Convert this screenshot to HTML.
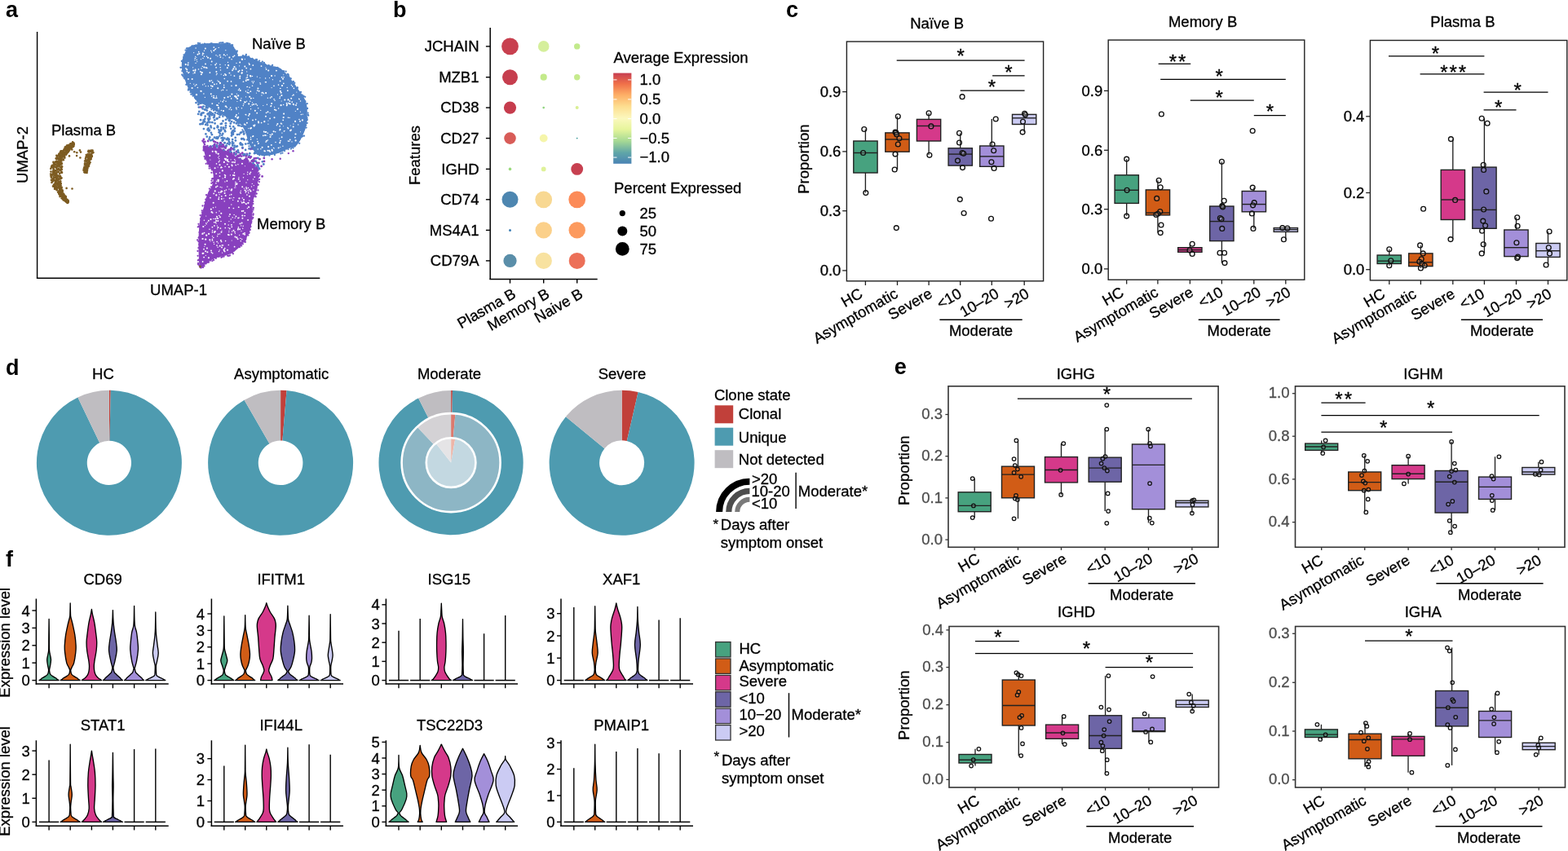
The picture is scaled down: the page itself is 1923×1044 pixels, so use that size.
<!DOCTYPE html>
<html><head><meta charset="utf-8"><title>Figure</title>
<style>html,body{margin:0;padding:0;background:#fff;overflow:hidden;}svg{display:block;}text{font-family:'Liberation Sans', Arial, sans-serif;}</style>
</head><body>
<svg width="1923" height="1044" viewBox="0 0 1923 1044">
<rect width="1923" height="1044" fill="#fff"/>
<path d="M223.8,73.1 C224.8,69.5 226.7,64.4 228.7,61.6 C230.7,58.7 232.8,57.1 235.9,55.8 C239.0,54.5 243.1,54.3 247.4,53.8 C251.7,53.3 257.0,52.9 261.8,52.9 C266.5,52.9 272.2,53.3 276.1,53.8 C280.1,54.3 283.2,54.3 285.3,55.8 C287.5,57.3 288.0,60.8 289.1,63.0 C290.2,65.2 289.8,67.9 291.9,68.8 C294.1,69.6 299.1,67.7 302.0,68.2 C304.9,68.7 306.3,70.3 309.2,71.6 C312.1,72.9 315.7,74.5 319.3,75.9 C322.9,77.4 326.9,79.1 330.8,80.3 C334.6,81.5 338.9,81.5 342.3,83.1 C345.6,84.8 348.2,87.7 350.9,90.3 C353.5,93.0 355.7,95.8 358.1,98.9 C360.5,102.1 362.9,105.7 365.3,109.0 C367.7,112.4 370.6,115.7 372.4,119.1 C374.3,122.4 375.5,125.1 376.2,129.1 C376.9,133.2 376.9,139.2 376.8,143.5 C376.6,147.8 376.0,151.7 375.3,155.0 C374.6,158.4 373.6,160.8 372.4,163.6 C371.3,166.5 369.8,169.6 368.1,172.3 C366.5,174.9 364.7,177.9 362.4,179.4 C360.1,181.0 357.2,180.6 354.3,181.7 C351.5,182.9 348.6,185.2 345.1,186.6 C341.7,188.0 337.2,189.4 333.6,190.1 C330.0,190.8 326.4,190.9 323.6,190.7 C320.8,190.4 319.1,189.4 317.0,188.4 C314.8,187.3 312.6,186.5 310.6,184.3 C308.6,182.1 306.4,178.6 304.9,175.1 C303.3,171.7 302.9,167.2 301.4,163.6 C300.0,160.0 298.1,156.1 296.3,153.6 C294.4,151.1 292.9,150.1 290.5,148.7 C288.1,147.2 284.7,146.2 281.9,144.9 C279.1,143.7 276.7,142.6 273.8,141.2 C271.0,139.8 267.6,137.9 264.6,136.3 C261.7,134.7 258.9,133.0 256.0,131.4 C253.1,129.9 249.9,128.4 247.4,126.8 C244.9,125.3 243.1,123.9 241.1,121.9 C239.0,120.0 237.1,117.9 235.3,115.3 C233.5,112.8 231.7,110.2 230.1,106.7 C228.5,103.3 227.0,98.6 225.8,94.6 C224.6,90.7 223.3,86.7 222.9,83.1 C222.6,79.5 222.8,76.7 223.8,73.1 Z" fill="#5082C6" stroke="none" stroke-width="1.2"/>
<path d="M250.0,180.0 C252.2,178.9 259.5,180.6 264.5,181.6 C269.5,182.5 275.7,184.0 280.0,185.9 C284.3,187.7 286.6,190.7 290.3,192.8 C294.1,194.8 298.7,196.4 302.4,198.3 C306.1,200.1 310.3,201.1 312.8,204.0 C315.2,206.8 316.5,212.0 317.1,215.2 C317.6,218.3 316.5,220.1 316.2,222.9 C315.9,225.8 316.1,229.1 315.3,232.4 C314.5,235.7 312.3,239.3 311.4,242.8 C310.4,246.2 310.0,249.7 309.7,253.1 C309.3,256.6 309.5,260.0 309.3,263.4 C309.1,266.9 309.0,270.3 308.4,273.8 C307.9,277.2 307.2,280.7 305.9,284.1 C304.6,287.6 302.7,291.3 300.7,294.5 C298.7,297.6 296.4,300.5 293.8,303.1 C291.2,305.7 288.0,308.3 285.2,310.0 C282.3,311.7 279.4,312.5 276.6,313.4 C273.7,314.4 270.8,314.6 267.9,315.5 C265.1,316.4 261.9,317.6 259.3,319.0 C256.7,320.3 254.4,322.3 252.4,323.8 C250.4,325.3 248.5,327.6 247.2,328.1 C245.9,328.6 245.2,329.1 244.7,326.9 C244.1,324.7 244.0,320.0 243.8,315.2 C243.6,310.3 243.4,303.7 243.4,297.9 C243.5,292.2 243.7,285.9 244.1,280.7 C244.5,275.5 245.0,270.9 245.9,266.9 C246.7,262.9 248.2,260.6 249.3,256.6 C250.5,252.5 251.6,246.5 252.8,242.8 C253.9,239.0 255.1,236.4 256.2,234.1 C257.4,231.8 258.7,231.5 259.7,229.0 C260.6,226.4 261.6,222.4 261.7,219.0 C261.8,215.5 261.6,211.5 260.3,208.3 C259.1,205.1 255.7,203.0 254.1,199.7 C252.6,196.3 251.7,191.6 251.0,188.3 C250.3,185.0 247.8,181.1 250.0,180.0 Z" fill="#8840BE" stroke="none" stroke-width="1.2"/>
<circle cx="260.4" cy="171.9" r="1.40" fill="#5082C6" stroke="none" stroke-width="1.2"/>
<circle cx="271.6" cy="177.2" r="1.40" fill="#5082C6" stroke="none" stroke-width="1.2"/>
<circle cx="262.2" cy="144.3" r="1.40" fill="#5082C6" stroke="none" stroke-width="1.2"/>
<circle cx="304.5" cy="176.1" r="1.40" fill="#5082C6" stroke="none" stroke-width="1.2"/>
<circle cx="251.7" cy="142.7" r="1.40" fill="#5082C6" stroke="none" stroke-width="1.2"/>
<circle cx="283.2" cy="157.8" r="1.40" fill="#5082C6" stroke="none" stroke-width="1.2"/>
<circle cx="270.0" cy="175.5" r="1.40" fill="#5082C6" stroke="none" stroke-width="1.2"/>
<circle cx="256.9" cy="159.7" r="1.40" fill="#5082C6" stroke="none" stroke-width="1.2"/>
<circle cx="279.2" cy="169.7" r="1.40" fill="#5082C6" stroke="none" stroke-width="1.2"/>
<circle cx="294.8" cy="176.5" r="1.40" fill="#5082C6" stroke="none" stroke-width="1.2"/>
<circle cx="287.6" cy="178.7" r="1.40" fill="#5082C6" stroke="none" stroke-width="1.2"/>
<circle cx="260.3" cy="150.2" r="1.40" fill="#5082C6" stroke="none" stroke-width="1.2"/>
<circle cx="275.4" cy="175.1" r="1.40" fill="#5082C6" stroke="none" stroke-width="1.2"/>
<circle cx="293.4" cy="164.9" r="1.40" fill="#5082C6" stroke="none" stroke-width="1.2"/>
<circle cx="300.2" cy="189.2" r="1.40" fill="#5082C6" stroke="none" stroke-width="1.2"/>
<circle cx="278.9" cy="176.2" r="1.40" fill="#5082C6" stroke="none" stroke-width="1.2"/>
<circle cx="267.3" cy="155.8" r="1.40" fill="#5082C6" stroke="none" stroke-width="1.2"/>
<circle cx="266.7" cy="156.3" r="1.40" fill="#5082C6" stroke="none" stroke-width="1.2"/>
<circle cx="260.4" cy="140.1" r="1.40" fill="#5082C6" stroke="none" stroke-width="1.2"/>
<circle cx="248.8" cy="152.1" r="1.40" fill="#5082C6" stroke="none" stroke-width="1.2"/>
<circle cx="254.5" cy="153.4" r="1.40" fill="#5082C6" stroke="none" stroke-width="1.2"/>
<circle cx="278.5" cy="143.4" r="1.40" fill="#5082C6" stroke="none" stroke-width="1.2"/>
<circle cx="294.6" cy="195.2" r="1.40" fill="#5082C6" stroke="none" stroke-width="1.2"/>
<circle cx="251.2" cy="149.4" r="1.40" fill="#5082C6" stroke="none" stroke-width="1.2"/>
<circle cx="269.6" cy="160.5" r="1.40" fill="#5082C6" stroke="none" stroke-width="1.2"/>
<circle cx="275.8" cy="159.9" r="1.40" fill="#5082C6" stroke="none" stroke-width="1.2"/>
<circle cx="303.4" cy="198.0" r="1.40" fill="#8840BE" stroke="none" stroke-width="1.2"/>
<circle cx="284.2" cy="149.1" r="1.40" fill="#5082C6" stroke="none" stroke-width="1.2"/>
<circle cx="269.1" cy="143.7" r="1.40" fill="#5082C6" stroke="none" stroke-width="1.2"/>
<circle cx="316.2" cy="203.6" r="1.40" fill="#5082C6" stroke="none" stroke-width="1.2"/>
<circle cx="254.8" cy="150.1" r="1.40" fill="#5082C6" stroke="none" stroke-width="1.2"/>
<circle cx="296.4" cy="170.2" r="1.40" fill="#5082C6" stroke="none" stroke-width="1.2"/>
<circle cx="292.1" cy="153.8" r="1.40" fill="#5082C6" stroke="none" stroke-width="1.2"/>
<circle cx="270.0" cy="141.0" r="1.40" fill="#5082C6" stroke="none" stroke-width="1.2"/>
<circle cx="318.4" cy="195.2" r="1.40" fill="#8840BE" stroke="none" stroke-width="1.2"/>
<circle cx="263.2" cy="147.3" r="1.40" fill="#5082C6" stroke="none" stroke-width="1.2"/>
<circle cx="284.9" cy="161.1" r="1.40" fill="#5082C6" stroke="none" stroke-width="1.2"/>
<circle cx="251.0" cy="134.5" r="1.40" fill="#5082C6" stroke="none" stroke-width="1.2"/>
<circle cx="282.8" cy="151.5" r="1.40" fill="#5082C6" stroke="none" stroke-width="1.2"/>
<circle cx="266.9" cy="154.7" r="1.40" fill="#5082C6" stroke="none" stroke-width="1.2"/>
<circle cx="295.1" cy="175.7" r="1.40" fill="#5082C6" stroke="none" stroke-width="1.2"/>
<circle cx="270.8" cy="140.4" r="1.40" fill="#5082C6" stroke="none" stroke-width="1.2"/>
<circle cx="287.3" cy="187.2" r="1.40" fill="#5082C6" stroke="none" stroke-width="1.2"/>
<circle cx="247.0" cy="139.3" r="1.40" fill="#5082C6" stroke="none" stroke-width="1.2"/>
<circle cx="271.9" cy="177.3" r="1.40" fill="#5082C6" stroke="none" stroke-width="1.2"/>
<circle cx="276.8" cy="156.6" r="1.40" fill="#5082C6" stroke="none" stroke-width="1.2"/>
<circle cx="282.3" cy="186.0" r="1.40" fill="#5082C6" stroke="none" stroke-width="1.2"/>
<circle cx="299.1" cy="164.5" r="1.40" fill="#5082C6" stroke="none" stroke-width="1.2"/>
<circle cx="261.0" cy="171.1" r="1.40" fill="#5082C6" stroke="none" stroke-width="1.2"/>
<circle cx="276.2" cy="161.3" r="1.40" fill="#5082C6" stroke="none" stroke-width="1.2"/>
<circle cx="314.8" cy="206.9" r="1.40" fill="#5082C6" stroke="none" stroke-width="1.2"/>
<circle cx="316.3" cy="193.9" r="1.40" fill="#5082C6" stroke="none" stroke-width="1.2"/>
<circle cx="309.2" cy="182.4" r="1.40" fill="#8840BE" stroke="none" stroke-width="1.2"/>
<circle cx="307.4" cy="182.9" r="1.40" fill="#8840BE" stroke="none" stroke-width="1.2"/>
<circle cx="243.9" cy="131.6" r="1.40" fill="#5082C6" stroke="none" stroke-width="1.2"/>
<circle cx="283.6" cy="187.1" r="1.40" fill="#5082C6" stroke="none" stroke-width="1.2"/>
<circle cx="245.4" cy="152.3" r="1.40" fill="#5082C6" stroke="none" stroke-width="1.2"/>
<circle cx="260.7" cy="139.4" r="1.40" fill="#5082C6" stroke="none" stroke-width="1.2"/>
<circle cx="271.4" cy="158.7" r="1.40" fill="#5082C6" stroke="none" stroke-width="1.2"/>
<circle cx="269.9" cy="160.7" r="1.40" fill="#5082C6" stroke="none" stroke-width="1.2"/>
<circle cx="298.8" cy="190.8" r="1.40" fill="#8840BE" stroke="none" stroke-width="1.2"/>
<circle cx="284.0" cy="166.5" r="1.40" fill="#5082C6" stroke="none" stroke-width="1.2"/>
<circle cx="252.9" cy="131.9" r="1.40" fill="#5082C6" stroke="none" stroke-width="1.2"/>
<circle cx="284.1" cy="162.9" r="1.40" fill="#5082C6" stroke="none" stroke-width="1.2"/>
<circle cx="262.9" cy="141.1" r="1.40" fill="#5082C6" stroke="none" stroke-width="1.2"/>
<circle cx="289.9" cy="151.4" r="1.40" fill="#5082C6" stroke="none" stroke-width="1.2"/>
<circle cx="262.9" cy="142.8" r="1.40" fill="#5082C6" stroke="none" stroke-width="1.2"/>
<circle cx="270.8" cy="152.1" r="1.40" fill="#5082C6" stroke="none" stroke-width="1.2"/>
<circle cx="291.0" cy="165.1" r="1.40" fill="#5082C6" stroke="none" stroke-width="1.2"/>
<circle cx="311.0" cy="196.6" r="1.40" fill="#5082C6" stroke="none" stroke-width="1.2"/>
<circle cx="256.3" cy="146.4" r="1.40" fill="#5082C6" stroke="none" stroke-width="1.2"/>
<circle cx="313.0" cy="203.6" r="1.40" fill="#5082C6" stroke="none" stroke-width="1.2"/>
<circle cx="247.5" cy="131.6" r="1.40" fill="#5082C6" stroke="none" stroke-width="1.2"/>
<circle cx="270.4" cy="175.1" r="1.40" fill="#5082C6" stroke="none" stroke-width="1.2"/>
<circle cx="268.6" cy="162.3" r="1.40" fill="#5082C6" stroke="none" stroke-width="1.2"/>
<circle cx="273.3" cy="171.9" r="1.40" fill="#5082C6" stroke="none" stroke-width="1.2"/>
<circle cx="250.3" cy="147.9" r="1.40" fill="#5082C6" stroke="none" stroke-width="1.2"/>
<circle cx="315.4" cy="204.4" r="1.40" fill="#5082C6" stroke="none" stroke-width="1.2"/>
<circle cx="305.7" cy="190.9" r="1.40" fill="#5082C6" stroke="none" stroke-width="1.2"/>
<circle cx="297.5" cy="181.7" r="1.40" fill="#8840BE" stroke="none" stroke-width="1.2"/>
<circle cx="282.1" cy="154.8" r="1.40" fill="#5082C6" stroke="none" stroke-width="1.2"/>
<circle cx="301.1" cy="183.9" r="1.40" fill="#5082C6" stroke="none" stroke-width="1.2"/>
<circle cx="252.2" cy="152.9" r="1.40" fill="#5082C6" stroke="none" stroke-width="1.2"/>
<circle cx="301.3" cy="176.6" r="1.40" fill="#5082C6" stroke="none" stroke-width="1.2"/>
<circle cx="287.3" cy="181.1" r="1.40" fill="#5082C6" stroke="none" stroke-width="1.2"/>
<circle cx="266.7" cy="139.1" r="1.40" fill="#5082C6" stroke="none" stroke-width="1.2"/>
<circle cx="262.7" cy="157.6" r="1.40" fill="#5082C6" stroke="none" stroke-width="1.2"/>
<circle cx="268.4" cy="159.3" r="1.40" fill="#5082C6" stroke="none" stroke-width="1.2"/>
<circle cx="249.7" cy="147.5" r="1.40" fill="#5082C6" stroke="none" stroke-width="1.2"/>
<circle cx="248.6" cy="133.4" r="1.40" fill="#5082C6" stroke="none" stroke-width="1.2"/>
<circle cx="306.3" cy="188.2" r="1.40" fill="#5082C6" stroke="none" stroke-width="1.2"/>
<circle cx="256.2" cy="160.5" r="1.40" fill="#5082C6" stroke="none" stroke-width="1.2"/>
<circle cx="303.2" cy="196.1" r="1.40" fill="#8840BE" stroke="none" stroke-width="1.2"/>
<circle cx="284.9" cy="174.0" r="1.40" fill="#5082C6" stroke="none" stroke-width="1.2"/>
<circle cx="257.3" cy="145.7" r="1.40" fill="#5082C6" stroke="none" stroke-width="1.2"/>
<circle cx="308.3" cy="202.8" r="1.40" fill="#8840BE" stroke="none" stroke-width="1.2"/>
<circle cx="272.7" cy="172.6" r="1.40" fill="#5082C6" stroke="none" stroke-width="1.2"/>
<circle cx="289.6" cy="179.9" r="1.40" fill="#5082C6" stroke="none" stroke-width="1.2"/>
<circle cx="281.2" cy="177.0" r="1.40" fill="#5082C6" stroke="none" stroke-width="1.2"/>
<circle cx="305.5" cy="182.4" r="1.40" fill="#5082C6" stroke="none" stroke-width="1.2"/>
<circle cx="284.6" cy="164.4" r="1.40" fill="#5082C6" stroke="none" stroke-width="1.2"/>
<circle cx="256.6" cy="170.6" r="1.40" fill="#5082C6" stroke="none" stroke-width="1.2"/>
<circle cx="295.0" cy="163.0" r="1.40" fill="#5082C6" stroke="none" stroke-width="1.2"/>
<circle cx="246.8" cy="141.2" r="1.40" fill="#5082C6" stroke="none" stroke-width="1.2"/>
<circle cx="253.8" cy="167.7" r="1.40" fill="#5082C6" stroke="none" stroke-width="1.2"/>
<circle cx="299.5" cy="171.3" r="1.40" fill="#5082C6" stroke="none" stroke-width="1.2"/>
<circle cx="276.0" cy="181.2" r="1.40" fill="#5082C6" stroke="none" stroke-width="1.2"/>
<circle cx="271.3" cy="156.4" r="1.40" fill="#5082C6" stroke="none" stroke-width="1.2"/>
<circle cx="285.1" cy="176.5" r="1.40" fill="#5082C6" stroke="none" stroke-width="1.2"/>
<circle cx="252.4" cy="164.4" r="1.40" fill="#5082C6" stroke="none" stroke-width="1.2"/>
<circle cx="256.8" cy="142.0" r="1.40" fill="#5082C6" stroke="none" stroke-width="1.2"/>
<circle cx="254.7" cy="159.4" r="1.40" fill="#5082C6" stroke="none" stroke-width="1.2"/>
<circle cx="249.5" cy="138.4" r="1.40" fill="#5082C6" stroke="none" stroke-width="1.2"/>
<circle cx="265.7" cy="145.7" r="1.40" fill="#5082C6" stroke="none" stroke-width="1.2"/>
<circle cx="293.5" cy="154.1" r="1.40" fill="#5082C6" stroke="none" stroke-width="1.2"/>
<circle cx="240.5" cy="126.1" r="1.40" fill="#5082C6" stroke="none" stroke-width="1.2"/>
<circle cx="247.9" cy="138.6" r="1.40" fill="#5082C6" stroke="none" stroke-width="1.2"/>
<circle cx="243.3" cy="128.2" r="1.40" fill="#5082C6" stroke="none" stroke-width="1.2"/>
<circle cx="318.0" cy="207.2" r="1.40" fill="#5082C6" stroke="none" stroke-width="1.2"/>
<circle cx="249.9" cy="158.1" r="1.40" fill="#5082C6" stroke="none" stroke-width="1.2"/>
<circle cx="302.9" cy="188.8" r="1.40" fill="#8840BE" stroke="none" stroke-width="1.2"/>
<circle cx="271.0" cy="160.3" r="1.40" fill="#5082C6" stroke="none" stroke-width="1.2"/>
<circle cx="281.0" cy="147.4" r="1.40" fill="#5082C6" stroke="none" stroke-width="1.2"/>
<circle cx="291.6" cy="186.7" r="1.40" fill="#5082C6" stroke="none" stroke-width="1.2"/>
<circle cx="316.3" cy="188.7" r="1.40" fill="#5082C6" stroke="none" stroke-width="1.2"/>
<circle cx="249.5" cy="130.6" r="1.40" fill="#5082C6" stroke="none" stroke-width="1.2"/>
<circle cx="244.3" cy="137.0" r="1.40" fill="#5082C6" stroke="none" stroke-width="1.2"/>
<circle cx="294.9" cy="175.6" r="1.40" fill="#5082C6" stroke="none" stroke-width="1.2"/>
<circle cx="287.9" cy="160.8" r="1.40" fill="#5082C6" stroke="none" stroke-width="1.2"/>
<circle cx="256.1" cy="139.2" r="1.40" fill="#5082C6" stroke="none" stroke-width="1.2"/>
<circle cx="294.6" cy="191.2" r="1.40" fill="#8840BE" stroke="none" stroke-width="1.2"/>
<circle cx="269.5" cy="177.1" r="1.40" fill="#5082C6" stroke="none" stroke-width="1.2"/>
<circle cx="285.9" cy="164.8" r="1.40" fill="#5082C6" stroke="none" stroke-width="1.2"/>
<circle cx="269.5" cy="166.6" r="1.40" fill="#5082C6" stroke="none" stroke-width="1.2"/>
<circle cx="295.2" cy="177.4" r="1.40" fill="#5082C6" stroke="none" stroke-width="1.2"/>
<circle cx="258.4" cy="154.6" r="1.40" fill="#5082C6" stroke="none" stroke-width="1.2"/>
<circle cx="258.7" cy="138.1" r="1.40" fill="#5082C6" stroke="none" stroke-width="1.2"/>
<circle cx="285.6" cy="160.7" r="1.40" fill="#5082C6" stroke="none" stroke-width="1.2"/>
<circle cx="320.6" cy="203.9" r="1.40" fill="#8840BE" stroke="none" stroke-width="1.2"/>
<circle cx="265.2" cy="169.7" r="1.40" fill="#5082C6" stroke="none" stroke-width="1.2"/>
<circle cx="276.9" cy="154.1" r="1.40" fill="#5082C6" stroke="none" stroke-width="1.2"/>
<circle cx="303.1" cy="189.9" r="1.40" fill="#5082C6" stroke="none" stroke-width="1.2"/>
<circle cx="249.0" cy="150.1" r="1.40" fill="#5082C6" stroke="none" stroke-width="1.2"/>
<circle cx="323.3" cy="201.5" r="1.40" fill="#5082C6" stroke="none" stroke-width="1.2"/>
<circle cx="253.9" cy="151.2" r="1.40" fill="#5082C6" stroke="none" stroke-width="1.2"/>
<circle cx="279.5" cy="170.3" r="1.40" fill="#5082C6" stroke="none" stroke-width="1.2"/>
<circle cx="286.2" cy="155.4" r="1.40" fill="#5082C6" stroke="none" stroke-width="1.2"/>
<circle cx="285.2" cy="171.1" r="1.40" fill="#5082C6" stroke="none" stroke-width="1.2"/>
<circle cx="243.2" cy="139.9" r="1.40" fill="#5082C6" stroke="none" stroke-width="1.2"/>
<circle cx="266.6" cy="145.4" r="1.40" fill="#5082C6" stroke="none" stroke-width="1.2"/>
<circle cx="276.6" cy="179.3" r="1.40" fill="#5082C6" stroke="none" stroke-width="1.2"/>
<circle cx="263.9" cy="138.4" r="1.40" fill="#5082C6" stroke="none" stroke-width="1.2"/>
<circle cx="316.3" cy="204.1" r="1.40" fill="#5082C6" stroke="none" stroke-width="1.2"/>
<circle cx="275.3" cy="169.6" r="1.40" fill="#5082C6" stroke="none" stroke-width="1.2"/>
<circle cx="254.7" cy="139.7" r="1.40" fill="#5082C6" stroke="none" stroke-width="1.2"/>
<circle cx="286.6" cy="159.8" r="1.40" fill="#5082C6" stroke="none" stroke-width="1.2"/>
<circle cx="270.0" cy="163.9" r="1.40" fill="#5082C6" stroke="none" stroke-width="1.2"/>
<circle cx="266.9" cy="169.9" r="1.40" fill="#5082C6" stroke="none" stroke-width="1.2"/>
<circle cx="288.9" cy="172.4" r="1.40" fill="#5082C6" stroke="none" stroke-width="1.2"/>
<circle cx="281.5" cy="148.3" r="1.40" fill="#5082C6" stroke="none" stroke-width="1.2"/>
<circle cx="271.7" cy="169.3" r="1.40" fill="#5082C6" stroke="none" stroke-width="1.2"/>
<circle cx="316.2" cy="209.0" r="1.40" fill="#8840BE" stroke="none" stroke-width="1.2"/>
<circle cx="255.6" cy="157.5" r="1.40" fill="#5082C6" stroke="none" stroke-width="1.2"/>
<circle cx="273.5" cy="148.5" r="1.40" fill="#5082C6" stroke="none" stroke-width="1.2"/>
<circle cx="251.3" cy="145.7" r="1.40" fill="#5082C6" stroke="none" stroke-width="1.2"/>
<circle cx="259.7" cy="141.2" r="1.40" fill="#5082C6" stroke="none" stroke-width="1.2"/>
<circle cx="303.2" cy="198.1" r="1.40" fill="#8840BE" stroke="none" stroke-width="1.2"/>
<circle cx="246.1" cy="147.2" r="1.40" fill="#5082C6" stroke="none" stroke-width="1.2"/>
<circle cx="281.1" cy="147.3" r="1.40" fill="#5082C6" stroke="none" stroke-width="1.2"/>
<circle cx="297.4" cy="181.0" r="1.40" fill="#5082C6" stroke="none" stroke-width="1.2"/>
<circle cx="255.1" cy="140.3" r="1.40" fill="#5082C6" stroke="none" stroke-width="1.2"/>
<circle cx="310.0" cy="201.4" r="1.40" fill="#5082C6" stroke="none" stroke-width="1.2"/>
<circle cx="252.5" cy="134.7" r="1.40" fill="#5082C6" stroke="none" stroke-width="1.2"/>
<circle cx="246.7" cy="140.5" r="1.40" fill="#5082C6" stroke="none" stroke-width="1.2"/>
<circle cx="279.6" cy="171.3" r="1.40" fill="#5082C6" stroke="none" stroke-width="1.2"/>
<circle cx="277.7" cy="171.0" r="1.40" fill="#5082C6" stroke="none" stroke-width="1.2"/>
<circle cx="321.9" cy="198.3" r="1.40" fill="#5082C6" stroke="none" stroke-width="1.2"/>
<circle cx="262.7" cy="141.4" r="1.40" fill="#5082C6" stroke="none" stroke-width="1.2"/>
<circle cx="314.0" cy="194.2" r="1.40" fill="#8840BE" stroke="none" stroke-width="1.2"/>
<circle cx="298.3" cy="170.2" r="1.40" fill="#5082C6" stroke="none" stroke-width="1.2"/>
<circle cx="286.0" cy="162.7" r="1.40" fill="#5082C6" stroke="none" stroke-width="1.2"/>
<circle cx="267.6" cy="168.5" r="1.40" fill="#5082C6" stroke="none" stroke-width="1.2"/>
<circle cx="271.9" cy="151.7" r="1.40" fill="#5082C6" stroke="none" stroke-width="1.2"/>
<circle cx="270.6" cy="177.0" r="1.40" fill="#5082C6" stroke="none" stroke-width="1.2"/>
<circle cx="313.3" cy="197.8" r="1.40" fill="#5082C6" stroke="none" stroke-width="1.2"/>
<circle cx="280.7" cy="170.7" r="1.40" fill="#5082C6" stroke="none" stroke-width="1.2"/>
<circle cx="285.0" cy="162.7" r="1.40" fill="#5082C6" stroke="none" stroke-width="1.2"/>
<circle cx="258.4" cy="172.3" r="1.40" fill="#5082C6" stroke="none" stroke-width="1.2"/>
<circle cx="313.8" cy="186.8" r="1.40" fill="#5082C6" stroke="none" stroke-width="1.2"/>
<circle cx="265.7" cy="168.4" r="1.40" fill="#5082C6" stroke="none" stroke-width="1.2"/>
<circle cx="274.0" cy="156.6" r="1.40" fill="#5082C6" stroke="none" stroke-width="1.2"/>
<circle cx="258.8" cy="156.4" r="1.40" fill="#5082C6" stroke="none" stroke-width="1.2"/>
<circle cx="247.1" cy="152.0" r="1.40" fill="#5082C6" stroke="none" stroke-width="1.2"/>
<circle cx="310.5" cy="198.0" r="1.40" fill="#8840BE" stroke="none" stroke-width="1.2"/>
<circle cx="272.3" cy="165.8" r="1.40" fill="#5082C6" stroke="none" stroke-width="1.2"/>
<circle cx="255.8" cy="147.8" r="1.40" fill="#5082C6" stroke="none" stroke-width="1.2"/>
<circle cx="273.2" cy="169.0" r="1.40" fill="#5082C6" stroke="none" stroke-width="1.2"/>
<circle cx="276.9" cy="179.4" r="1.40" fill="#5082C6" stroke="none" stroke-width="1.2"/>
<circle cx="296.2" cy="162.3" r="1.40" fill="#5082C6" stroke="none" stroke-width="1.2"/>
<circle cx="275.7" cy="175.3" r="1.40" fill="#5082C6" stroke="none" stroke-width="1.2"/>
<circle cx="259.9" cy="165.2" r="1.40" fill="#5082C6" stroke="none" stroke-width="1.2"/>
<circle cx="296.3" cy="170.5" r="1.40" fill="#5082C6" stroke="none" stroke-width="1.2"/>
<circle cx="257.4" cy="150.0" r="1.40" fill="#5082C6" stroke="none" stroke-width="1.2"/>
<circle cx="285.3" cy="178.6" r="1.40" fill="#5082C6" stroke="none" stroke-width="1.2"/>
<circle cx="317.4" cy="199.8" r="1.40" fill="#8840BE" stroke="none" stroke-width="1.2"/>
<circle cx="276.9" cy="151.2" r="1.40" fill="#5082C6" stroke="none" stroke-width="1.2"/>
<circle cx="258.2" cy="140.0" r="1.40" fill="#5082C6" stroke="none" stroke-width="1.2"/>
<circle cx="274.2" cy="158.1" r="1.40" fill="#5082C6" stroke="none" stroke-width="1.2"/>
<circle cx="255.3" cy="145.7" r="1.40" fill="#5082C6" stroke="none" stroke-width="1.2"/>
<circle cx="258.9" cy="162.8" r="1.40" fill="#5082C6" stroke="none" stroke-width="1.2"/>
<circle cx="297.1" cy="177.7" r="1.40" fill="#5082C6" stroke="none" stroke-width="1.2"/>
<circle cx="273.6" cy="171.5" r="1.40" fill="#5082C6" stroke="none" stroke-width="1.2"/>
<circle cx="290.9" cy="179.4" r="1.40" fill="#5082C6" stroke="none" stroke-width="1.2"/>
<circle cx="306.9" cy="200.0" r="1.40" fill="#5082C6" stroke="none" stroke-width="1.2"/>
<circle cx="280.7" cy="171.5" r="1.40" fill="#5082C6" stroke="none" stroke-width="1.2"/>
<circle cx="282.0" cy="175.3" r="1.40" fill="#5082C6" stroke="none" stroke-width="1.2"/>
<circle cx="287.1" cy="150.4" r="1.40" fill="#5082C6" stroke="none" stroke-width="1.2"/>
<circle cx="315.9" cy="202.2" r="1.40" fill="#5082C6" stroke="none" stroke-width="1.2"/>
<circle cx="324.0" cy="197.9" r="1.40" fill="#8840BE" stroke="none" stroke-width="1.2"/>
<circle cx="297.7" cy="188.9" r="1.40" fill="#5082C6" stroke="none" stroke-width="1.2"/>
<circle cx="280.8" cy="173.9" r="1.40" fill="#5082C6" stroke="none" stroke-width="1.2"/>
<circle cx="287.9" cy="157.7" r="1.40" fill="#5082C6" stroke="none" stroke-width="1.2"/>
<circle cx="254.8" cy="158.5" r="1.40" fill="#5082C6" stroke="none" stroke-width="1.2"/>
<circle cx="256.8" cy="159.8" r="1.40" fill="#5082C6" stroke="none" stroke-width="1.2"/>
<circle cx="257.3" cy="168.4" r="1.40" fill="#5082C6" stroke="none" stroke-width="1.2"/>
<circle cx="254.4" cy="132.4" r="1.40" fill="#5082C6" stroke="none" stroke-width="1.2"/>
<circle cx="263.6" cy="151.4" r="1.40" fill="#5082C6" stroke="none" stroke-width="1.2"/>
<circle cx="277.0" cy="146.8" r="1.40" fill="#5082C6" stroke="none" stroke-width="1.2"/>
<circle cx="288.7" cy="168.9" r="1.40" fill="#5082C6" stroke="none" stroke-width="1.2"/>
<circle cx="257.1" cy="143.3" r="1.40" fill="#5082C6" stroke="none" stroke-width="1.2"/>
<circle cx="323.8" cy="193.9" r="1.40" fill="#8840BE" stroke="none" stroke-width="1.2"/>
<circle cx="299.9" cy="190.3" r="1.40" fill="#5082C6" stroke="none" stroke-width="1.2"/>
<circle cx="263.0" cy="168.7" r="1.40" fill="#5082C6" stroke="none" stroke-width="1.2"/>
<circle cx="298.5" cy="161.5" r="1.40" fill="#5082C6" stroke="none" stroke-width="1.2"/>
<circle cx="286.3" cy="175.6" r="1.40" fill="#5082C6" stroke="none" stroke-width="1.2"/>
<circle cx="312.1" cy="188.2" r="1.40" fill="#5082C6" stroke="none" stroke-width="1.2"/>
<circle cx="257.4" cy="137.5" r="1.40" fill="#5082C6" stroke="none" stroke-width="1.2"/>
<circle cx="296.9" cy="177.2" r="1.40" fill="#5082C6" stroke="none" stroke-width="1.2"/>
<circle cx="253.9" cy="135.6" r="1.40" fill="#5082C6" stroke="none" stroke-width="1.2"/>
<circle cx="273.3" cy="164.0" r="1.40" fill="#5082C6" stroke="none" stroke-width="1.2"/>
<circle cx="272.3" cy="180.3" r="1.40" fill="#8840BE" stroke="none" stroke-width="1.2"/>
<circle cx="249.9" cy="170.8" r="1.40" fill="#8840BE" stroke="none" stroke-width="1.2"/>
<circle cx="302.6" cy="194.7" r="1.40" fill="#8840BE" stroke="none" stroke-width="1.2"/>
<circle cx="307.0" cy="193.6" r="1.40" fill="#8840BE" stroke="none" stroke-width="1.2"/>
<circle cx="294.3" cy="190.7" r="1.40" fill="#8840BE" stroke="none" stroke-width="1.2"/>
<circle cx="283.7" cy="181.4" r="1.40" fill="#5082C6" stroke="none" stroke-width="1.2"/>
<circle cx="283.1" cy="184.0" r="1.40" fill="#8840BE" stroke="none" stroke-width="1.2"/>
<circle cx="262.3" cy="173.5" r="1.40" fill="#8840BE" stroke="none" stroke-width="1.2"/>
<circle cx="248.6" cy="172.8" r="1.40" fill="#8840BE" stroke="none" stroke-width="1.2"/>
<circle cx="300.8" cy="196.5" r="1.40" fill="#8840BE" stroke="none" stroke-width="1.2"/>
<circle cx="283.2" cy="181.9" r="1.40" fill="#8840BE" stroke="none" stroke-width="1.2"/>
<circle cx="266.0" cy="178.2" r="1.40" fill="#8840BE" stroke="none" stroke-width="1.2"/>
<circle cx="290.0" cy="185.9" r="1.40" fill="#8840BE" stroke="none" stroke-width="1.2"/>
<circle cx="264.4" cy="180.5" r="1.40" fill="#8840BE" stroke="none" stroke-width="1.2"/>
<circle cx="304.9" cy="192.6" r="1.40" fill="#8840BE" stroke="none" stroke-width="1.2"/>
<circle cx="258.9" cy="179.9" r="1.40" fill="#5082C6" stroke="none" stroke-width="1.2"/>
<circle cx="279.4" cy="184.7" r="1.40" fill="#8840BE" stroke="none" stroke-width="1.2"/>
<circle cx="266.2" cy="180.2" r="1.40" fill="#5082C6" stroke="none" stroke-width="1.2"/>
<circle cx="289.6" cy="188.7" r="1.40" fill="#8840BE" stroke="none" stroke-width="1.2"/>
<circle cx="317.3" cy="205.8" r="1.40" fill="#5082C6" stroke="none" stroke-width="1.2"/>
<circle cx="263.2" cy="177.0" r="1.40" fill="#5082C6" stroke="none" stroke-width="1.2"/>
<circle cx="266.7" cy="175.5" r="1.40" fill="#8840BE" stroke="none" stroke-width="1.2"/>
<circle cx="273.6" cy="177.7" r="1.40" fill="#8840BE" stroke="none" stroke-width="1.2"/>
<circle cx="288.4" cy="189.1" r="1.40" fill="#8840BE" stroke="none" stroke-width="1.2"/>
<circle cx="305.0" cy="192.8" r="1.40" fill="#8840BE" stroke="none" stroke-width="1.2"/>
<circle cx="283.6" cy="187.9" r="1.40" fill="#8840BE" stroke="none" stroke-width="1.2"/>
<circle cx="250.2" cy="179.7" r="1.40" fill="#8840BE" stroke="none" stroke-width="1.2"/>
<circle cx="269.0" cy="180.8" r="1.40" fill="#8840BE" stroke="none" stroke-width="1.2"/>
<circle cx="302.2" cy="198.2" r="1.40" fill="#8840BE" stroke="none" stroke-width="1.2"/>
<circle cx="264.2" cy="174.3" r="1.40" fill="#8840BE" stroke="none" stroke-width="1.2"/>
<circle cx="292.6" cy="187.1" r="1.40" fill="#5082C6" stroke="none" stroke-width="1.2"/>
<circle cx="296.3" cy="191.6" r="1.40" fill="#8840BE" stroke="none" stroke-width="1.2"/>
<circle cx="261.3" cy="179.1" r="1.40" fill="#5082C6" stroke="none" stroke-width="1.2"/>
<circle cx="311.8" cy="194.5" r="1.40" fill="#8840BE" stroke="none" stroke-width="1.2"/>
<circle cx="250.9" cy="177.1" r="1.40" fill="#8840BE" stroke="none" stroke-width="1.2"/>
<circle cx="311.2" cy="197.5" r="1.40" fill="#8840BE" stroke="none" stroke-width="1.2"/>
<circle cx="308.8" cy="197.5" r="1.40" fill="#8840BE" stroke="none" stroke-width="1.2"/>
<circle cx="270.8" cy="175.4" r="1.40" fill="#8840BE" stroke="none" stroke-width="1.2"/>
<circle cx="290.4" cy="192.4" r="1.40" fill="#5082C6" stroke="none" stroke-width="1.2"/>
<circle cx="313.7" cy="197.8" r="1.40" fill="#5082C6" stroke="none" stroke-width="1.2"/>
<circle cx="277.2" cy="179.4" r="1.40" fill="#8840BE" stroke="none" stroke-width="1.2"/>
<circle cx="274.5" cy="184.1" r="1.40" fill="#5082C6" stroke="none" stroke-width="1.2"/>
<circle cx="297.2" cy="187.7" r="1.40" fill="#8840BE" stroke="none" stroke-width="1.2"/>
<circle cx="286.4" cy="183.3" r="1.40" fill="#5082C6" stroke="none" stroke-width="1.2"/>
<circle cx="268.7" cy="178.9" r="1.40" fill="#8840BE" stroke="none" stroke-width="1.2"/>
<circle cx="309.1" cy="201.0" r="1.40" fill="#8840BE" stroke="none" stroke-width="1.2"/>
<circle cx="301.5" cy="194.7" r="1.40" fill="#8840BE" stroke="none" stroke-width="1.2"/>
<circle cx="291.8" cy="191.1" r="1.40" fill="#8840BE" stroke="none" stroke-width="1.2"/>
<circle cx="307.8" cy="192.3" r="1.40" fill="#8840BE" stroke="none" stroke-width="1.2"/>
<circle cx="291.8" cy="186.3" r="1.40" fill="#8840BE" stroke="none" stroke-width="1.2"/>
<circle cx="309.3" cy="197.5" r="1.40" fill="#8840BE" stroke="none" stroke-width="1.2"/>
<circle cx="321.6" cy="216.4" r="1.40" fill="#8840BE" stroke="none" stroke-width="1.2"/>
<circle cx="262.7" cy="180.4" r="1.40" fill="#8840BE" stroke="none" stroke-width="1.2"/>
<circle cx="263.0" cy="177.7" r="1.40" fill="#8840BE" stroke="none" stroke-width="1.2"/>
<circle cx="300.2" cy="196.6" r="1.40" fill="#8840BE" stroke="none" stroke-width="1.2"/>
<circle cx="250.0" cy="174.8" r="1.40" fill="#8840BE" stroke="none" stroke-width="1.2"/>
<circle cx="310.2" cy="196.3" r="1.40" fill="#5082C6" stroke="none" stroke-width="1.2"/>
<circle cx="299.8" cy="196.4" r="1.40" fill="#8840BE" stroke="none" stroke-width="1.2"/>
<circle cx="249.9" cy="173.8" r="1.40" fill="#8840BE" stroke="none" stroke-width="1.2"/>
<circle cx="276.6" cy="181.6" r="1.40" fill="#8840BE" stroke="none" stroke-width="1.2"/>
<circle cx="291.2" cy="191.9" r="1.40" fill="#8840BE" stroke="none" stroke-width="1.2"/>
<circle cx="315.5" cy="207.9" r="1.40" fill="#5082C6" stroke="none" stroke-width="1.2"/>
<circle cx="306.9" cy="199.8" r="1.40" fill="#8840BE" stroke="none" stroke-width="1.2"/>
<circle cx="255.2" cy="173.0" r="1.40" fill="#8840BE" stroke="none" stroke-width="1.2"/>
<circle cx="289.0" cy="189.4" r="1.40" fill="#5082C6" stroke="none" stroke-width="1.2"/>
<circle cx="273.5" cy="178.0" r="1.40" fill="#8840BE" stroke="none" stroke-width="1.2"/>
<circle cx="277.6" cy="178.7" r="1.40" fill="#5082C6" stroke="none" stroke-width="1.2"/>
<circle cx="263.1" cy="177.7" r="1.40" fill="#8840BE" stroke="none" stroke-width="1.2"/>
<circle cx="309.7" cy="197.1" r="1.40" fill="#8840BE" stroke="none" stroke-width="1.2"/>
<circle cx="270.7" cy="179.0" r="1.40" fill="#5082C6" stroke="none" stroke-width="1.2"/>
<circle cx="311.4" cy="197.1" r="1.40" fill="#8840BE" stroke="none" stroke-width="1.2"/>
<circle cx="285.6" cy="182.7" r="1.40" fill="#8840BE" stroke="none" stroke-width="1.2"/>
<circle cx="274.2" cy="180.2" r="1.40" fill="#8840BE" stroke="none" stroke-width="1.2"/>
<circle cx="257.5" cy="179.9" r="1.40" fill="#5082C6" stroke="none" stroke-width="1.2"/>
<circle cx="263.9" cy="181.1" r="1.40" fill="#8840BE" stroke="none" stroke-width="1.2"/>
<circle cx="292.8" cy="191.0" r="1.40" fill="#8840BE" stroke="none" stroke-width="1.2"/>
<circle cx="282.4" cy="186.0" r="1.40" fill="#5082C6" stroke="none" stroke-width="1.2"/>
<circle cx="287.3" cy="183.6" r="1.40" fill="#5082C6" stroke="none" stroke-width="1.2"/>
<circle cx="286.7" cy="188.7" r="1.40" fill="#8840BE" stroke="none" stroke-width="1.2"/>
<circle cx="272.0" cy="179.9" r="1.40" fill="#8840BE" stroke="none" stroke-width="1.2"/>
<circle cx="291.9" cy="184.3" r="1.40" fill="#5082C6" stroke="none" stroke-width="1.2"/>
<circle cx="315.4" cy="207.5" r="1.40" fill="#8840BE" stroke="none" stroke-width="1.2"/>
<circle cx="270.7" cy="179.5" r="1.40" fill="#8840BE" stroke="none" stroke-width="1.2"/>
<circle cx="291.8" cy="186.5" r="1.40" fill="#5082C6" stroke="none" stroke-width="1.2"/>
<circle cx="311.0" cy="202.6" r="1.40" fill="#8840BE" stroke="none" stroke-width="1.2"/>
<circle cx="315.1" cy="199.7" r="1.40" fill="#8840BE" stroke="none" stroke-width="1.2"/>
<circle cx="281.1" cy="183.6" r="1.40" fill="#8840BE" stroke="none" stroke-width="1.2"/>
<circle cx="265.7" cy="178.7" r="1.40" fill="#5082C6" stroke="none" stroke-width="1.2"/>
<circle cx="251.4" cy="173.9" r="1.40" fill="#8840BE" stroke="none" stroke-width="1.2"/>
<circle cx="314.5" cy="205.7" r="1.40" fill="#8840BE" stroke="none" stroke-width="1.2"/>
<circle cx="268.5" cy="181.5" r="1.40" fill="#8840BE" stroke="none" stroke-width="1.2"/>
<circle cx="294.7" cy="189.0" r="1.40" fill="#8840BE" stroke="none" stroke-width="1.2"/>
<circle cx="270.5" cy="182.9" r="1.40" fill="#8840BE" stroke="none" stroke-width="1.2"/>
<circle cx="301.8" cy="191.5" r="1.40" fill="#8840BE" stroke="none" stroke-width="1.2"/>
<circle cx="310.6" cy="200.4" r="1.40" fill="#5082C6" stroke="none" stroke-width="1.2"/>
<circle cx="376.6" cy="151.0" r="1.15" fill="#5082C6" stroke="none" stroke-width="1.2"/>
<circle cx="300.8" cy="69.1" r="1.15" fill="#5082C6" stroke="none" stroke-width="1.2"/>
<circle cx="269.3" cy="137.5" r="1.15" fill="#5082C6" stroke="none" stroke-width="1.2"/>
<circle cx="247.6" cy="126.7" r="1.15" fill="#5082C6" stroke="none" stroke-width="1.2"/>
<circle cx="297.5" cy="154.6" r="1.15" fill="#5082C6" stroke="none" stroke-width="1.2"/>
<circle cx="364.5" cy="107.6" r="1.15" fill="#5082C6" stroke="none" stroke-width="1.2"/>
<circle cx="262.0" cy="135.4" r="1.15" fill="#5082C6" stroke="none" stroke-width="1.2"/>
<circle cx="351.6" cy="182.6" r="1.15" fill="#5082C6" stroke="none" stroke-width="1.2"/>
<circle cx="225.2" cy="69.9" r="1.15" fill="#5082C6" stroke="none" stroke-width="1.2"/>
<circle cx="251.0" cy="53.6" r="1.15" fill="#5082C6" stroke="none" stroke-width="1.2"/>
<circle cx="309.8" cy="182.8" r="1.15" fill="#5082C6" stroke="none" stroke-width="1.2"/>
<circle cx="367.2" cy="175.8" r="1.15" fill="#5082C6" stroke="none" stroke-width="1.2"/>
<circle cx="225.6" cy="87.4" r="1.15" fill="#5082C6" stroke="none" stroke-width="1.2"/>
<circle cx="370.8" cy="116.6" r="1.15" fill="#5082C6" stroke="none" stroke-width="1.2"/>
<circle cx="234.3" cy="115.7" r="1.15" fill="#5082C6" stroke="none" stroke-width="1.2"/>
<circle cx="273.4" cy="143.1" r="1.15" fill="#5082C6" stroke="none" stroke-width="1.2"/>
<circle cx="357.7" cy="180.9" r="1.15" fill="#5082C6" stroke="none" stroke-width="1.2"/>
<circle cx="345.8" cy="87.1" r="1.15" fill="#5082C6" stroke="none" stroke-width="1.2"/>
<circle cx="252.6" cy="130.7" r="1.15" fill="#5082C6" stroke="none" stroke-width="1.2"/>
<circle cx="290.8" cy="150.5" r="1.15" fill="#5082C6" stroke="none" stroke-width="1.2"/>
<circle cx="265.7" cy="135.4" r="1.15" fill="#5082C6" stroke="none" stroke-width="1.2"/>
<circle cx="321.6" cy="189.6" r="1.15" fill="#5082C6" stroke="none" stroke-width="1.2"/>
<circle cx="254.8" cy="131.4" r="1.15" fill="#5082C6" stroke="none" stroke-width="1.2"/>
<circle cx="340.4" cy="82.9" r="1.15" fill="#5082C6" stroke="none" stroke-width="1.2"/>
<circle cx="284.2" cy="55.1" r="1.15" fill="#5082C6" stroke="none" stroke-width="1.2"/>
<circle cx="375.6" cy="156.6" r="1.15" fill="#5082C6" stroke="none" stroke-width="1.2"/>
<circle cx="236.9" cy="56.7" r="1.15" fill="#5082C6" stroke="none" stroke-width="1.2"/>
<circle cx="236.7" cy="117.7" r="1.15" fill="#5082C6" stroke="none" stroke-width="1.2"/>
<circle cx="273.3" cy="141.9" r="1.15" fill="#5082C6" stroke="none" stroke-width="1.2"/>
<circle cx="373.0" cy="166.7" r="1.15" fill="#5082C6" stroke="none" stroke-width="1.2"/>
<circle cx="288.2" cy="61.5" r="1.15" fill="#5082C6" stroke="none" stroke-width="1.2"/>
<circle cx="272.4" cy="52.8" r="1.15" fill="#5082C6" stroke="none" stroke-width="1.2"/>
<circle cx="242.7" cy="124.7" r="1.15" fill="#5082C6" stroke="none" stroke-width="1.2"/>
<circle cx="285.2" cy="55.3" r="1.15" fill="#5082C6" stroke="none" stroke-width="1.2"/>
<circle cx="353.3" cy="91.1" r="1.15" fill="#5082C6" stroke="none" stroke-width="1.2"/>
<circle cx="312.6" cy="186.4" r="1.15" fill="#5082C6" stroke="none" stroke-width="1.2"/>
<circle cx="290.9" cy="149.1" r="1.15" fill="#5082C6" stroke="none" stroke-width="1.2"/>
<circle cx="344.4" cy="188.3" r="1.15" fill="#5082C6" stroke="none" stroke-width="1.2"/>
<circle cx="269.2" cy="138.7" r="1.15" fill="#5082C6" stroke="none" stroke-width="1.2"/>
<circle cx="334.1" cy="80.0" r="1.15" fill="#5082C6" stroke="none" stroke-width="1.2"/>
<circle cx="298.1" cy="68.4" r="1.15" fill="#5082C6" stroke="none" stroke-width="1.2"/>
<circle cx="230.9" cy="110.5" r="1.15" fill="#5082C6" stroke="none" stroke-width="1.2"/>
<circle cx="318.1" cy="74.7" r="1.15" fill="#5082C6" stroke="none" stroke-width="1.2"/>
<circle cx="295.5" cy="154.7" r="1.15" fill="#5082C6" stroke="none" stroke-width="1.2"/>
<circle cx="280.3" cy="144.1" r="1.15" fill="#5082C6" stroke="none" stroke-width="1.2"/>
<circle cx="332.4" cy="82.6" r="1.15" fill="#5082C6" stroke="none" stroke-width="1.2"/>
<circle cx="378.2" cy="141.7" r="1.15" fill="#5082C6" stroke="none" stroke-width="1.2"/>
<circle cx="347.3" cy="87.5" r="1.15" fill="#5082C6" stroke="none" stroke-width="1.2"/>
<circle cx="279.9" cy="56.1" r="1.15" fill="#5082C6" stroke="none" stroke-width="1.2"/>
<circle cx="243.4" cy="125.9" r="1.15" fill="#5082C6" stroke="none" stroke-width="1.2"/>
<circle cx="238.4" cy="117.6" r="1.15" fill="#5082C6" stroke="none" stroke-width="1.2"/>
<circle cx="376.0" cy="145.8" r="1.15" fill="#5082C6" stroke="none" stroke-width="1.2"/>
<circle cx="313.2" cy="185.4" r="1.15" fill="#5082C6" stroke="none" stroke-width="1.2"/>
<circle cx="238.9" cy="119.8" r="1.15" fill="#5082C6" stroke="none" stroke-width="1.2"/>
<circle cx="239.3" cy="120.1" r="1.15" fill="#5082C6" stroke="none" stroke-width="1.2"/>
<circle cx="229.6" cy="59.2" r="1.15" fill="#5082C6" stroke="none" stroke-width="1.2"/>
<circle cx="278.1" cy="53.0" r="1.15" fill="#5082C6" stroke="none" stroke-width="1.2"/>
<circle cx="374.2" cy="118.8" r="1.15" fill="#5082C6" stroke="none" stroke-width="1.2"/>
<circle cx="361.9" cy="105.7" r="1.15" fill="#5082C6" stroke="none" stroke-width="1.2"/>
<circle cx="239.9" cy="56.1" r="1.15" fill="#5082C6" stroke="none" stroke-width="1.2"/>
<circle cx="242.2" cy="123.7" r="1.15" fill="#5082C6" stroke="none" stroke-width="1.2"/>
<circle cx="243.1" cy="54.9" r="1.15" fill="#5082C6" stroke="none" stroke-width="1.2"/>
<circle cx="309.2" cy="179.5" r="1.15" fill="#5082C6" stroke="none" stroke-width="1.2"/>
<circle cx="271.2" cy="140.0" r="1.15" fill="#5082C6" stroke="none" stroke-width="1.2"/>
<circle cx="317.9" cy="189.2" r="1.15" fill="#5082C6" stroke="none" stroke-width="1.2"/>
<circle cx="313.9" cy="187.9" r="1.15" fill="#5082C6" stroke="none" stroke-width="1.2"/>
<circle cx="353.8" cy="92.2" r="1.15" fill="#5082C6" stroke="none" stroke-width="1.2"/>
<circle cx="295.4" cy="151.6" r="1.15" fill="#5082C6" stroke="none" stroke-width="1.2"/>
<circle cx="341.3" cy="186.7" r="1.15" fill="#5082C6" stroke="none" stroke-width="1.2"/>
<circle cx="376.9" cy="133.0" r="1.15" fill="#5082C6" stroke="none" stroke-width="1.2"/>
<circle cx="293.3" cy="151.3" r="1.15" fill="#5082C6" stroke="none" stroke-width="1.2"/>
<circle cx="348.7" cy="183.5" r="1.15" fill="#5082C6" stroke="none" stroke-width="1.2"/>
<circle cx="313.4" cy="187.6" r="1.15" fill="#5082C6" stroke="none" stroke-width="1.2"/>
<circle cx="223.9" cy="92.2" r="1.15" fill="#5082C6" stroke="none" stroke-width="1.2"/>
<circle cx="372.2" cy="118.4" r="1.15" fill="#5082C6" stroke="none" stroke-width="1.2"/>
<circle cx="290.9" cy="62.7" r="1.15" fill="#5082C6" stroke="none" stroke-width="1.2"/>
<circle cx="231.2" cy="109.2" r="1.15" fill="#5082C6" stroke="none" stroke-width="1.2"/>
<circle cx="232.7" cy="58.8" r="1.15" fill="#5082C6" stroke="none" stroke-width="1.2"/>
<circle cx="350.6" cy="87.7" r="1.15" fill="#5082C6" stroke="none" stroke-width="1.2"/>
<circle cx="228.3" cy="103.8" r="1.15" fill="#5082C6" stroke="none" stroke-width="1.2"/>
<circle cx="358.9" cy="179.7" r="1.15" fill="#5082C6" stroke="none" stroke-width="1.2"/>
<circle cx="321.2" cy="77.1" r="1.15" fill="#5082C6" stroke="none" stroke-width="1.2"/>
<circle cx="259.3" cy="134.3" r="1.15" fill="#5082C6" stroke="none" stroke-width="1.2"/>
<circle cx="321.4" cy="190.2" r="1.15" fill="#5082C6" stroke="none" stroke-width="1.2"/>
<circle cx="367.1" cy="171.4" r="1.15" fill="#5082C6" stroke="none" stroke-width="1.2"/>
<circle cx="376.8" cy="146.9" r="1.15" fill="#5082C6" stroke="none" stroke-width="1.2"/>
<circle cx="313.0" cy="185.6" r="1.15" fill="#5082C6" stroke="none" stroke-width="1.2"/>
<circle cx="265.7" cy="54.6" r="1.15" fill="#5082C6" stroke="none" stroke-width="1.2"/>
<circle cx="352.7" cy="90.9" r="1.15" fill="#5082C6" stroke="none" stroke-width="1.2"/>
<circle cx="329.5" cy="80.2" r="1.15" fill="#5082C6" stroke="none" stroke-width="1.2"/>
<circle cx="357.4" cy="179.9" r="1.15" fill="#5082C6" stroke="none" stroke-width="1.2"/>
<circle cx="314.1" cy="72.9" r="1.15" fill="#5082C6" stroke="none" stroke-width="1.2"/>
<circle cx="265.5" cy="135.7" r="1.15" fill="#5082C6" stroke="none" stroke-width="1.2"/>
<circle cx="325.7" cy="189.9" r="1.15" fill="#5082C6" stroke="none" stroke-width="1.2"/>
<circle cx="290.1" cy="62.9" r="1.15" fill="#5082C6" stroke="none" stroke-width="1.2"/>
<circle cx="315.7" cy="75.6" r="1.15" fill="#5082C6" stroke="none" stroke-width="1.2"/>
<circle cx="375.0" cy="131.5" r="1.15" fill="#5082C6" stroke="none" stroke-width="1.2"/>
<circle cx="245.7" cy="124.9" r="1.15" fill="#5082C6" stroke="none" stroke-width="1.2"/>
<circle cx="372.5" cy="118.0" r="1.15" fill="#5082C6" stroke="none" stroke-width="1.2"/>
<circle cx="246.6" cy="55.2" r="1.15" fill="#5082C6" stroke="none" stroke-width="1.2"/>
<circle cx="281.2" cy="145.5" r="1.15" fill="#5082C6" stroke="none" stroke-width="1.2"/>
<circle cx="278.8" cy="145.5" r="1.15" fill="#5082C6" stroke="none" stroke-width="1.2"/>
<circle cx="282.7" cy="145.4" r="1.15" fill="#5082C6" stroke="none" stroke-width="1.2"/>
<circle cx="375.6" cy="133.4" r="1.15" fill="#5082C6" stroke="none" stroke-width="1.2"/>
<circle cx="221.8" cy="82.9" r="1.15" fill="#5082C6" stroke="none" stroke-width="1.2"/>
<circle cx="324.2" cy="191.0" r="1.15" fill="#5082C6" stroke="none" stroke-width="1.2"/>
<circle cx="305.1" cy="69.3" r="1.15" fill="#5082C6" stroke="none" stroke-width="1.2"/>
<circle cx="317.7" cy="189.5" r="1.15" fill="#5082C6" stroke="none" stroke-width="1.2"/>
<circle cx="361.3" cy="101.8" r="1.15" fill="#5082C6" stroke="none" stroke-width="1.2"/>
<circle cx="271.9" cy="139.4" r="1.15" fill="#5082C6" stroke="none" stroke-width="1.2"/>
<circle cx="373.0" cy="158.0" r="1.15" fill="#5082C6" stroke="none" stroke-width="1.2"/>
<circle cx="375.1" cy="153.7" r="1.15" fill="#5082C6" stroke="none" stroke-width="1.2"/>
<circle cx="332.5" cy="82.1" r="1.15" fill="#5082C6" stroke="none" stroke-width="1.2"/>
<circle cx="259.8" cy="53.5" r="1.15" fill="#5082C6" stroke="none" stroke-width="1.2"/>
<circle cx="360.6" cy="103.3" r="1.15" fill="#5082C6" stroke="none" stroke-width="1.2"/>
<circle cx="355.3" cy="95.7" r="1.15" fill="#5082C6" stroke="none" stroke-width="1.2"/>
<circle cx="374.6" cy="147.0" r="1.15" fill="#5082C6" stroke="none" stroke-width="1.2"/>
<circle cx="223.4" cy="87.2" r="1.15" fill="#5082C6" stroke="none" stroke-width="1.2"/>
<circle cx="225.6" cy="67.5" r="1.15" fill="#5082C6" stroke="none" stroke-width="1.2"/>
<circle cx="296.7" cy="155.1" r="1.15" fill="#5082C6" stroke="none" stroke-width="1.2"/>
<circle cx="290.7" cy="68.5" r="1.15" fill="#5082C6" stroke="none" stroke-width="1.2"/>
<circle cx="224.6" cy="93.7" r="1.15" fill="#5082C6" stroke="none" stroke-width="1.2"/>
<circle cx="281.6" cy="53.7" r="1.15" fill="#5082C6" stroke="none" stroke-width="1.2"/>
<circle cx="367.7" cy="113.3" r="1.15" fill="#5082C6" stroke="none" stroke-width="1.2"/>
<circle cx="303.0" cy="171.5" r="1.15" fill="#5082C6" stroke="none" stroke-width="1.2"/>
<circle cx="314.2" cy="186.2" r="1.15" fill="#5082C6" stroke="none" stroke-width="1.2"/>
<circle cx="231.4" cy="59.0" r="1.15" fill="#5082C6" stroke="none" stroke-width="1.2"/>
<circle cx="235.8" cy="115.7" r="1.15" fill="#5082C6" stroke="none" stroke-width="1.2"/>
<circle cx="271.0" cy="52.3" r="1.15" fill="#5082C6" stroke="none" stroke-width="1.2"/>
<circle cx="332.6" cy="81.4" r="1.15" fill="#5082C6" stroke="none" stroke-width="1.2"/>
<circle cx="374.4" cy="124.3" r="1.15" fill="#5082C6" stroke="none" stroke-width="1.2"/>
<circle cx="322.1" cy="190.2" r="1.15" fill="#5082C6" stroke="none" stroke-width="1.2"/>
<circle cx="243.4" cy="124.1" r="1.15" fill="#5082C6" stroke="none" stroke-width="1.2"/>
<circle cx="336.9" cy="83.0" r="1.15" fill="#5082C6" stroke="none" stroke-width="1.2"/>
<circle cx="377.7" cy="138.7" r="1.15" fill="#5082C6" stroke="none" stroke-width="1.2"/>
<circle cx="224.3" cy="78.5" r="1.15" fill="#5082C6" stroke="none" stroke-width="1.2"/>
<circle cx="275.8" cy="141.6" r="1.15" fill="#5082C6" stroke="none" stroke-width="1.2"/>
<circle cx="244.8" cy="126.0" r="1.15" fill="#5082C6" stroke="none" stroke-width="1.2"/>
<circle cx="225.9" cy="95.8" r="1.15" fill="#5082C6" stroke="none" stroke-width="1.2"/>
<circle cx="241.5" cy="122.7" r="1.15" fill="#5082C6" stroke="none" stroke-width="1.2"/>
<circle cx="326.7" cy="189.4" r="1.15" fill="#5082C6" stroke="none" stroke-width="1.2"/>
<circle cx="292.8" cy="149.5" r="1.15" fill="#5082C6" stroke="none" stroke-width="1.2"/>
<circle cx="233.5" cy="113.1" r="1.15" fill="#5082C6" stroke="none" stroke-width="1.2"/>
<circle cx="228.8" cy="59.6" r="1.15" fill="#5082C6" stroke="none" stroke-width="1.2"/>
<circle cx="289.3" cy="65.7" r="1.15" fill="#5082C6" stroke="none" stroke-width="1.2"/>
<circle cx="279.5" cy="54.3" r="1.15" fill="#5082C6" stroke="none" stroke-width="1.2"/>
<circle cx="325.2" cy="78.8" r="1.15" fill="#5082C6" stroke="none" stroke-width="1.2"/>
<circle cx="362.8" cy="177.4" r="1.15" fill="#5082C6" stroke="none" stroke-width="1.2"/>
<circle cx="279.6" cy="53.6" r="1.15" fill="#5082C6" stroke="none" stroke-width="1.2"/>
<circle cx="370.6" cy="167.5" r="1.15" fill="#5082C6" stroke="none" stroke-width="1.2"/>
<circle cx="281.7" cy="54.2" r="1.15" fill="#5082C6" stroke="none" stroke-width="1.2"/>
<circle cx="315.9" cy="188.8" r="1.15" fill="#5082C6" stroke="none" stroke-width="1.2"/>
<circle cx="266.3" cy="135.3" r="1.15" fill="#5082C6" stroke="none" stroke-width="1.2"/>
<circle cx="354.3" cy="180.9" r="1.15" fill="#5082C6" stroke="none" stroke-width="1.2"/>
<circle cx="280.5" cy="144.5" r="1.15" fill="#5082C6" stroke="none" stroke-width="1.2"/>
<circle cx="372.7" cy="124.9" r="1.15" fill="#5082C6" stroke="none" stroke-width="1.2"/>
<circle cx="316.6" cy="187.4" r="1.15" fill="#5082C6" stroke="none" stroke-width="1.2"/>
<circle cx="364.6" cy="108.2" r="1.15" fill="#5082C6" stroke="none" stroke-width="1.2"/>
<circle cx="230.8" cy="60.7" r="1.15" fill="#5082C6" stroke="none" stroke-width="1.2"/>
<circle cx="232.7" cy="108.1" r="1.15" fill="#5082C6" stroke="none" stroke-width="1.2"/>
<circle cx="278.0" cy="142.7" r="1.15" fill="#5082C6" stroke="none" stroke-width="1.2"/>
<circle cx="221.6" cy="82.8" r="1.15" fill="#5082C6" stroke="none" stroke-width="1.2"/>
<circle cx="321.8" cy="75.7" r="1.15" fill="#5082C6" stroke="none" stroke-width="1.2"/>
<circle cx="253.4" cy="129.8" r="1.15" fill="#5082C6" stroke="none" stroke-width="1.2"/>
<circle cx="279.6" cy="53.2" r="1.15" fill="#5082C6" stroke="none" stroke-width="1.2"/>
<circle cx="240.2" cy="55.7" r="1.15" fill="#5082C6" stroke="none" stroke-width="1.2"/>
<circle cx="304.5" cy="170.7" r="1.15" fill="#5082C6" stroke="none" stroke-width="1.2"/>
<circle cx="373.2" cy="123.2" r="1.15" fill="#5082C6" stroke="none" stroke-width="1.2"/>
<circle cx="224.1" cy="76.9" r="1.15" fill="#5082C6" stroke="none" stroke-width="1.2"/>
<circle cx="305.5" cy="179.4" r="1.15" fill="#5082C6" stroke="none" stroke-width="1.2"/>
<circle cx="376.7" cy="127.2" r="1.15" fill="#5082C6" stroke="none" stroke-width="1.2"/>
<circle cx="301.3" cy="68.5" r="1.15" fill="#5082C6" stroke="none" stroke-width="1.2"/>
<circle cx="330.4" cy="190.7" r="1.15" fill="#5082C6" stroke="none" stroke-width="1.2"/>
<circle cx="361.6" cy="179.6" r="1.15" fill="#5082C6" stroke="none" stroke-width="1.2"/>
<circle cx="344.0" cy="85.3" r="1.15" fill="#5082C6" stroke="none" stroke-width="1.2"/>
<circle cx="268.1" cy="140.3" r="1.15" fill="#5082C6" stroke="none" stroke-width="1.2"/>
<circle cx="363.5" cy="108.4" r="1.15" fill="#5082C6" stroke="none" stroke-width="1.2"/>
<circle cx="292.4" cy="150.1" r="1.15" fill="#5082C6" stroke="none" stroke-width="1.2"/>
<circle cx="376.0" cy="145.7" r="1.15" fill="#5082C6" stroke="none" stroke-width="1.2"/>
<circle cx="315.1" cy="73.1" r="1.15" fill="#5082C6" stroke="none" stroke-width="1.2"/>
<circle cx="226.2" cy="94.2" r="1.15" fill="#5082C6" stroke="none" stroke-width="1.2"/>
<circle cx="240.1" cy="121.5" r="1.15" fill="#5082C6" stroke="none" stroke-width="1.2"/>
<circle cx="307.5" cy="181.7" r="1.15" fill="#5082C6" stroke="none" stroke-width="1.2"/>
<circle cx="265.7" cy="135.3" r="1.15" fill="#5082C6" stroke="none" stroke-width="1.2"/>
<circle cx="305.4" cy="70.4" r="1.15" fill="#5082C6" stroke="none" stroke-width="1.2"/>
<circle cx="339.6" cy="83.9" r="1.15" fill="#5082C6" stroke="none" stroke-width="1.2"/>
<circle cx="356.9" cy="182.6" r="1.15" fill="#5082C6" stroke="none" stroke-width="1.2"/>
<circle cx="364.8" cy="107.3" r="1.15" fill="#5082C6" stroke="none" stroke-width="1.2"/>
<circle cx="288.2" cy="146.6" r="1.15" fill="#5082C6" stroke="none" stroke-width="1.2"/>
<circle cx="359.6" cy="100.0" r="1.15" fill="#5082C6" stroke="none" stroke-width="1.2"/>
<circle cx="360.1" cy="100.6" r="1.15" fill="#5082C6" stroke="none" stroke-width="1.2"/>
<circle cx="348.3" cy="87.3" r="1.15" fill="#5082C6" stroke="none" stroke-width="1.2"/>
<circle cx="318.3" cy="190.3" r="1.15" fill="#5082C6" stroke="none" stroke-width="1.2"/>
<circle cx="225.7" cy="71.0" r="1.15" fill="#5082C6" stroke="none" stroke-width="1.2"/>
<circle cx="273.3" cy="52.2" r="1.15" fill="#5082C6" stroke="none" stroke-width="1.2"/>
<circle cx="283.0" cy="145.5" r="1.15" fill="#5082C6" stroke="none" stroke-width="1.2"/>
<circle cx="229.2" cy="61.6" r="1.15" fill="#5082C6" stroke="none" stroke-width="1.2"/>
<circle cx="297.4" cy="159.5" r="1.15" fill="#5082C6" stroke="none" stroke-width="1.2"/>
<circle cx="290.2" cy="64.9" r="1.15" fill="#5082C6" stroke="none" stroke-width="1.2"/>
<circle cx="269.8" cy="139.2" r="1.15" fill="#5082C6" stroke="none" stroke-width="1.2"/>
<circle cx="284.9" cy="59.2" r="1.15" fill="#5082C6" stroke="none" stroke-width="1.2"/>
<circle cx="224.1" cy="75.7" r="1.15" fill="#5082C6" stroke="none" stroke-width="1.2"/>
<circle cx="377.0" cy="132.9" r="1.15" fill="#5082C6" stroke="none" stroke-width="1.2"/>
<circle cx="371.0" cy="166.8" r="1.15" fill="#5082C6" stroke="none" stroke-width="1.2"/>
<circle cx="363.8" cy="109.2" r="1.15" fill="#5082C6" stroke="none" stroke-width="1.2"/>
<circle cx="281.4" cy="55.7" r="1.15" fill="#5082C6" stroke="none" stroke-width="1.2"/>
<circle cx="243.0" cy="52.9" r="1.15" fill="#5082C6" stroke="none" stroke-width="1.2"/>
<circle cx="373.9" cy="124.9" r="1.15" fill="#5082C6" stroke="none" stroke-width="1.2"/>
<circle cx="323.9" cy="77.1" r="1.15" fill="#5082C6" stroke="none" stroke-width="1.2"/>
<circle cx="346.4" cy="187.7" r="1.15" fill="#5082C6" stroke="none" stroke-width="1.2"/>
<circle cx="376.6" cy="144.7" r="1.15" fill="#5082C6" stroke="none" stroke-width="1.2"/>
<circle cx="223.2" cy="91.6" r="1.15" fill="#5082C6" stroke="none" stroke-width="1.2"/>
<circle cx="319.9" cy="189.3" r="1.15" fill="#5082C6" stroke="none" stroke-width="1.2"/>
<circle cx="289.6" cy="62.9" r="1.15" fill="#5082C6" stroke="none" stroke-width="1.2"/>
<circle cx="369.0" cy="112.9" r="1.15" fill="#5082C6" stroke="none" stroke-width="1.2"/>
<circle cx="227.4" cy="97.1" r="1.15" fill="#5082C6" stroke="none" stroke-width="1.2"/>
<circle cx="258.7" cy="53.3" r="1.15" fill="#5082C6" stroke="none" stroke-width="1.2"/>
<circle cx="377.8" cy="140.8" r="1.15" fill="#5082C6" stroke="none" stroke-width="1.2"/>
<circle cx="274.6" cy="53.7" r="1.15" fill="#5082C6" stroke="none" stroke-width="1.2"/>
<circle cx="327.9" cy="189.8" r="1.15" fill="#5082C6" stroke="none" stroke-width="1.2"/>
<circle cx="245.1" cy="53.2" r="1.15" fill="#5082C6" stroke="none" stroke-width="1.2"/>
<circle cx="280.9" cy="144.5" r="1.15" fill="#5082C6" stroke="none" stroke-width="1.2"/>
<circle cx="323.7" cy="77.0" r="1.15" fill="#5082C6" stroke="none" stroke-width="1.2"/>
<circle cx="312.3" cy="73.8" r="1.15" fill="#5082C6" stroke="none" stroke-width="1.2"/>
<circle cx="292.3" cy="151.7" r="1.15" fill="#5082C6" stroke="none" stroke-width="1.2"/>
<circle cx="246.0" cy="126.9" r="1.15" fill="#5082C6" stroke="none" stroke-width="1.2"/>
<circle cx="347.9" cy="87.9" r="1.15" fill="#5082C6" stroke="none" stroke-width="1.2"/>
<circle cx="309.5" cy="71.9" r="1.15" fill="#5082C6" stroke="none" stroke-width="1.2"/>
<circle cx="224.0" cy="85.3" r="1.15" fill="#5082C6" stroke="none" stroke-width="1.2"/>
<circle cx="248.2" cy="54.7" r="1.15" fill="#5082C6" stroke="none" stroke-width="1.2"/>
<circle cx="227.5" cy="61.6" r="1.15" fill="#5082C6" stroke="none" stroke-width="1.2"/>
<circle cx="376.0" cy="147.6" r="1.15" fill="#5082C6" stroke="none" stroke-width="1.2"/>
<circle cx="288.2" cy="62.9" r="1.15" fill="#5082C6" stroke="none" stroke-width="1.2"/>
<circle cx="229.4" cy="102.6" r="1.15" fill="#5082C6" stroke="none" stroke-width="1.2"/>
<circle cx="301.9" cy="67.0" r="1.15" fill="#5082C6" stroke="none" stroke-width="1.2"/>
<circle cx="329.8" cy="80.6" r="1.15" fill="#5082C6" stroke="none" stroke-width="1.2"/>
<circle cx="354.2" cy="94.2" r="1.15" fill="#5082C6" stroke="none" stroke-width="1.2"/>
<circle cx="262.9" cy="134.2" r="1.15" fill="#5082C6" stroke="none" stroke-width="1.2"/>
<circle cx="336.9" cy="190.0" r="1.15" fill="#5082C6" stroke="none" stroke-width="1.2"/>
<circle cx="289.4" cy="147.9" r="1.15" fill="#5082C6" stroke="none" stroke-width="1.2"/>
<circle cx="276.4" cy="53.7" r="1.15" fill="#5082C6" stroke="none" stroke-width="1.2"/>
<circle cx="222.9" cy="75.0" r="1.15" fill="#5082C6" stroke="none" stroke-width="1.2"/>
<circle cx="375.7" cy="147.9" r="1.15" fill="#5082C6" stroke="none" stroke-width="1.2"/>
<circle cx="269.2" cy="52.6" r="1.15" fill="#5082C6" stroke="none" stroke-width="1.2"/>
<circle cx="228.5" cy="64.6" r="1.15" fill="#5082C6" stroke="none" stroke-width="1.2"/>
<circle cx="225.2" cy="73.0" r="1.15" fill="#5082C6" stroke="none" stroke-width="1.2"/>
<circle cx="298.0" cy="68.5" r="1.15" fill="#5082C6" stroke="none" stroke-width="1.2"/>
<circle cx="245.4" cy="127.1" r="1.15" fill="#5082C6" stroke="none" stroke-width="1.2"/>
<circle cx="224.6" cy="73.5" r="1.15" fill="#5082C6" stroke="none" stroke-width="1.2"/>
<circle cx="359.5" cy="181.5" r="1.15" fill="#5082C6" stroke="none" stroke-width="1.2"/>
<circle cx="313.9" cy="187.5" r="1.15" fill="#5082C6" stroke="none" stroke-width="1.2"/>
<circle cx="353.5" cy="183.1" r="1.15" fill="#5082C6" stroke="none" stroke-width="1.2"/>
<circle cx="356.8" cy="96.4" r="1.15" fill="#5082C6" stroke="none" stroke-width="1.2"/>
<circle cx="299.5" cy="163.4" r="1.15" fill="#5082C6" stroke="none" stroke-width="1.2"/>
<circle cx="349.1" cy="185.1" r="1.15" fill="#5082C6" stroke="none" stroke-width="1.2"/>
<circle cx="353.2" cy="95.5" r="1.15" fill="#5082C6" stroke="none" stroke-width="1.2"/>
<circle cx="321.2" cy="189.2" r="1.15" fill="#5082C6" stroke="none" stroke-width="1.2"/>
<circle cx="235.5" cy="56.4" r="1.15" fill="#5082C6" stroke="none" stroke-width="1.2"/>
<circle cx="290.9" cy="67.1" r="1.15" fill="#5082C6" stroke="none" stroke-width="1.2"/>
<circle cx="355.3" cy="180.2" r="1.15" fill="#5082C6" stroke="none" stroke-width="1.2"/>
<circle cx="272.6" cy="315.2" r="1.15" fill="#8840BE" stroke="none" stroke-width="1.2"/>
<circle cx="259.3" cy="224.8" r="1.15" fill="#8840BE" stroke="none" stroke-width="1.2"/>
<circle cx="243.6" cy="291.6" r="1.15" fill="#8840BE" stroke="none" stroke-width="1.2"/>
<circle cx="310.4" cy="250.1" r="1.15" fill="#8840BE" stroke="none" stroke-width="1.2"/>
<circle cx="242.5" cy="308.0" r="1.15" fill="#8840BE" stroke="none" stroke-width="1.2"/>
<circle cx="276.2" cy="312.3" r="1.15" fill="#8840BE" stroke="none" stroke-width="1.2"/>
<circle cx="268.6" cy="314.7" r="1.15" fill="#8840BE" stroke="none" stroke-width="1.2"/>
<circle cx="300.1" cy="295.0" r="1.15" fill="#8840BE" stroke="none" stroke-width="1.2"/>
<circle cx="250.5" cy="326.3" r="1.15" fill="#8840BE" stroke="none" stroke-width="1.2"/>
<circle cx="313.5" cy="233.6" r="1.15" fill="#8840BE" stroke="none" stroke-width="1.2"/>
<circle cx="252.5" cy="323.1" r="1.15" fill="#8840BE" stroke="none" stroke-width="1.2"/>
<circle cx="262.1" cy="319.0" r="1.15" fill="#8840BE" stroke="none" stroke-width="1.2"/>
<circle cx="250.4" cy="257.2" r="1.15" fill="#8840BE" stroke="none" stroke-width="1.2"/>
<circle cx="244.9" cy="277.7" r="1.15" fill="#8840BE" stroke="none" stroke-width="1.2"/>
<circle cx="251.6" cy="193.3" r="1.15" fill="#8840BE" stroke="none" stroke-width="1.2"/>
<circle cx="300.3" cy="294.2" r="1.15" fill="#8840BE" stroke="none" stroke-width="1.2"/>
<circle cx="243.6" cy="318.8" r="1.15" fill="#8840BE" stroke="none" stroke-width="1.2"/>
<circle cx="297.9" cy="299.3" r="1.15" fill="#8840BE" stroke="none" stroke-width="1.2"/>
<circle cx="260.6" cy="219.1" r="1.15" fill="#8840BE" stroke="none" stroke-width="1.2"/>
<circle cx="317.7" cy="216.1" r="1.15" fill="#8840BE" stroke="none" stroke-width="1.2"/>
<circle cx="307.9" cy="201.1" r="1.15" fill="#8840BE" stroke="none" stroke-width="1.2"/>
<circle cx="295.4" cy="299.4" r="1.15" fill="#8840BE" stroke="none" stroke-width="1.2"/>
<circle cx="259.3" cy="206.8" r="1.15" fill="#8840BE" stroke="none" stroke-width="1.2"/>
<circle cx="249.7" cy="181.0" r="1.15" fill="#8840BE" stroke="none" stroke-width="1.2"/>
<circle cx="316.7" cy="220.7" r="1.15" fill="#8840BE" stroke="none" stroke-width="1.2"/>
<circle cx="305.3" cy="285.9" r="1.15" fill="#8840BE" stroke="none" stroke-width="1.2"/>
<circle cx="252.7" cy="179.6" r="1.15" fill="#8840BE" stroke="none" stroke-width="1.2"/>
<circle cx="310.6" cy="262.5" r="1.15" fill="#8840BE" stroke="none" stroke-width="1.2"/>
<circle cx="314.8" cy="208.3" r="1.15" fill="#8840BE" stroke="none" stroke-width="1.2"/>
<circle cx="304.7" cy="286.0" r="1.15" fill="#8840BE" stroke="none" stroke-width="1.2"/>
<circle cx="248.0" cy="260.7" r="1.15" fill="#8840BE" stroke="none" stroke-width="1.2"/>
<circle cx="304.5" cy="198.9" r="1.15" fill="#8840BE" stroke="none" stroke-width="1.2"/>
<circle cx="243.9" cy="277.3" r="1.15" fill="#8840BE" stroke="none" stroke-width="1.2"/>
<circle cx="245.7" cy="264.2" r="1.15" fill="#8840BE" stroke="none" stroke-width="1.2"/>
<circle cx="244.4" cy="325.7" r="1.15" fill="#8840BE" stroke="none" stroke-width="1.2"/>
<circle cx="314.1" cy="207.9" r="1.15" fill="#8840BE" stroke="none" stroke-width="1.2"/>
<circle cx="248.2" cy="327.5" r="1.15" fill="#8840BE" stroke="none" stroke-width="1.2"/>
<circle cx="257.6" cy="204.1" r="1.15" fill="#8840BE" stroke="none" stroke-width="1.2"/>
<circle cx="293.3" cy="303.1" r="1.15" fill="#8840BE" stroke="none" stroke-width="1.2"/>
<circle cx="312.7" cy="238.3" r="1.15" fill="#8840BE" stroke="none" stroke-width="1.2"/>
<circle cx="247.8" cy="258.5" r="1.15" fill="#8840BE" stroke="none" stroke-width="1.2"/>
<circle cx="305.0" cy="283.0" r="1.15" fill="#8840BE" stroke="none" stroke-width="1.2"/>
<circle cx="258.4" cy="179.7" r="1.15" fill="#8840BE" stroke="none" stroke-width="1.2"/>
<circle cx="242.1" cy="294.4" r="1.15" fill="#8840BE" stroke="none" stroke-width="1.2"/>
<circle cx="256.6" cy="203.9" r="1.15" fill="#8840BE" stroke="none" stroke-width="1.2"/>
<circle cx="252.7" cy="200.8" r="1.15" fill="#8840BE" stroke="none" stroke-width="1.2"/>
<circle cx="254.6" cy="321.7" r="1.15" fill="#8840BE" stroke="none" stroke-width="1.2"/>
<circle cx="246.5" cy="267.8" r="1.15" fill="#8840BE" stroke="none" stroke-width="1.2"/>
<circle cx="244.6" cy="318.4" r="1.15" fill="#8840BE" stroke="none" stroke-width="1.2"/>
<circle cx="314.4" cy="227.5" r="1.15" fill="#8840BE" stroke="none" stroke-width="1.2"/>
<circle cx="296.1" cy="301.5" r="1.15" fill="#8840BE" stroke="none" stroke-width="1.2"/>
<circle cx="247.3" cy="326.8" r="1.15" fill="#8840BE" stroke="none" stroke-width="1.2"/>
<circle cx="315.9" cy="209.7" r="1.15" fill="#8840BE" stroke="none" stroke-width="1.2"/>
<circle cx="246.8" cy="326.8" r="1.15" fill="#8840BE" stroke="none" stroke-width="1.2"/>
<circle cx="307.4" cy="271.7" r="1.15" fill="#8840BE" stroke="none" stroke-width="1.2"/>
<circle cx="308.8" cy="266.5" r="1.15" fill="#8840BE" stroke="none" stroke-width="1.2"/>
<circle cx="285.5" cy="308.1" r="1.15" fill="#8840BE" stroke="none" stroke-width="1.2"/>
<circle cx="308.4" cy="252.7" r="1.15" fill="#8840BE" stroke="none" stroke-width="1.2"/>
<circle cx="242.8" cy="278.4" r="1.15" fill="#8840BE" stroke="none" stroke-width="1.2"/>
<circle cx="243.5" cy="274.8" r="1.15" fill="#8840BE" stroke="none" stroke-width="1.2"/>
<circle cx="287.3" cy="307.4" r="1.15" fill="#8840BE" stroke="none" stroke-width="1.2"/>
<circle cx="312.3" cy="202.1" r="1.15" fill="#8840BE" stroke="none" stroke-width="1.2"/>
<circle cx="258.2" cy="319.6" r="1.15" fill="#8840BE" stroke="none" stroke-width="1.2"/>
<circle cx="243.4" cy="304.1" r="1.15" fill="#8840BE" stroke="none" stroke-width="1.2"/>
<circle cx="280.5" cy="313.9" r="1.15" fill="#8840BE" stroke="none" stroke-width="1.2"/>
<circle cx="295.4" cy="299.4" r="1.15" fill="#8840BE" stroke="none" stroke-width="1.2"/>
<circle cx="303.4" cy="287.5" r="1.15" fill="#8840BE" stroke="none" stroke-width="1.2"/>
<circle cx="243.0" cy="324.3" r="1.15" fill="#8840BE" stroke="none" stroke-width="1.2"/>
<circle cx="313.6" cy="241.4" r="1.15" fill="#8840BE" stroke="none" stroke-width="1.2"/>
<circle cx="242.6" cy="313.8" r="1.15" fill="#8840BE" stroke="none" stroke-width="1.2"/>
<circle cx="274.5" cy="314.7" r="1.15" fill="#8840BE" stroke="none" stroke-width="1.2"/>
<circle cx="251.8" cy="179.8" r="1.15" fill="#8840BE" stroke="none" stroke-width="1.2"/>
<circle cx="258.3" cy="179.7" r="1.15" fill="#8840BE" stroke="none" stroke-width="1.2"/>
<circle cx="251.5" cy="248.4" r="1.15" fill="#8840BE" stroke="none" stroke-width="1.2"/>
<circle cx="248.5" cy="252.5" r="1.15" fill="#8840BE" stroke="none" stroke-width="1.2"/>
<circle cx="255.9" cy="321.8" r="1.15" fill="#8840BE" stroke="none" stroke-width="1.2"/>
<circle cx="258.9" cy="206.1" r="1.15" fill="#8840BE" stroke="none" stroke-width="1.2"/>
<circle cx="259.9" cy="208.4" r="1.15" fill="#8840BE" stroke="none" stroke-width="1.2"/>
<circle cx="249.1" cy="328.1" r="1.15" fill="#8840BE" stroke="none" stroke-width="1.2"/>
<circle cx="244.7" cy="300.0" r="1.15" fill="#8840BE" stroke="none" stroke-width="1.2"/>
<circle cx="298.2" cy="295.1" r="1.15" fill="#8840BE" stroke="none" stroke-width="1.2"/>
<circle cx="250.0" cy="326.1" r="1.15" fill="#8840BE" stroke="none" stroke-width="1.2"/>
<circle cx="307.5" cy="278.1" r="1.15" fill="#8840BE" stroke="none" stroke-width="1.2"/>
<circle cx="273.7" cy="183.4" r="1.15" fill="#8840BE" stroke="none" stroke-width="1.2"/>
<circle cx="256.7" cy="206.5" r="1.15" fill="#8840BE" stroke="none" stroke-width="1.2"/>
<circle cx="301.5" cy="293.1" r="1.15" fill="#8840BE" stroke="none" stroke-width="1.2"/>
<circle cx="253.4" cy="196.1" r="1.15" fill="#8840BE" stroke="none" stroke-width="1.2"/>
<circle cx="315.8" cy="221.6" r="1.15" fill="#8840BE" stroke="none" stroke-width="1.2"/>
<circle cx="316.4" cy="233.4" r="1.15" fill="#8840BE" stroke="none" stroke-width="1.2"/>
<circle cx="294.4" cy="194.9" r="1.15" fill="#8840BE" stroke="none" stroke-width="1.2"/>
<circle cx="259.5" cy="221.7" r="1.15" fill="#8840BE" stroke="none" stroke-width="1.2"/>
<circle cx="316.5" cy="213.5" r="1.15" fill="#8840BE" stroke="none" stroke-width="1.2"/>
<circle cx="252.3" cy="244.7" r="1.15" fill="#8840BE" stroke="none" stroke-width="1.2"/>
<circle cx="243.0" cy="322.9" r="1.15" fill="#8840BE" stroke="none" stroke-width="1.2"/>
<circle cx="308.2" cy="273.3" r="1.15" fill="#8840BE" stroke="none" stroke-width="1.2"/>
<circle cx="264.8" cy="316.9" r="1.15" fill="#8840BE" stroke="none" stroke-width="1.2"/>
<circle cx="311.1" cy="203.7" r="1.15" fill="#8840BE" stroke="none" stroke-width="1.2"/>
<circle cx="317.3" cy="212.2" r="1.15" fill="#8840BE" stroke="none" stroke-width="1.2"/>
<circle cx="313.2" cy="240.5" r="1.15" fill="#8840BE" stroke="none" stroke-width="1.2"/>
<circle cx="304.4" cy="283.9" r="1.15" fill="#8840BE" stroke="none" stroke-width="1.2"/>
<circle cx="316.7" cy="226.8" r="1.15" fill="#8840BE" stroke="none" stroke-width="1.2"/>
<circle cx="306.8" cy="282.0" r="1.15" fill="#8840BE" stroke="none" stroke-width="1.2"/>
<circle cx="246.0" cy="272.9" r="1.15" fill="#8840BE" stroke="none" stroke-width="1.2"/>
<circle cx="296.1" cy="298.2" r="1.15" fill="#8840BE" stroke="none" stroke-width="1.2"/>
<circle cx="309.4" cy="259.7" r="1.15" fill="#8840BE" stroke="none" stroke-width="1.2"/>
<circle cx="299.2" cy="296.5" r="1.15" fill="#8840BE" stroke="none" stroke-width="1.2"/>
<circle cx="244.5" cy="285.1" r="1.15" fill="#8840BE" stroke="none" stroke-width="1.2"/>
<circle cx="311.4" cy="240.8" r="1.15" fill="#8840BE" stroke="none" stroke-width="1.2"/>
<circle cx="253.0" cy="246.5" r="1.15" fill="#8840BE" stroke="none" stroke-width="1.2"/>
<circle cx="251.5" cy="194.9" r="1.15" fill="#8840BE" stroke="none" stroke-width="1.2"/>
<circle cx="250.5" cy="183.2" r="1.15" fill="#8840BE" stroke="none" stroke-width="1.2"/>
<circle cx="279.1" cy="313.7" r="1.15" fill="#8840BE" stroke="none" stroke-width="1.2"/>
<circle cx="300.9" cy="294.4" r="1.15" fill="#8840BE" stroke="none" stroke-width="1.2"/>
<circle cx="242.9" cy="319.4" r="1.15" fill="#8840BE" stroke="none" stroke-width="1.2"/>
<circle cx="280.3" cy="186.2" r="1.15" fill="#8840BE" stroke="none" stroke-width="1.2"/>
<circle cx="306.8" cy="277.1" r="1.15" fill="#8840BE" stroke="none" stroke-width="1.2"/>
<circle cx="307.2" cy="273.7" r="1.15" fill="#8840BE" stroke="none" stroke-width="1.2"/>
<circle cx="318.1" cy="220.0" r="1.15" fill="#8840BE" stroke="none" stroke-width="1.2"/>
<circle cx="281.9" cy="313.4" r="1.15" fill="#8840BE" stroke="none" stroke-width="1.2"/>
<circle cx="302.8" cy="199.4" r="1.15" fill="#8840BE" stroke="none" stroke-width="1.2"/>
<circle cx="254.5" cy="199.7" r="1.15" fill="#8840BE" stroke="none" stroke-width="1.2"/>
<circle cx="259.0" cy="229.3" r="1.15" fill="#8840BE" stroke="none" stroke-width="1.2"/>
<circle cx="279.9" cy="311.3" r="1.15" fill="#8840BE" stroke="none" stroke-width="1.2"/>
<circle cx="317.2" cy="216.2" r="1.15" fill="#8840BE" stroke="none" stroke-width="1.2"/>
<circle cx="260.7" cy="224.0" r="1.15" fill="#8840BE" stroke="none" stroke-width="1.2"/>
<circle cx="308.9" cy="259.3" r="1.15" fill="#8840BE" stroke="none" stroke-width="1.2"/>
<circle cx="262.9" cy="217.9" r="1.15" fill="#8840BE" stroke="none" stroke-width="1.2"/>
<circle cx="256.9" cy="231.6" r="1.15" fill="#8840BE" stroke="none" stroke-width="1.2"/>
<circle cx="304.5" cy="197.5" r="1.15" fill="#8840BE" stroke="none" stroke-width="1.2"/>
<circle cx="257.1" cy="203.4" r="1.15" fill="#8840BE" stroke="none" stroke-width="1.2"/>
<circle cx="244.2" cy="291.1" r="1.15" fill="#8840BE" stroke="none" stroke-width="1.2"/>
<circle cx="261.3" cy="219.2" r="1.15" fill="#8840BE" stroke="none" stroke-width="1.2"/>
<circle cx="251.3" cy="251.9" r="1.15" fill="#8840BE" stroke="none" stroke-width="1.2"/>
<circle cx="290.8" cy="192.2" r="1.15" fill="#8840BE" stroke="none" stroke-width="1.2"/>
<circle cx="244.5" cy="300.0" r="1.15" fill="#8840BE" stroke="none" stroke-width="1.2"/>
<circle cx="314.7" cy="208.7" r="1.15" fill="#8840BE" stroke="none" stroke-width="1.2"/>
<circle cx="294.0" cy="303.1" r="1.15" fill="#8840BE" stroke="none" stroke-width="1.2"/>
<circle cx="308.7" cy="257.0" r="1.15" fill="#8840BE" stroke="none" stroke-width="1.2"/>
<circle cx="310.5" cy="255.3" r="1.15" fill="#8840BE" stroke="none" stroke-width="1.2"/>
<circle cx="245.6" cy="328.2" r="1.15" fill="#8840BE" stroke="none" stroke-width="1.2"/>
<circle cx="308.4" cy="271.5" r="1.15" fill="#8840BE" stroke="none" stroke-width="1.2"/>
<circle cx="305.5" cy="285.5" r="1.15" fill="#8840BE" stroke="none" stroke-width="1.2"/>
<circle cx="289.9" cy="193.1" r="1.15" fill="#8840BE" stroke="none" stroke-width="1.2"/>
<circle cx="282.6" cy="310.6" r="1.15" fill="#8840BE" stroke="none" stroke-width="1.2"/>
<circle cx="285.9" cy="311.3" r="1.15" fill="#8840BE" stroke="none" stroke-width="1.2"/>
<circle cx="272.6" cy="313.6" r="1.15" fill="#8840BE" stroke="none" stroke-width="1.2"/>
<circle cx="316.6" cy="217.6" r="1.15" fill="#8840BE" stroke="none" stroke-width="1.2"/>
<circle cx="259.4" cy="211.8" r="1.15" fill="#8840BE" stroke="none" stroke-width="1.2"/>
<circle cx="309.1" cy="201.9" r="1.15" fill="#8840BE" stroke="none" stroke-width="1.2"/>
<circle cx="269.5" cy="182.1" r="1.15" fill="#8840BE" stroke="none" stroke-width="1.2"/>
<circle cx="314.8" cy="237.6" r="1.15" fill="#8840BE" stroke="none" stroke-width="1.2"/>
<circle cx="259.0" cy="205.9" r="1.15" fill="#8840BE" stroke="none" stroke-width="1.2"/>
<circle cx="249.6" cy="184.5" r="1.15" fill="#8840BE" stroke="none" stroke-width="1.2"/>
<circle cx="260.4" cy="320.1" r="1.15" fill="#8840BE" stroke="none" stroke-width="1.2"/>
<circle cx="300.9" cy="296.9" r="1.15" fill="#8840BE" stroke="none" stroke-width="1.2"/>
<circle cx="243.3" cy="296.1" r="1.15" fill="#8840BE" stroke="none" stroke-width="1.2"/>
<circle cx="262.2" cy="212.1" r="1.15" fill="#8840BE" stroke="none" stroke-width="1.2"/>
<circle cx="246.7" cy="328.5" r="1.15" fill="#8840BE" stroke="none" stroke-width="1.2"/>
<circle cx="271.4" cy="315.8" r="1.15" fill="#8840BE" stroke="none" stroke-width="1.2"/>
<circle cx="260.9" cy="317.6" r="1.15" fill="#8840BE" stroke="none" stroke-width="1.2"/>
<circle cx="254.5" cy="179.0" r="1.15" fill="#8840BE" stroke="none" stroke-width="1.2"/>
<circle cx="251.1" cy="182.2" r="1.15" fill="#8840BE" stroke="none" stroke-width="1.2"/>
<circle cx="244.9" cy="278.7" r="1.15" fill="#8840BE" stroke="none" stroke-width="1.2"/>
<circle cx="310.4" cy="263.8" r="1.15" fill="#8840BE" stroke="none" stroke-width="1.2"/>
<circle cx="246.2" cy="268.7" r="1.15" fill="#8840BE" stroke="none" stroke-width="1.2"/>
<circle cx="245.1" cy="309.3" r="1.15" fill="#8840BE" stroke="none" stroke-width="1.2"/>
<circle cx="252.5" cy="323.4" r="1.15" fill="#8840BE" stroke="none" stroke-width="1.2"/>
<circle cx="310.5" cy="257.3" r="1.15" fill="#8840BE" stroke="none" stroke-width="1.2"/>
<circle cx="268.1" cy="314.6" r="1.15" fill="#8840BE" stroke="none" stroke-width="1.2"/>
<circle cx="249.8" cy="182.9" r="1.15" fill="#8840BE" stroke="none" stroke-width="1.2"/>
<circle cx="301.3" cy="291.7" r="1.15" fill="#8840BE" stroke="none" stroke-width="1.2"/>
<circle cx="264.8" cy="315.4" r="1.15" fill="#8840BE" stroke="none" stroke-width="1.2"/>
<circle cx="316.2" cy="226.3" r="1.15" fill="#8840BE" stroke="none" stroke-width="1.2"/>
<circle cx="250.2" cy="182.7" r="1.15" fill="#8840BE" stroke="none" stroke-width="1.2"/>
<circle cx="302.8" cy="198.5" r="1.15" fill="#8840BE" stroke="none" stroke-width="1.2"/>
<circle cx="250.7" cy="192.0" r="1.15" fill="#8840BE" stroke="none" stroke-width="1.2"/>
<circle cx="255.0" cy="201.2" r="1.15" fill="#8840BE" stroke="none" stroke-width="1.2"/>
<circle cx="256.8" cy="237.4" r="1.15" fill="#8840BE" stroke="none" stroke-width="1.2"/>
<circle cx="253.0" cy="239.2" r="1.15" fill="#8840BE" stroke="none" stroke-width="1.2"/>
<circle cx="254.2" cy="321.6" r="1.15" fill="#8840BE" stroke="none" stroke-width="1.2"/>
<circle cx="318.4" cy="214.5" r="1.15" fill="#8840BE" stroke="none" stroke-width="1.2"/>
<circle cx="260.2" cy="219.6" r="1.15" fill="#8840BE" stroke="none" stroke-width="1.2"/>
<circle cx="306.0" cy="200.9" r="1.15" fill="#8840BE" stroke="none" stroke-width="1.2"/>
<circle cx="312.6" cy="207.9" r="1.15" fill="#8840BE" stroke="none" stroke-width="1.2"/>
<circle cx="292.7" cy="192.0" r="1.15" fill="#8840BE" stroke="none" stroke-width="1.2"/>
<circle cx="283.1" cy="188.6" r="1.15" fill="#8840BE" stroke="none" stroke-width="1.2"/>
<circle cx="304.4" cy="288.6" r="1.15" fill="#8840BE" stroke="none" stroke-width="1.2"/>
<circle cx="247.5" cy="326.6" r="1.15" fill="#8840BE" stroke="none" stroke-width="1.2"/>
<circle cx="310.8" cy="254.9" r="1.15" fill="#8840BE" stroke="none" stroke-width="1.2"/>
<circle cx="285.2" cy="310.1" r="1.15" fill="#8840BE" stroke="none" stroke-width="1.2"/>
<circle cx="317.9" cy="223.1" r="1.15" fill="#8840BE" stroke="none" stroke-width="1.2"/>
<circle cx="309.4" cy="268.5" r="1.15" fill="#8840BE" stroke="none" stroke-width="1.2"/>
<circle cx="262.2" cy="180.0" r="1.15" fill="#8840BE" stroke="none" stroke-width="1.2"/>
<circle cx="245.4" cy="318.2" r="1.15" fill="#8840BE" stroke="none" stroke-width="1.2"/>
<circle cx="286.5" cy="190.8" r="1.15" fill="#8840BE" stroke="none" stroke-width="1.2"/>
<circle cx="310.3" cy="267.0" r="1.15" fill="#8840BE" stroke="none" stroke-width="1.2"/>
<circle cx="252.9" cy="193.8" r="1.15" fill="#8840BE" stroke="none" stroke-width="1.2"/>
<circle cx="315.2" cy="222.5" r="1.15" fill="#8840BE" stroke="none" stroke-width="1.2"/>
<circle cx="314.2" cy="237.4" r="1.15" fill="#8840BE" stroke="none" stroke-width="1.2"/>
<circle cx="310.3" cy="247.2" r="1.15" fill="#8840BE" stroke="none" stroke-width="1.2"/>
<circle cx="281.2" cy="134.0" r="0.73" fill="#fff" stroke="none" stroke-width="1.2"/>
<circle cx="316.6" cy="176.4" r="0.66" fill="#fff" stroke="none" stroke-width="1.2"/>
<circle cx="353.3" cy="144.2" r="0.73" fill="#fff" stroke="none" stroke-width="1.2"/>
<circle cx="301.2" cy="125.2" r="0.70" fill="#fff" stroke="none" stroke-width="1.2"/>
<circle cx="325.6" cy="96.1" r="0.73" fill="#fff" stroke="none" stroke-width="1.2"/>
<circle cx="258.8" cy="105.1" r="0.85" fill="#fff" stroke="none" stroke-width="1.2"/>
<circle cx="306.8" cy="124.3" r="0.70" fill="#fff" stroke="none" stroke-width="1.2"/>
<circle cx="331.1" cy="145.4" r="0.91" fill="#fff" stroke="none" stroke-width="1.2"/>
<circle cx="331.1" cy="138.6" r="0.65" fill="#fff" stroke="none" stroke-width="1.2"/>
<circle cx="260.7" cy="101.1" r="0.96" fill="#fff" stroke="none" stroke-width="1.2"/>
<circle cx="274.7" cy="104.5" r="0.72" fill="#fff" stroke="none" stroke-width="1.2"/>
<circle cx="359.7" cy="127.7" r="1.04" fill="#fff" stroke="none" stroke-width="1.2"/>
<circle cx="300.3" cy="81.5" r="0.99" fill="#fff" stroke="none" stroke-width="1.2"/>
<circle cx="331.3" cy="186.1" r="0.97" fill="#fff" stroke="none" stroke-width="1.2"/>
<circle cx="274.4" cy="92.6" r="0.75" fill="#fff" stroke="none" stroke-width="1.2"/>
<circle cx="262.3" cy="62.0" r="0.95" fill="#fff" stroke="none" stroke-width="1.2"/>
<circle cx="276.9" cy="92.1" r="1.03" fill="#fff" stroke="none" stroke-width="1.2"/>
<circle cx="292.4" cy="87.9" r="1.05" fill="#fff" stroke="none" stroke-width="1.2"/>
<circle cx="306.1" cy="139.8" r="0.93" fill="#fff" stroke="none" stroke-width="1.2"/>
<circle cx="344.7" cy="113.7" r="1.06" fill="#fff" stroke="none" stroke-width="1.2"/>
<circle cx="289.5" cy="104.9" r="1.06" fill="#fff" stroke="none" stroke-width="1.2"/>
<circle cx="326.1" cy="114.1" r="1.07" fill="#fff" stroke="none" stroke-width="1.2"/>
<circle cx="371.2" cy="140.2" r="0.67" fill="#fff" stroke="none" stroke-width="1.2"/>
<circle cx="241.8" cy="75.6" r="0.62" fill="#fff" stroke="none" stroke-width="1.2"/>
<circle cx="301.5" cy="118.8" r="0.67" fill="#fff" stroke="none" stroke-width="1.2"/>
<circle cx="270.6" cy="124.0" r="0.61" fill="#fff" stroke="none" stroke-width="1.2"/>
<circle cx="270.5" cy="85.9" r="0.75" fill="#fff" stroke="none" stroke-width="1.2"/>
<circle cx="259.5" cy="98.8" r="0.73" fill="#fff" stroke="none" stroke-width="1.2"/>
<circle cx="307.0" cy="92.9" r="1.02" fill="#fff" stroke="none" stroke-width="1.2"/>
<circle cx="322.5" cy="113.4" r="0.68" fill="#fff" stroke="none" stroke-width="1.2"/>
<circle cx="334.4" cy="97.7" r="0.62" fill="#fff" stroke="none" stroke-width="1.2"/>
<circle cx="325.9" cy="142.8" r="0.97" fill="#fff" stroke="none" stroke-width="1.2"/>
<circle cx="266.1" cy="129.0" r="1.08" fill="#fff" stroke="none" stroke-width="1.2"/>
<circle cx="362.5" cy="164.5" r="1.08" fill="#fff" stroke="none" stroke-width="1.2"/>
<circle cx="295.1" cy="123.2" r="1.02" fill="#fff" stroke="none" stroke-width="1.2"/>
<circle cx="323.3" cy="114.8" r="0.82" fill="#fff" stroke="none" stroke-width="1.2"/>
<circle cx="296.7" cy="72.6" r="0.99" fill="#fff" stroke="none" stroke-width="1.2"/>
<circle cx="327.4" cy="128.3" r="0.72" fill="#fff" stroke="none" stroke-width="1.2"/>
<circle cx="366.6" cy="121.2" r="0.69" fill="#fff" stroke="none" stroke-width="1.2"/>
<circle cx="229.4" cy="87.7" r="0.91" fill="#fff" stroke="none" stroke-width="1.2"/>
<circle cx="292.2" cy="117.4" r="1.05" fill="#fff" stroke="none" stroke-width="1.2"/>
<circle cx="355.0" cy="144.4" r="0.72" fill="#fff" stroke="none" stroke-width="1.2"/>
<circle cx="230.9" cy="77.0" r="0.87" fill="#fff" stroke="none" stroke-width="1.2"/>
<circle cx="238.9" cy="73.7" r="0.63" fill="#fff" stroke="none" stroke-width="1.2"/>
<circle cx="309.6" cy="175.0" r="0.78" fill="#fff" stroke="none" stroke-width="1.2"/>
<circle cx="228.0" cy="83.9" r="0.87" fill="#fff" stroke="none" stroke-width="1.2"/>
<circle cx="343.6" cy="158.7" r="0.96" fill="#fff" stroke="none" stroke-width="1.2"/>
<circle cx="336.5" cy="144.2" r="1.00" fill="#fff" stroke="none" stroke-width="1.2"/>
<circle cx="333.1" cy="107.6" r="0.62" fill="#fff" stroke="none" stroke-width="1.2"/>
<circle cx="340.4" cy="151.9" r="1.02" fill="#fff" stroke="none" stroke-width="1.2"/>
<circle cx="298.9" cy="100.1" r="0.55" fill="#fff" stroke="none" stroke-width="1.2"/>
<circle cx="347.7" cy="91.8" r="0.57" fill="#fff" stroke="none" stroke-width="1.2"/>
<circle cx="245.8" cy="87.9" r="0.82" fill="#fff" stroke="none" stroke-width="1.2"/>
<circle cx="310.0" cy="147.4" r="0.91" fill="#fff" stroke="none" stroke-width="1.2"/>
<circle cx="313.9" cy="127.7" r="0.86" fill="#fff" stroke="none" stroke-width="1.2"/>
<circle cx="247.0" cy="88.6" r="0.86" fill="#fff" stroke="none" stroke-width="1.2"/>
<circle cx="344.6" cy="129.2" r="1.09" fill="#fff" stroke="none" stroke-width="1.2"/>
<circle cx="249.7" cy="65.8" r="0.73" fill="#fff" stroke="none" stroke-width="1.2"/>
<circle cx="328.3" cy="120.2" r="0.69" fill="#fff" stroke="none" stroke-width="1.2"/>
<circle cx="309.8" cy="167.4" r="0.75" fill="#fff" stroke="none" stroke-width="1.2"/>
<circle cx="253.4" cy="83.0" r="0.77" fill="#fff" stroke="none" stroke-width="1.2"/>
<circle cx="368.0" cy="148.8" r="0.94" fill="#fff" stroke="none" stroke-width="1.2"/>
<circle cx="278.1" cy="110.7" r="0.65" fill="#fff" stroke="none" stroke-width="1.2"/>
<circle cx="236.6" cy="82.8" r="0.66" fill="#fff" stroke="none" stroke-width="1.2"/>
<circle cx="285.1" cy="86.2" r="0.95" fill="#fff" stroke="none" stroke-width="1.2"/>
<circle cx="243.7" cy="63.7" r="0.83" fill="#fff" stroke="none" stroke-width="1.2"/>
<circle cx="277.0" cy="124.2" r="0.70" fill="#fff" stroke="none" stroke-width="1.2"/>
<circle cx="336.3" cy="182.0" r="0.59" fill="#fff" stroke="none" stroke-width="1.2"/>
<circle cx="345.2" cy="124.0" r="0.60" fill="#fff" stroke="none" stroke-width="1.2"/>
<circle cx="294.4" cy="93.4" r="0.93" fill="#fff" stroke="none" stroke-width="1.2"/>
<circle cx="305.2" cy="77.3" r="0.67" fill="#fff" stroke="none" stroke-width="1.2"/>
<circle cx="307.3" cy="112.2" r="0.89" fill="#fff" stroke="none" stroke-width="1.2"/>
<circle cx="264.8" cy="59.6" r="0.67" fill="#fff" stroke="none" stroke-width="1.2"/>
<circle cx="352.2" cy="107.5" r="0.69" fill="#fff" stroke="none" stroke-width="1.2"/>
<circle cx="341.6" cy="181.4" r="0.93" fill="#fff" stroke="none" stroke-width="1.2"/>
<circle cx="239.4" cy="86.8" r="1.00" fill="#fff" stroke="none" stroke-width="1.2"/>
<circle cx="266.9" cy="68.9" r="0.60" fill="#fff" stroke="none" stroke-width="1.2"/>
<circle cx="307.6" cy="120.8" r="0.68" fill="#fff" stroke="none" stroke-width="1.2"/>
<circle cx="352.7" cy="156.4" r="0.64" fill="#fff" stroke="none" stroke-width="1.2"/>
<circle cx="294.2" cy="76.5" r="0.98" fill="#fff" stroke="none" stroke-width="1.2"/>
<circle cx="292.4" cy="110.5" r="0.72" fill="#fff" stroke="none" stroke-width="1.2"/>
<circle cx="357.4" cy="104.4" r="0.68" fill="#fff" stroke="none" stroke-width="1.2"/>
<circle cx="269.7" cy="102.6" r="0.71" fill="#fff" stroke="none" stroke-width="1.2"/>
<circle cx="332.1" cy="130.4" r="0.78" fill="#fff" stroke="none" stroke-width="1.2"/>
<circle cx="361.9" cy="168.6" r="0.91" fill="#fff" stroke="none" stroke-width="1.2"/>
<circle cx="278.2" cy="131.7" r="0.80" fill="#fff" stroke="none" stroke-width="1.2"/>
<circle cx="254.0" cy="83.5" r="0.66" fill="#fff" stroke="none" stroke-width="1.2"/>
<circle cx="275.3" cy="96.5" r="0.83" fill="#fff" stroke="none" stroke-width="1.2"/>
<circle cx="273.4" cy="71.0" r="0.58" fill="#fff" stroke="none" stroke-width="1.2"/>
<circle cx="347.6" cy="128.5" r="0.74" fill="#fff" stroke="none" stroke-width="1.2"/>
<circle cx="359.7" cy="155.5" r="0.97" fill="#fff" stroke="none" stroke-width="1.2"/>
<circle cx="319.7" cy="135.4" r="0.61" fill="#fff" stroke="none" stroke-width="1.2"/>
<circle cx="348.1" cy="94.7" r="0.79" fill="#fff" stroke="none" stroke-width="1.2"/>
<circle cx="307.6" cy="133.8" r="0.70" fill="#fff" stroke="none" stroke-width="1.2"/>
<circle cx="336.6" cy="131.3" r="0.65" fill="#fff" stroke="none" stroke-width="1.2"/>
<circle cx="358.2" cy="125.1" r="0.94" fill="#fff" stroke="none" stroke-width="1.2"/>
<circle cx="329.2" cy="86.5" r="1.05" fill="#fff" stroke="none" stroke-width="1.2"/>
<circle cx="331.2" cy="165.2" r="0.77" fill="#fff" stroke="none" stroke-width="1.2"/>
<circle cx="290.0" cy="77.4" r="0.67" fill="#fff" stroke="none" stroke-width="1.2"/>
<circle cx="359.9" cy="152.1" r="0.64" fill="#fff" stroke="none" stroke-width="1.2"/>
<circle cx="268.2" cy="58.4" r="0.65" fill="#fff" stroke="none" stroke-width="1.2"/>
<circle cx="281.4" cy="89.6" r="0.95" fill="#fff" stroke="none" stroke-width="1.2"/>
<circle cx="250.8" cy="103.0" r="0.66" fill="#fff" stroke="none" stroke-width="1.2"/>
<circle cx="365.7" cy="152.9" r="0.67" fill="#fff" stroke="none" stroke-width="1.2"/>
<circle cx="235.7" cy="96.9" r="1.00" fill="#fff" stroke="none" stroke-width="1.2"/>
<circle cx="297.1" cy="73.1" r="0.99" fill="#fff" stroke="none" stroke-width="1.2"/>
<circle cx="318.9" cy="95.5" r="0.55" fill="#fff" stroke="none" stroke-width="1.2"/>
<circle cx="305.0" cy="113.9" r="0.83" fill="#fff" stroke="none" stroke-width="1.2"/>
<circle cx="264.0" cy="120.6" r="0.75" fill="#fff" stroke="none" stroke-width="1.2"/>
<circle cx="248.3" cy="81.4" r="0.70" fill="#fff" stroke="none" stroke-width="1.2"/>
<circle cx="240.8" cy="70.8" r="0.56" fill="#fff" stroke="none" stroke-width="1.2"/>
<circle cx="230.5" cy="79.6" r="1.04" fill="#fff" stroke="none" stroke-width="1.2"/>
<circle cx="325.4" cy="162.0" r="1.02" fill="#fff" stroke="none" stroke-width="1.2"/>
<circle cx="292.3" cy="131.5" r="0.59" fill="#fff" stroke="none" stroke-width="1.2"/>
<circle cx="319.0" cy="101.6" r="0.65" fill="#fff" stroke="none" stroke-width="1.2"/>
<circle cx="345.8" cy="152.1" r="0.64" fill="#fff" stroke="none" stroke-width="1.2"/>
<circle cx="273.4" cy="110.3" r="0.86" fill="#fff" stroke="none" stroke-width="1.2"/>
<circle cx="269.9" cy="101.7" r="0.93" fill="#fff" stroke="none" stroke-width="1.2"/>
<circle cx="300.3" cy="72.6" r="0.60" fill="#fff" stroke="none" stroke-width="1.2"/>
<circle cx="302.6" cy="124.2" r="0.58" fill="#fff" stroke="none" stroke-width="1.2"/>
<circle cx="333.6" cy="183.9" r="1.03" fill="#fff" stroke="none" stroke-width="1.2"/>
<circle cx="268.1" cy="133.9" r="0.58" fill="#fff" stroke="none" stroke-width="1.2"/>
<circle cx="295.9" cy="120.6" r="0.70" fill="#fff" stroke="none" stroke-width="1.2"/>
<circle cx="315.7" cy="111.2" r="0.83" fill="#fff" stroke="none" stroke-width="1.2"/>
<circle cx="328.5" cy="171.9" r="0.69" fill="#fff" stroke="none" stroke-width="1.2"/>
<circle cx="274.0" cy="136.1" r="1.09" fill="#fff" stroke="none" stroke-width="1.2"/>
<circle cx="289.7" cy="132.3" r="0.85" fill="#fff" stroke="none" stroke-width="1.2"/>
<circle cx="265.9" cy="120.2" r="0.69" fill="#fff" stroke="none" stroke-width="1.2"/>
<circle cx="298.3" cy="129.4" r="0.74" fill="#fff" stroke="none" stroke-width="1.2"/>
<circle cx="247.9" cy="89.8" r="0.55" fill="#fff" stroke="none" stroke-width="1.2"/>
<circle cx="341.5" cy="104.1" r="0.83" fill="#fff" stroke="none" stroke-width="1.2"/>
<circle cx="353.4" cy="173.1" r="0.78" fill="#fff" stroke="none" stroke-width="1.2"/>
<circle cx="302.2" cy="83.6" r="0.92" fill="#fff" stroke="none" stroke-width="1.2"/>
<circle cx="292.6" cy="139.1" r="0.63" fill="#fff" stroke="none" stroke-width="1.2"/>
<circle cx="303.5" cy="106.5" r="0.65" fill="#fff" stroke="none" stroke-width="1.2"/>
<circle cx="276.5" cy="68.3" r="0.65" fill="#fff" stroke="none" stroke-width="1.2"/>
<circle cx="336.1" cy="121.8" r="0.78" fill="#fff" stroke="none" stroke-width="1.2"/>
<circle cx="246.9" cy="91.3" r="0.98" fill="#fff" stroke="none" stroke-width="1.2"/>
<circle cx="352.0" cy="128.3" r="0.94" fill="#fff" stroke="none" stroke-width="1.2"/>
<circle cx="283.7" cy="134.6" r="0.83" fill="#fff" stroke="none" stroke-width="1.2"/>
<circle cx="252.2" cy="82.8" r="0.82" fill="#fff" stroke="none" stroke-width="1.2"/>
<circle cx="265.4" cy="87.9" r="0.99" fill="#fff" stroke="none" stroke-width="1.2"/>
<circle cx="352.8" cy="111.2" r="0.84" fill="#fff" stroke="none" stroke-width="1.2"/>
<circle cx="337.7" cy="161.8" r="0.78" fill="#fff" stroke="none" stroke-width="1.2"/>
<circle cx="342.7" cy="169.8" r="0.63" fill="#fff" stroke="none" stroke-width="1.2"/>
<circle cx="360.4" cy="108.4" r="0.82" fill="#fff" stroke="none" stroke-width="1.2"/>
<circle cx="263.9" cy="60.6" r="0.96" fill="#fff" stroke="none" stroke-width="1.2"/>
<circle cx="305.0" cy="141.8" r="0.89" fill="#fff" stroke="none" stroke-width="1.2"/>
<circle cx="283.7" cy="121.1" r="0.67" fill="#fff" stroke="none" stroke-width="1.2"/>
<circle cx="265.4" cy="120.1" r="0.75" fill="#fff" stroke="none" stroke-width="1.2"/>
<circle cx="332.8" cy="177.9" r="0.95" fill="#fff" stroke="none" stroke-width="1.2"/>
<circle cx="302.0" cy="140.9" r="0.55" fill="#fff" stroke="none" stroke-width="1.2"/>
<circle cx="304.0" cy="97.9" r="1.08" fill="#fff" stroke="none" stroke-width="1.2"/>
<circle cx="257.4" cy="89.1" r="0.93" fill="#fff" stroke="none" stroke-width="1.2"/>
<circle cx="333.0" cy="118.8" r="0.90" fill="#fff" stroke="none" stroke-width="1.2"/>
<circle cx="365.1" cy="133.6" r="0.90" fill="#fff" stroke="none" stroke-width="1.2"/>
<circle cx="325.1" cy="166.1" r="1.00" fill="#fff" stroke="none" stroke-width="1.2"/>
<circle cx="324.2" cy="185.1" r="0.92" fill="#fff" stroke="none" stroke-width="1.2"/>
<circle cx="276.8" cy="61.7" r="0.64" fill="#fff" stroke="none" stroke-width="1.2"/>
<circle cx="307.4" cy="84.7" r="0.91" fill="#fff" stroke="none" stroke-width="1.2"/>
<circle cx="324.3" cy="149.2" r="1.09" fill="#fff" stroke="none" stroke-width="1.2"/>
<circle cx="258.9" cy="79.5" r="0.60" fill="#fff" stroke="none" stroke-width="1.2"/>
<circle cx="307.3" cy="130.3" r="0.62" fill="#fff" stroke="none" stroke-width="1.2"/>
<circle cx="330.5" cy="95.6" r="0.58" fill="#fff" stroke="none" stroke-width="1.2"/>
<circle cx="333.1" cy="93.1" r="1.09" fill="#fff" stroke="none" stroke-width="1.2"/>
<circle cx="347.7" cy="144.0" r="1.06" fill="#fff" stroke="none" stroke-width="1.2"/>
<circle cx="294.1" cy="94.0" r="0.70" fill="#fff" stroke="none" stroke-width="1.2"/>
<circle cx="264.1" cy="79.5" r="0.91" fill="#fff" stroke="none" stroke-width="1.2"/>
<circle cx="266.9" cy="98.9" r="0.57" fill="#fff" stroke="none" stroke-width="1.2"/>
<circle cx="265.3" cy="91.8" r="0.60" fill="#fff" stroke="none" stroke-width="1.2"/>
<circle cx="284.4" cy="115.6" r="1.01" fill="#fff" stroke="none" stroke-width="1.2"/>
<circle cx="291.5" cy="145.0" r="0.93" fill="#fff" stroke="none" stroke-width="1.2"/>
<circle cx="307.5" cy="168.5" r="0.65" fill="#fff" stroke="none" stroke-width="1.2"/>
<circle cx="239.2" cy="71.6" r="0.82" fill="#fff" stroke="none" stroke-width="1.2"/>
<circle cx="326.1" cy="174.0" r="0.86" fill="#fff" stroke="none" stroke-width="1.2"/>
<circle cx="322.8" cy="166.3" r="0.92" fill="#fff" stroke="none" stroke-width="1.2"/>
<circle cx="293.7" cy="109.1" r="0.69" fill="#fff" stroke="none" stroke-width="1.2"/>
<circle cx="240.1" cy="59.1" r="0.74" fill="#fff" stroke="none" stroke-width="1.2"/>
<circle cx="360.5" cy="128.7" r="0.63" fill="#fff" stroke="none" stroke-width="1.2"/>
<circle cx="325.9" cy="83.1" r="0.58" fill="#fff" stroke="none" stroke-width="1.2"/>
<circle cx="246.4" cy="72.7" r="0.58" fill="#fff" stroke="none" stroke-width="1.2"/>
<circle cx="267.2" cy="108.3" r="1.03" fill="#fff" stroke="none" stroke-width="1.2"/>
<circle cx="286.4" cy="84.4" r="1.06" fill="#fff" stroke="none" stroke-width="1.2"/>
<circle cx="262.0" cy="119.7" r="1.07" fill="#fff" stroke="none" stroke-width="1.2"/>
<circle cx="294.7" cy="111.0" r="1.05" fill="#fff" stroke="none" stroke-width="1.2"/>
<circle cx="368.5" cy="124.0" r="0.72" fill="#fff" stroke="none" stroke-width="1.2"/>
<circle cx="311.2" cy="127.9" r="0.97" fill="#fff" stroke="none" stroke-width="1.2"/>
<circle cx="290.9" cy="144.3" r="0.72" fill="#fff" stroke="none" stroke-width="1.2"/>
<circle cx="305.9" cy="79.0" r="0.64" fill="#fff" stroke="none" stroke-width="1.2"/>
<circle cx="255.1" cy="70.8" r="1.07" fill="#fff" stroke="none" stroke-width="1.2"/>
<circle cx="357.2" cy="120.7" r="0.99" fill="#fff" stroke="none" stroke-width="1.2"/>
<circle cx="298.9" cy="127.6" r="0.75" fill="#fff" stroke="none" stroke-width="1.2"/>
<circle cx="300.2" cy="125.3" r="1.10" fill="#fff" stroke="none" stroke-width="1.2"/>
<circle cx="259.7" cy="118.1" r="0.76" fill="#fff" stroke="none" stroke-width="1.2"/>
<circle cx="349.3" cy="122.4" r="1.00" fill="#fff" stroke="none" stroke-width="1.2"/>
<circle cx="278.6" cy="67.2" r="0.60" fill="#fff" stroke="none" stroke-width="1.2"/>
<circle cx="270.4" cy="70.1" r="0.94" fill="#fff" stroke="none" stroke-width="1.2"/>
<circle cx="268.4" cy="126.6" r="0.72" fill="#fff" stroke="none" stroke-width="1.2"/>
<circle cx="310.3" cy="80.1" r="0.97" fill="#fff" stroke="none" stroke-width="1.2"/>
<circle cx="333.8" cy="164.6" r="1.03" fill="#fff" stroke="none" stroke-width="1.2"/>
<circle cx="328.3" cy="163.3" r="0.78" fill="#fff" stroke="none" stroke-width="1.2"/>
<circle cx="353.5" cy="122.4" r="1.07" fill="#fff" stroke="none" stroke-width="1.2"/>
<circle cx="347.2" cy="147.3" r="0.89" fill="#fff" stroke="none" stroke-width="1.2"/>
<circle cx="345.4" cy="117.1" r="1.06" fill="#fff" stroke="none" stroke-width="1.2"/>
<circle cx="289.4" cy="84.9" r="0.87" fill="#fff" stroke="none" stroke-width="1.2"/>
<circle cx="307.7" cy="157.5" r="0.77" fill="#fff" stroke="none" stroke-width="1.2"/>
<circle cx="357.0" cy="159.3" r="0.91" fill="#fff" stroke="none" stroke-width="1.2"/>
<circle cx="316.7" cy="132.8" r="0.74" fill="#fff" stroke="none" stroke-width="1.2"/>
<circle cx="305.7" cy="139.9" r="0.83" fill="#fff" stroke="none" stroke-width="1.2"/>
<circle cx="309.5" cy="93.4" r="0.67" fill="#fff" stroke="none" stroke-width="1.2"/>
<circle cx="278.8" cy="83.3" r="1.01" fill="#fff" stroke="none" stroke-width="1.2"/>
<circle cx="281.4" cy="70.4" r="1.00" fill="#fff" stroke="none" stroke-width="1.2"/>
<circle cx="248.0" cy="89.0" r="0.95" fill="#fff" stroke="none" stroke-width="1.2"/>
<circle cx="315.3" cy="170.6" r="0.62" fill="#fff" stroke="none" stroke-width="1.2"/>
<circle cx="231.2" cy="89.2" r="0.95" fill="#fff" stroke="none" stroke-width="1.2"/>
<circle cx="305.2" cy="127.4" r="1.03" fill="#fff" stroke="none" stroke-width="1.2"/>
<circle cx="280.3" cy="80.6" r="0.81" fill="#fff" stroke="none" stroke-width="1.2"/>
<circle cx="284.1" cy="72.7" r="0.79" fill="#fff" stroke="none" stroke-width="1.2"/>
<circle cx="362.1" cy="148.9" r="1.05" fill="#fff" stroke="none" stroke-width="1.2"/>
<circle cx="347.6" cy="154.7" r="0.57" fill="#fff" stroke="none" stroke-width="1.2"/>
<circle cx="302.9" cy="150.8" r="0.95" fill="#fff" stroke="none" stroke-width="1.2"/>
<circle cx="249.9" cy="115.0" r="0.74" fill="#fff" stroke="none" stroke-width="1.2"/>
<circle cx="339.4" cy="153.8" r="0.82" fill="#fff" stroke="none" stroke-width="1.2"/>
<circle cx="262.1" cy="117.6" r="0.86" fill="#fff" stroke="none" stroke-width="1.2"/>
<circle cx="282.3" cy="118.1" r="0.78" fill="#fff" stroke="none" stroke-width="1.2"/>
<circle cx="308.2" cy="157.1" r="0.71" fill="#fff" stroke="none" stroke-width="1.2"/>
<circle cx="304.8" cy="157.6" r="0.65" fill="#fff" stroke="none" stroke-width="1.2"/>
<circle cx="244.4" cy="65.7" r="0.98" fill="#fff" stroke="none" stroke-width="1.2"/>
<circle cx="343.1" cy="154.9" r="0.79" fill="#fff" stroke="none" stroke-width="1.2"/>
<circle cx="358.0" cy="173.9" r="0.71" fill="#fff" stroke="none" stroke-width="1.2"/>
<circle cx="248.4" cy="67.4" r="0.75" fill="#fff" stroke="none" stroke-width="1.2"/>
<circle cx="279.1" cy="99.7" r="0.87" fill="#fff" stroke="none" stroke-width="1.2"/>
<circle cx="237.2" cy="86.4" r="1.00" fill="#fff" stroke="none" stroke-width="1.2"/>
<circle cx="274.8" cy="107.2" r="0.95" fill="#fff" stroke="none" stroke-width="1.2"/>
<circle cx="336.0" cy="105.4" r="0.81" fill="#fff" stroke="none" stroke-width="1.2"/>
<circle cx="308.2" cy="156.8" r="0.73" fill="#fff" stroke="none" stroke-width="1.2"/>
<circle cx="345.6" cy="168.2" r="0.94" fill="#fff" stroke="none" stroke-width="1.2"/>
<circle cx="287.5" cy="68.3" r="0.87" fill="#fff" stroke="none" stroke-width="1.2"/>
<circle cx="326.6" cy="85.1" r="0.86" fill="#fff" stroke="none" stroke-width="1.2"/>
<circle cx="299.9" cy="152.5" r="1.08" fill="#fff" stroke="none" stroke-width="1.2"/>
<circle cx="293.5" cy="109.0" r="0.71" fill="#fff" stroke="none" stroke-width="1.2"/>
<circle cx="266.0" cy="90.5" r="0.80" fill="#fff" stroke="none" stroke-width="1.2"/>
<circle cx="248.6" cy="67.1" r="0.63" fill="#fff" stroke="none" stroke-width="1.2"/>
<circle cx="333.2" cy="127.0" r="0.98" fill="#fff" stroke="none" stroke-width="1.2"/>
<circle cx="363.0" cy="128.9" r="0.97" fill="#fff" stroke="none" stroke-width="1.2"/>
<circle cx="265.4" cy="78.0" r="0.83" fill="#fff" stroke="none" stroke-width="1.2"/>
<circle cx="340.5" cy="115.8" r="0.66" fill="#fff" stroke="none" stroke-width="1.2"/>
<circle cx="248.6" cy="103.9" r="0.71" fill="#fff" stroke="none" stroke-width="1.2"/>
<circle cx="351.7" cy="129.4" r="0.89" fill="#fff" stroke="none" stroke-width="1.2"/>
<circle cx="269.9" cy="79.3" r="0.75" fill="#fff" stroke="none" stroke-width="1.2"/>
<circle cx="369.3" cy="140.6" r="0.75" fill="#fff" stroke="none" stroke-width="1.2"/>
<circle cx="258.8" cy="62.3" r="0.70" fill="#fff" stroke="none" stroke-width="1.2"/>
<circle cx="325.4" cy="100.7" r="0.72" fill="#fff" stroke="none" stroke-width="1.2"/>
<circle cx="252.3" cy="105.7" r="0.67" fill="#fff" stroke="none" stroke-width="1.2"/>
<circle cx="291.1" cy="121.0" r="1.06" fill="#fff" stroke="none" stroke-width="1.2"/>
<circle cx="370.9" cy="147.4" r="1.06" fill="#fff" stroke="none" stroke-width="1.2"/>
<circle cx="237.7" cy="64.6" r="0.61" fill="#fff" stroke="none" stroke-width="1.2"/>
<circle cx="316.4" cy="108.6" r="0.99" fill="#fff" stroke="none" stroke-width="1.2"/>
<circle cx="358.8" cy="106.1" r="0.66" fill="#fff" stroke="none" stroke-width="1.2"/>
<circle cx="329.0" cy="148.0" r="0.60" fill="#fff" stroke="none" stroke-width="1.2"/>
<circle cx="311.1" cy="153.8" r="0.90" fill="#fff" stroke="none" stroke-width="1.2"/>
<circle cx="237.8" cy="103.2" r="0.60" fill="#fff" stroke="none" stroke-width="1.2"/>
<circle cx="332.3" cy="166.0" r="0.72" fill="#fff" stroke="none" stroke-width="1.2"/>
<circle cx="279.5" cy="76.5" r="0.70" fill="#fff" stroke="none" stroke-width="1.2"/>
<circle cx="289.6" cy="118.1" r="0.93" fill="#fff" stroke="none" stroke-width="1.2"/>
<circle cx="343.1" cy="159.7" r="0.81" fill="#fff" stroke="none" stroke-width="1.2"/>
<circle cx="363.8" cy="113.0" r="0.61" fill="#fff" stroke="none" stroke-width="1.2"/>
<circle cx="315.4" cy="94.1" r="0.67" fill="#fff" stroke="none" stroke-width="1.2"/>
<circle cx="326.5" cy="161.9" r="0.81" fill="#fff" stroke="none" stroke-width="1.2"/>
<circle cx="307.2" cy="157.5" r="1.03" fill="#fff" stroke="none" stroke-width="1.2"/>
<circle cx="311.7" cy="154.6" r="1.05" fill="#fff" stroke="none" stroke-width="1.2"/>
<circle cx="277.2" cy="130.5" r="0.92" fill="#fff" stroke="none" stroke-width="1.2"/>
<circle cx="309.5" cy="105.3" r="0.80" fill="#fff" stroke="none" stroke-width="1.2"/>
<circle cx="240.0" cy="77.4" r="0.66" fill="#fff" stroke="none" stroke-width="1.2"/>
<circle cx="302.1" cy="95.4" r="0.55" fill="#fff" stroke="none" stroke-width="1.2"/>
<circle cx="235.6" cy="108.0" r="1.05" fill="#fff" stroke="none" stroke-width="1.2"/>
<circle cx="241.3" cy="73.4" r="0.72" fill="#fff" stroke="none" stroke-width="1.2"/>
<circle cx="274.4" cy="123.0" r="0.76" fill="#fff" stroke="none" stroke-width="1.2"/>
<circle cx="343.8" cy="108.5" r="0.82" fill="#fff" stroke="none" stroke-width="1.2"/>
<circle cx="249.0" cy="71.4" r="0.75" fill="#fff" stroke="none" stroke-width="1.2"/>
<circle cx="347.8" cy="102.3" r="0.86" fill="#fff" stroke="none" stroke-width="1.2"/>
<circle cx="309.4" cy="128.6" r="0.87" fill="#fff" stroke="none" stroke-width="1.2"/>
<circle cx="338.8" cy="86.6" r="0.80" fill="#fff" stroke="none" stroke-width="1.2"/>
<circle cx="343.5" cy="174.3" r="0.77" fill="#fff" stroke="none" stroke-width="1.2"/>
<circle cx="328.5" cy="137.2" r="0.95" fill="#fff" stroke="none" stroke-width="1.2"/>
<circle cx="348.1" cy="139.6" r="1.04" fill="#fff" stroke="none" stroke-width="1.2"/>
<circle cx="296.8" cy="89.3" r="0.96" fill="#fff" stroke="none" stroke-width="1.2"/>
<circle cx="269.6" cy="67.6" r="0.94" fill="#fff" stroke="none" stroke-width="1.2"/>
<circle cx="242.5" cy="66.8" r="0.97" fill="#fff" stroke="none" stroke-width="1.2"/>
<circle cx="255.4" cy="105.7" r="0.61" fill="#fff" stroke="none" stroke-width="1.2"/>
<circle cx="316.9" cy="149.2" r="0.88" fill="#fff" stroke="none" stroke-width="1.2"/>
<circle cx="253.6" cy="69.3" r="0.78" fill="#fff" stroke="none" stroke-width="1.2"/>
<circle cx="343.4" cy="111.5" r="0.60" fill="#fff" stroke="none" stroke-width="1.2"/>
<circle cx="317.1" cy="150.5" r="0.98" fill="#fff" stroke="none" stroke-width="1.2"/>
<circle cx="258.8" cy="115.2" r="0.97" fill="#fff" stroke="none" stroke-width="1.2"/>
<circle cx="293.6" cy="80.8" r="0.58" fill="#fff" stroke="none" stroke-width="1.2"/>
<circle cx="301.2" cy="140.6" r="0.79" fill="#fff" stroke="none" stroke-width="1.2"/>
<circle cx="262.3" cy="58.1" r="0.91" fill="#fff" stroke="none" stroke-width="1.2"/>
<circle cx="306.0" cy="107.2" r="0.81" fill="#fff" stroke="none" stroke-width="1.2"/>
<circle cx="297.1" cy="86.2" r="1.01" fill="#fff" stroke="none" stroke-width="1.2"/>
<circle cx="296.5" cy="89.8" r="1.04" fill="#fff" stroke="none" stroke-width="1.2"/>
<circle cx="364.8" cy="134.2" r="0.68" fill="#fff" stroke="none" stroke-width="1.2"/>
<circle cx="271.5" cy="110.9" r="0.56" fill="#fff" stroke="none" stroke-width="1.2"/>
<circle cx="335.5" cy="181.4" r="0.62" fill="#fff" stroke="none" stroke-width="1.2"/>
<circle cx="349.0" cy="160.6" r="0.67" fill="#fff" stroke="none" stroke-width="1.2"/>
<circle cx="287.5" cy="82.0" r="1.07" fill="#fff" stroke="none" stroke-width="1.2"/>
<circle cx="351.6" cy="126.7" r="0.90" fill="#fff" stroke="none" stroke-width="1.2"/>
<circle cx="321.6" cy="180.7" r="1.03" fill="#fff" stroke="none" stroke-width="1.2"/>
<circle cx="328.3" cy="184.7" r="0.87" fill="#fff" stroke="none" stroke-width="1.2"/>
<circle cx="305.4" cy="97.8" r="0.57" fill="#fff" stroke="none" stroke-width="1.2"/>
<circle cx="293.7" cy="86.5" r="0.86" fill="#fff" stroke="none" stroke-width="1.2"/>
<circle cx="248.7" cy="65.3" r="0.89" fill="#fff" stroke="none" stroke-width="1.2"/>
<circle cx="353.4" cy="126.1" r="0.59" fill="#fff" stroke="none" stroke-width="1.2"/>
<circle cx="317.6" cy="111.7" r="1.00" fill="#fff" stroke="none" stroke-width="1.2"/>
<circle cx="229.2" cy="85.3" r="1.07" fill="#fff" stroke="none" stroke-width="1.2"/>
<circle cx="343.8" cy="180.6" r="0.60" fill="#fff" stroke="none" stroke-width="1.2"/>
<circle cx="302.1" cy="97.3" r="0.68" fill="#fff" stroke="none" stroke-width="1.2"/>
<circle cx="314.4" cy="114.1" r="0.55" fill="#fff" stroke="none" stroke-width="1.2"/>
<circle cx="283.7" cy="120.8" r="0.68" fill="#fff" stroke="none" stroke-width="1.2"/>
<circle cx="270.0" cy="102.2" r="0.81" fill="#fff" stroke="none" stroke-width="1.2"/>
<circle cx="289.1" cy="83.3" r="0.61" fill="#fff" stroke="none" stroke-width="1.2"/>
<circle cx="363.8" cy="126.8" r="0.78" fill="#fff" stroke="none" stroke-width="1.2"/>
<circle cx="321.4" cy="113.7" r="0.96" fill="#fff" stroke="none" stroke-width="1.2"/>
<circle cx="270.2" cy="82.7" r="0.77" fill="#fff" stroke="none" stroke-width="1.2"/>
<circle cx="271.2" cy="91.1" r="0.62" fill="#fff" stroke="none" stroke-width="1.2"/>
<circle cx="279.6" cy="119.0" r="0.99" fill="#fff" stroke="none" stroke-width="1.2"/>
<circle cx="242.4" cy="107.4" r="0.76" fill="#fff" stroke="none" stroke-width="1.2"/>
<circle cx="315.5" cy="129.3" r="0.72" fill="#fff" stroke="none" stroke-width="1.2"/>
<circle cx="301.1" cy="153.2" r="0.71" fill="#fff" stroke="none" stroke-width="1.2"/>
<circle cx="338.5" cy="135.3" r="0.95" fill="#fff" stroke="none" stroke-width="1.2"/>
<circle cx="310.4" cy="101.8" r="0.76" fill="#fff" stroke="none" stroke-width="1.2"/>
<circle cx="335.6" cy="161.2" r="1.03" fill="#fff" stroke="none" stroke-width="1.2"/>
<circle cx="262.9" cy="103.4" r="0.91" fill="#fff" stroke="none" stroke-width="1.2"/>
<circle cx="296.5" cy="132.8" r="0.71" fill="#fff" stroke="none" stroke-width="1.2"/>
<circle cx="238.8" cy="89.2" r="1.03" fill="#fff" stroke="none" stroke-width="1.2"/>
<circle cx="288.1" cy="118.1" r="1.04" fill="#fff" stroke="none" stroke-width="1.2"/>
<circle cx="343.2" cy="175.2" r="0.94" fill="#fff" stroke="none" stroke-width="1.2"/>
<circle cx="298.3" cy="100.3" r="0.76" fill="#fff" stroke="none" stroke-width="1.2"/>
<circle cx="356.2" cy="160.2" r="1.09" fill="#fff" stroke="none" stroke-width="1.2"/>
<circle cx="283.5" cy="99.9" r="0.85" fill="#fff" stroke="none" stroke-width="1.2"/>
<circle cx="239.6" cy="85.4" r="0.87" fill="#fff" stroke="none" stroke-width="1.2"/>
<circle cx="367.1" cy="121.8" r="0.72" fill="#fff" stroke="none" stroke-width="1.2"/>
<circle cx="336.9" cy="134.5" r="0.95" fill="#fff" stroke="none" stroke-width="1.2"/>
<circle cx="302.8" cy="106.6" r="0.59" fill="#fff" stroke="none" stroke-width="1.2"/>
<circle cx="289.9" cy="140.9" r="0.96" fill="#fff" stroke="none" stroke-width="1.2"/>
<circle cx="250.5" cy="69.2" r="0.81" fill="#fff" stroke="none" stroke-width="1.2"/>
<circle cx="251.9" cy="59.4" r="1.00" fill="#fff" stroke="none" stroke-width="1.2"/>
<circle cx="276.3" cy="79.7" r="0.62" fill="#fff" stroke="none" stroke-width="1.2"/>
<circle cx="311.4" cy="100.0" r="0.71" fill="#fff" stroke="none" stroke-width="1.2"/>
<circle cx="309.2" cy="99.9" r="0.77" fill="#fff" stroke="none" stroke-width="1.2"/>
<circle cx="250.3" cy="82.6" r="1.10" fill="#fff" stroke="none" stroke-width="1.2"/>
<circle cx="276.5" cy="130.3" r="0.85" fill="#fff" stroke="none" stroke-width="1.2"/>
<circle cx="312.5" cy="153.4" r="0.91" fill="#fff" stroke="none" stroke-width="1.2"/>
<circle cx="303.5" cy="92.1" r="0.88" fill="#fff" stroke="none" stroke-width="1.2"/>
<circle cx="265.7" cy="103.0" r="0.82" fill="#fff" stroke="none" stroke-width="1.2"/>
<circle cx="348.3" cy="161.1" r="0.75" fill="#fff" stroke="none" stroke-width="1.2"/>
<circle cx="271.5" cy="135.4" r="0.77" fill="#fff" stroke="none" stroke-width="1.2"/>
<circle cx="290.9" cy="124.5" r="0.58" fill="#fff" stroke="none" stroke-width="1.2"/>
<circle cx="268.2" cy="100.1" r="0.86" fill="#fff" stroke="none" stroke-width="1.2"/>
<circle cx="322.8" cy="129.5" r="0.61" fill="#fff" stroke="none" stroke-width="1.2"/>
<circle cx="232.2" cy="88.5" r="0.59" fill="#fff" stroke="none" stroke-width="1.2"/>
<circle cx="308.0" cy="120.6" r="0.92" fill="#fff" stroke="none" stroke-width="1.2"/>
<circle cx="358.5" cy="105.9" r="0.57" fill="#fff" stroke="none" stroke-width="1.2"/>
<circle cx="315.2" cy="138.7" r="0.91" fill="#fff" stroke="none" stroke-width="1.2"/>
<circle cx="343.1" cy="120.4" r="0.77" fill="#fff" stroke="none" stroke-width="1.2"/>
<circle cx="260.3" cy="127.1" r="0.95" fill="#fff" stroke="none" stroke-width="1.2"/>
<circle cx="309.6" cy="125.9" r="0.58" fill="#fff" stroke="none" stroke-width="1.2"/>
<circle cx="368.5" cy="161.7" r="0.56" fill="#fff" stroke="none" stroke-width="1.2"/>
<circle cx="307.6" cy="170.8" r="0.86" fill="#fff" stroke="none" stroke-width="1.2"/>
<circle cx="327.0" cy="172.8" r="0.96" fill="#fff" stroke="none" stroke-width="1.2"/>
<circle cx="356.2" cy="154.0" r="0.61" fill="#fff" stroke="none" stroke-width="1.2"/>
<circle cx="344.0" cy="172.5" r="0.87" fill="#fff" stroke="none" stroke-width="1.2"/>
<circle cx="320.5" cy="81.1" r="0.92" fill="#fff" stroke="none" stroke-width="1.2"/>
<circle cx="331.5" cy="168.0" r="1.02" fill="#fff" stroke="none" stroke-width="1.2"/>
<circle cx="345.9" cy="163.1" r="0.71" fill="#fff" stroke="none" stroke-width="1.2"/>
<circle cx="332.6" cy="129.8" r="0.83" fill="#fff" stroke="none" stroke-width="1.2"/>
<circle cx="329.1" cy="180.1" r="1.08" fill="#fff" stroke="none" stroke-width="1.2"/>
<circle cx="287.4" cy="93.1" r="0.93" fill="#fff" stroke="none" stroke-width="1.2"/>
<circle cx="323.7" cy="161.5" r="0.91" fill="#fff" stroke="none" stroke-width="1.2"/>
<circle cx="294.2" cy="96.0" r="0.91" fill="#fff" stroke="none" stroke-width="1.2"/>
<circle cx="359.9" cy="116.5" r="0.88" fill="#fff" stroke="none" stroke-width="1.2"/>
<circle cx="301.4" cy="111.9" r="0.73" fill="#fff" stroke="none" stroke-width="1.2"/>
<circle cx="273.4" cy="125.1" r="0.59" fill="#fff" stroke="none" stroke-width="1.2"/>
<circle cx="344.7" cy="151.5" r="0.89" fill="#fff" stroke="none" stroke-width="1.2"/>
<circle cx="239.2" cy="105.3" r="0.74" fill="#fff" stroke="none" stroke-width="1.2"/>
<circle cx="252.0" cy="78.5" r="0.91" fill="#fff" stroke="none" stroke-width="1.2"/>
<circle cx="355.3" cy="123.7" r="0.68" fill="#fff" stroke="none" stroke-width="1.2"/>
<circle cx="304.2" cy="110.3" r="0.60" fill="#fff" stroke="none" stroke-width="1.2"/>
<circle cx="233.3" cy="102.3" r="0.65" fill="#fff" stroke="none" stroke-width="1.2"/>
<circle cx="345.6" cy="94.8" r="0.85" fill="#fff" stroke="none" stroke-width="1.2"/>
<circle cx="239.7" cy="69.4" r="0.64" fill="#fff" stroke="none" stroke-width="1.2"/>
<circle cx="316.0" cy="173.7" r="0.92" fill="#fff" stroke="none" stroke-width="1.2"/>
<circle cx="319.9" cy="182.8" r="0.74" fill="#fff" stroke="none" stroke-width="1.2"/>
<circle cx="267.3" cy="129.3" r="0.85" fill="#fff" stroke="none" stroke-width="1.2"/>
<circle cx="313.6" cy="146.6" r="0.85" fill="#fff" stroke="none" stroke-width="1.2"/>
<circle cx="274.7" cy="67.2" r="0.97" fill="#fff" stroke="none" stroke-width="1.2"/>
<circle cx="257.3" cy="99.4" r="1.04" fill="#fff" stroke="none" stroke-width="1.2"/>
<circle cx="337.1" cy="92.9" r="0.71" fill="#fff" stroke="none" stroke-width="1.2"/>
<circle cx="251.3" cy="119.4" r="0.62" fill="#fff" stroke="none" stroke-width="1.2"/>
<circle cx="275.3" cy="120.0" r="1.04" fill="#fff" stroke="none" stroke-width="1.2"/>
<circle cx="367.0" cy="146.5" r="0.83" fill="#fff" stroke="none" stroke-width="1.2"/>
<circle cx="358.4" cy="117.3" r="0.59" fill="#fff" stroke="none" stroke-width="1.2"/>
<circle cx="337.0" cy="123.2" r="0.74" fill="#fff" stroke="none" stroke-width="1.2"/>
<circle cx="273.1" cy="124.6" r="0.80" fill="#fff" stroke="none" stroke-width="1.2"/>
<circle cx="259.1" cy="108.4" r="0.63" fill="#fff" stroke="none" stroke-width="1.2"/>
<circle cx="265.1" cy="82.8" r="0.91" fill="#fff" stroke="none" stroke-width="1.2"/>
<circle cx="312.9" cy="135.7" r="1.01" fill="#fff" stroke="none" stroke-width="1.2"/>
<circle cx="252.9" cy="83.7" r="0.62" fill="#fff" stroke="none" stroke-width="1.2"/>
<circle cx="330.2" cy="184.9" r="1.09" fill="#fff" stroke="none" stroke-width="1.2"/>
<circle cx="320.9" cy="116.9" r="0.69" fill="#fff" stroke="none" stroke-width="1.2"/>
<circle cx="237.0" cy="90.1" r="0.57" fill="#fff" stroke="none" stroke-width="1.2"/>
<circle cx="290.3" cy="115.2" r="0.58" fill="#fff" stroke="none" stroke-width="1.2"/>
<circle cx="319.4" cy="103.0" r="0.84" fill="#fff" stroke="none" stroke-width="1.2"/>
<circle cx="339.1" cy="86.7" r="0.71" fill="#fff" stroke="none" stroke-width="1.2"/>
<circle cx="355.7" cy="171.4" r="0.96" fill="#fff" stroke="none" stroke-width="1.2"/>
<circle cx="305.8" cy="78.9" r="0.86" fill="#fff" stroke="none" stroke-width="1.2"/>
<circle cx="362.3" cy="136.3" r="0.58" fill="#fff" stroke="none" stroke-width="1.2"/>
<circle cx="328.9" cy="152.2" r="0.61" fill="#fff" stroke="none" stroke-width="1.2"/>
<circle cx="302.7" cy="87.9" r="0.60" fill="#fff" stroke="none" stroke-width="1.2"/>
<circle cx="310.5" cy="167.0" r="0.90" fill="#fff" stroke="none" stroke-width="1.2"/>
<circle cx="303.5" cy="113.4" r="0.90" fill="#fff" stroke="none" stroke-width="1.2"/>
<circle cx="326.4" cy="100.7" r="0.73" fill="#fff" stroke="none" stroke-width="1.2"/>
<circle cx="290.1" cy="134.1" r="0.77" fill="#fff" stroke="none" stroke-width="1.2"/>
<circle cx="227.7" cy="79.1" r="1.04" fill="#fff" stroke="none" stroke-width="1.2"/>
<circle cx="258.1" cy="71.7" r="1.06" fill="#fff" stroke="none" stroke-width="1.2"/>
<circle cx="284.0" cy="105.3" r="0.79" fill="#fff" stroke="none" stroke-width="1.2"/>
<circle cx="269.7" cy="101.3" r="0.72" fill="#fff" stroke="none" stroke-width="1.2"/>
<circle cx="289.0" cy="143.0" r="1.04" fill="#fff" stroke="none" stroke-width="1.2"/>
<circle cx="326.9" cy="166.1" r="0.67" fill="#fff" stroke="none" stroke-width="1.2"/>
<circle cx="250.5" cy="62.3" r="0.76" fill="#fff" stroke="none" stroke-width="1.2"/>
<circle cx="333.9" cy="184.9" r="0.89" fill="#fff" stroke="none" stroke-width="1.2"/>
<circle cx="346.9" cy="179.2" r="0.72" fill="#fff" stroke="none" stroke-width="1.2"/>
<circle cx="316.2" cy="182.9" r="0.73" fill="#fff" stroke="none" stroke-width="1.2"/>
<circle cx="268.0" cy="132.0" r="1.07" fill="#fff" stroke="none" stroke-width="1.2"/>
<circle cx="289.6" cy="119.4" r="1.09" fill="#fff" stroke="none" stroke-width="1.2"/>
<circle cx="353.4" cy="157.5" r="0.90" fill="#fff" stroke="none" stroke-width="1.2"/>
<circle cx="275.9" cy="90.8" r="0.85" fill="#fff" stroke="none" stroke-width="1.2"/>
<circle cx="324.9" cy="185.4" r="0.97" fill="#fff" stroke="none" stroke-width="1.2"/>
<circle cx="347.0" cy="96.7" r="1.03" fill="#fff" stroke="none" stroke-width="1.2"/>
<circle cx="246.4" cy="111.8" r="1.06" fill="#fff" stroke="none" stroke-width="1.2"/>
<circle cx="312.5" cy="178.6" r="1.01" fill="#fff" stroke="none" stroke-width="1.2"/>
<circle cx="243.5" cy="85.0" r="0.83" fill="#fff" stroke="none" stroke-width="1.2"/>
<circle cx="368.4" cy="137.1" r="0.65" fill="#fff" stroke="none" stroke-width="1.2"/>
<circle cx="310.8" cy="120.4" r="0.70" fill="#fff" stroke="none" stroke-width="1.2"/>
<circle cx="292.2" cy="143.8" r="1.07" fill="#fff" stroke="none" stroke-width="1.2"/>
<circle cx="341.6" cy="133.0" r="0.80" fill="#fff" stroke="none" stroke-width="1.2"/>
<circle cx="301.8" cy="99.0" r="1.02" fill="#fff" stroke="none" stroke-width="1.2"/>
<circle cx="230.9" cy="97.0" r="0.88" fill="#fff" stroke="none" stroke-width="1.2"/>
<circle cx="362.6" cy="172.4" r="1.07" fill="#fff" stroke="none" stroke-width="1.2"/>
<circle cx="285.9" cy="69.6" r="0.94" fill="#fff" stroke="none" stroke-width="1.2"/>
<circle cx="307.5" cy="93.6" r="1.09" fill="#fff" stroke="none" stroke-width="1.2"/>
<circle cx="338.0" cy="174.5" r="0.74" fill="#fff" stroke="none" stroke-width="1.2"/>
<circle cx="354.6" cy="127.0" r="1.03" fill="#fff" stroke="none" stroke-width="1.2"/>
<circle cx="241.2" cy="116.3" r="1.00" fill="#fff" stroke="none" stroke-width="1.2"/>
<circle cx="355.8" cy="127.4" r="1.01" fill="#fff" stroke="none" stroke-width="1.2"/>
<circle cx="317.2" cy="175.8" r="0.74" fill="#fff" stroke="none" stroke-width="1.2"/>
<circle cx="260.5" cy="105.9" r="1.08" fill="#fff" stroke="none" stroke-width="1.2"/>
<circle cx="259.6" cy="64.0" r="0.73" fill="#fff" stroke="none" stroke-width="1.2"/>
<circle cx="265.0" cy="67.7" r="0.68" fill="#fff" stroke="none" stroke-width="1.2"/>
<circle cx="259.7" cy="75.5" r="0.91" fill="#fff" stroke="none" stroke-width="1.2"/>
<circle cx="320.6" cy="150.6" r="0.84" fill="#fff" stroke="none" stroke-width="1.2"/>
<circle cx="331.5" cy="120.0" r="0.84" fill="#fff" stroke="none" stroke-width="1.2"/>
<circle cx="326.6" cy="138.3" r="0.86" fill="#fff" stroke="none" stroke-width="1.2"/>
<circle cx="247.1" cy="84.0" r="0.78" fill="#fff" stroke="none" stroke-width="1.2"/>
<circle cx="240.8" cy="103.9" r="0.82" fill="#fff" stroke="none" stroke-width="1.2"/>
<circle cx="282.6" cy="132.1" r="0.83" fill="#fff" stroke="none" stroke-width="1.2"/>
<circle cx="346.0" cy="105.1" r="1.06" fill="#fff" stroke="none" stroke-width="1.2"/>
<circle cx="355.4" cy="124.4" r="0.63" fill="#fff" stroke="none" stroke-width="1.2"/>
<circle cx="344.0" cy="111.9" r="0.97" fill="#fff" stroke="none" stroke-width="1.2"/>
<circle cx="280.1" cy="80.1" r="0.98" fill="#fff" stroke="none" stroke-width="1.2"/>
<circle cx="343.6" cy="99.4" r="0.89" fill="#fff" stroke="none" stroke-width="1.2"/>
<circle cx="306.2" cy="118.8" r="1.03" fill="#fff" stroke="none" stroke-width="1.2"/>
<circle cx="240.8" cy="116.2" r="0.96" fill="#fff" stroke="none" stroke-width="1.2"/>
<circle cx="304.4" cy="145.9" r="0.79" fill="#fff" stroke="none" stroke-width="1.2"/>
<circle cx="246.9" cy="112.0" r="0.75" fill="#fff" stroke="none" stroke-width="1.2"/>
<circle cx="354.8" cy="173.3" r="0.76" fill="#fff" stroke="none" stroke-width="1.2"/>
<circle cx="303.3" cy="94.6" r="0.85" fill="#fff" stroke="none" stroke-width="1.2"/>
<circle cx="265.4" cy="118.0" r="0.64" fill="#fff" stroke="none" stroke-width="1.2"/>
<circle cx="343.4" cy="118.8" r="0.71" fill="#fff" stroke="none" stroke-width="1.2"/>
<circle cx="283.1" cy="92.1" r="0.71" fill="#fff" stroke="none" stroke-width="1.2"/>
<circle cx="271.3" cy="205.3" r="0.56" fill="#fff" stroke="none" stroke-width="1.2"/>
<circle cx="300.4" cy="203.8" r="0.57" fill="#fff" stroke="none" stroke-width="1.2"/>
<circle cx="290.5" cy="226.2" r="0.78" fill="#fff" stroke="none" stroke-width="1.2"/>
<circle cx="260.5" cy="289.9" r="0.69" fill="#fff" stroke="none" stroke-width="1.2"/>
<circle cx="302.0" cy="229.9" r="0.84" fill="#fff" stroke="none" stroke-width="1.2"/>
<circle cx="296.0" cy="283.6" r="0.65" fill="#fff" stroke="none" stroke-width="1.2"/>
<circle cx="268.5" cy="308.5" r="0.68" fill="#fff" stroke="none" stroke-width="1.2"/>
<circle cx="256.1" cy="286.9" r="1.03" fill="#fff" stroke="none" stroke-width="1.2"/>
<circle cx="296.7" cy="293.4" r="0.76" fill="#fff" stroke="none" stroke-width="1.2"/>
<circle cx="304.5" cy="235.9" r="0.56" fill="#fff" stroke="none" stroke-width="1.2"/>
<circle cx="269.5" cy="216.1" r="0.94" fill="#fff" stroke="none" stroke-width="1.2"/>
<circle cx="247.8" cy="293.0" r="0.58" fill="#fff" stroke="none" stroke-width="1.2"/>
<circle cx="280.3" cy="300.6" r="0.77" fill="#fff" stroke="none" stroke-width="1.2"/>
<circle cx="303.7" cy="211.2" r="0.74" fill="#fff" stroke="none" stroke-width="1.2"/>
<circle cx="297.2" cy="229.2" r="0.95" fill="#fff" stroke="none" stroke-width="1.2"/>
<circle cx="304.2" cy="233.7" r="0.77" fill="#fff" stroke="none" stroke-width="1.2"/>
<circle cx="276.4" cy="215.5" r="0.91" fill="#fff" stroke="none" stroke-width="1.2"/>
<circle cx="278.8" cy="192.0" r="0.95" fill="#fff" stroke="none" stroke-width="1.2"/>
<circle cx="265.2" cy="270.4" r="0.74" fill="#fff" stroke="none" stroke-width="1.2"/>
<circle cx="298.7" cy="286.7" r="0.84" fill="#fff" stroke="none" stroke-width="1.2"/>
<circle cx="310.9" cy="233.0" r="0.80" fill="#fff" stroke="none" stroke-width="1.2"/>
<circle cx="299.8" cy="248.8" r="0.79" fill="#fff" stroke="none" stroke-width="1.2"/>
<circle cx="281.7" cy="280.4" r="0.90" fill="#fff" stroke="none" stroke-width="1.2"/>
<circle cx="288.2" cy="267.4" r="0.56" fill="#fff" stroke="none" stroke-width="1.2"/>
<circle cx="270.7" cy="294.9" r="0.80" fill="#fff" stroke="none" stroke-width="1.2"/>
<circle cx="271.3" cy="261.7" r="1.04" fill="#fff" stroke="none" stroke-width="1.2"/>
<circle cx="269.3" cy="306.9" r="0.62" fill="#fff" stroke="none" stroke-width="1.2"/>
<circle cx="301.2" cy="236.4" r="0.60" fill="#fff" stroke="none" stroke-width="1.2"/>
<circle cx="263.1" cy="284.9" r="0.97" fill="#fff" stroke="none" stroke-width="1.2"/>
<circle cx="248.6" cy="286.7" r="1.09" fill="#fff" stroke="none" stroke-width="1.2"/>
<circle cx="287.6" cy="211.6" r="0.61" fill="#fff" stroke="none" stroke-width="1.2"/>
<circle cx="260.6" cy="282.7" r="0.82" fill="#fff" stroke="none" stroke-width="1.2"/>
<circle cx="294.5" cy="274.4" r="0.96" fill="#fff" stroke="none" stroke-width="1.2"/>
<circle cx="287.6" cy="302.7" r="0.89" fill="#fff" stroke="none" stroke-width="1.2"/>
<circle cx="281.0" cy="265.2" r="0.73" fill="#fff" stroke="none" stroke-width="1.2"/>
<circle cx="298.1" cy="286.9" r="0.80" fill="#fff" stroke="none" stroke-width="1.2"/>
<circle cx="284.4" cy="202.5" r="0.99" fill="#fff" stroke="none" stroke-width="1.2"/>
<circle cx="299.4" cy="231.1" r="0.67" fill="#fff" stroke="none" stroke-width="1.2"/>
<circle cx="287.5" cy="215.3" r="1.02" fill="#fff" stroke="none" stroke-width="1.2"/>
<circle cx="269.7" cy="301.7" r="1.01" fill="#fff" stroke="none" stroke-width="1.2"/>
<circle cx="264.3" cy="268.4" r="0.95" fill="#fff" stroke="none" stroke-width="1.2"/>
<circle cx="262.1" cy="297.3" r="0.77" fill="#fff" stroke="none" stroke-width="1.2"/>
<circle cx="270.0" cy="266.2" r="0.96" fill="#fff" stroke="none" stroke-width="1.2"/>
<circle cx="297.0" cy="200.7" r="1.01" fill="#fff" stroke="none" stroke-width="1.2"/>
<circle cx="259.0" cy="307.4" r="0.94" fill="#fff" stroke="none" stroke-width="1.2"/>
<circle cx="283.2" cy="269.0" r="0.66" fill="#fff" stroke="none" stroke-width="1.2"/>
<circle cx="280.9" cy="204.8" r="1.01" fill="#fff" stroke="none" stroke-width="1.2"/>
<circle cx="309.7" cy="207.5" r="0.76" fill="#fff" stroke="none" stroke-width="1.2"/>
<circle cx="268.7" cy="264.6" r="0.79" fill="#fff" stroke="none" stroke-width="1.2"/>
<circle cx="289.1" cy="225.8" r="1.04" fill="#fff" stroke="none" stroke-width="1.2"/>
<circle cx="272.0" cy="230.0" r="0.67" fill="#fff" stroke="none" stroke-width="1.2"/>
<circle cx="292.9" cy="217.7" r="0.65" fill="#fff" stroke="none" stroke-width="1.2"/>
<circle cx="309.3" cy="225.4" r="0.65" fill="#fff" stroke="none" stroke-width="1.2"/>
<circle cx="272.8" cy="234.8" r="0.71" fill="#fff" stroke="none" stroke-width="1.2"/>
<circle cx="297.3" cy="264.5" r="1.06" fill="#fff" stroke="none" stroke-width="1.2"/>
<circle cx="276.0" cy="274.7" r="0.99" fill="#fff" stroke="none" stroke-width="1.2"/>
<circle cx="287.7" cy="195.8" r="0.72" fill="#fff" stroke="none" stroke-width="1.2"/>
<circle cx="274.8" cy="198.9" r="1.06" fill="#fff" stroke="none" stroke-width="1.2"/>
<circle cx="266.0" cy="301.1" r="0.87" fill="#fff" stroke="none" stroke-width="1.2"/>
<circle cx="262.5" cy="272.7" r="0.70" fill="#fff" stroke="none" stroke-width="1.2"/>
<circle cx="295.3" cy="237.0" r="0.77" fill="#fff" stroke="none" stroke-width="1.2"/>
<circle cx="274.6" cy="306.2" r="1.03" fill="#fff" stroke="none" stroke-width="1.2"/>
<circle cx="257.9" cy="296.0" r="0.60" fill="#fff" stroke="none" stroke-width="1.2"/>
<circle cx="305.8" cy="246.0" r="0.66" fill="#fff" stroke="none" stroke-width="1.2"/>
<circle cx="252.1" cy="308.3" r="1.04" fill="#fff" stroke="none" stroke-width="1.2"/>
<circle cx="284.2" cy="232.3" r="1.05" fill="#fff" stroke="none" stroke-width="1.2"/>
<circle cx="265.2" cy="213.1" r="0.96" fill="#fff" stroke="none" stroke-width="1.2"/>
<circle cx="270.2" cy="229.4" r="0.70" fill="#fff" stroke="none" stroke-width="1.2"/>
<circle cx="262.9" cy="284.5" r="0.71" fill="#fff" stroke="none" stroke-width="1.2"/>
<circle cx="300.4" cy="233.5" r="0.96" fill="#fff" stroke="none" stroke-width="1.2"/>
<circle cx="271.0" cy="271.5" r="0.76" fill="#fff" stroke="none" stroke-width="1.2"/>
<circle cx="288.0" cy="284.6" r="0.92" fill="#fff" stroke="none" stroke-width="1.2"/>
<circle cx="281.0" cy="254.8" r="0.92" fill="#fff" stroke="none" stroke-width="1.2"/>
<circle cx="276.9" cy="196.1" r="1.10" fill="#fff" stroke="none" stroke-width="1.2"/>
<circle cx="304.3" cy="249.1" r="1.07" fill="#fff" stroke="none" stroke-width="1.2"/>
<circle cx="277.4" cy="233.1" r="0.77" fill="#fff" stroke="none" stroke-width="1.2"/>
<circle cx="271.4" cy="204.6" r="0.62" fill="#fff" stroke="none" stroke-width="1.2"/>
<circle cx="277.8" cy="190.8" r="0.60" fill="#fff" stroke="none" stroke-width="1.2"/>
<circle cx="272.0" cy="303.6" r="1.00" fill="#fff" stroke="none" stroke-width="1.2"/>
<circle cx="295.7" cy="276.9" r="0.67" fill="#fff" stroke="none" stroke-width="1.2"/>
<circle cx="267.5" cy="287.4" r="0.79" fill="#fff" stroke="none" stroke-width="1.2"/>
<circle cx="283.9" cy="287.6" r="1.04" fill="#fff" stroke="none" stroke-width="1.2"/>
<circle cx="268.3" cy="198.7" r="0.81" fill="#fff" stroke="none" stroke-width="1.2"/>
<circle cx="269.5" cy="286.9" r="0.74" fill="#fff" stroke="none" stroke-width="1.2"/>
<circle cx="267.5" cy="188.6" r="0.86" fill="#fff" stroke="none" stroke-width="1.2"/>
<circle cx="275.6" cy="237.0" r="1.02" fill="#fff" stroke="none" stroke-width="1.2"/>
<circle cx="267.4" cy="220.9" r="1.07" fill="#fff" stroke="none" stroke-width="1.2"/>
<circle cx="296.7" cy="259.0" r="0.96" fill="#fff" stroke="none" stroke-width="1.2"/>
<circle cx="258.0" cy="242.6" r="0.89" fill="#fff" stroke="none" stroke-width="1.2"/>
<circle cx="298.2" cy="277.2" r="0.76" fill="#fff" stroke="none" stroke-width="1.2"/>
<circle cx="304.1" cy="269.9" r="0.93" fill="#fff" stroke="none" stroke-width="1.2"/>
<circle cx="274.3" cy="243.7" r="0.57" fill="#fff" stroke="none" stroke-width="1.2"/>
<circle cx="267.4" cy="279.0" r="0.98" fill="#fff" stroke="none" stroke-width="1.2"/>
<circle cx="269.2" cy="197.3" r="0.80" fill="#fff" stroke="none" stroke-width="1.2"/>
<circle cx="265.2" cy="270.9" r="0.88" fill="#fff" stroke="none" stroke-width="1.2"/>
<circle cx="277.2" cy="194.4" r="0.76" fill="#fff" stroke="none" stroke-width="1.2"/>
<circle cx="248.0" cy="287.1" r="0.72" fill="#fff" stroke="none" stroke-width="1.2"/>
<circle cx="257.3" cy="294.2" r="1.03" fill="#fff" stroke="none" stroke-width="1.2"/>
<circle cx="280.8" cy="284.8" r="0.64" fill="#fff" stroke="none" stroke-width="1.2"/>
<circle cx="284.1" cy="243.0" r="0.60" fill="#fff" stroke="none" stroke-width="1.2"/>
<circle cx="275.8" cy="194.8" r="1.03" fill="#fff" stroke="none" stroke-width="1.2"/>
<circle cx="290.5" cy="225.3" r="1.01" fill="#fff" stroke="none" stroke-width="1.2"/>
<circle cx="264.3" cy="185.8" r="1.08" fill="#fff" stroke="none" stroke-width="1.2"/>
<circle cx="306.0" cy="240.8" r="1.06" fill="#fff" stroke="none" stroke-width="1.2"/>
<circle cx="260.5" cy="284.8" r="0.87" fill="#fff" stroke="none" stroke-width="1.2"/>
<circle cx="260.4" cy="278.7" r="0.87" fill="#fff" stroke="none" stroke-width="1.2"/>
<circle cx="306.1" cy="232.5" r="0.87" fill="#fff" stroke="none" stroke-width="1.2"/>
<circle cx="284.3" cy="278.3" r="0.90" fill="#fff" stroke="none" stroke-width="1.2"/>
<circle cx="278.4" cy="222.0" r="0.88" fill="#fff" stroke="none" stroke-width="1.2"/>
<circle cx="303.7" cy="220.7" r="0.65" fill="#fff" stroke="none" stroke-width="1.2"/>
<circle cx="271.6" cy="234.5" r="1.01" fill="#fff" stroke="none" stroke-width="1.2"/>
<circle cx="271.8" cy="240.8" r="0.84" fill="#fff" stroke="none" stroke-width="1.2"/>
<circle cx="276.7" cy="240.0" r="0.99" fill="#fff" stroke="none" stroke-width="1.2"/>
<circle cx="288.7" cy="197.1" r="0.70" fill="#fff" stroke="none" stroke-width="1.2"/>
<circle cx="275.7" cy="304.6" r="0.89" fill="#fff" stroke="none" stroke-width="1.2"/>
<circle cx="272.8" cy="209.4" r="1.06" fill="#fff" stroke="none" stroke-width="1.2"/>
<circle cx="295.3" cy="295.7" r="0.76" fill="#fff" stroke="none" stroke-width="1.2"/>
<circle cx="272.3" cy="300.9" r="0.80" fill="#fff" stroke="none" stroke-width="1.2"/>
<circle cx="255.8" cy="270.8" r="0.93" fill="#fff" stroke="none" stroke-width="1.2"/>
<circle cx="297.3" cy="243.1" r="0.76" fill="#fff" stroke="none" stroke-width="1.2"/>
<circle cx="257.3" cy="191.0" r="1.00" fill="#fff" stroke="none" stroke-width="1.2"/>
<circle cx="298.4" cy="258.8" r="0.94" fill="#fff" stroke="none" stroke-width="1.2"/>
<circle cx="278.7" cy="196.5" r="1.03" fill="#fff" stroke="none" stroke-width="1.2"/>
<circle cx="285.2" cy="266.7" r="0.76" fill="#fff" stroke="none" stroke-width="1.2"/>
<circle cx="248.6" cy="321.0" r="0.90" fill="#fff" stroke="none" stroke-width="1.2"/>
<circle cx="271.5" cy="235.0" r="0.84" fill="#fff" stroke="none" stroke-width="1.2"/>
<circle cx="269.5" cy="212.0" r="0.83" fill="#fff" stroke="none" stroke-width="1.2"/>
<circle cx="282.0" cy="263.0" r="0.95" fill="#fff" stroke="none" stroke-width="1.2"/>
<circle cx="306.4" cy="213.3" r="0.94" fill="#fff" stroke="none" stroke-width="1.2"/>
<circle cx="254.4" cy="309.2" r="1.01" fill="#fff" stroke="none" stroke-width="1.2"/>
<circle cx="279.7" cy="287.9" r="0.79" fill="#fff" stroke="none" stroke-width="1.2"/>
<circle cx="264.3" cy="272.7" r="0.98" fill="#fff" stroke="none" stroke-width="1.2"/>
<circle cx="290.3" cy="291.4" r="1.10" fill="#fff" stroke="none" stroke-width="1.2"/>
<circle cx="301.7" cy="234.7" r="0.95" fill="#fff" stroke="none" stroke-width="1.2"/>
<circle cx="296.7" cy="200.6" r="0.58" fill="#fff" stroke="none" stroke-width="1.2"/>
<circle cx="251.6" cy="299.7" r="1.03" fill="#fff" stroke="none" stroke-width="1.2"/>
<circle cx="300.1" cy="287.7" r="0.93" fill="#fff" stroke="none" stroke-width="1.2"/>
<circle cx="308.5" cy="229.0" r="0.65" fill="#fff" stroke="none" stroke-width="1.2"/>
<circle cx="253.3" cy="288.8" r="1.04" fill="#fff" stroke="none" stroke-width="1.2"/>
<circle cx="288.4" cy="290.4" r="0.98" fill="#fff" stroke="none" stroke-width="1.2"/>
<circle cx="267.1" cy="303.3" r="0.73" fill="#fff" stroke="none" stroke-width="1.2"/>
<circle cx="266.3" cy="276.9" r="0.59" fill="#fff" stroke="none" stroke-width="1.2"/>
<circle cx="284.6" cy="284.0" r="0.68" fill="#fff" stroke="none" stroke-width="1.2"/>
<circle cx="281.0" cy="232.1" r="0.71" fill="#fff" stroke="none" stroke-width="1.2"/>
<circle cx="271.5" cy="296.4" r="0.89" fill="#fff" stroke="none" stroke-width="1.2"/>
<circle cx="248.6" cy="310.9" r="1.07" fill="#fff" stroke="none" stroke-width="1.2"/>
<circle cx="260.7" cy="310.8" r="0.81" fill="#fff" stroke="none" stroke-width="1.2"/>
<circle cx="254.3" cy="272.7" r="0.64" fill="#fff" stroke="none" stroke-width="1.2"/>
<circle cx="298.9" cy="248.1" r="1.09" fill="#fff" stroke="none" stroke-width="1.2"/>
<circle cx="252.7" cy="265.0" r="0.59" fill="#fff" stroke="none" stroke-width="1.2"/>
<circle cx="265.3" cy="260.8" r="0.74" fill="#fff" stroke="none" stroke-width="1.2"/>
<circle cx="252.2" cy="293.7" r="1.09" fill="#fff" stroke="none" stroke-width="1.2"/>
<circle cx="302.9" cy="239.0" r="0.85" fill="#fff" stroke="none" stroke-width="1.2"/>
<circle cx="275.3" cy="246.9" r="0.72" fill="#fff" stroke="none" stroke-width="1.2"/>
<circle cx="292.2" cy="267.4" r="0.93" fill="#fff" stroke="none" stroke-width="1.2"/>
<circle cx="288.0" cy="199.2" r="0.99" fill="#fff" stroke="none" stroke-width="1.2"/>
<circle cx="303.5" cy="213.9" r="0.67" fill="#fff" stroke="none" stroke-width="1.2"/>
<circle cx="265.6" cy="186.2" r="0.76" fill="#fff" stroke="none" stroke-width="1.2"/>
<circle cx="261.8" cy="291.6" r="0.76" fill="#fff" stroke="none" stroke-width="1.2"/>
<circle cx="260.7" cy="185.8" r="1.00" fill="#fff" stroke="none" stroke-width="1.2"/>
<circle cx="280.8" cy="288.2" r="0.97" fill="#fff" stroke="none" stroke-width="1.2"/>
<circle cx="285.9" cy="198.9" r="0.96" fill="#fff" stroke="none" stroke-width="1.2"/>
<circle cx="261.5" cy="254.7" r="0.81" fill="#fff" stroke="none" stroke-width="1.2"/>
<circle cx="268.5" cy="220.9" r="0.68" fill="#fff" stroke="none" stroke-width="1.2"/>
<circle cx="252.7" cy="273.5" r="0.60" fill="#fff" stroke="none" stroke-width="1.2"/>
<circle cx="302.0" cy="224.0" r="0.64" fill="#fff" stroke="none" stroke-width="1.2"/>
<circle cx="286.7" cy="242.6" r="0.74" fill="#fff" stroke="none" stroke-width="1.2"/>
<circle cx="255.9" cy="316.2" r="1.04" fill="#fff" stroke="none" stroke-width="1.2"/>
<circle cx="289.0" cy="230.0" r="0.57" fill="#fff" stroke="none" stroke-width="1.2"/>
<circle cx="280.9" cy="271.6" r="0.58" fill="#fff" stroke="none" stroke-width="1.2"/>
<circle cx="292.7" cy="254.2" r="0.90" fill="#fff" stroke="none" stroke-width="1.2"/>
<circle cx="284.8" cy="203.6" r="0.78" fill="#fff" stroke="none" stroke-width="1.2"/>
<circle cx="268.7" cy="191.6" r="0.63" fill="#fff" stroke="none" stroke-width="1.2"/>
<circle cx="268.8" cy="194.7" r="0.61" fill="#fff" stroke="none" stroke-width="1.2"/>
<circle cx="301.7" cy="250.0" r="0.89" fill="#fff" stroke="none" stroke-width="1.2"/>
<circle cx="264.9" cy="229.6" r="1.00" fill="#fff" stroke="none" stroke-width="1.2"/>
<circle cx="294.2" cy="222.3" r="0.82" fill="#fff" stroke="none" stroke-width="1.2"/>
<circle cx="285.7" cy="245.4" r="0.65" fill="#fff" stroke="none" stroke-width="1.2"/>
<circle cx="275.7" cy="308.4" r="0.89" fill="#fff" stroke="none" stroke-width="1.2"/>
<circle cx="267.3" cy="270.9" r="1.02" fill="#fff" stroke="none" stroke-width="1.2"/>
<circle cx="302.4" cy="231.6" r="0.97" fill="#fff" stroke="none" stroke-width="1.2"/>
<circle cx="249.5" cy="310.6" r="0.97" fill="#fff" stroke="none" stroke-width="1.2"/>
<circle cx="265.3" cy="239.4" r="1.09" fill="#fff" stroke="none" stroke-width="1.2"/>
<circle cx="271.8" cy="244.1" r="1.00" fill="#fff" stroke="none" stroke-width="1.2"/>
<circle cx="271.5" cy="284.8" r="0.97" fill="#fff" stroke="none" stroke-width="1.2"/>
<circle cx="269.1" cy="238.7" r="0.67" fill="#fff" stroke="none" stroke-width="1.2"/>
<circle cx="262.2" cy="237.4" r="0.91" fill="#fff" stroke="none" stroke-width="1.2"/>
<circle cx="250.1" cy="315.6" r="0.95" fill="#fff" stroke="none" stroke-width="1.2"/>
<circle cx="307.4" cy="211.4" r="0.87" fill="#fff" stroke="none" stroke-width="1.2"/>
<circle cx="297.4" cy="267.8" r="0.98" fill="#fff" stroke="none" stroke-width="1.2"/>
<circle cx="276.1" cy="204.2" r="0.76" fill="#fff" stroke="none" stroke-width="1.2"/>
<circle cx="266.5" cy="267.7" r="1.03" fill="#fff" stroke="none" stroke-width="1.2"/>
<circle cx="274.6" cy="307.7" r="0.73" fill="#fff" stroke="none" stroke-width="1.2"/>
<circle cx="252.3" cy="313.4" r="0.58" fill="#fff" stroke="none" stroke-width="1.2"/>
<circle cx="289.2" cy="202.6" r="0.82" fill="#fff" stroke="none" stroke-width="1.2"/>
<circle cx="280.2" cy="276.0" r="0.70" fill="#fff" stroke="none" stroke-width="1.2"/>
<circle cx="265.5" cy="200.9" r="0.81" fill="#fff" stroke="none" stroke-width="1.2"/>
<circle cx="303.4" cy="255.4" r="0.73" fill="#fff" stroke="none" stroke-width="1.2"/>
<circle cx="273.6" cy="300.9" r="0.76" fill="#fff" stroke="none" stroke-width="1.2"/>
<circle cx="251.6" cy="276.5" r="0.55" fill="#fff" stroke="none" stroke-width="1.2"/>
<circle cx="267.7" cy="222.6" r="0.98" fill="#fff" stroke="none" stroke-width="1.2"/>
<circle cx="266.1" cy="296.5" r="0.87" fill="#fff" stroke="none" stroke-width="1.2"/>
<circle cx="267.5" cy="298.2" r="0.58" fill="#fff" stroke="none" stroke-width="1.2"/>
<circle cx="292.1" cy="280.6" r="0.93" fill="#fff" stroke="none" stroke-width="1.2"/>
<circle cx="262.9" cy="276.9" r="0.92" fill="#fff" stroke="none" stroke-width="1.2"/>
<circle cx="292.7" cy="219.7" r="0.89" fill="#fff" stroke="none" stroke-width="1.2"/>
<circle cx="291.9" cy="201.8" r="0.74" fill="#fff" stroke="none" stroke-width="1.2"/>
<circle cx="300.0" cy="285.8" r="0.90" fill="#fff" stroke="none" stroke-width="1.2"/>
<circle cx="299.1" cy="213.4" r="0.64" fill="#fff" stroke="none" stroke-width="1.2"/>
<circle cx="284.2" cy="295.0" r="0.59" fill="#fff" stroke="none" stroke-width="1.2"/>
<circle cx="283.8" cy="251.0" r="0.66" fill="#fff" stroke="none" stroke-width="1.2"/>
<circle cx="267.8" cy="188.8" r="0.99" fill="#fff" stroke="none" stroke-width="1.2"/>
<circle cx="250.0" cy="305.7" r="0.87" fill="#fff" stroke="none" stroke-width="1.2"/>
<circle cx="283.7" cy="233.4" r="1.10" fill="#fff" stroke="none" stroke-width="1.2"/>
<circle cx="271.2" cy="294.9" r="0.67" fill="#fff" stroke="none" stroke-width="1.2"/>
<circle cx="305.1" cy="254.1" r="1.03" fill="#fff" stroke="none" stroke-width="1.2"/>
<circle cx="265.8" cy="222.5" r="0.74" fill="#fff" stroke="none" stroke-width="1.2"/>
<circle cx="287.1" cy="263.6" r="0.74" fill="#fff" stroke="none" stroke-width="1.2"/>
<circle cx="304.8" cy="248.7" r="0.72" fill="#fff" stroke="none" stroke-width="1.2"/>
<circle cx="286.0" cy="215.1" r="1.02" fill="#fff" stroke="none" stroke-width="1.2"/>
<circle cx="280.7" cy="198.4" r="0.73" fill="#fff" stroke="none" stroke-width="1.2"/>
<circle cx="302.2" cy="250.6" r="0.61" fill="#fff" stroke="none" stroke-width="1.2"/>
<circle cx="304.9" cy="236.9" r="0.63" fill="#fff" stroke="none" stroke-width="1.2"/>
<circle cx="273.1" cy="218.9" r="0.55" fill="#fff" stroke="none" stroke-width="1.2"/>
<circle cx="268.5" cy="242.1" r="0.82" fill="#fff" stroke="none" stroke-width="1.2"/>
<circle cx="278.8" cy="229.1" r="0.74" fill="#fff" stroke="none" stroke-width="1.2"/>
<circle cx="294.6" cy="236.1" r="0.71" fill="#fff" stroke="none" stroke-width="1.2"/>
<circle cx="274.9" cy="306.9" r="0.73" fill="#fff" stroke="none" stroke-width="1.2"/>
<circle cx="298.5" cy="217.7" r="0.71" fill="#fff" stroke="none" stroke-width="1.2"/>
<circle cx="284.1" cy="208.1" r="0.67" fill="#fff" stroke="none" stroke-width="1.2"/>
<circle cx="253.9" cy="304.6" r="1.01" fill="#fff" stroke="none" stroke-width="1.2"/>
<circle cx="281.7" cy="243.2" r="1.00" fill="#fff" stroke="none" stroke-width="1.2"/>
<circle cx="264.4" cy="254.1" r="0.72" fill="#fff" stroke="none" stroke-width="1.2"/>
<circle cx="291.8" cy="281.7" r="0.84" fill="#fff" stroke="none" stroke-width="1.2"/>
<circle cx="291.9" cy="246.8" r="0.97" fill="#fff" stroke="none" stroke-width="1.2"/>
<circle cx="266.6" cy="280.9" r="0.58" fill="#fff" stroke="none" stroke-width="1.2"/>
<circle cx="300.1" cy="264.6" r="0.87" fill="#fff" stroke="none" stroke-width="1.2"/>
<circle cx="263.6" cy="206.2" r="1.05" fill="#fff" stroke="none" stroke-width="1.2"/>
<circle cx="248.7" cy="292.9" r="1.00" fill="#fff" stroke="none" stroke-width="1.2"/>
<circle cx="276.0" cy="217.5" r="1.05" fill="#fff" stroke="none" stroke-width="1.2"/>
<circle cx="295.3" cy="234.2" r="0.66" fill="#fff" stroke="none" stroke-width="1.2"/>
<circle cx="263.8" cy="284.1" r="1.04" fill="#fff" stroke="none" stroke-width="1.2"/>
<circle cx="285.9" cy="219.8" r="1.01" fill="#fff" stroke="none" stroke-width="1.2"/>
<circle cx="288.6" cy="228.1" r="0.73" fill="#fff" stroke="none" stroke-width="1.2"/>
<circle cx="269.5" cy="202.2" r="1.07" fill="#fff" stroke="none" stroke-width="1.2"/>
<circle cx="272.6" cy="310.1" r="0.63" fill="#fff" stroke="none" stroke-width="1.2"/>
<circle cx="284.3" cy="199.0" r="0.71" fill="#fff" stroke="none" stroke-width="1.2"/>
<circle cx="258.5" cy="269.1" r="1.10" fill="#fff" stroke="none" stroke-width="1.2"/>
<circle cx="295.8" cy="247.1" r="0.58" fill="#fff" stroke="none" stroke-width="1.2"/>
<circle cx="250.5" cy="285.6" r="0.90" fill="#fff" stroke="none" stroke-width="1.2"/>
<circle cx="306.8" cy="234.1" r="0.77" fill="#fff" stroke="none" stroke-width="1.2"/>
<circle cx="265.4" cy="222.3" r="0.66" fill="#fff" stroke="none" stroke-width="1.2"/>
<circle cx="310.6" cy="219.9" r="0.72" fill="#fff" stroke="none" stroke-width="1.2"/>
<circle cx="268.2" cy="244.2" r="0.98" fill="#fff" stroke="none" stroke-width="1.2"/>
<circle cx="283.7" cy="238.7" r="0.83" fill="#fff" stroke="none" stroke-width="1.2"/>
<circle cx="283.9" cy="275.8" r="0.92" fill="#fff" stroke="none" stroke-width="1.2"/>
<circle cx="265.9" cy="188.1" r="0.64" fill="#fff" stroke="none" stroke-width="1.2"/>
<circle cx="280.9" cy="283.1" r="0.57" fill="#fff" stroke="none" stroke-width="1.2"/>
<circle cx="272.3" cy="205.6" r="0.70" fill="#fff" stroke="none" stroke-width="1.2"/>
<circle cx="292.4" cy="278.9" r="0.79" fill="#fff" stroke="none" stroke-width="1.2"/>
<circle cx="267.4" cy="268.0" r="0.85" fill="#fff" stroke="none" stroke-width="1.2"/>
<circle cx="266.5" cy="228.4" r="0.97" fill="#fff" stroke="none" stroke-width="1.2"/>
<circle cx="291.6" cy="293.2" r="0.95" fill="#fff" stroke="none" stroke-width="1.2"/>
<circle cx="259.6" cy="260.2" r="1.08" fill="#fff" stroke="none" stroke-width="1.2"/>
<circle cx="276.6" cy="295.6" r="0.79" fill="#fff" stroke="none" stroke-width="1.2"/>
<circle cx="297.7" cy="280.2" r="0.71" fill="#fff" stroke="none" stroke-width="1.2"/>
<circle cx="270.4" cy="280.1" r="0.93" fill="#fff" stroke="none" stroke-width="1.2"/>
<circle cx="261.7" cy="248.8" r="1.04" fill="#fff" stroke="none" stroke-width="1.2"/>
<circle cx="289.4" cy="265.4" r="0.92" fill="#fff" stroke="none" stroke-width="1.2"/>
<circle cx="271.0" cy="205.7" r="0.88" fill="#fff" stroke="none" stroke-width="1.2"/>
<circle cx="279.2" cy="197.7" r="1.10" fill="#fff" stroke="none" stroke-width="1.2"/>
<circle cx="278.8" cy="201.6" r="0.90" fill="#fff" stroke="none" stroke-width="1.2"/>
<circle cx="258.8" cy="256.7" r="1.02" fill="#fff" stroke="none" stroke-width="1.2"/>
<circle cx="307.5" cy="234.5" r="1.04" fill="#fff" stroke="none" stroke-width="1.2"/>
<circle cx="279.3" cy="195.4" r="0.73" fill="#fff" stroke="none" stroke-width="1.2"/>
<circle cx="282.4" cy="214.9" r="0.60" fill="#fff" stroke="none" stroke-width="1.2"/>
<circle cx="286.8" cy="272.7" r="0.65" fill="#fff" stroke="none" stroke-width="1.2"/>
<circle cx="249.3" cy="278.0" r="1.07" fill="#fff" stroke="none" stroke-width="1.2"/>
<circle cx="265.1" cy="274.1" r="0.60" fill="#fff" stroke="none" stroke-width="1.2"/>
<circle cx="267.1" cy="205.0" r="0.56" fill="#fff" stroke="none" stroke-width="1.2"/>
<circle cx="286.4" cy="255.5" r="0.87" fill="#fff" stroke="none" stroke-width="1.2"/>
<circle cx="281.7" cy="239.2" r="0.68" fill="#fff" stroke="none" stroke-width="1.2"/>
<circle cx="279.0" cy="306.7" r="1.00" fill="#fff" stroke="none" stroke-width="1.2"/>
<circle cx="288.4" cy="286.5" r="0.61" fill="#fff" stroke="none" stroke-width="1.2"/>
<circle cx="260.7" cy="261.0" r="0.87" fill="#fff" stroke="none" stroke-width="1.2"/>
<circle cx="269.0" cy="259.0" r="0.66" fill="#fff" stroke="none" stroke-width="1.2"/>
<circle cx="261.9" cy="268.4" r="0.64" fill="#fff" stroke="none" stroke-width="1.2"/>
<circle cx="260.5" cy="294.8" r="0.91" fill="#fff" stroke="none" stroke-width="1.2"/>
<circle cx="287.3" cy="212.2" r="0.74" fill="#fff" stroke="none" stroke-width="1.2"/>
<circle cx="250.4" cy="270.3" r="0.76" fill="#fff" stroke="none" stroke-width="1.2"/>
<circle cx="300.4" cy="261.1" r="0.93" fill="#fff" stroke="none" stroke-width="1.2"/>
<circle cx="294.1" cy="281.2" r="1.01" fill="#fff" stroke="none" stroke-width="1.2"/>
<circle cx="296.6" cy="273.6" r="0.98" fill="#fff" stroke="none" stroke-width="1.2"/>
<circle cx="275.5" cy="214.5" r="0.80" fill="#fff" stroke="none" stroke-width="1.2"/>
<circle cx="267.7" cy="193.2" r="0.59" fill="#fff" stroke="none" stroke-width="1.2"/>
<circle cx="312.2" cy="217.2" r="0.84" fill="#fff" stroke="none" stroke-width="1.2"/>
<circle cx="275.9" cy="222.9" r="0.66" fill="#fff" stroke="none" stroke-width="1.2"/>
<circle cx="287.8" cy="230.2" r="0.64" fill="#fff" stroke="none" stroke-width="1.2"/>
<circle cx="259.4" cy="309.6" r="0.88" fill="#fff" stroke="none" stroke-width="1.2"/>
<circle cx="256.9" cy="281.2" r="0.70" fill="#fff" stroke="none" stroke-width="1.2"/>
<circle cx="268.5" cy="236.1" r="0.96" fill="#fff" stroke="none" stroke-width="1.2"/>
<circle cx="299.0" cy="245.1" r="1.03" fill="#fff" stroke="none" stroke-width="1.2"/>
<circle cx="311.3" cy="227.6" r="0.70" fill="#fff" stroke="none" stroke-width="1.2"/>
<circle cx="272.0" cy="283.0" r="0.62" fill="#fff" stroke="none" stroke-width="1.2"/>
<circle cx="286.5" cy="282.8" r="1.02" fill="#fff" stroke="none" stroke-width="1.2"/>
<circle cx="275.6" cy="234.1" r="0.90" fill="#fff" stroke="none" stroke-width="1.2"/>
<circle cx="257.9" cy="196.0" r="0.61" fill="#fff" stroke="none" stroke-width="1.2"/>
<circle cx="266.0" cy="265.8" r="1.01" fill="#fff" stroke="none" stroke-width="1.2"/>
<circle cx="296.9" cy="248.7" r="0.98" fill="#fff" stroke="none" stroke-width="1.2"/>
<circle cx="264.9" cy="224.8" r="0.83" fill="#fff" stroke="none" stroke-width="1.2"/>
<circle cx="262.6" cy="299.4" r="0.68" fill="#fff" stroke="none" stroke-width="1.2"/>
<circle cx="258.9" cy="256.1" r="0.56" fill="#fff" stroke="none" stroke-width="1.2"/>
<circle cx="283.1" cy="195.8" r="0.66" fill="#fff" stroke="none" stroke-width="1.2"/>
<circle cx="266.6" cy="289.8" r="0.72" fill="#fff" stroke="none" stroke-width="1.2"/>
<circle cx="253.2" cy="288.4" r="0.91" fill="#fff" stroke="none" stroke-width="1.2"/>
<circle cx="286.9" cy="219.0" r="1.06" fill="#fff" stroke="none" stroke-width="1.2"/>
<circle cx="293.4" cy="243.4" r="1.04" fill="#fff" stroke="none" stroke-width="1.2"/>
<circle cx="276.3" cy="279.5" r="0.84" fill="#fff" stroke="none" stroke-width="1.2"/>
<circle cx="288.9" cy="223.5" r="0.81" fill="#fff" stroke="none" stroke-width="1.2"/>
<circle cx="293.6" cy="288.4" r="0.64" fill="#fff" stroke="none" stroke-width="1.2"/>
<circle cx="263.7" cy="234.4" r="1.05" fill="#fff" stroke="none" stroke-width="1.2"/>
<circle cx="250.8" cy="302.6" r="0.59" fill="#fff" stroke="none" stroke-width="1.2"/>
<circle cx="260.3" cy="293.2" r="0.68" fill="#fff" stroke="none" stroke-width="1.2"/>
<circle cx="253.1" cy="274.8" r="0.79" fill="#fff" stroke="none" stroke-width="1.2"/>
<circle cx="304.4" cy="230.6" r="0.73" fill="#fff" stroke="none" stroke-width="1.2"/>
<circle cx="293.3" cy="267.0" r="0.62" fill="#fff" stroke="none" stroke-width="1.2"/>
<circle cx="280.1" cy="279.5" r="0.62" fill="#fff" stroke="none" stroke-width="1.2"/>
<circle cx="265.0" cy="187.7" r="0.78" fill="#fff" stroke="none" stroke-width="1.2"/>
<circle cx="270.8" cy="235.9" r="0.88" fill="#fff" stroke="none" stroke-width="1.2"/>
<circle cx="294.9" cy="292.4" r="0.74" fill="#fff" stroke="none" stroke-width="1.2"/>
<circle cx="359.5" cy="185.2" r="1.20" fill="#8840BE" stroke="none" stroke-width="1.2"/>
<circle cx="353.8" cy="188.1" r="1.20" fill="#8840BE" stroke="none" stroke-width="1.2"/>
<circle cx="343.7" cy="194.7" r="1.20" fill="#8840BE" stroke="none" stroke-width="1.2"/>
<circle cx="333.6" cy="195.3" r="1.20" fill="#8840BE" stroke="none" stroke-width="1.2"/>
<circle cx="245.9" cy="131.4" r="1.20" fill="#8840BE" stroke="none" stroke-width="1.2"/>
<circle cx="245.4" cy="326.9" r="1.30" fill="#7D5C22" stroke="none" stroke-width="1.2"/>
<circle cx="68.9" cy="205.9" r="1.30" fill="#7D5C22" stroke="none" stroke-width="1.2"/>
<circle cx="67.3" cy="210.8" r="1.30" fill="#7D5C22" stroke="none" stroke-width="1.2"/>
<circle cx="65.0" cy="221.4" r="1.30" fill="#7D5C22" stroke="none" stroke-width="1.2"/>
<circle cx="83.9" cy="178.7" r="1.30" fill="#7D5C22" stroke="none" stroke-width="1.2"/>
<circle cx="81.6" cy="248.0" r="1.30" fill="#7D5C22" stroke="none" stroke-width="1.2"/>
<circle cx="83.5" cy="186.4" r="1.30" fill="#7D5C22" stroke="none" stroke-width="1.2"/>
<circle cx="80.1" cy="188.0" r="1.30" fill="#7D5C22" stroke="none" stroke-width="1.2"/>
<circle cx="65.0" cy="204.2" r="1.30" fill="#7D5C22" stroke="none" stroke-width="1.2"/>
<circle cx="66.5" cy="209.8" r="1.30" fill="#7D5C22" stroke="none" stroke-width="1.2"/>
<circle cx="82.7" cy="249.0" r="1.30" fill="#7D5C22" stroke="none" stroke-width="1.2"/>
<circle cx="75.1" cy="196.5" r="1.30" fill="#7D5C22" stroke="none" stroke-width="1.2"/>
<circle cx="73.1" cy="231.7" r="1.30" fill="#7D5C22" stroke="none" stroke-width="1.2"/>
<circle cx="79.7" cy="246.0" r="1.30" fill="#7D5C22" stroke="none" stroke-width="1.2"/>
<circle cx="79.1" cy="242.2" r="1.30" fill="#7D5C22" stroke="none" stroke-width="1.2"/>
<circle cx="85.8" cy="178.9" r="1.30" fill="#7D5C22" stroke="none" stroke-width="1.2"/>
<circle cx="86.1" cy="181.5" r="1.30" fill="#7D5C22" stroke="none" stroke-width="1.2"/>
<circle cx="83.8" cy="182.7" r="1.30" fill="#7D5C22" stroke="none" stroke-width="1.2"/>
<circle cx="75.4" cy="233.3" r="1.30" fill="#7D5C22" stroke="none" stroke-width="1.2"/>
<circle cx="77.2" cy="185.7" r="1.30" fill="#7D5C22" stroke="none" stroke-width="1.2"/>
<circle cx="83.1" cy="182.1" r="1.30" fill="#7D5C22" stroke="none" stroke-width="1.2"/>
<circle cx="80.9" cy="247.3" r="1.30" fill="#7D5C22" stroke="none" stroke-width="1.2"/>
<circle cx="78.9" cy="188.7" r="1.30" fill="#7D5C22" stroke="none" stroke-width="1.2"/>
<circle cx="82.1" cy="178.5" r="1.30" fill="#7D5C22" stroke="none" stroke-width="1.2"/>
<circle cx="73.3" cy="231.6" r="1.30" fill="#7D5C22" stroke="none" stroke-width="1.2"/>
<circle cx="84.3" cy="180.3" r="1.30" fill="#7D5C22" stroke="none" stroke-width="1.2"/>
<circle cx="71.9" cy="199.7" r="1.30" fill="#7D5C22" stroke="none" stroke-width="1.2"/>
<circle cx="63.1" cy="215.8" r="1.30" fill="#7D5C22" stroke="none" stroke-width="1.2"/>
<circle cx="77.0" cy="242.9" r="1.30" fill="#7D5C22" stroke="none" stroke-width="1.2"/>
<circle cx="67.3" cy="231.7" r="1.30" fill="#7D5C22" stroke="none" stroke-width="1.2"/>
<circle cx="76.5" cy="240.6" r="1.30" fill="#7D5C22" stroke="none" stroke-width="1.2"/>
<circle cx="86.6" cy="176.3" r="1.30" fill="#7D5C22" stroke="none" stroke-width="1.2"/>
<circle cx="73.1" cy="189.2" r="1.30" fill="#7D5C22" stroke="none" stroke-width="1.2"/>
<circle cx="78.1" cy="184.4" r="1.30" fill="#7D5C22" stroke="none" stroke-width="1.2"/>
<circle cx="63.8" cy="214.7" r="1.30" fill="#7D5C22" stroke="none" stroke-width="1.2"/>
<circle cx="79.4" cy="241.8" r="1.30" fill="#7D5C22" stroke="none" stroke-width="1.2"/>
<circle cx="74.9" cy="206.9" r="1.30" fill="#7D5C22" stroke="none" stroke-width="1.2"/>
<circle cx="73.6" cy="216.9" r="1.30" fill="#7D5C22" stroke="none" stroke-width="1.2"/>
<circle cx="82.2" cy="247.3" r="1.30" fill="#7D5C22" stroke="none" stroke-width="1.2"/>
<circle cx="83.7" cy="186.0" r="1.30" fill="#7D5C22" stroke="none" stroke-width="1.2"/>
<circle cx="65.4" cy="228.6" r="1.30" fill="#7D5C22" stroke="none" stroke-width="1.2"/>
<circle cx="65.5" cy="209.0" r="1.30" fill="#7D5C22" stroke="none" stroke-width="1.2"/>
<circle cx="85.9" cy="180.0" r="1.30" fill="#7D5C22" stroke="none" stroke-width="1.2"/>
<circle cx="69.8" cy="230.8" r="1.30" fill="#7D5C22" stroke="none" stroke-width="1.2"/>
<circle cx="69.5" cy="197.7" r="1.30" fill="#7D5C22" stroke="none" stroke-width="1.2"/>
<circle cx="66.6" cy="202.4" r="1.30" fill="#7D5C22" stroke="none" stroke-width="1.2"/>
<circle cx="70.5" cy="220.6" r="1.30" fill="#7D5C22" stroke="none" stroke-width="1.2"/>
<circle cx="85.5" cy="179.8" r="1.30" fill="#7D5C22" stroke="none" stroke-width="1.2"/>
<circle cx="72.2" cy="228.9" r="1.30" fill="#7D5C22" stroke="none" stroke-width="1.2"/>
<circle cx="64.6" cy="204.3" r="1.30" fill="#7D5C22" stroke="none" stroke-width="1.2"/>
<circle cx="88.6" cy="176.9" r="1.30" fill="#7D5C22" stroke="none" stroke-width="1.2"/>
<circle cx="70.4" cy="227.1" r="1.30" fill="#7D5C22" stroke="none" stroke-width="1.2"/>
<circle cx="79.3" cy="193.8" r="1.30" fill="#7D5C22" stroke="none" stroke-width="1.2"/>
<circle cx="80.8" cy="189.4" r="1.30" fill="#7D5C22" stroke="none" stroke-width="1.2"/>
<circle cx="64.1" cy="204.2" r="1.30" fill="#7D5C22" stroke="none" stroke-width="1.2"/>
<circle cx="79.3" cy="188.0" r="1.30" fill="#7D5C22" stroke="none" stroke-width="1.2"/>
<circle cx="77.4" cy="239.9" r="1.30" fill="#7D5C22" stroke="none" stroke-width="1.2"/>
<circle cx="82.3" cy="183.6" r="1.30" fill="#7D5C22" stroke="none" stroke-width="1.2"/>
<circle cx="66.2" cy="228.8" r="1.30" fill="#7D5C22" stroke="none" stroke-width="1.2"/>
<circle cx="72.0" cy="206.7" r="1.30" fill="#7D5C22" stroke="none" stroke-width="1.2"/>
<circle cx="68.9" cy="221.1" r="1.30" fill="#7D5C22" stroke="none" stroke-width="1.2"/>
<circle cx="82.1" cy="246.5" r="1.30" fill="#7D5C22" stroke="none" stroke-width="1.2"/>
<circle cx="78.5" cy="238.5" r="1.30" fill="#7D5C22" stroke="none" stroke-width="1.2"/>
<circle cx="69.9" cy="192.6" r="1.30" fill="#7D5C22" stroke="none" stroke-width="1.2"/>
<circle cx="75.9" cy="207.7" r="1.30" fill="#7D5C22" stroke="none" stroke-width="1.2"/>
<circle cx="84.2" cy="185.5" r="1.30" fill="#7D5C22" stroke="none" stroke-width="1.2"/>
<circle cx="67.4" cy="221.8" r="1.30" fill="#7D5C22" stroke="none" stroke-width="1.2"/>
<circle cx="72.8" cy="224.3" r="1.30" fill="#7D5C22" stroke="none" stroke-width="1.2"/>
<circle cx="90.5" cy="176.3" r="1.30" fill="#7D5C22" stroke="none" stroke-width="1.2"/>
<circle cx="76.3" cy="193.1" r="1.30" fill="#7D5C22" stroke="none" stroke-width="1.2"/>
<circle cx="65.5" cy="220.5" r="1.30" fill="#7D5C22" stroke="none" stroke-width="1.2"/>
<circle cx="80.2" cy="241.1" r="1.30" fill="#7D5C22" stroke="none" stroke-width="1.2"/>
<circle cx="82.7" cy="183.4" r="1.30" fill="#7D5C22" stroke="none" stroke-width="1.2"/>
<circle cx="70.3" cy="200.0" r="1.30" fill="#7D5C22" stroke="none" stroke-width="1.2"/>
<circle cx="80.6" cy="244.2" r="1.30" fill="#7D5C22" stroke="none" stroke-width="1.2"/>
<circle cx="68.2" cy="229.8" r="1.30" fill="#7D5C22" stroke="none" stroke-width="1.2"/>
<circle cx="75.7" cy="186.5" r="1.30" fill="#7D5C22" stroke="none" stroke-width="1.2"/>
<circle cx="64.4" cy="213.5" r="1.30" fill="#7D5C22" stroke="none" stroke-width="1.2"/>
<circle cx="76.0" cy="238.3" r="1.30" fill="#7D5C22" stroke="none" stroke-width="1.2"/>
<circle cx="64.9" cy="213.7" r="1.30" fill="#7D5C22" stroke="none" stroke-width="1.2"/>
<circle cx="76.7" cy="233.6" r="1.30" fill="#7D5C22" stroke="none" stroke-width="1.2"/>
<circle cx="68.7" cy="194.4" r="1.30" fill="#7D5C22" stroke="none" stroke-width="1.2"/>
<circle cx="66.0" cy="211.6" r="1.30" fill="#7D5C22" stroke="none" stroke-width="1.2"/>
<circle cx="80.9" cy="244.3" r="1.30" fill="#7D5C22" stroke="none" stroke-width="1.2"/>
<circle cx="76.9" cy="188.8" r="1.30" fill="#7D5C22" stroke="none" stroke-width="1.2"/>
<circle cx="69.2" cy="221.9" r="1.30" fill="#7D5C22" stroke="none" stroke-width="1.2"/>
<circle cx="74.4" cy="196.1" r="1.30" fill="#7D5C22" stroke="none" stroke-width="1.2"/>
<circle cx="76.3" cy="186.0" r="1.30" fill="#7D5C22" stroke="none" stroke-width="1.2"/>
<circle cx="72.8" cy="216.5" r="1.30" fill="#7D5C22" stroke="none" stroke-width="1.2"/>
<circle cx="75.4" cy="218.2" r="1.30" fill="#7D5C22" stroke="none" stroke-width="1.2"/>
<circle cx="66.6" cy="200.9" r="1.30" fill="#7D5C22" stroke="none" stroke-width="1.2"/>
<circle cx="74.3" cy="224.6" r="1.30" fill="#7D5C22" stroke="none" stroke-width="1.2"/>
<circle cx="79.7" cy="246.3" r="1.30" fill="#7D5C22" stroke="none" stroke-width="1.2"/>
<circle cx="83.1" cy="183.3" r="1.30" fill="#7D5C22" stroke="none" stroke-width="1.2"/>
<circle cx="71.2" cy="208.4" r="1.30" fill="#7D5C22" stroke="none" stroke-width="1.2"/>
<circle cx="80.8" cy="241.9" r="1.30" fill="#7D5C22" stroke="none" stroke-width="1.2"/>
<circle cx="80.7" cy="188.2" r="1.30" fill="#7D5C22" stroke="none" stroke-width="1.2"/>
<circle cx="69.4" cy="198.1" r="1.30" fill="#7D5C22" stroke="none" stroke-width="1.2"/>
<circle cx="82.4" cy="182.0" r="1.30" fill="#7D5C22" stroke="none" stroke-width="1.2"/>
<circle cx="69.5" cy="212.7" r="1.30" fill="#7D5C22" stroke="none" stroke-width="1.2"/>
<circle cx="73.2" cy="213.0" r="1.30" fill="#7D5C22" stroke="none" stroke-width="1.2"/>
<circle cx="69.1" cy="222.0" r="1.30" fill="#7D5C22" stroke="none" stroke-width="1.2"/>
<circle cx="77.3" cy="238.5" r="1.30" fill="#7D5C22" stroke="none" stroke-width="1.2"/>
<circle cx="78.5" cy="241.8" r="1.30" fill="#7D5C22" stroke="none" stroke-width="1.2"/>
<circle cx="74.6" cy="185.4" r="1.30" fill="#7D5C22" stroke="none" stroke-width="1.2"/>
<circle cx="74.4" cy="188.4" r="1.30" fill="#7D5C22" stroke="none" stroke-width="1.2"/>
<circle cx="75.4" cy="236.5" r="1.30" fill="#7D5C22" stroke="none" stroke-width="1.2"/>
<circle cx="67.5" cy="201.2" r="1.30" fill="#7D5C22" stroke="none" stroke-width="1.2"/>
<circle cx="66.1" cy="226.5" r="1.30" fill="#7D5C22" stroke="none" stroke-width="1.2"/>
<circle cx="65.2" cy="210.6" r="1.30" fill="#7D5C22" stroke="none" stroke-width="1.2"/>
<circle cx="81.3" cy="188.4" r="1.30" fill="#7D5C22" stroke="none" stroke-width="1.2"/>
<circle cx="68.5" cy="214.1" r="1.30" fill="#7D5C22" stroke="none" stroke-width="1.2"/>
<circle cx="81.5" cy="188.3" r="1.30" fill="#7D5C22" stroke="none" stroke-width="1.2"/>
<circle cx="80.2" cy="242.9" r="1.30" fill="#7D5C22" stroke="none" stroke-width="1.2"/>
<circle cx="65.3" cy="206.0" r="1.30" fill="#7D5C22" stroke="none" stroke-width="1.2"/>
<circle cx="69.9" cy="211.0" r="1.30" fill="#7D5C22" stroke="none" stroke-width="1.2"/>
<circle cx="66.7" cy="228.0" r="1.30" fill="#7D5C22" stroke="none" stroke-width="1.2"/>
<circle cx="71.8" cy="229.4" r="1.30" fill="#7D5C22" stroke="none" stroke-width="1.2"/>
<circle cx="76.0" cy="211.8" r="1.30" fill="#7D5C22" stroke="none" stroke-width="1.2"/>
<circle cx="67.1" cy="228.3" r="1.30" fill="#7D5C22" stroke="none" stroke-width="1.2"/>
<circle cx="69.1" cy="218.9" r="1.30" fill="#7D5C22" stroke="none" stroke-width="1.2"/>
<circle cx="72.4" cy="189.3" r="1.30" fill="#7D5C22" stroke="none" stroke-width="1.2"/>
<circle cx="75.0" cy="235.8" r="1.30" fill="#7D5C22" stroke="none" stroke-width="1.2"/>
<circle cx="67.8" cy="227.2" r="1.30" fill="#7D5C22" stroke="none" stroke-width="1.2"/>
<circle cx="74.5" cy="227.3" r="1.30" fill="#7D5C22" stroke="none" stroke-width="1.2"/>
<circle cx="90.7" cy="177.2" r="1.30" fill="#7D5C22" stroke="none" stroke-width="1.2"/>
<circle cx="73.9" cy="186.7" r="1.30" fill="#7D5C22" stroke="none" stroke-width="1.2"/>
<circle cx="68.6" cy="223.6" r="1.30" fill="#7D5C22" stroke="none" stroke-width="1.2"/>
<circle cx="83.3" cy="248.7" r="1.30" fill="#7D5C22" stroke="none" stroke-width="1.2"/>
<circle cx="83.5" cy="246.3" r="1.30" fill="#7D5C22" stroke="none" stroke-width="1.2"/>
<circle cx="75.9" cy="191.3" r="1.30" fill="#7D5C22" stroke="none" stroke-width="1.2"/>
<circle cx="75.5" cy="201.5" r="1.30" fill="#7D5C22" stroke="none" stroke-width="1.2"/>
<circle cx="69.0" cy="214.4" r="1.30" fill="#7D5C22" stroke="none" stroke-width="1.2"/>
<circle cx="83.2" cy="247.7" r="1.30" fill="#7D5C22" stroke="none" stroke-width="1.2"/>
<circle cx="64.7" cy="219.3" r="1.30" fill="#7D5C22" stroke="none" stroke-width="1.2"/>
<circle cx="80.5" cy="184.9" r="1.30" fill="#7D5C22" stroke="none" stroke-width="1.2"/>
<circle cx="75.0" cy="218.7" r="1.30" fill="#7D5C22" stroke="none" stroke-width="1.2"/>
<circle cx="67.2" cy="212.1" r="1.30" fill="#7D5C22" stroke="none" stroke-width="1.2"/>
<circle cx="68.4" cy="223.5" r="1.30" fill="#7D5C22" stroke="none" stroke-width="1.2"/>
<circle cx="77.8" cy="196.3" r="1.30" fill="#7D5C22" stroke="none" stroke-width="1.2"/>
<circle cx="79.3" cy="183.7" r="1.30" fill="#7D5C22" stroke="none" stroke-width="1.2"/>
<circle cx="75.7" cy="229.9" r="1.30" fill="#7D5C22" stroke="none" stroke-width="1.2"/>
<circle cx="84.5" cy="177.9" r="1.30" fill="#7D5C22" stroke="none" stroke-width="1.2"/>
<circle cx="82.5" cy="246.4" r="1.30" fill="#7D5C22" stroke="none" stroke-width="1.2"/>
<circle cx="71.6" cy="228.9" r="1.30" fill="#7D5C22" stroke="none" stroke-width="1.2"/>
<circle cx="73.9" cy="218.2" r="1.30" fill="#7D5C22" stroke="none" stroke-width="1.2"/>
<circle cx="81.2" cy="189.6" r="1.30" fill="#7D5C22" stroke="none" stroke-width="1.2"/>
<circle cx="67.2" cy="204.6" r="1.30" fill="#7D5C22" stroke="none" stroke-width="1.2"/>
<circle cx="69.9" cy="217.2" r="1.30" fill="#7D5C22" stroke="none" stroke-width="1.2"/>
<circle cx="82.7" cy="248.5" r="1.30" fill="#7D5C22" stroke="none" stroke-width="1.2"/>
<circle cx="82.0" cy="180.0" r="1.30" fill="#7D5C22" stroke="none" stroke-width="1.2"/>
<circle cx="74.1" cy="199.3" r="1.30" fill="#7D5C22" stroke="none" stroke-width="1.2"/>
<circle cx="67.1" cy="217.8" r="1.30" fill="#7D5C22" stroke="none" stroke-width="1.2"/>
<circle cx="72.6" cy="188.5" r="1.30" fill="#7D5C22" stroke="none" stroke-width="1.2"/>
<circle cx="89.4" cy="179.7" r="1.30" fill="#7D5C22" stroke="none" stroke-width="1.2"/>
<circle cx="74.0" cy="219.4" r="1.30" fill="#7D5C22" stroke="none" stroke-width="1.2"/>
<circle cx="84.5" cy="179.7" r="1.30" fill="#7D5C22" stroke="none" stroke-width="1.2"/>
<circle cx="70.8" cy="199.6" r="1.30" fill="#7D5C22" stroke="none" stroke-width="1.2"/>
<circle cx="68.3" cy="231.0" r="1.30" fill="#7D5C22" stroke="none" stroke-width="1.2"/>
<circle cx="73.3" cy="235.5" r="1.30" fill="#7D5C22" stroke="none" stroke-width="1.2"/>
<circle cx="73.3" cy="204.5" r="1.30" fill="#7D5C22" stroke="none" stroke-width="1.2"/>
<circle cx="63.5" cy="223.9" r="1.30" fill="#7D5C22" stroke="none" stroke-width="1.2"/>
<circle cx="68.0" cy="231.6" r="1.30" fill="#7D5C22" stroke="none" stroke-width="1.2"/>
<circle cx="82.6" cy="178.7" r="1.30" fill="#7D5C22" stroke="none" stroke-width="1.2"/>
<circle cx="69.0" cy="215.4" r="1.30" fill="#7D5C22" stroke="none" stroke-width="1.2"/>
<circle cx="75.1" cy="231.5" r="1.30" fill="#7D5C22" stroke="none" stroke-width="1.2"/>
<circle cx="86.3" cy="181.3" r="1.30" fill="#7D5C22" stroke="none" stroke-width="1.2"/>
<circle cx="77.2" cy="195.2" r="1.30" fill="#7D5C22" stroke="none" stroke-width="1.2"/>
<circle cx="75.8" cy="200.3" r="1.30" fill="#7D5C22" stroke="none" stroke-width="1.2"/>
<circle cx="77.9" cy="244.1" r="1.30" fill="#7D5C22" stroke="none" stroke-width="1.2"/>
<circle cx="74.6" cy="234.1" r="1.30" fill="#7D5C22" stroke="none" stroke-width="1.2"/>
<circle cx="78.4" cy="244.9" r="1.30" fill="#7D5C22" stroke="none" stroke-width="1.2"/>
<circle cx="72.6" cy="199.3" r="1.30" fill="#7D5C22" stroke="none" stroke-width="1.2"/>
<circle cx="78.7" cy="186.7" r="1.30" fill="#7D5C22" stroke="none" stroke-width="1.2"/>
<circle cx="74.2" cy="237.8" r="1.30" fill="#7D5C22" stroke="none" stroke-width="1.2"/>
<circle cx="77.3" cy="239.8" r="1.30" fill="#7D5C22" stroke="none" stroke-width="1.2"/>
<circle cx="68.2" cy="214.0" r="1.30" fill="#7D5C22" stroke="none" stroke-width="1.2"/>
<circle cx="76.3" cy="233.8" r="1.30" fill="#7D5C22" stroke="none" stroke-width="1.2"/>
<circle cx="87.0" cy="182.6" r="1.30" fill="#7D5C22" stroke="none" stroke-width="1.2"/>
<circle cx="84.4" cy="180.0" r="1.30" fill="#7D5C22" stroke="none" stroke-width="1.2"/>
<circle cx="71.9" cy="222.5" r="1.30" fill="#7D5C22" stroke="none" stroke-width="1.2"/>
<circle cx="65.0" cy="211.6" r="1.30" fill="#7D5C22" stroke="none" stroke-width="1.2"/>
<circle cx="81.2" cy="246.5" r="1.30" fill="#7D5C22" stroke="none" stroke-width="1.2"/>
<circle cx="69.4" cy="229.1" r="1.30" fill="#7D5C22" stroke="none" stroke-width="1.2"/>
<circle cx="73.9" cy="237.4" r="1.30" fill="#7D5C22" stroke="none" stroke-width="1.2"/>
<circle cx="73.0" cy="238.5" r="1.30" fill="#7D5C22" stroke="none" stroke-width="1.2"/>
<circle cx="66.1" cy="211.9" r="1.30" fill="#7D5C22" stroke="none" stroke-width="1.2"/>
<circle cx="74.7" cy="205.2" r="1.30" fill="#7D5C22" stroke="none" stroke-width="1.2"/>
<circle cx="74.6" cy="200.8" r="1.30" fill="#7D5C22" stroke="none" stroke-width="1.2"/>
<circle cx="69.3" cy="190.7" r="1.30" fill="#7D5C22" stroke="none" stroke-width="1.2"/>
<circle cx="82.9" cy="180.8" r="1.30" fill="#7D5C22" stroke="none" stroke-width="1.2"/>
<circle cx="86.9" cy="179.8" r="1.30" fill="#7D5C22" stroke="none" stroke-width="1.2"/>
<circle cx="89.3" cy="179.1" r="1.30" fill="#7D5C22" stroke="none" stroke-width="1.2"/>
<circle cx="75.2" cy="188.1" r="1.30" fill="#7D5C22" stroke="none" stroke-width="1.2"/>
<circle cx="80.3" cy="187.7" r="1.30" fill="#7D5C22" stroke="none" stroke-width="1.2"/>
<circle cx="72.8" cy="194.7" r="1.30" fill="#7D5C22" stroke="none" stroke-width="1.2"/>
<circle cx="72.7" cy="189.1" r="1.30" fill="#7D5C22" stroke="none" stroke-width="1.2"/>
<circle cx="62.2" cy="213.5" r="1.30" fill="#7D5C22" stroke="none" stroke-width="1.2"/>
<circle cx="86.4" cy="176.6" r="1.30" fill="#7D5C22" stroke="none" stroke-width="1.2"/>
<circle cx="68.3" cy="212.9" r="1.30" fill="#7D5C22" stroke="none" stroke-width="1.2"/>
<circle cx="71.8" cy="223.0" r="1.30" fill="#7D5C22" stroke="none" stroke-width="1.2"/>
<circle cx="67.5" cy="198.7" r="1.30" fill="#7D5C22" stroke="none" stroke-width="1.2"/>
<circle cx="82.6" cy="185.9" r="1.30" fill="#7D5C22" stroke="none" stroke-width="1.2"/>
<circle cx="76.3" cy="240.3" r="1.30" fill="#7D5C22" stroke="none" stroke-width="1.2"/>
<circle cx="74.5" cy="191.9" r="1.30" fill="#7D5C22" stroke="none" stroke-width="1.2"/>
<circle cx="90.3" cy="175.3" r="1.30" fill="#7D5C22" stroke="none" stroke-width="1.2"/>
<circle cx="86.4" cy="180.9" r="1.30" fill="#7D5C22" stroke="none" stroke-width="1.2"/>
<circle cx="69.8" cy="208.6" r="1.30" fill="#7D5C22" stroke="none" stroke-width="1.2"/>
<circle cx="77.0" cy="238.3" r="1.30" fill="#7D5C22" stroke="none" stroke-width="1.2"/>
<circle cx="80.5" cy="241.4" r="1.30" fill="#7D5C22" stroke="none" stroke-width="1.2"/>
<circle cx="68.0" cy="214.1" r="1.30" fill="#7D5C22" stroke="none" stroke-width="1.2"/>
<circle cx="74.3" cy="195.9" r="1.30" fill="#7D5C22" stroke="none" stroke-width="1.2"/>
<circle cx="65.8" cy="207.4" r="1.30" fill="#7D5C22" stroke="none" stroke-width="1.2"/>
<circle cx="84.1" cy="182.4" r="1.30" fill="#7D5C22" stroke="none" stroke-width="1.2"/>
<circle cx="73.2" cy="237.2" r="1.30" fill="#7D5C22" stroke="none" stroke-width="1.2"/>
<circle cx="73.0" cy="226.8" r="1.30" fill="#7D5C22" stroke="none" stroke-width="1.2"/>
<circle cx="89.1" cy="174.4" r="1.30" fill="#7D5C22" stroke="none" stroke-width="1.2"/>
<circle cx="71.4" cy="219.6" r="1.30" fill="#7D5C22" stroke="none" stroke-width="1.2"/>
<circle cx="75.0" cy="195.2" r="1.30" fill="#7D5C22" stroke="none" stroke-width="1.2"/>
<circle cx="78.2" cy="192.5" r="1.30" fill="#7D5C22" stroke="none" stroke-width="1.2"/>
<circle cx="80.4" cy="244.6" r="1.30" fill="#7D5C22" stroke="none" stroke-width="1.2"/>
<circle cx="76.5" cy="235.0" r="1.30" fill="#7D5C22" stroke="none" stroke-width="1.2"/>
<circle cx="67.2" cy="225.7" r="1.30" fill="#7D5C22" stroke="none" stroke-width="1.2"/>
<circle cx="74.0" cy="237.4" r="1.30" fill="#7D5C22" stroke="none" stroke-width="1.2"/>
<circle cx="82.8" cy="185.9" r="1.30" fill="#7D5C22" stroke="none" stroke-width="1.2"/>
<circle cx="79.3" cy="243.0" r="1.30" fill="#7D5C22" stroke="none" stroke-width="1.2"/>
<circle cx="69.7" cy="233.2" r="1.30" fill="#7D5C22" stroke="none" stroke-width="1.2"/>
<circle cx="76.1" cy="204.6" r="1.30" fill="#7D5C22" stroke="none" stroke-width="1.2"/>
<circle cx="81.9" cy="247.7" r="1.30" fill="#7D5C22" stroke="none" stroke-width="1.2"/>
<circle cx="90.0" cy="177.7" r="1.30" fill="#7D5C22" stroke="none" stroke-width="1.2"/>
<circle cx="84.2" cy="182.3" r="1.30" fill="#7D5C22" stroke="none" stroke-width="1.2"/>
<circle cx="73.4" cy="237.1" r="1.30" fill="#7D5C22" stroke="none" stroke-width="1.2"/>
<circle cx="77.8" cy="242.1" r="1.30" fill="#7D5C22" stroke="none" stroke-width="1.2"/>
<circle cx="81.0" cy="182.6" r="1.30" fill="#7D5C22" stroke="none" stroke-width="1.2"/>
<circle cx="67.3" cy="229.6" r="1.30" fill="#7D5C22" stroke="none" stroke-width="1.2"/>
<circle cx="72.3" cy="220.1" r="1.30" fill="#7D5C22" stroke="none" stroke-width="1.2"/>
<circle cx="65.6" cy="216.9" r="1.30" fill="#7D5C22" stroke="none" stroke-width="1.2"/>
<circle cx="71.2" cy="199.3" r="1.30" fill="#7D5C22" stroke="none" stroke-width="1.2"/>
<circle cx="79.9" cy="181.5" r="1.30" fill="#7D5C22" stroke="none" stroke-width="1.2"/>
<circle cx="72.3" cy="215.9" r="1.30" fill="#7D5C22" stroke="none" stroke-width="1.2"/>
<circle cx="73.1" cy="236.6" r="1.30" fill="#7D5C22" stroke="none" stroke-width="1.2"/>
<circle cx="70.3" cy="191.1" r="1.30" fill="#7D5C22" stroke="none" stroke-width="1.2"/>
<circle cx="76.5" cy="235.6" r="1.30" fill="#7D5C22" stroke="none" stroke-width="1.2"/>
<circle cx="90.2" cy="179.3" r="1.30" fill="#7D5C22" stroke="none" stroke-width="1.2"/>
<circle cx="71.7" cy="223.4" r="1.30" fill="#7D5C22" stroke="none" stroke-width="1.2"/>
<circle cx="69.9" cy="199.6" r="1.30" fill="#7D5C22" stroke="none" stroke-width="1.2"/>
<circle cx="78.4" cy="187.4" r="1.30" fill="#7D5C22" stroke="none" stroke-width="1.2"/>
<circle cx="73.1" cy="216.0" r="1.30" fill="#7D5C22" stroke="none" stroke-width="1.2"/>
<circle cx="71.1" cy="215.5" r="1.30" fill="#7D5C22" stroke="none" stroke-width="1.2"/>
<circle cx="73.8" cy="224.1" r="1.30" fill="#7D5C22" stroke="none" stroke-width="1.2"/>
<circle cx="70.3" cy="207.9" r="1.30" fill="#7D5C22" stroke="none" stroke-width="1.2"/>
<circle cx="69.9" cy="232.7" r="1.30" fill="#7D5C22" stroke="none" stroke-width="1.2"/>
<circle cx="72.9" cy="238.5" r="1.30" fill="#7D5C22" stroke="none" stroke-width="1.2"/>
<circle cx="62.9" cy="215.5" r="1.30" fill="#7D5C22" stroke="none" stroke-width="1.2"/>
<circle cx="64.2" cy="202.7" r="1.30" fill="#7D5C22" stroke="none" stroke-width="1.2"/>
<circle cx="67.7" cy="230.2" r="1.30" fill="#7D5C22" stroke="none" stroke-width="1.2"/>
<circle cx="73.3" cy="230.0" r="1.30" fill="#7D5C22" stroke="none" stroke-width="1.2"/>
<circle cx="82.9" cy="182.6" r="1.30" fill="#7D5C22" stroke="none" stroke-width="1.2"/>
<circle cx="86.8" cy="177.6" r="1.30" fill="#7D5C22" stroke="none" stroke-width="1.2"/>
<circle cx="73.9" cy="194.8" r="1.30" fill="#7D5C22" stroke="none" stroke-width="1.2"/>
<circle cx="77.1" cy="244.2" r="1.30" fill="#7D5C22" stroke="none" stroke-width="1.2"/>
<circle cx="65.7" cy="202.9" r="1.30" fill="#7D5C22" stroke="none" stroke-width="1.2"/>
<circle cx="62.5" cy="215.8" r="1.30" fill="#7D5C22" stroke="none" stroke-width="1.2"/>
<circle cx="82.9" cy="181.8" r="1.30" fill="#7D5C22" stroke="none" stroke-width="1.2"/>
<circle cx="77.5" cy="190.8" r="1.30" fill="#7D5C22" stroke="none" stroke-width="1.2"/>
<circle cx="76.4" cy="242.3" r="1.30" fill="#7D5C22" stroke="none" stroke-width="1.2"/>
<circle cx="74.3" cy="216.9" r="1.30" fill="#7D5C22" stroke="none" stroke-width="1.2"/>
<circle cx="73.6" cy="195.2" r="1.30" fill="#7D5C22" stroke="none" stroke-width="1.2"/>
<circle cx="72.9" cy="208.5" r="1.30" fill="#7D5C22" stroke="none" stroke-width="1.2"/>
<circle cx="79.2" cy="240.5" r="1.30" fill="#7D5C22" stroke="none" stroke-width="1.2"/>
<circle cx="73.9" cy="208.5" r="1.30" fill="#7D5C22" stroke="none" stroke-width="1.2"/>
<circle cx="77.2" cy="187.1" r="1.30" fill="#7D5C22" stroke="none" stroke-width="1.2"/>
<circle cx="89.0" cy="180.0" r="1.30" fill="#7D5C22" stroke="none" stroke-width="1.2"/>
<circle cx="76.8" cy="242.6" r="1.30" fill="#7D5C22" stroke="none" stroke-width="1.2"/>
<circle cx="65.9" cy="227.5" r="1.30" fill="#7D5C22" stroke="none" stroke-width="1.2"/>
<circle cx="78.7" cy="189.6" r="1.30" fill="#7D5C22" stroke="none" stroke-width="1.2"/>
<circle cx="81.3" cy="187.7" r="1.30" fill="#7D5C22" stroke="none" stroke-width="1.2"/>
<circle cx="69.3" cy="199.2" r="1.30" fill="#7D5C22" stroke="none" stroke-width="1.2"/>
<circle cx="78.7" cy="190.5" r="1.30" fill="#7D5C22" stroke="none" stroke-width="1.2"/>
<circle cx="73.0" cy="192.2" r="1.30" fill="#7D5C22" stroke="none" stroke-width="1.2"/>
<circle cx="69.1" cy="204.6" r="1.30" fill="#7D5C22" stroke="none" stroke-width="1.2"/>
<circle cx="71.3" cy="218.5" r="1.30" fill="#7D5C22" stroke="none" stroke-width="1.2"/>
<circle cx="86.1" cy="181.2" r="1.30" fill="#7D5C22" stroke="none" stroke-width="1.2"/>
<circle cx="73.8" cy="192.8" r="1.30" fill="#7D5C22" stroke="none" stroke-width="1.2"/>
<circle cx="83.6" cy="246.8" r="1.30" fill="#7D5C22" stroke="none" stroke-width="1.2"/>
<circle cx="65.4" cy="198.9" r="1.30" fill="#7D5C22" stroke="none" stroke-width="1.2"/>
<circle cx="66.4" cy="214.9" r="1.30" fill="#7D5C22" stroke="none" stroke-width="1.2"/>
<circle cx="72.6" cy="233.8" r="1.30" fill="#7D5C22" stroke="none" stroke-width="1.2"/>
<circle cx="70.1" cy="225.3" r="1.30" fill="#7D5C22" stroke="none" stroke-width="1.2"/>
<circle cx="75.0" cy="231.7" r="1.30" fill="#7D5C22" stroke="none" stroke-width="1.2"/>
<circle cx="66.2" cy="204.6" r="1.30" fill="#7D5C22" stroke="none" stroke-width="1.2"/>
<circle cx="76.3" cy="189.8" r="1.30" fill="#7D5C22" stroke="none" stroke-width="1.2"/>
<circle cx="75.4" cy="210.6" r="1.30" fill="#7D5C22" stroke="none" stroke-width="1.2"/>
<circle cx="63.0" cy="215.7" r="1.30" fill="#7D5C22" stroke="none" stroke-width="1.2"/>
<circle cx="89.6" cy="176.9" r="1.30" fill="#7D5C22" stroke="none" stroke-width="1.2"/>
<circle cx="72.4" cy="190.4" r="1.30" fill="#7D5C22" stroke="none" stroke-width="1.2"/>
<circle cx="68.2" cy="215.7" r="1.30" fill="#7D5C22" stroke="none" stroke-width="1.2"/>
<circle cx="82.0" cy="184.5" r="1.30" fill="#7D5C22" stroke="none" stroke-width="1.2"/>
<circle cx="68.4" cy="220.5" r="1.30" fill="#7D5C22" stroke="none" stroke-width="1.2"/>
<circle cx="83.5" cy="178.8" r="1.30" fill="#7D5C22" stroke="none" stroke-width="1.2"/>
<circle cx="79.9" cy="184.1" r="1.30" fill="#7D5C22" stroke="none" stroke-width="1.2"/>
<circle cx="86.9" cy="179.2" r="1.30" fill="#7D5C22" stroke="none" stroke-width="1.2"/>
<circle cx="82.9" cy="245.6" r="1.30" fill="#7D5C22" stroke="none" stroke-width="1.2"/>
<circle cx="83.3" cy="246.9" r="1.30" fill="#7D5C22" stroke="none" stroke-width="1.2"/>
<circle cx="89.4" cy="178.7" r="1.30" fill="#7D5C22" stroke="none" stroke-width="1.2"/>
<circle cx="72.9" cy="201.5" r="1.30" fill="#7D5C22" stroke="none" stroke-width="1.2"/>
<circle cx="87.4" cy="176.0" r="1.30" fill="#7D5C22" stroke="none" stroke-width="1.2"/>
<circle cx="78.6" cy="190.4" r="1.30" fill="#7D5C22" stroke="none" stroke-width="1.2"/>
<circle cx="63.1" cy="205.3" r="1.30" fill="#7D5C22" stroke="none" stroke-width="1.2"/>
<circle cx="81.7" cy="247.1" r="1.30" fill="#7D5C22" stroke="none" stroke-width="1.2"/>
<circle cx="74.2" cy="222.3" r="1.30" fill="#7D5C22" stroke="none" stroke-width="1.2"/>
<circle cx="75.9" cy="239.7" r="1.30" fill="#7D5C22" stroke="none" stroke-width="1.2"/>
<circle cx="66.1" cy="200.5" r="1.30" fill="#7D5C22" stroke="none" stroke-width="1.2"/>
<circle cx="78.3" cy="189.2" r="1.30" fill="#7D5C22" stroke="none" stroke-width="1.2"/>
<circle cx="81.9" cy="186.4" r="1.30" fill="#7D5C22" stroke="none" stroke-width="1.2"/>
<circle cx="74.1" cy="195.3" r="1.30" fill="#7D5C22" stroke="none" stroke-width="1.2"/>
<circle cx="77.3" cy="238.1" r="1.30" fill="#7D5C22" stroke="none" stroke-width="1.2"/>
<circle cx="71.1" cy="225.2" r="1.30" fill="#7D5C22" stroke="none" stroke-width="1.2"/>
<circle cx="80.8" cy="187.8" r="1.30" fill="#7D5C22" stroke="none" stroke-width="1.2"/>
<circle cx="72.6" cy="227.0" r="1.30" fill="#7D5C22" stroke="none" stroke-width="1.2"/>
<circle cx="80.6" cy="244.0" r="1.30" fill="#7D5C22" stroke="none" stroke-width="1.2"/>
<circle cx="79.8" cy="240.7" r="1.30" fill="#7D5C22" stroke="none" stroke-width="1.2"/>
<circle cx="83.8" cy="178.8" r="1.30" fill="#7D5C22" stroke="none" stroke-width="1.2"/>
<circle cx="74.9" cy="211.8" r="1.30" fill="#7D5C22" stroke="none" stroke-width="1.2"/>
<circle cx="89.3" cy="179.0" r="1.30" fill="#7D5C22" stroke="none" stroke-width="1.2"/>
<circle cx="73.7" cy="195.1" r="1.30" fill="#7D5C22" stroke="none" stroke-width="1.2"/>
<circle cx="72.9" cy="226.8" r="1.30" fill="#7D5C22" stroke="none" stroke-width="1.2"/>
<circle cx="82.7" cy="185.5" r="1.30" fill="#7D5C22" stroke="none" stroke-width="1.2"/>
<circle cx="72.0" cy="202.4" r="1.30" fill="#7D5C22" stroke="none" stroke-width="1.2"/>
<circle cx="75.0" cy="194.1" r="1.30" fill="#7D5C22" stroke="none" stroke-width="1.2"/>
<circle cx="88.9" cy="177.1" r="1.30" fill="#7D5C22" stroke="none" stroke-width="1.2"/>
<circle cx="82.7" cy="246.7" r="1.30" fill="#7D5C22" stroke="none" stroke-width="1.2"/>
<circle cx="76.5" cy="187.8" r="1.30" fill="#7D5C22" stroke="none" stroke-width="1.2"/>
<circle cx="77.4" cy="238.4" r="1.30" fill="#7D5C22" stroke="none" stroke-width="1.2"/>
<circle cx="70.7" cy="204.4" r="1.30" fill="#7D5C22" stroke="none" stroke-width="1.2"/>
<circle cx="72.0" cy="195.8" r="1.30" fill="#7D5C22" stroke="none" stroke-width="1.2"/>
<circle cx="70.3" cy="202.3" r="1.30" fill="#7D5C22" stroke="none" stroke-width="1.2"/>
<circle cx="79.3" cy="191.9" r="1.30" fill="#7D5C22" stroke="none" stroke-width="1.2"/>
<circle cx="80.9" cy="183.8" r="1.30" fill="#7D5C22" stroke="none" stroke-width="1.2"/>
<circle cx="74.7" cy="225.2" r="1.30" fill="#7D5C22" stroke="none" stroke-width="1.2"/>
<circle cx="86.5" cy="179.6" r="1.30" fill="#7D5C22" stroke="none" stroke-width="1.2"/>
<circle cx="68.8" cy="217.1" r="1.30" fill="#7D5C22" stroke="none" stroke-width="1.2"/>
<circle cx="90.2" cy="177.9" r="1.30" fill="#7D5C22" stroke="none" stroke-width="1.2"/>
<circle cx="73.6" cy="190.5" r="1.30" fill="#7D5C22" stroke="none" stroke-width="1.2"/>
<circle cx="62.9" cy="220.7" r="1.30" fill="#7D5C22" stroke="none" stroke-width="1.2"/>
<circle cx="79.6" cy="245.3" r="1.30" fill="#7D5C22" stroke="none" stroke-width="1.2"/>
<circle cx="70.9" cy="203.4" r="1.30" fill="#7D5C22" stroke="none" stroke-width="1.2"/>
<circle cx="77.7" cy="239.6" r="1.30" fill="#7D5C22" stroke="none" stroke-width="1.2"/>
<circle cx="81.8" cy="183.0" r="1.30" fill="#7D5C22" stroke="none" stroke-width="1.2"/>
<circle cx="82.6" cy="245.8" r="1.30" fill="#7D5C22" stroke="none" stroke-width="1.2"/>
<circle cx="71.9" cy="224.4" r="1.30" fill="#7D5C22" stroke="none" stroke-width="1.2"/>
<circle cx="73.7" cy="202.3" r="1.30" fill="#7D5C22" stroke="none" stroke-width="1.2"/>
<circle cx="67.0" cy="214.4" r="1.30" fill="#7D5C22" stroke="none" stroke-width="1.2"/>
<circle cx="81.9" cy="246.2" r="1.30" fill="#7D5C22" stroke="none" stroke-width="1.2"/>
<circle cx="71.1" cy="194.0" r="1.30" fill="#7D5C22" stroke="none" stroke-width="1.2"/>
<circle cx="80.3" cy="246.7" r="1.30" fill="#7D5C22" stroke="none" stroke-width="1.2"/>
<circle cx="67.9" cy="209.1" r="1.30" fill="#7D5C22" stroke="none" stroke-width="1.2"/>
<circle cx="71.0" cy="230.6" r="1.30" fill="#7D5C22" stroke="none" stroke-width="1.2"/>
<circle cx="75.4" cy="197.6" r="1.30" fill="#7D5C22" stroke="none" stroke-width="1.2"/>
<circle cx="87.7" cy="181.3" r="1.30" fill="#7D5C22" stroke="none" stroke-width="1.2"/>
<circle cx="83.8" cy="182.0" r="1.30" fill="#7D5C22" stroke="none" stroke-width="1.2"/>
<circle cx="78.8" cy="182.7" r="1.30" fill="#7D5C22" stroke="none" stroke-width="1.2"/>
<circle cx="75.9" cy="190.8" r="1.30" fill="#7D5C22" stroke="none" stroke-width="1.2"/>
<circle cx="73.2" cy="227.2" r="1.30" fill="#7D5C22" stroke="none" stroke-width="1.2"/>
<circle cx="69.7" cy="195.2" r="1.30" fill="#7D5C22" stroke="none" stroke-width="1.2"/>
<circle cx="69.9" cy="216.0" r="1.30" fill="#7D5C22" stroke="none" stroke-width="1.2"/>
<circle cx="72.6" cy="237.8" r="1.30" fill="#7D5C22" stroke="none" stroke-width="1.2"/>
<circle cx="72.1" cy="223.5" r="1.30" fill="#7D5C22" stroke="none" stroke-width="1.2"/>
<circle cx="62.9" cy="217.8" r="1.30" fill="#7D5C22" stroke="none" stroke-width="1.2"/>
<circle cx="70.9" cy="225.5" r="1.30" fill="#7D5C22" stroke="none" stroke-width="1.2"/>
<circle cx="77.8" cy="245.4" r="1.30" fill="#7D5C22" stroke="none" stroke-width="1.2"/>
<circle cx="85.0" cy="184.2" r="1.30" fill="#7D5C22" stroke="none" stroke-width="1.2"/>
<circle cx="83.6" cy="246.7" r="1.30" fill="#7D5C22" stroke="none" stroke-width="1.2"/>
<circle cx="68.8" cy="213.6" r="1.30" fill="#7D5C22" stroke="none" stroke-width="1.2"/>
<circle cx="71.1" cy="235.7" r="1.30" fill="#7D5C22" stroke="none" stroke-width="1.2"/>
<circle cx="66.0" cy="220.4" r="1.30" fill="#7D5C22" stroke="none" stroke-width="1.2"/>
<circle cx="70.0" cy="226.2" r="1.30" fill="#7D5C22" stroke="none" stroke-width="1.2"/>
<circle cx="82.6" cy="187.4" r="1.30" fill="#7D5C22" stroke="none" stroke-width="1.2"/>
<circle cx="74.0" cy="208.9" r="1.30" fill="#7D5C22" stroke="none" stroke-width="1.2"/>
<circle cx="73.7" cy="215.7" r="1.30" fill="#7D5C22" stroke="none" stroke-width="1.2"/>
<circle cx="77.0" cy="189.0" r="1.30" fill="#7D5C22" stroke="none" stroke-width="1.2"/>
<circle cx="89.2" cy="180.3" r="1.30" fill="#7D5C22" stroke="none" stroke-width="1.2"/>
<circle cx="86.7" cy="182.0" r="1.30" fill="#7D5C22" stroke="none" stroke-width="1.2"/>
<circle cx="76.0" cy="185.4" r="1.30" fill="#7D5C22" stroke="none" stroke-width="1.2"/>
<circle cx="73.9" cy="234.9" r="1.30" fill="#7D5C22" stroke="none" stroke-width="1.2"/>
<circle cx="67.7" cy="224.0" r="1.30" fill="#7D5C22" stroke="none" stroke-width="1.2"/>
<circle cx="73.5" cy="241.1" r="1.30" fill="#7D5C22" stroke="none" stroke-width="1.2"/>
<circle cx="73.3" cy="227.6" r="1.30" fill="#7D5C22" stroke="none" stroke-width="1.2"/>
<circle cx="84.9" cy="184.1" r="1.30" fill="#7D5C22" stroke="none" stroke-width="1.2"/>
<circle cx="72.4" cy="194.5" r="1.30" fill="#7D5C22" stroke="none" stroke-width="1.2"/>
<circle cx="82.4" cy="244.8" r="1.30" fill="#7D5C22" stroke="none" stroke-width="1.2"/>
<circle cx="71.5" cy="235.2" r="1.30" fill="#7D5C22" stroke="none" stroke-width="1.2"/>
<circle cx="73.5" cy="237.1" r="1.30" fill="#7D5C22" stroke="none" stroke-width="1.2"/>
<circle cx="81.2" cy="244.5" r="1.30" fill="#7D5C22" stroke="none" stroke-width="1.2"/>
<circle cx="80.2" cy="240.7" r="1.30" fill="#7D5C22" stroke="none" stroke-width="1.2"/>
<circle cx="72.3" cy="201.6" r="1.30" fill="#7D5C22" stroke="none" stroke-width="1.2"/>
<circle cx="69.3" cy="198.3" r="1.30" fill="#7D5C22" stroke="none" stroke-width="1.2"/>
<circle cx="78.4" cy="241.4" r="1.30" fill="#7D5C22" stroke="none" stroke-width="1.2"/>
<circle cx="74.0" cy="229.4" r="1.30" fill="#7D5C22" stroke="none" stroke-width="1.2"/>
<circle cx="72.6" cy="223.8" r="1.30" fill="#7D5C22" stroke="none" stroke-width="1.2"/>
<circle cx="71.7" cy="198.0" r="1.30" fill="#7D5C22" stroke="none" stroke-width="1.2"/>
<circle cx="72.5" cy="203.2" r="1.30" fill="#7D5C22" stroke="none" stroke-width="1.2"/>
<circle cx="75.6" cy="185.9" r="1.30" fill="#7D5C22" stroke="none" stroke-width="1.2"/>
<circle cx="81.7" cy="179.6" r="1.30" fill="#7D5C22" stroke="none" stroke-width="1.2"/>
<circle cx="78.2" cy="188.8" r="1.30" fill="#7D5C22" stroke="none" stroke-width="1.2"/>
<circle cx="73.7" cy="191.1" r="1.30" fill="#7D5C22" stroke="none" stroke-width="1.2"/>
<circle cx="80.7" cy="186.6" r="1.30" fill="#7D5C22" stroke="none" stroke-width="1.2"/>
<circle cx="70.7" cy="221.0" r="1.30" fill="#7D5C22" stroke="none" stroke-width="1.2"/>
<circle cx="64.3" cy="220.7" r="1.30" fill="#7D5C22" stroke="none" stroke-width="1.2"/>
<circle cx="67.5" cy="210.8" r="1.30" fill="#7D5C22" stroke="none" stroke-width="1.2"/>
<circle cx="70.6" cy="225.8" r="1.30" fill="#7D5C22" stroke="none" stroke-width="1.2"/>
<circle cx="74.1" cy="201.5" r="1.30" fill="#7D5C22" stroke="none" stroke-width="1.2"/>
<circle cx="75.5" cy="211.7" r="1.30" fill="#7D5C22" stroke="none" stroke-width="1.2"/>
<circle cx="67.8" cy="217.8" r="1.30" fill="#7D5C22" stroke="none" stroke-width="1.2"/>
<circle cx="62.3" cy="207.0" r="1.30" fill="#7D5C22" stroke="none" stroke-width="1.2"/>
<circle cx="67.0" cy="231.6" r="1.30" fill="#7D5C22" stroke="none" stroke-width="1.2"/>
<circle cx="80.0" cy="180.2" r="1.30" fill="#7D5C22" stroke="none" stroke-width="1.2"/>
<circle cx="74.6" cy="238.4" r="1.30" fill="#7D5C22" stroke="none" stroke-width="1.2"/>
<circle cx="73.7" cy="234.1" r="1.30" fill="#7D5C22" stroke="none" stroke-width="1.2"/>
<circle cx="75.2" cy="240.9" r="1.30" fill="#7D5C22" stroke="none" stroke-width="1.2"/>
<circle cx="69.1" cy="205.9" r="1.30" fill="#7D5C22" stroke="none" stroke-width="1.2"/>
<circle cx="72.8" cy="192.0" r="1.30" fill="#7D5C22" stroke="none" stroke-width="1.2"/>
<circle cx="72.7" cy="234.0" r="1.30" fill="#7D5C22" stroke="none" stroke-width="1.2"/>
<circle cx="74.3" cy="239.9" r="1.30" fill="#7D5C22" stroke="none" stroke-width="1.2"/>
<circle cx="75.4" cy="232.8" r="1.30" fill="#7D5C22" stroke="none" stroke-width="1.2"/>
<circle cx="89.3" cy="178.8" r="1.30" fill="#7D5C22" stroke="none" stroke-width="1.2"/>
<circle cx="84.4" cy="183.7" r="1.30" fill="#7D5C22" stroke="none" stroke-width="1.2"/>
<circle cx="63.3" cy="221.2" r="1.30" fill="#7D5C22" stroke="none" stroke-width="1.2"/>
<circle cx="77.7" cy="187.3" r="1.30" fill="#7D5C22" stroke="none" stroke-width="1.2"/>
<circle cx="77.5" cy="185.8" r="1.30" fill="#7D5C22" stroke="none" stroke-width="1.2"/>
<circle cx="73.6" cy="197.9" r="1.30" fill="#7D5C22" stroke="none" stroke-width="1.2"/>
<circle cx="65.8" cy="218.8" r="1.30" fill="#7D5C22" stroke="none" stroke-width="1.2"/>
<circle cx="70.0" cy="225.9" r="1.30" fill="#7D5C22" stroke="none" stroke-width="1.2"/>
<circle cx="79.7" cy="244.4" r="1.30" fill="#7D5C22" stroke="none" stroke-width="1.2"/>
<circle cx="83.0" cy="248.0" r="1.30" fill="#7D5C22" stroke="none" stroke-width="1.2"/>
<circle cx="73.5" cy="195.6" r="1.30" fill="#7D5C22" stroke="none" stroke-width="1.2"/>
<circle cx="65.6" cy="202.8" r="1.30" fill="#7D5C22" stroke="none" stroke-width="1.2"/>
<circle cx="62.5" cy="210.6" r="1.30" fill="#7D5C22" stroke="none" stroke-width="1.2"/>
<circle cx="75.8" cy="189.5" r="1.30" fill="#7D5C22" stroke="none" stroke-width="1.2"/>
<circle cx="71.3" cy="191.1" r="1.30" fill="#7D5C22" stroke="none" stroke-width="1.2"/>
<circle cx="80.4" cy="243.7" r="1.30" fill="#7D5C22" stroke="none" stroke-width="1.2"/>
<circle cx="75.0" cy="207.1" r="1.30" fill="#7D5C22" stroke="none" stroke-width="1.2"/>
<circle cx="63.3" cy="203.9" r="1.30" fill="#7D5C22" stroke="none" stroke-width="1.2"/>
<circle cx="72.1" cy="223.3" r="1.30" fill="#7D5C22" stroke="none" stroke-width="1.2"/>
<circle cx="78.5" cy="240.5" r="1.30" fill="#7D5C22" stroke="none" stroke-width="1.2"/>
<circle cx="72.3" cy="237.3" r="1.30" fill="#7D5C22" stroke="none" stroke-width="1.2"/>
<circle cx="82.3" cy="179.0" r="1.30" fill="#7D5C22" stroke="none" stroke-width="1.2"/>
<circle cx="68.3" cy="198.9" r="1.30" fill="#7D5C22" stroke="none" stroke-width="1.2"/>
<circle cx="75.7" cy="243.2" r="1.30" fill="#7D5C22" stroke="none" stroke-width="1.2"/>
<circle cx="70.9" cy="207.5" r="1.30" fill="#7D5C22" stroke="none" stroke-width="1.2"/>
<circle cx="68.8" cy="225.1" r="1.30" fill="#7D5C22" stroke="none" stroke-width="1.2"/>
<circle cx="83.5" cy="247.7" r="1.30" fill="#7D5C22" stroke="none" stroke-width="1.2"/>
<circle cx="65.1" cy="228.5" r="1.30" fill="#7D5C22" stroke="none" stroke-width="1.2"/>
<circle cx="68.1" cy="202.0" r="1.30" fill="#7D5C22" stroke="none" stroke-width="1.2"/>
<circle cx="78.5" cy="188.5" r="1.30" fill="#7D5C22" stroke="none" stroke-width="1.2"/>
<circle cx="74.5" cy="229.2" r="1.30" fill="#7D5C22" stroke="none" stroke-width="1.2"/>
<circle cx="65.7" cy="221.2" r="1.30" fill="#7D5C22" stroke="none" stroke-width="1.2"/>
<circle cx="68.3" cy="230.1" r="1.30" fill="#7D5C22" stroke="none" stroke-width="1.2"/>
<circle cx="89.3" cy="175.9" r="1.30" fill="#7D5C22" stroke="none" stroke-width="1.2"/>
<circle cx="89.7" cy="177.8" r="1.30" fill="#7D5C22" stroke="none" stroke-width="1.2"/>
<circle cx="82.1" cy="180.2" r="1.30" fill="#7D5C22" stroke="none" stroke-width="1.2"/>
<circle cx="81.9" cy="181.8" r="1.30" fill="#7D5C22" stroke="none" stroke-width="1.2"/>
<circle cx="72.0" cy="211.1" r="1.30" fill="#7D5C22" stroke="none" stroke-width="1.2"/>
<circle cx="75.4" cy="204.4" r="1.30" fill="#7D5C22" stroke="none" stroke-width="1.2"/>
<circle cx="69.5" cy="214.7" r="1.30" fill="#7D5C22" stroke="none" stroke-width="1.2"/>
<circle cx="77.7" cy="237.5" r="1.30" fill="#7D5C22" stroke="none" stroke-width="1.2"/>
<circle cx="69.1" cy="202.5" r="1.30" fill="#7D5C22" stroke="none" stroke-width="1.2"/>
<circle cx="75.9" cy="204.8" r="1.30" fill="#7D5C22" stroke="none" stroke-width="1.2"/>
<circle cx="69.0" cy="230.2" r="1.30" fill="#7D5C22" stroke="none" stroke-width="1.2"/>
<circle cx="89.9" cy="179.4" r="1.30" fill="#7D5C22" stroke="none" stroke-width="1.2"/>
<circle cx="64.6" cy="222.6" r="1.30" fill="#7D5C22" stroke="none" stroke-width="1.2"/>
<circle cx="112.8" cy="187.8" r="1.30" fill="#7D5C22" stroke="none" stroke-width="1.2"/>
<circle cx="108.9" cy="193.7" r="1.30" fill="#7D5C22" stroke="none" stroke-width="1.2"/>
<circle cx="104.4" cy="211.3" r="1.30" fill="#7D5C22" stroke="none" stroke-width="1.2"/>
<circle cx="109.7" cy="195.3" r="1.30" fill="#7D5C22" stroke="none" stroke-width="1.2"/>
<circle cx="108.8" cy="194.4" r="1.30" fill="#7D5C22" stroke="none" stroke-width="1.2"/>
<circle cx="107.7" cy="196.6" r="1.30" fill="#7D5C22" stroke="none" stroke-width="1.2"/>
<circle cx="111.5" cy="185.9" r="1.30" fill="#7D5C22" stroke="none" stroke-width="1.2"/>
<circle cx="112.2" cy="191.5" r="1.30" fill="#7D5C22" stroke="none" stroke-width="1.2"/>
<circle cx="109.3" cy="198.1" r="1.30" fill="#7D5C22" stroke="none" stroke-width="1.2"/>
<circle cx="113.5" cy="184.6" r="1.30" fill="#7D5C22" stroke="none" stroke-width="1.2"/>
<circle cx="104.1" cy="200.2" r="1.30" fill="#7D5C22" stroke="none" stroke-width="1.2"/>
<circle cx="109.8" cy="194.9" r="1.30" fill="#7D5C22" stroke="none" stroke-width="1.2"/>
<circle cx="108.8" cy="193.2" r="1.30" fill="#7D5C22" stroke="none" stroke-width="1.2"/>
<circle cx="114.4" cy="187.1" r="1.30" fill="#7D5C22" stroke="none" stroke-width="1.2"/>
<circle cx="106.0" cy="206.5" r="1.30" fill="#7D5C22" stroke="none" stroke-width="1.2"/>
<circle cx="107.4" cy="192.2" r="1.30" fill="#7D5C22" stroke="none" stroke-width="1.2"/>
<circle cx="105.7" cy="208.0" r="1.30" fill="#7D5C22" stroke="none" stroke-width="1.2"/>
<circle cx="104.2" cy="206.5" r="1.30" fill="#7D5C22" stroke="none" stroke-width="1.2"/>
<circle cx="111.0" cy="185.7" r="1.30" fill="#7D5C22" stroke="none" stroke-width="1.2"/>
<circle cx="109.1" cy="203.0" r="1.30" fill="#7D5C22" stroke="none" stroke-width="1.2"/>
<circle cx="109.6" cy="201.0" r="1.30" fill="#7D5C22" stroke="none" stroke-width="1.2"/>
<circle cx="104.0" cy="202.2" r="1.30" fill="#7D5C22" stroke="none" stroke-width="1.2"/>
<circle cx="105.9" cy="206.1" r="1.30" fill="#7D5C22" stroke="none" stroke-width="1.2"/>
<circle cx="107.7" cy="196.6" r="1.30" fill="#7D5C22" stroke="none" stroke-width="1.2"/>
<circle cx="107.2" cy="205.7" r="1.30" fill="#7D5C22" stroke="none" stroke-width="1.2"/>
<circle cx="105.4" cy="202.4" r="1.30" fill="#7D5C22" stroke="none" stroke-width="1.2"/>
<circle cx="105.8" cy="192.3" r="1.30" fill="#7D5C22" stroke="none" stroke-width="1.2"/>
<circle cx="110.3" cy="190.7" r="1.30" fill="#7D5C22" stroke="none" stroke-width="1.2"/>
<circle cx="108.3" cy="186.0" r="1.30" fill="#7D5C22" stroke="none" stroke-width="1.2"/>
<circle cx="108.8" cy="196.9" r="1.30" fill="#7D5C22" stroke="none" stroke-width="1.2"/>
<circle cx="106.2" cy="198.0" r="1.30" fill="#7D5C22" stroke="none" stroke-width="1.2"/>
<circle cx="109.1" cy="186.5" r="1.30" fill="#7D5C22" stroke="none" stroke-width="1.2"/>
<circle cx="110.6" cy="190.2" r="1.30" fill="#7D5C22" stroke="none" stroke-width="1.2"/>
<circle cx="106.4" cy="200.8" r="1.30" fill="#7D5C22" stroke="none" stroke-width="1.2"/>
<circle cx="105.8" cy="208.0" r="1.30" fill="#7D5C22" stroke="none" stroke-width="1.2"/>
<circle cx="105.4" cy="211.8" r="1.30" fill="#7D5C22" stroke="none" stroke-width="1.2"/>
<circle cx="107.7" cy="190.7" r="1.30" fill="#7D5C22" stroke="none" stroke-width="1.2"/>
<circle cx="109.2" cy="185.3" r="1.30" fill="#7D5C22" stroke="none" stroke-width="1.2"/>
<circle cx="107.2" cy="196.5" r="1.30" fill="#7D5C22" stroke="none" stroke-width="1.2"/>
<circle cx="105.0" cy="209.6" r="1.30" fill="#7D5C22" stroke="none" stroke-width="1.2"/>
<circle cx="107.1" cy="205.9" r="1.30" fill="#7D5C22" stroke="none" stroke-width="1.2"/>
<circle cx="110.7" cy="184.8" r="1.30" fill="#7D5C22" stroke="none" stroke-width="1.2"/>
<circle cx="111.4" cy="194.4" r="1.30" fill="#7D5C22" stroke="none" stroke-width="1.2"/>
<circle cx="107.3" cy="206.8" r="1.30" fill="#7D5C22" stroke="none" stroke-width="1.2"/>
<circle cx="109.8" cy="189.2" r="1.30" fill="#7D5C22" stroke="none" stroke-width="1.2"/>
<circle cx="105.4" cy="206.0" r="1.30" fill="#7D5C22" stroke="none" stroke-width="1.2"/>
<circle cx="107.0" cy="203.9" r="1.30" fill="#7D5C22" stroke="none" stroke-width="1.2"/>
<circle cx="106.8" cy="191.3" r="1.30" fill="#7D5C22" stroke="none" stroke-width="1.2"/>
<circle cx="112.8" cy="191.8" r="1.30" fill="#7D5C22" stroke="none" stroke-width="1.2"/>
<circle cx="110.3" cy="192.8" r="1.30" fill="#7D5C22" stroke="none" stroke-width="1.2"/>
<circle cx="110.4" cy="192.2" r="1.30" fill="#7D5C22" stroke="none" stroke-width="1.2"/>
<circle cx="106.8" cy="209.4" r="1.30" fill="#7D5C22" stroke="none" stroke-width="1.2"/>
<circle cx="106.5" cy="201.2" r="1.30" fill="#7D5C22" stroke="none" stroke-width="1.2"/>
<circle cx="104.3" cy="201.9" r="1.30" fill="#7D5C22" stroke="none" stroke-width="1.2"/>
<circle cx="108.6" cy="184.7" r="1.30" fill="#7D5C22" stroke="none" stroke-width="1.2"/>
<circle cx="109.7" cy="191.0" r="1.30" fill="#7D5C22" stroke="none" stroke-width="1.2"/>
<circle cx="104.8" cy="210.7" r="1.30" fill="#7D5C22" stroke="none" stroke-width="1.2"/>
<circle cx="105.8" cy="190.1" r="1.30" fill="#7D5C22" stroke="none" stroke-width="1.2"/>
<circle cx="108.7" cy="202.8" r="1.30" fill="#7D5C22" stroke="none" stroke-width="1.2"/>
<circle cx="109.4" cy="200.4" r="1.30" fill="#7D5C22" stroke="none" stroke-width="1.2"/>
<circle cx="107.0" cy="208.6" r="1.30" fill="#7D5C22" stroke="none" stroke-width="1.2"/>
<circle cx="112.1" cy="185.2" r="1.30" fill="#7D5C22" stroke="none" stroke-width="1.2"/>
<circle cx="103.9" cy="207.7" r="1.30" fill="#7D5C22" stroke="none" stroke-width="1.2"/>
<circle cx="108.9" cy="199.2" r="1.30" fill="#7D5C22" stroke="none" stroke-width="1.2"/>
<circle cx="109.3" cy="198.5" r="1.30" fill="#7D5C22" stroke="none" stroke-width="1.2"/>
<circle cx="109.8" cy="198.5" r="1.30" fill="#7D5C22" stroke="none" stroke-width="1.2"/>
<circle cx="104.0" cy="211.5" r="1.30" fill="#7D5C22" stroke="none" stroke-width="1.2"/>
<circle cx="107.7" cy="193.6" r="1.30" fill="#7D5C22" stroke="none" stroke-width="1.2"/>
<circle cx="103.4" cy="211.3" r="1.30" fill="#7D5C22" stroke="none" stroke-width="1.2"/>
<circle cx="112.4" cy="185.3" r="1.30" fill="#7D5C22" stroke="none" stroke-width="1.2"/>
<circle cx="106.3" cy="200.8" r="1.30" fill="#7D5C22" stroke="none" stroke-width="1.2"/>
<circle cx="104.1" cy="197.6" r="1.30" fill="#7D5C22" stroke="none" stroke-width="1.2"/>
<circle cx="102.6" cy="208.0" r="1.30" fill="#7D5C22" stroke="none" stroke-width="1.2"/>
<circle cx="104.4" cy="207.5" r="1.30" fill="#7D5C22" stroke="none" stroke-width="1.2"/>
<circle cx="103.5" cy="204.8" r="1.30" fill="#7D5C22" stroke="none" stroke-width="1.2"/>
<circle cx="103.5" cy="206.1" r="1.30" fill="#7D5C22" stroke="none" stroke-width="1.2"/>
<circle cx="109.2" cy="194.1" r="1.30" fill="#7D5C22" stroke="none" stroke-width="1.2"/>
<circle cx="108.6" cy="191.1" r="1.30" fill="#7D5C22" stroke="none" stroke-width="1.2"/>
<circle cx="106.0" cy="203.5" r="1.30" fill="#7D5C22" stroke="none" stroke-width="1.2"/>
<circle cx="112.4" cy="190.3" r="1.30" fill="#7D5C22" stroke="none" stroke-width="1.2"/>
<circle cx="105.8" cy="206.5" r="1.30" fill="#7D5C22" stroke="none" stroke-width="1.2"/>
<circle cx="108.8" cy="191.7" r="1.30" fill="#7D5C22" stroke="none" stroke-width="1.2"/>
<circle cx="111.7" cy="190.1" r="1.30" fill="#7D5C22" stroke="none" stroke-width="1.2"/>
<circle cx="105.1" cy="204.4" r="1.30" fill="#7D5C22" stroke="none" stroke-width="1.2"/>
<circle cx="109.4" cy="185.4" r="1.30" fill="#7D5C22" stroke="none" stroke-width="1.2"/>
<circle cx="104.9" cy="194.7" r="1.30" fill="#7D5C22" stroke="none" stroke-width="1.2"/>
<circle cx="102.8" cy="209.3" r="1.30" fill="#7D5C22" stroke="none" stroke-width="1.2"/>
<circle cx="103.9" cy="206.5" r="1.30" fill="#7D5C22" stroke="none" stroke-width="1.2"/>
<circle cx="109.7" cy="195.4" r="1.30" fill="#7D5C22" stroke="none" stroke-width="1.2"/>
<circle cx="105.2" cy="196.9" r="1.30" fill="#7D5C22" stroke="none" stroke-width="1.2"/>
<circle cx="111.5" cy="195.2" r="1.30" fill="#7D5C22" stroke="none" stroke-width="1.2"/>
<circle cx="107.7" cy="189.0" r="1.30" fill="#7D5C22" stroke="none" stroke-width="1.2"/>
<circle cx="105.4" cy="193.1" r="1.30" fill="#7D5C22" stroke="none" stroke-width="1.2"/>
<circle cx="105.5" cy="211.3" r="1.30" fill="#7D5C22" stroke="none" stroke-width="1.2"/>
<circle cx="104.5" cy="208.9" r="1.30" fill="#7D5C22" stroke="none" stroke-width="1.2"/>
<circle cx="110.6" cy="195.7" r="1.30" fill="#7D5C22" stroke="none" stroke-width="1.2"/>
<circle cx="113.6" cy="187.0" r="1.30" fill="#7D5C22" stroke="none" stroke-width="1.2"/>
<circle cx="110.7" cy="193.3" r="1.30" fill="#7D5C22" stroke="none" stroke-width="1.2"/>
<circle cx="106.9" cy="199.2" r="1.30" fill="#7D5C22" stroke="none" stroke-width="1.2"/>
<circle cx="106.0" cy="210.8" r="1.30" fill="#7D5C22" stroke="none" stroke-width="1.2"/>
<circle cx="107.5" cy="192.3" r="1.30" fill="#7D5C22" stroke="none" stroke-width="1.2"/>
<circle cx="111.6" cy="189.1" r="1.30" fill="#7D5C22" stroke="none" stroke-width="1.2"/>
<circle cx="103.1" cy="206.3" r="1.30" fill="#7D5C22" stroke="none" stroke-width="1.2"/>
<circle cx="104.9" cy="208.5" r="1.30" fill="#7D5C22" stroke="none" stroke-width="1.2"/>
<circle cx="106.6" cy="212.0" r="1.30" fill="#7D5C22" stroke="none" stroke-width="1.2"/>
<circle cx="113.9" cy="187.3" r="1.30" fill="#7D5C22" stroke="none" stroke-width="1.2"/>
<circle cx="112.7" cy="192.0" r="1.30" fill="#7D5C22" stroke="none" stroke-width="1.2"/>
<circle cx="106.4" cy="197.6" r="1.30" fill="#7D5C22" stroke="none" stroke-width="1.2"/>
<circle cx="113.2" cy="185.4" r="1.30" fill="#7D5C22" stroke="none" stroke-width="1.2"/>
<circle cx="107.1" cy="201.8" r="1.30" fill="#7D5C22" stroke="none" stroke-width="1.2"/>
<circle cx="110.1" cy="193.3" r="1.30" fill="#7D5C22" stroke="none" stroke-width="1.2"/>
<circle cx="107.7" cy="195.6" r="1.30" fill="#7D5C22" stroke="none" stroke-width="1.2"/>
<circle cx="106.3" cy="210.5" r="1.30" fill="#7D5C22" stroke="none" stroke-width="1.2"/>
<circle cx="106.4" cy="209.7" r="1.30" fill="#7D5C22" stroke="none" stroke-width="1.2"/>
<circle cx="111.5" cy="192.6" r="1.30" fill="#7D5C22" stroke="none" stroke-width="1.2"/>
<circle cx="109.0" cy="200.8" r="1.30" fill="#7D5C22" stroke="none" stroke-width="1.2"/>
<circle cx="109.8" cy="186.4" r="1.30" fill="#7D5C22" stroke="none" stroke-width="1.2"/>
<circle cx="104.9" cy="197.3" r="1.30" fill="#7D5C22" stroke="none" stroke-width="1.2"/>
<circle cx="112.3" cy="184.6" r="1.30" fill="#7D5C22" stroke="none" stroke-width="1.2"/>
<circle cx="106.1" cy="201.9" r="1.30" fill="#7D5C22" stroke="none" stroke-width="1.2"/>
<circle cx="88.3" cy="183.5" r="1.30" fill="#7D5C22" stroke="none" stroke-width="1.2"/>
<circle cx="91.2" cy="186.3" r="1.30" fill="#7D5C22" stroke="none" stroke-width="1.2"/>
<circle cx="94.3" cy="187.3" r="1.30" fill="#7D5C22" stroke="none" stroke-width="1.2"/>
<circle cx="97.9" cy="184.4" r="1.30" fill="#7D5C22" stroke="none" stroke-width="1.2"/>
<circle cx="99.0" cy="186.6" r="1.30" fill="#7D5C22" stroke="none" stroke-width="1.2"/>
<circle cx="94.1" cy="191.1" r="1.30" fill="#7D5C22" stroke="none" stroke-width="1.2"/>
<circle cx="98.4" cy="193.5" r="1.30" fill="#7D5C22" stroke="none" stroke-width="1.2"/>
<circle cx="85.0" cy="191.4" r="1.30" fill="#7D5C22" stroke="none" stroke-width="1.2"/>
<circle cx="81.6" cy="230.9" r="1.30" fill="#7D5C22" stroke="none" stroke-width="1.2"/>
<circle cx="88.5" cy="231.5" r="1.30" fill="#7D5C22" stroke="none" stroke-width="1.2"/>
<circle cx="108.6" cy="204.3" r="1.30" fill="#7D5C22" stroke="none" stroke-width="1.2"/>
<circle cx="110.5" cy="199.3" r="1.30" fill="#7D5C22" stroke="none" stroke-width="1.2"/>
<circle cx="111.8" cy="193.0" r="1.30" fill="#7D5C22" stroke="none" stroke-width="1.2"/>
<line x1="45.6" y1="38.9" x2="45.6" y2="341.6" stroke="#000" stroke-width="1.4"/>
<line x1="44.9" y1="341.3" x2="392.3" y2="341.3" stroke="#000" stroke-width="1.4"/>
<text x="219.0" y="361.5" font-size="18.5" text-anchor="middle" fill="#000" stroke="#000" stroke-width="0.3">UMAP-1</text>
<text x="33.5" y="190.0" font-size="18.5" text-anchor="middle" fill="#000" stroke="#000" stroke-width="0.3" transform="rotate(-90 33.5 190.0)">UMAP-2</text>
<text x="63.0" y="166.0" font-size="18.5" text-anchor="start" fill="#000" stroke="#000" stroke-width="0.3">Plasma B</text>
<text x="309.0" y="60.0" font-size="18.5" text-anchor="start" fill="#000" stroke="#000" stroke-width="0.3">Na&#239;ve B</text>
<text x="315.0" y="281.0" font-size="18.5" text-anchor="start" fill="#000" stroke="#000" stroke-width="0.3">Memory B</text>
<text x="7.0" y="20.5" font-size="27" text-anchor="start" fill="#000" font-weight="bold">a</text>
<circle cx="625.5" cy="56.9" r="10.40" fill="#C8404F" stroke="none" stroke-width="1.2"/>
<circle cx="666.7" cy="56.9" r="6.80" fill="#D5EF9C" stroke="none" stroke-width="1.2"/>
<circle cx="707.7" cy="56.9" r="3.70" fill="#C2EA8C" stroke="none" stroke-width="1.2"/>
<line x1="595.9" y1="56.9" x2="601.2" y2="56.9" stroke="#000" stroke-width="1.4"/>
<text x="587.5" y="63.2" font-size="18.5" text-anchor="end" fill="#000" stroke="#000" stroke-width="0.3">JCHAIN</text>
<circle cx="625.5" cy="94.7" r="9.50" fill="#C63E4E" stroke="none" stroke-width="1.2"/>
<circle cx="666.7" cy="94.7" r="4.10" fill="#C3EA8A" stroke="none" stroke-width="1.2"/>
<circle cx="707.7" cy="94.7" r="3.70" fill="#C6EB8D" stroke="none" stroke-width="1.2"/>
<line x1="595.9" y1="94.7" x2="601.2" y2="94.7" stroke="#000" stroke-width="1.4"/>
<text x="587.5" y="101.0" font-size="18.5" text-anchor="end" fill="#000" stroke="#000" stroke-width="0.3">MZB1</text>
<circle cx="625.5" cy="132.1" r="7.60" fill="#C63C4D" stroke="none" stroke-width="1.2"/>
<circle cx="666.7" cy="132.1" r="1.30" fill="#8FD47E" stroke="none" stroke-width="1.2"/>
<circle cx="707.7" cy="132.1" r="2.00" fill="#D9EF93" stroke="none" stroke-width="1.2"/>
<line x1="595.9" y1="132.1" x2="601.2" y2="132.1" stroke="#000" stroke-width="1.4"/>
<text x="587.5" y="138.4" font-size="18.5" text-anchor="end" fill="#000" stroke="#000" stroke-width="0.3">CD38</text>
<circle cx="625.5" cy="169.6" r="7.30" fill="#D85C58" stroke="none" stroke-width="1.2"/>
<circle cx="666.7" cy="169.6" r="4.90" fill="#F5F5AA" stroke="none" stroke-width="1.2"/>
<circle cx="707.7" cy="169.6" r="0.90" fill="#3E9A98" stroke="none" stroke-width="1.2"/>
<line x1="595.9" y1="169.6" x2="601.2" y2="169.6" stroke="#000" stroke-width="1.4"/>
<text x="587.5" y="175.9" font-size="18.5" text-anchor="end" fill="#000" stroke="#000" stroke-width="0.3">CD27</text>
<circle cx="625.5" cy="207.4" r="1.80" fill="#9BDA7E" stroke="none" stroke-width="1.2"/>
<circle cx="666.7" cy="207.4" r="2.90" fill="#DFF29A" stroke="none" stroke-width="1.2"/>
<circle cx="707.7" cy="207.4" r="7.40" fill="#C74050" stroke="none" stroke-width="1.2"/>
<line x1="595.9" y1="207.4" x2="601.2" y2="207.4" stroke="#000" stroke-width="1.4"/>
<text x="587.5" y="213.7" font-size="18.5" text-anchor="end" fill="#000" stroke="#000" stroke-width="0.3">IGHD</text>
<circle cx="625.5" cy="244.8" r="10.00" fill="#4D86B0" stroke="none" stroke-width="1.2"/>
<circle cx="666.7" cy="244.8" r="10.40" fill="#F8D892" stroke="none" stroke-width="1.2"/>
<circle cx="707.7" cy="244.8" r="10.40" fill="#FC8B58" stroke="none" stroke-width="1.2"/>
<line x1="595.9" y1="244.8" x2="601.2" y2="244.8" stroke="#000" stroke-width="1.4"/>
<text x="587.5" y="251.1" font-size="18.5" text-anchor="end" fill="#000" stroke="#000" stroke-width="0.3">CD74</text>
<circle cx="625.5" cy="282.4" r="1.50" fill="#3E7FB5" stroke="none" stroke-width="1.2"/>
<circle cx="666.7" cy="282.4" r="10.20" fill="#FBD08A" stroke="none" stroke-width="1.2"/>
<circle cx="707.7" cy="282.4" r="10.20" fill="#FC9A5E" stroke="none" stroke-width="1.2"/>
<line x1="595.9" y1="282.4" x2="601.2" y2="282.4" stroke="#000" stroke-width="1.4"/>
<text x="587.5" y="288.7" font-size="18.5" text-anchor="end" fill="#000" stroke="#000" stroke-width="0.3">MS4A1</text>
<circle cx="625.5" cy="319.9" r="8.10" fill="#5A8EA9" stroke="none" stroke-width="1.2"/>
<circle cx="666.7" cy="319.9" r="10.20" fill="#F8E2A0" stroke="none" stroke-width="1.2"/>
<circle cx="707.7" cy="319.9" r="10.00" fill="#EC7058" stroke="none" stroke-width="1.2"/>
<line x1="595.9" y1="319.9" x2="601.2" y2="319.9" stroke="#000" stroke-width="1.4"/>
<text x="587.5" y="326.2" font-size="18.5" text-anchor="end" fill="#000" stroke="#000" stroke-width="0.3">CD79A</text>
<line x1="601.2" y1="34.1" x2="601.2" y2="343.1" stroke="#000" stroke-width="1.5"/>
<line x1="600.5" y1="342.4" x2="732.7" y2="342.4" stroke="#000" stroke-width="1.5"/>
<line x1="625.5" y1="342.4" x2="625.5" y2="347.6" stroke="#000" stroke-width="1.4"/>
<line x1="666.7" y1="342.4" x2="666.7" y2="347.6" stroke="#000" stroke-width="1.4"/>
<line x1="707.7" y1="342.4" x2="707.7" y2="347.6" stroke="#000" stroke-width="1.4"/>
<text x="634.0" y="364.0" font-size="18.5" text-anchor="end" fill="#000" stroke="#000" stroke-width="0.3" transform="rotate(-30 634.0 364.0)">Plasma B</text>
<text x="675.2" y="364.0" font-size="18.5" text-anchor="end" fill="#000" stroke="#000" stroke-width="0.3" transform="rotate(-30 675.2 364.0)">Memory B</text>
<text x="716.2" y="364.0" font-size="18.5" text-anchor="end" fill="#000" stroke="#000" stroke-width="0.3" transform="rotate(-30 716.2 364.0)">Naive B</text>
<text x="515.0" y="190.5" font-size="18.5" text-anchor="middle" fill="#000" stroke="#000" stroke-width="0.3" transform="rotate(-90 515.0 190.5)">Features</text>
<text x="482.0" y="20.5" font-size="27" text-anchor="start" fill="#000" font-weight="bold">b</text>
<text x="752.4" y="77.2" font-size="18.5" text-anchor="start" fill="#000" stroke="#000" stroke-width="0.3">Average Expression</text>
<defs><linearGradient id="spec" x1="0" y1="1" x2="0" y2="0"><stop offset="0" stop-color="#4A83B4"/><stop offset="0.12" stop-color="#5FA5A8"/><stop offset="0.25" stop-color="#A6D994"/><stop offset="0.38" stop-color="#E6F59C"/><stop offset="0.5" stop-color="#FBF8BE"/><stop offset="0.63" stop-color="#FDDE90"/><stop offset="0.76" stop-color="#FDAE66"/><stop offset="0.88" stop-color="#F07049"/><stop offset="1" stop-color="#C73E51"/></linearGradient></defs>
<rect x="752.2" y="89.6" width="22.2" height="111.2" fill="url(#spec)" stroke="none" stroke-width="1.3"/>
<line x1="752.2" y1="97.9" x2="756.5" y2="97.9" stroke="#fff" stroke-width="1"/>
<line x1="770.1" y1="97.9" x2="774.4" y2="97.9" stroke="#fff" stroke-width="1"/>
<text x="784.5" y="104.2" font-size="18.5" text-anchor="start" fill="#000" stroke="#000" stroke-width="0.3">1.0</text>
<line x1="752.2" y1="121.9" x2="756.5" y2="121.9" stroke="#fff" stroke-width="1"/>
<line x1="770.1" y1="121.9" x2="774.4" y2="121.9" stroke="#fff" stroke-width="1"/>
<text x="784.5" y="128.2" font-size="18.5" text-anchor="start" fill="#000" stroke="#000" stroke-width="0.3">0.5</text>
<line x1="752.2" y1="145.7" x2="756.5" y2="145.7" stroke="#fff" stroke-width="1"/>
<line x1="770.1" y1="145.7" x2="774.4" y2="145.7" stroke="#fff" stroke-width="1"/>
<text x="784.5" y="152.0" font-size="18.5" text-anchor="start" fill="#000" stroke="#000" stroke-width="0.3">0.0</text>
<line x1="752.2" y1="169.5" x2="756.5" y2="169.5" stroke="#fff" stroke-width="1"/>
<line x1="770.1" y1="169.5" x2="774.4" y2="169.5" stroke="#fff" stroke-width="1"/>
<text x="784.5" y="175.8" font-size="18.5" text-anchor="start" fill="#000" stroke="#000" stroke-width="0.3">&#8722;0.5</text>
<line x1="752.2" y1="193.1" x2="756.5" y2="193.1" stroke="#fff" stroke-width="1"/>
<line x1="770.1" y1="193.1" x2="774.4" y2="193.1" stroke="#fff" stroke-width="1"/>
<text x="784.5" y="199.4" font-size="18.5" text-anchor="start" fill="#000" stroke="#000" stroke-width="0.3">&#8722;1.0</text>
<text x="753.0" y="236.8" font-size="18.5" text-anchor="start" fill="#000" stroke="#000" stroke-width="0.3">Percent Expressed</text>
<circle cx="763.3" cy="261.6" r="3.60" fill="#000" stroke="none" stroke-width="1.2"/>
<text x="784.5" y="267.9" font-size="18.5" text-anchor="start" fill="#000" stroke="#000" stroke-width="0.3">25</text>
<circle cx="763.3" cy="283.6" r="6.00" fill="#000" stroke="none" stroke-width="1.2"/>
<text x="784.5" y="289.9" font-size="18.5" text-anchor="start" fill="#000" stroke="#000" stroke-width="0.3">50</text>
<circle cx="763.3" cy="305.4" r="8.40" fill="#000" stroke="none" stroke-width="1.2"/>
<text x="784.5" y="311.7" font-size="18.5" text-anchor="start" fill="#000" stroke="#000" stroke-width="0.3">75</text>
<line x1="1061.4" y1="158.5" x2="1061.4" y2="173.0" stroke="#222" stroke-width="1.35"/>
<line x1="1061.4" y1="212.0" x2="1061.4" y2="236.6" stroke="#222" stroke-width="1.35"/>
<rect x="1046.8" y="173.0" width="29.3" height="39.0" fill="#47A27F" stroke="#222" stroke-width="1.4"/>
<line x1="1046.8" y1="187.5" x2="1076.1" y2="187.5" stroke="#222" stroke-width="1.4"/>
<line x1="1100.5" y1="142.8" x2="1100.5" y2="162.9" stroke="#222" stroke-width="1.35"/>
<line x1="1100.5" y1="186.3" x2="1100.5" y2="208.0" stroke="#222" stroke-width="1.35"/>
<rect x="1085.8" y="162.9" width="29.3" height="23.3" fill="#D15C16" stroke="#222" stroke-width="1.4"/>
<line x1="1085.8" y1="171.0" x2="1115.1" y2="171.0" stroke="#222" stroke-width="1.4"/>
<line x1="1139.1" y1="138.8" x2="1139.1" y2="146.4" stroke="#222" stroke-width="1.35"/>
<line x1="1139.1" y1="173.0" x2="1139.1" y2="190.3" stroke="#222" stroke-width="1.35"/>
<rect x="1124.4" y="146.4" width="29.3" height="26.6" fill="#D5398A" stroke="#222" stroke-width="1.4"/>
<line x1="1124.4" y1="154.5" x2="1153.7" y2="154.5" stroke="#222" stroke-width="1.4"/>
<line x1="1177.7" y1="163.3" x2="1177.7" y2="181.8" stroke="#222" stroke-width="1.35"/>
<line x1="1177.7" y1="203.2" x2="1177.7" y2="205.6" stroke="#222" stroke-width="1.35"/>
<rect x="1163.1" y="181.8" width="29.3" height="21.3" fill="#6D65A6" stroke="#222" stroke-width="1.4"/>
<line x1="1163.1" y1="189.1" x2="1192.4" y2="189.1" stroke="#222" stroke-width="1.4"/>
<line x1="1216.3" y1="146.0" x2="1216.3" y2="179.0" stroke="#222" stroke-width="1.35"/>
<line x1="1216.3" y1="204.4" x2="1216.3" y2="206.4" stroke="#222" stroke-width="1.35"/>
<rect x="1201.7" y="179.0" width="29.3" height="25.3" fill="#A38FD9" stroke="#222" stroke-width="1.4"/>
<line x1="1201.7" y1="191.9" x2="1231.0" y2="191.9" stroke="#222" stroke-width="1.4"/>
<line x1="1256.2" y1="139.2" x2="1256.2" y2="140.4" stroke="#222" stroke-width="1.35"/>
<line x1="1256.2" y1="152.5" x2="1256.2" y2="162.1" stroke="#222" stroke-width="1.35"/>
<rect x="1241.5" y="140.4" width="29.3" height="12.1" fill="#CBCBF3" stroke="#222" stroke-width="1.4"/>
<line x1="1241.5" y1="144.8" x2="1270.8" y2="144.8" stroke="#222" stroke-width="1.4"/>
<circle cx="1059.8" cy="158.5" r="2.90" fill="rgba(255,255,255,0.15)" stroke="#111" stroke-width="1.35"/>
<circle cx="1058.6" cy="187.5" r="2.90" fill="rgba(255,255,255,0.15)" stroke="#111" stroke-width="1.35"/>
<circle cx="1061.8" cy="236.6" r="2.90" fill="rgba(255,255,255,0.15)" stroke="#111" stroke-width="1.35"/>
<circle cx="1101.3" cy="142.8" r="2.90" fill="rgba(255,255,255,0.15)" stroke="#111" stroke-width="1.35"/>
<circle cx="1098.0" cy="162.1" r="2.90" fill="rgba(255,255,255,0.15)" stroke="#111" stroke-width="1.35"/>
<circle cx="1098.9" cy="162.9" r="2.90" fill="rgba(255,255,255,0.15)" stroke="#111" stroke-width="1.35"/>
<circle cx="1099.7" cy="164.9" r="2.90" fill="rgba(255,255,255,0.15)" stroke="#111" stroke-width="1.35"/>
<circle cx="1102.9" cy="169.8" r="2.90" fill="rgba(255,255,255,0.15)" stroke="#111" stroke-width="1.35"/>
<circle cx="1101.3" cy="177.0" r="2.90" fill="rgba(255,255,255,0.15)" stroke="#111" stroke-width="1.35"/>
<circle cx="1098.0" cy="189.1" r="2.90" fill="rgba(255,255,255,0.15)" stroke="#111" stroke-width="1.35"/>
<circle cx="1097.2" cy="208.0" r="2.90" fill="rgba(255,255,255,0.15)" stroke="#111" stroke-width="1.35"/>
<circle cx="1099.3" cy="279.6" r="2.90" fill="rgba(255,255,255,0.15)" stroke="#111" stroke-width="1.35"/>
<circle cx="1139.1" cy="138.8" r="2.90" fill="rgba(255,255,255,0.15)" stroke="#111" stroke-width="1.35"/>
<circle cx="1141.9" cy="154.9" r="2.90" fill="rgba(255,255,255,0.15)" stroke="#111" stroke-width="1.35"/>
<circle cx="1139.9" cy="190.3" r="2.90" fill="rgba(255,255,255,0.15)" stroke="#111" stroke-width="1.35"/>
<circle cx="1180.1" cy="118.7" r="2.90" fill="rgba(255,255,255,0.15)" stroke="#111" stroke-width="1.35"/>
<circle cx="1176.5" cy="163.3" r="2.90" fill="rgba(255,255,255,0.15)" stroke="#111" stroke-width="1.35"/>
<circle cx="1176.5" cy="175.0" r="2.90" fill="rgba(255,255,255,0.15)" stroke="#111" stroke-width="1.35"/>
<circle cx="1180.1" cy="187.5" r="2.90" fill="rgba(255,255,255,0.15)" stroke="#111" stroke-width="1.35"/>
<circle cx="1181.7" cy="188.3" r="2.90" fill="rgba(255,255,255,0.15)" stroke="#111" stroke-width="1.35"/>
<circle cx="1174.5" cy="197.1" r="2.90" fill="rgba(255,255,255,0.15)" stroke="#111" stroke-width="1.35"/>
<circle cx="1180.5" cy="205.6" r="2.90" fill="rgba(255,255,255,0.15)" stroke="#111" stroke-width="1.35"/>
<circle cx="1177.3" cy="244.6" r="2.90" fill="rgba(255,255,255,0.15)" stroke="#111" stroke-width="1.35"/>
<circle cx="1182.1" cy="261.5" r="2.90" fill="rgba(255,255,255,0.15)" stroke="#111" stroke-width="1.35"/>
<circle cx="1221.2" cy="146.0" r="2.90" fill="rgba(255,255,255,0.15)" stroke="#111" stroke-width="1.35"/>
<circle cx="1217.1" cy="177.0" r="2.90" fill="rgba(255,255,255,0.15)" stroke="#111" stroke-width="1.35"/>
<circle cx="1218.7" cy="184.7" r="2.90" fill="rgba(255,255,255,0.15)" stroke="#111" stroke-width="1.35"/>
<circle cx="1215.9" cy="198.7" r="2.90" fill="rgba(255,255,255,0.15)" stroke="#111" stroke-width="1.35"/>
<circle cx="1219.1" cy="206.4" r="2.90" fill="rgba(255,255,255,0.15)" stroke="#111" stroke-width="1.35"/>
<circle cx="1215.5" cy="268.3" r="2.90" fill="rgba(255,255,255,0.15)" stroke="#111" stroke-width="1.35"/>
<circle cx="1256.6" cy="139.2" r="2.90" fill="rgba(255,255,255,0.15)" stroke="#111" stroke-width="1.35"/>
<circle cx="1257.4" cy="140.8" r="2.90" fill="rgba(255,255,255,0.15)" stroke="#111" stroke-width="1.35"/>
<circle cx="1254.5" cy="149.3" r="2.90" fill="rgba(255,255,255,0.15)" stroke="#111" stroke-width="1.35"/>
<circle cx="1254.1" cy="162.1" r="2.90" fill="rgba(255,255,255,0.15)" stroke="#111" stroke-width="1.35"/>
<rect x="1038.4" y="51.0" width="241.2" height="293.8" fill="none" stroke="#222" stroke-width="1.4"/>
<line x1="1099.7" y1="74.0" x2="1256.6" y2="74.0" stroke="#000" stroke-width="1.25"/>
<text x="1178.1" y="76.9" font-size="24" text-anchor="middle" fill="#000" stroke="#000" stroke-width="0.3">*</text>
<line x1="1217.1" y1="92.9" x2="1256.6" y2="92.9" stroke="#000" stroke-width="1.25"/>
<text x="1236.8" y="97.0" font-size="24" text-anchor="middle" fill="#000" stroke="#000" stroke-width="0.3">*</text>
<line x1="1177.7" y1="111.0" x2="1256.6" y2="111.0" stroke="#000" stroke-width="1.25"/>
<text x="1216.3" y="115.1" font-size="24" text-anchor="middle" fill="#000" stroke="#000" stroke-width="0.3">*</text>
<line x1="1033.2" y1="112.6" x2="1038.4" y2="112.6" stroke="#222" stroke-width="1.3"/>
<text x="1031.4" y="119.0" font-size="18.5" text-anchor="end" fill="#000" stroke="#000" stroke-width="0.3">0.9</text>
<line x1="1033.2" y1="185.9" x2="1038.4" y2="185.9" stroke="#222" stroke-width="1.3"/>
<text x="1031.4" y="192.3" font-size="18.5" text-anchor="end" fill="#000" stroke="#000" stroke-width="0.3">0.6</text>
<line x1="1033.2" y1="258.7" x2="1038.4" y2="258.7" stroke="#222" stroke-width="1.3"/>
<text x="1031.4" y="265.1" font-size="18.5" text-anchor="end" fill="#000" stroke="#000" stroke-width="0.3">0.3</text>
<line x1="1033.2" y1="331.9" x2="1038.4" y2="331.9" stroke="#222" stroke-width="1.3"/>
<text x="1031.4" y="338.3" font-size="18.5" text-anchor="end" fill="#000" stroke="#000" stroke-width="0.3">0.0</text>
<line x1="1061.4" y1="344.8" x2="1061.4" y2="350.0" stroke="#222" stroke-width="1.3"/>
<text x="1059.4" y="363.8" font-size="18.5" text-anchor="end" fill="#000" stroke="#000" stroke-width="0.3" transform="rotate(-30 1059.4 363.8)">HC</text>
<line x1="1100.5" y1="344.8" x2="1100.5" y2="350.0" stroke="#222" stroke-width="1.3"/>
<text x="1102.5" y="363.8" font-size="18.5" text-anchor="end" fill="#000" stroke="#000" stroke-width="0.3" transform="rotate(-30 1102.5 363.8)">Asymptomatic</text>
<line x1="1139.1" y1="344.8" x2="1139.1" y2="350.0" stroke="#222" stroke-width="1.3"/>
<text x="1144.6" y="363.8" font-size="18.5" text-anchor="end" fill="#000" stroke="#000" stroke-width="0.3" transform="rotate(-30 1144.6 363.8)">Severe</text>
<line x1="1177.7" y1="344.8" x2="1177.7" y2="350.0" stroke="#222" stroke-width="1.3"/>
<text x="1180.7" y="363.8" font-size="18.5" text-anchor="end" fill="#000" stroke="#000" stroke-width="0.3" transform="rotate(-30 1180.7 363.8)">&lt;10</text>
<line x1="1216.3" y1="344.8" x2="1216.3" y2="350.0" stroke="#222" stroke-width="1.3"/>
<text x="1226.3" y="363.8" font-size="18.5" text-anchor="end" fill="#000" stroke="#000" stroke-width="0.3" transform="rotate(-30 1226.3 363.8)">10&#8211;20</text>
<line x1="1256.2" y1="344.8" x2="1256.2" y2="350.0" stroke="#222" stroke-width="1.3"/>
<text x="1263.5" y="363.8" font-size="18.5" text-anchor="end" fill="#000" stroke="#000" stroke-width="0.3" transform="rotate(-30 1263.5 363.8)">&gt;20</text>
<line x1="1152.4" y1="392.2" x2="1253.7" y2="392.2" stroke="#000" stroke-width="1.4"/>
<text x="1203.0" y="412.2" font-size="18.5" text-anchor="middle" fill="#000" stroke="#000" stroke-width="0.3">Moderate</text>
<text x="1149.1" y="34.5" font-size="18.5" text-anchor="middle" fill="#000" stroke="#000" stroke-width="0.3">Na&#239;ve B</text>
<text x="991.6" y="195.1" font-size="18.5" text-anchor="middle" fill="#000" stroke="#000" stroke-width="0.3" transform="rotate(-90 991.6 195.1)">Proportion</text>
<line x1="1381.7" y1="195.1" x2="1381.7" y2="214.8" stroke="#222" stroke-width="1.35"/>
<line x1="1381.7" y1="249.4" x2="1381.7" y2="265.1" stroke="#222" stroke-width="1.35"/>
<rect x="1367.1" y="214.8" width="29.3" height="34.6" fill="#47A27F" stroke="#222" stroke-width="1.4"/>
<line x1="1367.1" y1="233.3" x2="1396.4" y2="233.3" stroke="#222" stroke-width="1.4"/>
<line x1="1419.9" y1="221.3" x2="1419.9" y2="232.9" stroke="#222" stroke-width="1.35"/>
<line x1="1419.9" y1="263.9" x2="1419.9" y2="285.6" stroke="#222" stroke-width="1.35"/>
<rect x="1405.3" y="232.9" width="29.3" height="31.0" fill="#D15C16" stroke="#222" stroke-width="1.4"/>
<line x1="1405.3" y1="261.1" x2="1434.6" y2="261.1" stroke="#222" stroke-width="1.4"/>
<line x1="1459.4" y1="299.3" x2="1459.4" y2="303.7" stroke="#222" stroke-width="1.35"/>
<line x1="1459.4" y1="309.4" x2="1459.4" y2="311.4" stroke="#222" stroke-width="1.35"/>
<rect x="1444.7" y="303.7" width="29.3" height="5.6" fill="#D5398A" stroke="#222" stroke-width="1.4"/>
<line x1="1444.7" y1="306.6" x2="1474.0" y2="306.6" stroke="#222" stroke-width="1.4"/>
<line x1="1498.4" y1="198.3" x2="1498.4" y2="253.0" stroke="#222" stroke-width="1.35"/>
<line x1="1498.4" y1="295.7" x2="1498.4" y2="322.6" stroke="#222" stroke-width="1.35"/>
<rect x="1483.7" y="253.0" width="29.3" height="42.6" fill="#6D65A6" stroke="#222" stroke-width="1.4"/>
<line x1="1483.7" y1="271.6" x2="1513.0" y2="271.6" stroke="#222" stroke-width="1.4"/>
<line x1="1537.8" y1="230.1" x2="1537.8" y2="234.5" stroke="#222" stroke-width="1.35"/>
<line x1="1537.8" y1="259.9" x2="1537.8" y2="280.4" stroke="#222" stroke-width="1.35"/>
<rect x="1523.2" y="234.5" width="29.3" height="25.3" fill="#A38FD9" stroke="#222" stroke-width="1.4"/>
<line x1="1523.2" y1="250.6" x2="1552.5" y2="250.6" stroke="#222" stroke-width="1.4"/>
<line x1="1576.8" y1="279.6" x2="1576.8" y2="279.6" stroke="#222" stroke-width="1.35"/>
<line x1="1576.8" y1="284.4" x2="1576.8" y2="293.7" stroke="#222" stroke-width="1.35"/>
<rect x="1562.2" y="279.6" width="29.3" height="4.8" fill="#CBCBF3" stroke="#222" stroke-width="1.4"/>
<line x1="1562.2" y1="281.6" x2="1591.5" y2="281.6" stroke="#222" stroke-width="1.4"/>
<circle cx="1381.7" cy="195.1" r="2.90" fill="rgba(255,255,255,0.15)" stroke="#111" stroke-width="1.35"/>
<circle cx="1382.1" cy="233.3" r="2.90" fill="rgba(255,255,255,0.15)" stroke="#111" stroke-width="1.35"/>
<circle cx="1381.7" cy="265.1" r="2.90" fill="rgba(255,255,255,0.15)" stroke="#111" stroke-width="1.35"/>
<circle cx="1424.4" cy="140.0" r="2.90" fill="rgba(255,255,255,0.15)" stroke="#111" stroke-width="1.35"/>
<circle cx="1421.2" cy="221.3" r="2.90" fill="rgba(255,255,255,0.15)" stroke="#111" stroke-width="1.35"/>
<circle cx="1423.2" cy="229.7" r="2.90" fill="rgba(255,255,255,0.15)" stroke="#111" stroke-width="1.35"/>
<circle cx="1418.7" cy="243.4" r="2.90" fill="rgba(255,255,255,0.15)" stroke="#111" stroke-width="1.35"/>
<circle cx="1422.8" cy="259.5" r="2.90" fill="rgba(255,255,255,0.15)" stroke="#111" stroke-width="1.35"/>
<circle cx="1419.9" cy="262.3" r="2.90" fill="rgba(255,255,255,0.15)" stroke="#111" stroke-width="1.35"/>
<circle cx="1417.9" cy="263.5" r="2.90" fill="rgba(255,255,255,0.15)" stroke="#111" stroke-width="1.35"/>
<circle cx="1424.0" cy="276.0" r="2.90" fill="rgba(255,255,255,0.15)" stroke="#111" stroke-width="1.35"/>
<circle cx="1423.2" cy="285.6" r="2.90" fill="rgba(255,255,255,0.15)" stroke="#111" stroke-width="1.35"/>
<circle cx="1462.2" cy="299.3" r="2.90" fill="rgba(255,255,255,0.15)" stroke="#111" stroke-width="1.35"/>
<circle cx="1459.0" cy="307.0" r="2.90" fill="rgba(255,255,255,0.15)" stroke="#111" stroke-width="1.35"/>
<circle cx="1462.2" cy="311.4" r="2.90" fill="rgba(255,255,255,0.15)" stroke="#111" stroke-width="1.35"/>
<circle cx="1498.4" cy="198.3" r="2.90" fill="rgba(255,255,255,0.15)" stroke="#111" stroke-width="1.35"/>
<circle cx="1501.2" cy="246.2" r="2.90" fill="rgba(255,255,255,0.15)" stroke="#111" stroke-width="1.35"/>
<circle cx="1498.8" cy="252.6" r="2.90" fill="rgba(255,255,255,0.15)" stroke="#111" stroke-width="1.35"/>
<circle cx="1499.6" cy="253.9" r="2.90" fill="rgba(255,255,255,0.15)" stroke="#111" stroke-width="1.35"/>
<circle cx="1496.4" cy="267.5" r="2.90" fill="rgba(255,255,255,0.15)" stroke="#111" stroke-width="1.35"/>
<circle cx="1498.0" cy="268.7" r="2.90" fill="rgba(255,255,255,0.15)" stroke="#111" stroke-width="1.35"/>
<circle cx="1498.8" cy="280.4" r="2.90" fill="rgba(255,255,255,0.15)" stroke="#111" stroke-width="1.35"/>
<circle cx="1496.0" cy="310.2" r="2.90" fill="rgba(255,255,255,0.15)" stroke="#111" stroke-width="1.35"/>
<circle cx="1501.6" cy="310.2" r="2.90" fill="rgba(255,255,255,0.15)" stroke="#111" stroke-width="1.35"/>
<circle cx="1502.0" cy="322.6" r="2.90" fill="rgba(255,255,255,0.15)" stroke="#111" stroke-width="1.35"/>
<circle cx="1536.2" cy="160.5" r="2.90" fill="rgba(255,255,255,0.15)" stroke="#111" stroke-width="1.35"/>
<circle cx="1536.2" cy="230.1" r="2.90" fill="rgba(255,255,255,0.15)" stroke="#111" stroke-width="1.35"/>
<circle cx="1538.2" cy="248.6" r="2.90" fill="rgba(255,255,255,0.15)" stroke="#111" stroke-width="1.35"/>
<circle cx="1536.6" cy="251.8" r="2.90" fill="rgba(255,255,255,0.15)" stroke="#111" stroke-width="1.35"/>
<circle cx="1535.4" cy="261.9" r="2.90" fill="rgba(255,255,255,0.15)" stroke="#111" stroke-width="1.35"/>
<circle cx="1537.0" cy="280.4" r="2.90" fill="rgba(255,255,255,0.15)" stroke="#111" stroke-width="1.35"/>
<circle cx="1572.8" cy="279.6" r="2.90" fill="rgba(255,255,255,0.15)" stroke="#111" stroke-width="1.35"/>
<circle cx="1578.9" cy="280.0" r="2.90" fill="rgba(255,255,255,0.15)" stroke="#111" stroke-width="1.35"/>
<circle cx="1574.4" cy="293.7" r="2.90" fill="rgba(255,255,255,0.15)" stroke="#111" stroke-width="1.35"/>
<rect x="1359.2" y="49.1" width="240.6" height="294.1" fill="none" stroke="#222" stroke-width="1.4"/>
<line x1="1420.7" y1="78.4" x2="1460.2" y2="78.4" stroke="#000" stroke-width="1.25"/>
<text x="1445.1" y="84.1" font-size="24" text-anchor="middle" fill="#000" stroke="#000" stroke-width="0.3" letter-spacing="2">**</text>
<line x1="1423.2" y1="97.4" x2="1576.8" y2="97.4" stroke="#000" stroke-width="1.25"/>
<text x="1495.2" y="101.8" font-size="24" text-anchor="middle" fill="#000" stroke="#000" stroke-width="0.3">*</text>
<line x1="1459.8" y1="123.1" x2="1537.8" y2="123.1" stroke="#000" stroke-width="1.25"/>
<text x="1495.2" y="128.0" font-size="24" text-anchor="middle" fill="#000" stroke="#000" stroke-width="0.3">*</text>
<line x1="1537.8" y1="141.6" x2="1576.8" y2="141.6" stroke="#000" stroke-width="1.25"/>
<text x="1557.5" y="145.3" font-size="24" text-anchor="middle" fill="#000" stroke="#000" stroke-width="0.3">*</text>
<line x1="1354.0" y1="111.4" x2="1359.2" y2="111.4" stroke="#222" stroke-width="1.3"/>
<text x="1352.2" y="117.8" font-size="18.5" text-anchor="end" fill="#000" stroke="#000" stroke-width="0.3">0.9</text>
<line x1="1354.0" y1="184.3" x2="1359.2" y2="184.3" stroke="#222" stroke-width="1.3"/>
<text x="1352.2" y="190.7" font-size="18.5" text-anchor="end" fill="#000" stroke="#000" stroke-width="0.3">0.6</text>
<line x1="1354.0" y1="256.7" x2="1359.2" y2="256.7" stroke="#222" stroke-width="1.3"/>
<text x="1352.2" y="263.1" font-size="18.5" text-anchor="end" fill="#000" stroke="#000" stroke-width="0.3">0.3</text>
<line x1="1354.0" y1="329.9" x2="1359.2" y2="329.9" stroke="#222" stroke-width="1.3"/>
<text x="1352.2" y="336.3" font-size="18.5" text-anchor="end" fill="#000" stroke="#000" stroke-width="0.3">0.0</text>
<line x1="1381.7" y1="343.2" x2="1381.7" y2="348.4" stroke="#222" stroke-width="1.3"/>
<text x="1379.7" y="362.2" font-size="18.5" text-anchor="end" fill="#000" stroke="#000" stroke-width="0.3" transform="rotate(-30 1379.7 362.2)">HC</text>
<line x1="1419.9" y1="343.2" x2="1419.9" y2="348.4" stroke="#222" stroke-width="1.3"/>
<text x="1421.9" y="362.2" font-size="18.5" text-anchor="end" fill="#000" stroke="#000" stroke-width="0.3" transform="rotate(-30 1421.9 362.2)">Asymptomatic</text>
<line x1="1459.4" y1="343.2" x2="1459.4" y2="348.4" stroke="#222" stroke-width="1.3"/>
<text x="1464.9" y="362.2" font-size="18.5" text-anchor="end" fill="#000" stroke="#000" stroke-width="0.3" transform="rotate(-30 1464.9 362.2)">Severe</text>
<line x1="1498.4" y1="343.2" x2="1498.4" y2="348.4" stroke="#222" stroke-width="1.3"/>
<text x="1501.4" y="362.2" font-size="18.5" text-anchor="end" fill="#000" stroke="#000" stroke-width="0.3" transform="rotate(-30 1501.4 362.2)">&lt;10</text>
<line x1="1537.8" y1="343.2" x2="1537.8" y2="348.4" stroke="#222" stroke-width="1.3"/>
<text x="1547.8" y="362.2" font-size="18.5" text-anchor="end" fill="#000" stroke="#000" stroke-width="0.3" transform="rotate(-30 1547.8 362.2)">10&#8211;20</text>
<line x1="1576.8" y1="343.2" x2="1576.8" y2="348.4" stroke="#222" stroke-width="1.3"/>
<text x="1584.1" y="362.2" font-size="18.5" text-anchor="end" fill="#000" stroke="#000" stroke-width="0.3" transform="rotate(-30 1584.1 362.2)">&gt;20</text>
<line x1="1469.8" y1="392.2" x2="1569.6" y2="392.2" stroke="#000" stroke-width="1.4"/>
<text x="1519.7" y="412.2" font-size="18.5" text-anchor="middle" fill="#000" stroke="#000" stroke-width="0.3">Moderate</text>
<text x="1475.1" y="33.3" font-size="18.5" text-anchor="middle" fill="#000" stroke="#000" stroke-width="0.3">Memory B</text>
<line x1="1703.8" y1="305.7" x2="1703.8" y2="313.0" stroke="#222" stroke-width="1.35"/>
<line x1="1703.8" y1="323.4" x2="1703.8" y2="325.8" stroke="#222" stroke-width="1.35"/>
<rect x="1689.1" y="313.0" width="29.3" height="10.5" fill="#47A27F" stroke="#222" stroke-width="1.4"/>
<line x1="1689.1" y1="320.2" x2="1718.4" y2="320.2" stroke="#222" stroke-width="1.4"/>
<line x1="1742.4" y1="300.9" x2="1742.4" y2="310.9" stroke="#222" stroke-width="1.35"/>
<line x1="1742.4" y1="326.6" x2="1742.4" y2="329.0" stroke="#222" stroke-width="1.35"/>
<rect x="1727.7" y="310.9" width="29.3" height="15.7" fill="#D15C16" stroke="#222" stroke-width="1.4"/>
<line x1="1727.7" y1="321.8" x2="1757.0" y2="321.8" stroke="#222" stroke-width="1.4"/>
<line x1="1781.8" y1="170.6" x2="1781.8" y2="208.4" stroke="#222" stroke-width="1.35"/>
<line x1="1781.8" y1="269.5" x2="1781.8" y2="293.6" stroke="#222" stroke-width="1.35"/>
<rect x="1767.2" y="208.4" width="29.3" height="61.1" fill="#D5398A" stroke="#222" stroke-width="1.4"/>
<line x1="1767.2" y1="245.0" x2="1796.5" y2="245.0" stroke="#222" stroke-width="1.4"/>
<line x1="1820.4" y1="145.2" x2="1820.4" y2="205.1" stroke="#222" stroke-width="1.35"/>
<line x1="1820.4" y1="280.4" x2="1820.4" y2="310.9" stroke="#222" stroke-width="1.35"/>
<rect x="1805.8" y="205.1" width="29.3" height="75.2" fill="#6D65A6" stroke="#222" stroke-width="1.4"/>
<line x1="1805.8" y1="257.4" x2="1835.1" y2="257.4" stroke="#222" stroke-width="1.4"/>
<line x1="1859.5" y1="266.7" x2="1859.5" y2="282.0" stroke="#222" stroke-width="1.35"/>
<line x1="1859.5" y1="314.6" x2="1859.5" y2="316.6" stroke="#222" stroke-width="1.35"/>
<rect x="1844.8" y="282.0" width="29.3" height="32.6" fill="#A38FD9" stroke="#222" stroke-width="1.4"/>
<line x1="1844.8" y1="303.7" x2="1874.1" y2="303.7" stroke="#222" stroke-width="1.4"/>
<line x1="1898.5" y1="284.0" x2="1898.5" y2="298.5" stroke="#222" stroke-width="1.35"/>
<line x1="1898.5" y1="315.4" x2="1898.5" y2="325.0" stroke="#222" stroke-width="1.35"/>
<rect x="1883.8" y="298.5" width="29.3" height="16.9" fill="#CBCBF3" stroke="#222" stroke-width="1.4"/>
<line x1="1883.8" y1="307.7" x2="1913.1" y2="307.7" stroke="#222" stroke-width="1.4"/>
<circle cx="1703.8" cy="305.7" r="2.90" fill="rgba(255,255,255,0.15)" stroke="#111" stroke-width="1.35"/>
<circle cx="1705.8" cy="319.8" r="2.90" fill="rgba(255,255,255,0.15)" stroke="#111" stroke-width="1.35"/>
<circle cx="1703.8" cy="325.8" r="2.90" fill="rgba(255,255,255,0.15)" stroke="#111" stroke-width="1.35"/>
<circle cx="1745.6" cy="256.2" r="2.90" fill="rgba(255,255,255,0.15)" stroke="#111" stroke-width="1.35"/>
<circle cx="1741.6" cy="300.9" r="2.90" fill="rgba(255,255,255,0.15)" stroke="#111" stroke-width="1.35"/>
<circle cx="1745.2" cy="310.9" r="2.90" fill="rgba(255,255,255,0.15)" stroke="#111" stroke-width="1.35"/>
<circle cx="1743.2" cy="317.8" r="2.90" fill="rgba(255,255,255,0.15)" stroke="#111" stroke-width="1.35"/>
<circle cx="1740.8" cy="321.0" r="2.90" fill="rgba(255,255,255,0.15)" stroke="#111" stroke-width="1.35"/>
<circle cx="1744.0" cy="323.8" r="2.90" fill="rgba(255,255,255,0.15)" stroke="#111" stroke-width="1.35"/>
<circle cx="1747.2" cy="325.8" r="2.90" fill="rgba(255,255,255,0.15)" stroke="#111" stroke-width="1.35"/>
<circle cx="1742.4" cy="329.0" r="2.90" fill="rgba(255,255,255,0.15)" stroke="#111" stroke-width="1.35"/>
<circle cx="1779.4" cy="170.6" r="2.90" fill="rgba(255,255,255,0.15)" stroke="#111" stroke-width="1.35"/>
<circle cx="1784.6" cy="245.4" r="2.90" fill="rgba(255,255,255,0.15)" stroke="#111" stroke-width="1.35"/>
<circle cx="1779.0" cy="293.6" r="2.90" fill="rgba(255,255,255,0.15)" stroke="#111" stroke-width="1.35"/>
<circle cx="1817.2" cy="145.2" r="2.90" fill="rgba(255,255,255,0.15)" stroke="#111" stroke-width="1.35"/>
<circle cx="1824.1" cy="151.2" r="2.90" fill="rgba(255,255,255,0.15)" stroke="#111" stroke-width="1.35"/>
<circle cx="1819.2" cy="202.3" r="2.90" fill="rgba(255,255,255,0.15)" stroke="#111" stroke-width="1.35"/>
<circle cx="1819.6" cy="208.4" r="2.90" fill="rgba(255,255,255,0.15)" stroke="#111" stroke-width="1.35"/>
<circle cx="1822.8" cy="234.9" r="2.90" fill="rgba(255,255,255,0.15)" stroke="#111" stroke-width="1.35"/>
<circle cx="1819.6" cy="257.0" r="2.90" fill="rgba(255,255,255,0.15)" stroke="#111" stroke-width="1.35"/>
<circle cx="1818.8" cy="271.1" r="2.90" fill="rgba(255,255,255,0.15)" stroke="#111" stroke-width="1.35"/>
<circle cx="1821.6" cy="276.7" r="2.90" fill="rgba(255,255,255,0.15)" stroke="#111" stroke-width="1.35"/>
<circle cx="1817.6" cy="283.2" r="2.90" fill="rgba(255,255,255,0.15)" stroke="#111" stroke-width="1.35"/>
<circle cx="1819.2" cy="299.7" r="2.90" fill="rgba(255,255,255,0.15)" stroke="#111" stroke-width="1.35"/>
<circle cx="1817.2" cy="310.9" r="2.90" fill="rgba(255,255,255,0.15)" stroke="#111" stroke-width="1.35"/>
<circle cx="1860.7" cy="266.7" r="2.90" fill="rgba(255,255,255,0.15)" stroke="#111" stroke-width="1.35"/>
<circle cx="1861.1" cy="277.2" r="2.90" fill="rgba(255,255,255,0.15)" stroke="#111" stroke-width="1.35"/>
<circle cx="1859.9" cy="297.7" r="2.90" fill="rgba(255,255,255,0.15)" stroke="#111" stroke-width="1.35"/>
<circle cx="1861.5" cy="315.0" r="2.90" fill="rgba(255,255,255,0.15)" stroke="#111" stroke-width="1.35"/>
<circle cx="1860.7" cy="316.6" r="2.90" fill="rgba(255,255,255,0.15)" stroke="#111" stroke-width="1.35"/>
<circle cx="1900.1" cy="284.0" r="2.90" fill="rgba(255,255,255,0.15)" stroke="#111" stroke-width="1.35"/>
<circle cx="1899.3" cy="303.7" r="2.90" fill="rgba(255,255,255,0.15)" stroke="#111" stroke-width="1.35"/>
<circle cx="1900.5" cy="310.9" r="2.90" fill="rgba(255,255,255,0.15)" stroke="#111" stroke-width="1.35"/>
<circle cx="1896.1" cy="325.0" r="2.90" fill="rgba(255,255,255,0.15)" stroke="#111" stroke-width="1.35"/>
<rect x="1680.4" y="49.5" width="241.4" height="294.4" fill="none" stroke="#222" stroke-width="1.4"/>
<line x1="1703.0" y1="68.8" x2="1820.4" y2="68.8" stroke="#000" stroke-width="1.25"/>
<text x="1760.5" y="73.6" font-size="24" text-anchor="middle" fill="#000" stroke="#000" stroke-width="0.3">*</text>
<line x1="1741.6" y1="90.9" x2="1820.4" y2="90.9" stroke="#000" stroke-width="1.25"/>
<text x="1783.2" y="97.0" font-size="24" text-anchor="middle" fill="#000" stroke="#000" stroke-width="0.3" letter-spacing="2">***</text>
<line x1="1819.6" y1="113.0" x2="1898.5" y2="113.0" stroke="#000" stroke-width="1.25"/>
<text x="1861.1" y="119.1" font-size="24" text-anchor="middle" fill="#000" stroke="#000" stroke-width="0.3">*</text>
<line x1="1819.6" y1="134.8" x2="1859.5" y2="134.8" stroke="#000" stroke-width="1.25"/>
<text x="1837.7" y="140.4" font-size="24" text-anchor="middle" fill="#000" stroke="#000" stroke-width="0.3">*</text>
<line x1="1675.2" y1="142.8" x2="1680.4" y2="142.8" stroke="#222" stroke-width="1.3"/>
<text x="1673.4" y="149.2" font-size="18.5" text-anchor="end" fill="#000" stroke="#000" stroke-width="0.3">0.4</text>
<line x1="1675.2" y1="236.5" x2="1680.4" y2="236.5" stroke="#222" stroke-width="1.3"/>
<text x="1673.4" y="242.9" font-size="18.5" text-anchor="end" fill="#000" stroke="#000" stroke-width="0.3">0.2</text>
<line x1="1675.2" y1="330.7" x2="1680.4" y2="330.7" stroke="#222" stroke-width="1.3"/>
<text x="1673.4" y="337.1" font-size="18.5" text-anchor="end" fill="#000" stroke="#000" stroke-width="0.3">0.0</text>
<line x1="1703.8" y1="343.9" x2="1703.8" y2="349.1" stroke="#222" stroke-width="1.3"/>
<text x="1700.2" y="364.1" font-size="18.5" text-anchor="end" fill="#000" stroke="#000" stroke-width="0.3" transform="rotate(-30 1700.2 364.1)">HC</text>
<line x1="1742.4" y1="343.9" x2="1742.4" y2="349.1" stroke="#222" stroke-width="1.3"/>
<text x="1738.3" y="364.1" font-size="18.5" text-anchor="end" fill="#000" stroke="#000" stroke-width="0.3" transform="rotate(-30 1738.3 364.1)">Asymptomatic</text>
<line x1="1781.8" y1="343.9" x2="1781.8" y2="349.1" stroke="#222" stroke-width="1.3"/>
<text x="1785.7" y="364.1" font-size="18.5" text-anchor="end" fill="#000" stroke="#000" stroke-width="0.3" transform="rotate(-30 1785.7 364.1)">Severe</text>
<line x1="1820.4" y1="343.9" x2="1820.4" y2="349.1" stroke="#222" stroke-width="1.3"/>
<text x="1821.8" y="364.1" font-size="18.5" text-anchor="end" fill="#000" stroke="#000" stroke-width="0.3" transform="rotate(-30 1821.8 364.1)">&lt;10</text>
<line x1="1859.5" y1="343.9" x2="1859.5" y2="349.1" stroke="#222" stroke-width="1.3"/>
<text x="1867.9" y="364.1" font-size="18.5" text-anchor="end" fill="#000" stroke="#000" stroke-width="0.3" transform="rotate(-30 1867.9 364.1)">10&#8211;20</text>
<line x1="1898.5" y1="343.9" x2="1898.5" y2="349.1" stroke="#222" stroke-width="1.3"/>
<text x="1904.2" y="364.1" font-size="18.5" text-anchor="end" fill="#000" stroke="#000" stroke-width="0.3" transform="rotate(-30 1904.2 364.1)">&gt;20</text>
<line x1="1791.9" y1="392.2" x2="1892.0" y2="392.2" stroke="#000" stroke-width="1.4"/>
<text x="1842.0" y="412.2" font-size="18.5" text-anchor="middle" fill="#000" stroke="#000" stroke-width="0.3">Moderate</text>
<text x="1793.9" y="33.3" font-size="18.5" text-anchor="middle" fill="#000" stroke="#000" stroke-width="0.3">Plasma B</text>
<text x="964.0" y="20.5" font-size="27" text-anchor="start" fill="#000" font-weight="bold">c</text>
<path d="M133.90,478.80 A89.0,89.0 0 0 1 135.76,478.82 L134.47,540.71 A27.1,27.1 0 0 0 133.90,540.70 Z" fill="#C1403A" stroke="none" stroke-width="1.2"/>
<path d="M135.76,478.82 A89.0,89.0 0 1 1 95.44,487.54 L122.19,543.36 A27.1,27.1 0 1 0 134.47,540.71 Z" fill="#4E9BB0" stroke="none" stroke-width="1.2"/>
<path d="M95.44,487.54 A89.0,89.0 0 0 1 133.90,478.80 L133.90,540.70 A27.1,27.1 0 0 0 122.19,543.36 Z" fill="#BFBDC1" stroke="none" stroke-width="1.2"/>
<path d="M344.10,478.80 A89.0,89.0 0 0 1 351.55,479.11 L346.38,540.60 A27.3,27.3 0 0 0 344.10,540.50 Z" fill="#C1403A" stroke="none" stroke-width="1.2"/>
<path d="M351.55,479.11 A89.0,89.0 0 1 1 299.60,490.72 L330.45,544.16 A27.3,27.3 0 1 0 346.38,540.60 Z" fill="#4E9BB0" stroke="none" stroke-width="1.2"/>
<path d="M299.60,490.72 A89.0,89.0 0 0 1 344.10,478.80 L344.10,540.50 A27.3,27.3 0 0 0 330.45,544.16 Z" fill="#BFBDC1" stroke="none" stroke-width="1.2"/>
<path d="M762.60,478.80 A89.0,89.0 0 0 1 782.62,481.08 L768.79,541.00 A27.5,27.5 0 0 0 762.60,540.30 Z" fill="#C1403A" stroke="none" stroke-width="1.2"/>
<path d="M782.62,481.08 A89.0,89.0 0 1 1 693.93,511.19 L741.38,550.31 A27.5,27.5 0 1 0 768.79,541.00 Z" fill="#4E9BB0" stroke="none" stroke-width="1.2"/>
<path d="M693.93,511.19 A89.0,89.0 0 0 1 762.60,478.80 L762.60,540.30 A27.5,27.5 0 0 0 741.38,550.31 Z" fill="#BFBDC1" stroke="none" stroke-width="1.2"/>
<path d="M553.10,479.00 A88.6,88.6 0 0 1 554.96,479.02 L554.37,507.11 A60.5,60.5 0 0 0 553.10,507.10 Z" fill="#C1403A" stroke="none" stroke-width="1.2"/>
<path d="M554.96,479.02 A88.6,88.6 0 1 1 513.15,488.52 L525.82,513.60 A60.5,60.5 0 1 0 554.37,507.11 Z" fill="#4E9BB0" stroke="none" stroke-width="1.2"/>
<path d="M513.15,488.52 A88.6,88.6 0 0 1 553.10,479.00 L553.10,507.10 A60.5,60.5 0 0 0 525.82,513.60 Z" fill="#BFBDC1" stroke="none" stroke-width="1.2"/>
<path d="M553.10,507.10 A60.5,60.5 0 0 1 558.48,507.34 L555.79,537.42 A30.3,30.3 0 0 0 553.10,537.30 Z" fill="#DB7A6E" stroke="none" stroke-width="1.2"/>
<path d="M558.48,507.34 A60.5,60.5 0 1 1 511.53,523.64 L532.28,545.58 A30.3,30.3 0 1 0 555.79,537.42 Z" fill="#8DB6C5" stroke="none" stroke-width="1.2"/>
<path d="M511.53,523.64 A60.5,60.5 0 0 1 553.10,507.10 L553.10,537.30 A30.3,30.3 0 0 0 532.28,545.58 Z" fill="#D4D2D5" stroke="none" stroke-width="1.2"/>
<path d="M553.10,567.60 L553.10,537.30 A30.3,30.3 0 0 1 558.36,537.76 Z" fill="#EDB5A8" stroke="none" stroke-width="1.2"/>
<path d="M553.10,567.60 L558.36,537.76 A30.3,30.3 0 1 1 534.45,543.72 Z" fill="#C3D8E1" stroke="none" stroke-width="1.2"/>
<path d="M553.10,567.60 L534.45,543.72 A30.3,30.3 0 0 1 553.10,537.30 Z" fill="#E5E4E6" stroke="none" stroke-width="1.2"/>
<circle cx="553.1" cy="567.6" r="60.50" fill="none" stroke="#fff" stroke-width="2.6"/>
<circle cx="553.1" cy="567.6" r="30.30" fill="none" stroke="#fff" stroke-width="2.6"/>
<text x="126.4" y="465.0" font-size="18.5" text-anchor="middle" fill="#000" stroke="#000" stroke-width="0.3">HC</text>
<text x="345.2" y="465.0" font-size="18.5" text-anchor="middle" fill="#000" stroke="#000" stroke-width="0.3">Asymptomatic</text>
<text x="551.0" y="465.0" font-size="18.5" text-anchor="middle" fill="#000" stroke="#000" stroke-width="0.3">Moderate</text>
<text x="763.0" y="465.0" font-size="18.5" text-anchor="middle" fill="#000" stroke="#000" stroke-width="0.3">Severe</text>
<text x="7.0" y="460.0" font-size="27" text-anchor="start" fill="#000" font-weight="bold">d</text>
<text x="875.9" y="491.1" font-size="18.5" text-anchor="start" fill="#000" stroke="#000" stroke-width="0.3">Clone state</text>
<rect x="876.6" y="497.3" width="22.6" height="22.0" fill="#C1403A" stroke="none" stroke-width="1.3"/>
<text x="905.8" y="514.1" font-size="18.5" text-anchor="start" fill="#000" stroke="#000" stroke-width="0.3">Clonal</text>
<rect x="876.6" y="524.7" width="22.6" height="22.0" fill="#4E9BB0" stroke="none" stroke-width="1.3"/>
<text x="905.8" y="543.3" font-size="18.5" text-anchor="start" fill="#000" stroke="#000" stroke-width="0.3">Unique</text>
<rect x="876.6" y="552.2" width="22.6" height="22.0" fill="#BFBDC1" stroke="none" stroke-width="1.3"/>
<text x="905.8" y="570.0" font-size="18.5" text-anchor="start" fill="#000" stroke="#000" stroke-width="0.3">Not detected</text>
<path d="M882.1,628.0 A37.3,37.3 0 0 1 919.4,590.7" fill="none" stroke="#000" stroke-width="8.0"/>
<path d="M893.8,628.0 A25.599999999999998,25.599999999999998 0 0 1 919.4,602.4" fill="none" stroke="#4d4d4d" stroke-width="7.2"/>
<path d="M904.2,628.0 A15.2,15.2 0 0 1 919.4,612.8" fill="none" stroke="#7a7a7a" stroke-width="6.0"/>
<text x="922.0" y="593.5" font-size="18.5" text-anchor="start" fill="#000" stroke="#000" stroke-width="0.3">&gt;20</text>
<text x="921.5" y="608.8" font-size="18.5" text-anchor="start" fill="#000" stroke="#000" stroke-width="0.3">10-20</text>
<text x="922.0" y="623.5" font-size="18.5" text-anchor="start" fill="#000" stroke="#000" stroke-width="0.3">&lt;10</text>
<line x1="976.1" y1="579.7" x2="976.1" y2="624.0" stroke="#000" stroke-width="1.4"/>
<text x="978.8" y="609.2" font-size="18.5" text-anchor="start" fill="#000" stroke="#000" stroke-width="0.3">Moderate*</text>
<text x="874.6" y="649.0" font-size="17" text-anchor="start" fill="#000" stroke="#000" stroke-width="0.3">*</text>
<text x="883.8" y="649.7" font-size="18.5" text-anchor="start" fill="#000" stroke="#000" stroke-width="0.3">Days after</text>
<text x="883.8" y="672.0" font-size="18.5" text-anchor="start" fill="#000" stroke="#000" stroke-width="0.3">symptom onset</text>
<line x1="1195.2" y1="587.0" x2="1195.2" y2="603.8" stroke="#222" stroke-width="1.35"/>
<line x1="1195.2" y1="627.7" x2="1195.2" y2="635.1" stroke="#222" stroke-width="1.35"/>
<rect x="1175.2" y="603.8" width="40.0" height="23.9" fill="#47A27F" stroke="#222" stroke-width="1.4"/>
<line x1="1175.2" y1="620.4" x2="1215.2" y2="620.4" stroke="#222" stroke-width="1.4"/>
<line x1="1248.5" y1="540.4" x2="1248.5" y2="572.2" stroke="#222" stroke-width="1.35"/>
<line x1="1248.5" y1="610.9" x2="1248.5" y2="636.3" stroke="#222" stroke-width="1.35"/>
<rect x="1228.5" y="572.2" width="40.0" height="38.6" fill="#D15C16" stroke="#222" stroke-width="1.4"/>
<line x1="1228.5" y1="582.1" x2="1268.5" y2="582.1" stroke="#222" stroke-width="1.4"/>
<line x1="1301.5" y1="544.0" x2="1301.5" y2="560.6" stroke="#222" stroke-width="1.35"/>
<line x1="1301.5" y1="591.9" x2="1301.5" y2="606.9" stroke="#222" stroke-width="1.35"/>
<rect x="1281.5" y="560.6" width="40.0" height="31.3" fill="#D5398A" stroke="#222" stroke-width="1.4"/>
<line x1="1281.5" y1="576.5" x2="1321.5" y2="576.5" stroke="#222" stroke-width="1.4"/>
<line x1="1355.2" y1="526.6" x2="1355.2" y2="561.2" stroke="#222" stroke-width="1.35"/>
<line x1="1355.2" y1="591.3" x2="1355.2" y2="627.1" stroke="#222" stroke-width="1.35"/>
<rect x="1335.2" y="561.2" width="40.0" height="30.0" fill="#6D65A6" stroke="#222" stroke-width="1.4"/>
<line x1="1335.2" y1="574.1" x2="1375.2" y2="574.1" stroke="#222" stroke-width="1.4"/>
<line x1="1408.5" y1="526.6" x2="1408.5" y2="545.0" stroke="#222" stroke-width="1.35"/>
<line x1="1408.5" y1="624.7" x2="1408.5" y2="641.5" stroke="#222" stroke-width="1.35"/>
<rect x="1388.5" y="545.0" width="40.0" height="79.7" fill="#A38FD9" stroke="#222" stroke-width="1.4"/>
<line x1="1388.5" y1="570.4" x2="1428.5" y2="570.4" stroke="#222" stroke-width="1.4"/>
<line x1="1461.9" y1="613.3" x2="1461.9" y2="614.2" stroke="#222" stroke-width="1.35"/>
<line x1="1461.9" y1="621.9" x2="1461.9" y2="629.6" stroke="#222" stroke-width="1.35"/>
<rect x="1441.9" y="614.2" width="40.0" height="7.7" fill="#CBCBF3" stroke="#222" stroke-width="1.4"/>
<line x1="1441.9" y1="616.7" x2="1481.9" y2="616.7" stroke="#222" stroke-width="1.4"/>
<circle cx="1192.7" cy="587.0" r="2.25" fill="rgba(255,255,255,0.15)" stroke="#111" stroke-width="1.25"/>
<circle cx="1193.9" cy="620.4" r="2.25" fill="rgba(255,255,255,0.15)" stroke="#111" stroke-width="1.25"/>
<circle cx="1192.7" cy="635.1" r="2.25" fill="rgba(255,255,255,0.15)" stroke="#111" stroke-width="1.25"/>
<circle cx="1246.4" cy="540.4" r="2.25" fill="rgba(255,255,255,0.15)" stroke="#111" stroke-width="1.25"/>
<circle cx="1243.6" cy="563.1" r="2.25" fill="rgba(255,255,255,0.15)" stroke="#111" stroke-width="1.25"/>
<circle cx="1244.8" cy="571.0" r="2.25" fill="rgba(255,255,255,0.15)" stroke="#111" stroke-width="1.25"/>
<circle cx="1247.9" cy="575.6" r="2.25" fill="rgba(255,255,255,0.15)" stroke="#111" stroke-width="1.25"/>
<circle cx="1243.6" cy="579.9" r="2.25" fill="rgba(255,255,255,0.15)" stroke="#111" stroke-width="1.25"/>
<circle cx="1252.2" cy="584.8" r="2.25" fill="rgba(255,255,255,0.15)" stroke="#111" stroke-width="1.25"/>
<circle cx="1246.0" cy="607.8" r="2.25" fill="rgba(255,255,255,0.15)" stroke="#111" stroke-width="1.25"/>
<circle cx="1244.8" cy="611.5" r="2.25" fill="rgba(255,255,255,0.15)" stroke="#111" stroke-width="1.25"/>
<circle cx="1247.9" cy="613.0" r="2.25" fill="rgba(255,255,255,0.15)" stroke="#111" stroke-width="1.25"/>
<circle cx="1243.6" cy="636.3" r="2.25" fill="rgba(255,255,255,0.15)" stroke="#111" stroke-width="1.25"/>
<circle cx="1304.3" cy="544.0" r="2.25" fill="rgba(255,255,255,0.15)" stroke="#111" stroke-width="1.25"/>
<circle cx="1300.6" cy="576.8" r="2.25" fill="rgba(255,255,255,0.15)" stroke="#111" stroke-width="1.25"/>
<circle cx="1301.2" cy="606.9" r="2.25" fill="rgba(255,255,255,0.15)" stroke="#111" stroke-width="1.25"/>
<circle cx="1357.3" cy="497.1" r="2.25" fill="rgba(255,255,255,0.15)" stroke="#111" stroke-width="1.25"/>
<circle cx="1357.3" cy="526.6" r="2.25" fill="rgba(255,255,255,0.15)" stroke="#111" stroke-width="1.25"/>
<circle cx="1355.5" cy="560.0" r="2.25" fill="rgba(255,255,255,0.15)" stroke="#111" stroke-width="1.25"/>
<circle cx="1352.4" cy="562.7" r="2.25" fill="rgba(255,255,255,0.15)" stroke="#111" stroke-width="1.25"/>
<circle cx="1350.6" cy="568.6" r="2.25" fill="rgba(255,255,255,0.15)" stroke="#111" stroke-width="1.25"/>
<circle cx="1354.3" cy="574.1" r="2.25" fill="rgba(255,255,255,0.15)" stroke="#111" stroke-width="1.25"/>
<circle cx="1357.9" cy="577.5" r="2.25" fill="rgba(255,255,255,0.15)" stroke="#111" stroke-width="1.25"/>
<circle cx="1358.6" cy="605.4" r="2.25" fill="rgba(255,255,255,0.15)" stroke="#111" stroke-width="1.25"/>
<circle cx="1359.2" cy="627.1" r="2.25" fill="rgba(255,255,255,0.15)" stroke="#111" stroke-width="1.25"/>
<circle cx="1357.3" cy="641.8" r="2.25" fill="rgba(255,255,255,0.15)" stroke="#111" stroke-width="1.25"/>
<circle cx="1408.2" cy="526.6" r="2.25" fill="rgba(255,255,255,0.15)" stroke="#111" stroke-width="1.25"/>
<circle cx="1410.1" cy="544.0" r="2.25" fill="rgba(255,255,255,0.15)" stroke="#111" stroke-width="1.25"/>
<circle cx="1411.0" cy="547.4" r="2.25" fill="rgba(255,255,255,0.15)" stroke="#111" stroke-width="1.25"/>
<circle cx="1410.1" cy="593.1" r="2.25" fill="rgba(255,255,255,0.15)" stroke="#111" stroke-width="1.25"/>
<circle cx="1409.8" cy="635.7" r="2.25" fill="rgba(255,255,255,0.15)" stroke="#111" stroke-width="1.25"/>
<circle cx="1412.8" cy="641.5" r="2.25" fill="rgba(255,255,255,0.15)" stroke="#111" stroke-width="1.25"/>
<circle cx="1462.2" cy="614.2" r="2.25" fill="rgba(255,255,255,0.15)" stroke="#111" stroke-width="1.25"/>
<circle cx="1464.3" cy="613.3" r="2.25" fill="rgba(255,255,255,0.15)" stroke="#111" stroke-width="1.25"/>
<circle cx="1462.5" cy="619.2" r="2.25" fill="rgba(255,255,255,0.15)" stroke="#111" stroke-width="1.25"/>
<circle cx="1461.9" cy="629.6" r="2.25" fill="rgba(255,255,255,0.15)" stroke="#111" stroke-width="1.25"/>
<rect x="1163.0" y="473.8" width="331.1" height="197.5" fill="none" stroke="#333" stroke-width="1.6"/>
<line x1="1247.9" y1="489.2" x2="1461.9" y2="489.2" stroke="#000" stroke-width="1.25"/>
<text x="1357.3" y="491.9" font-size="24" text-anchor="middle" fill="#000" stroke="#000" stroke-width="0.3">*</text>
<line x1="1159.4" y1="508.5" x2="1163.0" y2="508.5" stroke="#333" stroke-width="1.3"/>
<text x="1156.0" y="514.1" font-size="18.5" text-anchor="end" fill="#4D4D4D" stroke="#4D4D4D" stroke-width="0.3">0.3</text>
<line x1="1159.4" y1="559.7" x2="1163.0" y2="559.7" stroke="#333" stroke-width="1.3"/>
<text x="1156.0" y="565.3" font-size="18.5" text-anchor="end" fill="#4D4D4D" stroke="#4D4D4D" stroke-width="0.3">0.2</text>
<line x1="1159.4" y1="610.9" x2="1163.0" y2="610.9" stroke="#333" stroke-width="1.3"/>
<text x="1156.0" y="616.5" font-size="18.5" text-anchor="end" fill="#4D4D4D" stroke="#4D4D4D" stroke-width="0.3">0.1</text>
<line x1="1159.4" y1="662.1" x2="1163.0" y2="662.1" stroke="#333" stroke-width="1.3"/>
<text x="1156.0" y="667.7" font-size="18.5" text-anchor="end" fill="#4D4D4D" stroke="#4D4D4D" stroke-width="0.3">0.0</text>
<line x1="1195.2" y1="671.3" x2="1195.2" y2="674.9" stroke="#333" stroke-width="1.3"/>
<text x="1203.0" y="689.1" font-size="18.5" text-anchor="end" fill="#000" stroke="#000" stroke-width="0.3" transform="rotate(-30 1203.0 689.1)">HC</text>
<line x1="1248.5" y1="671.3" x2="1248.5" y2="674.9" stroke="#333" stroke-width="1.3"/>
<text x="1253.3" y="689.1" font-size="18.5" text-anchor="end" fill="#000" stroke="#000" stroke-width="0.3" transform="rotate(-30 1253.3 689.1)">Asymptomatic</text>
<line x1="1301.5" y1="671.3" x2="1301.5" y2="674.9" stroke="#333" stroke-width="1.3"/>
<text x="1309.3" y="689.1" font-size="18.5" text-anchor="end" fill="#000" stroke="#000" stroke-width="0.3" transform="rotate(-30 1309.3 689.1)">Severe</text>
<line x1="1355.2" y1="671.3" x2="1355.2" y2="674.9" stroke="#333" stroke-width="1.3"/>
<text x="1363.8" y="689.1" font-size="18.5" text-anchor="end" fill="#000" stroke="#000" stroke-width="0.3" transform="rotate(-30 1363.8 689.1)">&lt;10</text>
<line x1="1408.5" y1="671.3" x2="1408.5" y2="674.9" stroke="#333" stroke-width="1.3"/>
<text x="1414.8" y="689.1" font-size="18.5" text-anchor="end" fill="#000" stroke="#000" stroke-width="0.3" transform="rotate(-30 1414.8 689.1)">10&#8211;20</text>
<line x1="1461.9" y1="671.3" x2="1461.9" y2="674.9" stroke="#333" stroke-width="1.3"/>
<text x="1471.1" y="689.1" font-size="18.5" text-anchor="end" fill="#000" stroke="#000" stroke-width="0.3" transform="rotate(-30 1471.1 689.1)">&gt;20</text>
<line x1="1334.6" y1="715.7" x2="1465.9" y2="715.7" stroke="#000" stroke-width="1.4"/>
<text x="1400.2" y="735.7" font-size="18.5" text-anchor="middle" fill="#000" stroke="#000" stroke-width="0.3">Moderate</text>
<text x="1319.3" y="464.6" font-size="18.5" text-anchor="middle" fill="#000" stroke="#000" stroke-width="0.3">IGHG</text>
<text x="1115.3" y="577.2" font-size="18.5" text-anchor="middle" fill="#000" stroke="#000" stroke-width="0.3" transform="rotate(-90 1115.3 577.2)">Proportion</text>
<line x1="1620.7" y1="540.4" x2="1620.7" y2="544.1" stroke="#222" stroke-width="1.35"/>
<line x1="1620.7" y1="552.3" x2="1620.7" y2="556.0" stroke="#222" stroke-width="1.35"/>
<rect x="1600.7" y="544.1" width="40.0" height="8.3" fill="#47A27F" stroke="#222" stroke-width="1.4"/>
<line x1="1600.7" y1="548.0" x2="1640.7" y2="548.0" stroke="#222" stroke-width="1.4"/>
<line x1="1673.7" y1="558.8" x2="1673.7" y2="579.0" stroke="#222" stroke-width="1.35"/>
<line x1="1673.7" y1="601.7" x2="1673.7" y2="628.4" stroke="#222" stroke-width="1.35"/>
<rect x="1653.7" y="579.0" width="40.0" height="22.7" fill="#D15C16" stroke="#222" stroke-width="1.4"/>
<line x1="1653.7" y1="591.6" x2="1693.7" y2="591.6" stroke="#222" stroke-width="1.4"/>
<line x1="1727.1" y1="559.7" x2="1727.1" y2="570.7" stroke="#222" stroke-width="1.35"/>
<line x1="1727.1" y1="587.6" x2="1727.1" y2="593.4" stroke="#222" stroke-width="1.35"/>
<rect x="1707.1" y="570.7" width="40.0" height="16.9" fill="#D5398A" stroke="#222" stroke-width="1.4"/>
<line x1="1707.1" y1="581.2" x2="1747.1" y2="581.2" stroke="#222" stroke-width="1.4"/>
<line x1="1780.1" y1="541.9" x2="1780.1" y2="577.5" stroke="#222" stroke-width="1.35"/>
<line x1="1780.1" y1="629.0" x2="1780.1" y2="653.2" stroke="#222" stroke-width="1.35"/>
<rect x="1760.1" y="577.5" width="40.0" height="51.5" fill="#6D65A6" stroke="#222" stroke-width="1.4"/>
<line x1="1760.1" y1="591.3" x2="1800.1" y2="591.3" stroke="#222" stroke-width="1.4"/>
<line x1="1833.5" y1="560.3" x2="1833.5" y2="585.1" stroke="#222" stroke-width="1.35"/>
<line x1="1833.5" y1="612.4" x2="1833.5" y2="625.9" stroke="#222" stroke-width="1.35"/>
<rect x="1813.5" y="585.1" width="40.0" height="27.3" fill="#A38FD9" stroke="#222" stroke-width="1.4"/>
<line x1="1813.5" y1="597.4" x2="1853.5" y2="597.4" stroke="#222" stroke-width="1.4"/>
<line x1="1886.8" y1="566.7" x2="1886.8" y2="573.5" stroke="#222" stroke-width="1.35"/>
<line x1="1886.8" y1="582.1" x2="1886.8" y2="582.4" stroke="#222" stroke-width="1.35"/>
<rect x="1866.8" y="573.5" width="40.0" height="8.6" fill="#CBCBF3" stroke="#222" stroke-width="1.4"/>
<line x1="1866.8" y1="579.0" x2="1906.8" y2="579.0" stroke="#222" stroke-width="1.4"/>
<circle cx="1625.6" cy="540.4" r="2.25" fill="rgba(255,255,255,0.15)" stroke="#111" stroke-width="1.25"/>
<circle cx="1623.1" cy="548.4" r="2.25" fill="rgba(255,255,255,0.15)" stroke="#111" stroke-width="1.25"/>
<circle cx="1622.2" cy="556.0" r="2.25" fill="rgba(255,255,255,0.15)" stroke="#111" stroke-width="1.25"/>
<circle cx="1672.8" cy="558.8" r="2.25" fill="rgba(255,255,255,0.15)" stroke="#111" stroke-width="1.25"/>
<circle cx="1677.1" cy="565.8" r="2.25" fill="rgba(255,255,255,0.15)" stroke="#111" stroke-width="1.25"/>
<circle cx="1673.4" cy="577.5" r="2.25" fill="rgba(255,255,255,0.15)" stroke="#111" stroke-width="1.25"/>
<circle cx="1670.0" cy="583.0" r="2.25" fill="rgba(255,255,255,0.15)" stroke="#111" stroke-width="1.25"/>
<circle cx="1671.9" cy="590.4" r="2.25" fill="rgba(255,255,255,0.15)" stroke="#111" stroke-width="1.25"/>
<circle cx="1674.3" cy="592.5" r="2.25" fill="rgba(255,255,255,0.15)" stroke="#111" stroke-width="1.25"/>
<circle cx="1678.3" cy="600.5" r="2.25" fill="rgba(255,255,255,0.15)" stroke="#111" stroke-width="1.25"/>
<circle cx="1672.8" cy="601.7" r="2.25" fill="rgba(255,255,255,0.15)" stroke="#111" stroke-width="1.25"/>
<circle cx="1677.7" cy="612.4" r="2.25" fill="rgba(255,255,255,0.15)" stroke="#111" stroke-width="1.25"/>
<circle cx="1675.3" cy="628.4" r="2.25" fill="rgba(255,255,255,0.15)" stroke="#111" stroke-width="1.25"/>
<circle cx="1727.1" cy="559.7" r="2.25" fill="rgba(255,255,255,0.15)" stroke="#111" stroke-width="1.25"/>
<circle cx="1727.1" cy="581.5" r="2.25" fill="rgba(255,255,255,0.15)" stroke="#111" stroke-width="1.25"/>
<circle cx="1721.9" cy="593.4" r="2.25" fill="rgba(255,255,255,0.15)" stroke="#111" stroke-width="1.25"/>
<circle cx="1780.1" cy="541.9" r="2.25" fill="rgba(255,255,255,0.15)" stroke="#111" stroke-width="1.25"/>
<circle cx="1783.8" cy="568.6" r="2.25" fill="rgba(255,255,255,0.15)" stroke="#111" stroke-width="1.25"/>
<circle cx="1780.1" cy="578.1" r="2.25" fill="rgba(255,255,255,0.15)" stroke="#111" stroke-width="1.25"/>
<circle cx="1785.3" cy="576.6" r="2.25" fill="rgba(255,255,255,0.15)" stroke="#111" stroke-width="1.25"/>
<circle cx="1777.7" cy="584.5" r="2.25" fill="rgba(255,255,255,0.15)" stroke="#111" stroke-width="1.25"/>
<circle cx="1783.8" cy="591.6" r="2.25" fill="rgba(255,255,255,0.15)" stroke="#111" stroke-width="1.25"/>
<circle cx="1781.3" cy="614.9" r="2.25" fill="rgba(255,255,255,0.15)" stroke="#111" stroke-width="1.25"/>
<circle cx="1776.1" cy="618.6" r="2.25" fill="rgba(255,255,255,0.15)" stroke="#111" stroke-width="1.25"/>
<circle cx="1777.7" cy="638.8" r="2.25" fill="rgba(255,255,255,0.15)" stroke="#111" stroke-width="1.25"/>
<circle cx="1784.1" cy="645.5" r="2.25" fill="rgba(255,255,255,0.15)" stroke="#111" stroke-width="1.25"/>
<circle cx="1778.9" cy="653.2" r="2.25" fill="rgba(255,255,255,0.15)" stroke="#111" stroke-width="1.25"/>
<circle cx="1838.4" cy="560.3" r="2.25" fill="rgba(255,255,255,0.15)" stroke="#111" stroke-width="1.25"/>
<circle cx="1829.5" cy="584.2" r="2.25" fill="rgba(255,255,255,0.15)" stroke="#111" stroke-width="1.25"/>
<circle cx="1831.6" cy="587.6" r="2.25" fill="rgba(255,255,255,0.15)" stroke="#111" stroke-width="1.25"/>
<circle cx="1829.8" cy="607.8" r="2.25" fill="rgba(255,255,255,0.15)" stroke="#111" stroke-width="1.25"/>
<circle cx="1829.8" cy="614.0" r="2.25" fill="rgba(255,255,255,0.15)" stroke="#111" stroke-width="1.25"/>
<circle cx="1830.7" cy="625.9" r="2.25" fill="rgba(255,255,255,0.15)" stroke="#111" stroke-width="1.25"/>
<circle cx="1890.5" cy="566.7" r="2.25" fill="rgba(255,255,255,0.15)" stroke="#111" stroke-width="1.25"/>
<circle cx="1889.6" cy="576.6" r="2.25" fill="rgba(255,255,255,0.15)" stroke="#111" stroke-width="1.25"/>
<circle cx="1882.8" cy="581.8" r="2.25" fill="rgba(255,255,255,0.15)" stroke="#111" stroke-width="1.25"/>
<circle cx="1887.7" cy="582.4" r="2.25" fill="rgba(255,255,255,0.15)" stroke="#111" stroke-width="1.25"/>
<rect x="1588.5" y="473.8" width="330.5" height="197.5" fill="none" stroke="#333" stroke-width="1.6"/>
<line x1="1620.4" y1="494.1" x2="1674.6" y2="494.1" stroke="#000" stroke-width="1.25"/>
<text x="1648.7" y="498.0" font-size="24" text-anchor="middle" fill="#000" stroke="#000" stroke-width="0.3" letter-spacing="2">**</text>
<line x1="1620.4" y1="509.7" x2="1887.7" y2="509.7" stroke="#000" stroke-width="1.25"/>
<text x="1754.7" y="508.8" font-size="24" text-anchor="middle" fill="#000" stroke="#000" stroke-width="0.3">*</text>
<line x1="1620.4" y1="530.0" x2="1781.0" y2="530.0" stroke="#000" stroke-width="1.25"/>
<text x="1696.7" y="533.3" font-size="24" text-anchor="middle" fill="#000" stroke="#000" stroke-width="0.3">*</text>
<line x1="1584.9" y1="482.7" x2="1588.5" y2="482.7" stroke="#333" stroke-width="1.3"/>
<text x="1581.5" y="488.3" font-size="18.5" text-anchor="end" fill="#4D4D4D" stroke="#4D4D4D" stroke-width="0.3">1.0</text>
<line x1="1584.9" y1="535.2" x2="1588.5" y2="535.2" stroke="#333" stroke-width="1.3"/>
<text x="1581.5" y="540.8" font-size="18.5" text-anchor="end" fill="#4D4D4D" stroke="#4D4D4D" stroke-width="0.3">0.8</text>
<line x1="1584.9" y1="587.9" x2="1588.5" y2="587.9" stroke="#333" stroke-width="1.3"/>
<text x="1581.5" y="593.5" font-size="18.5" text-anchor="end" fill="#4D4D4D" stroke="#4D4D4D" stroke-width="0.3">0.6</text>
<line x1="1584.9" y1="640.6" x2="1588.5" y2="640.6" stroke="#333" stroke-width="1.3"/>
<text x="1581.5" y="646.2" font-size="18.5" text-anchor="end" fill="#4D4D4D" stroke="#4D4D4D" stroke-width="0.3">0.4</text>
<line x1="1620.7" y1="671.3" x2="1620.7" y2="674.9" stroke="#333" stroke-width="1.3"/>
<text x="1624.1" y="690.8" font-size="18.5" text-anchor="end" fill="#000" stroke="#000" stroke-width="0.3" transform="rotate(-30 1624.1 690.8)">HC</text>
<line x1="1673.7" y1="671.3" x2="1673.7" y2="674.9" stroke="#333" stroke-width="1.3"/>
<text x="1674.1" y="690.8" font-size="18.5" text-anchor="end" fill="#000" stroke="#000" stroke-width="0.3" transform="rotate(-30 1674.1 690.8)">Asymptomatic</text>
<line x1="1727.1" y1="671.3" x2="1727.1" y2="674.9" stroke="#333" stroke-width="1.3"/>
<text x="1730.5" y="690.8" font-size="18.5" text-anchor="end" fill="#000" stroke="#000" stroke-width="0.3" transform="rotate(-30 1730.5 690.8)">Severe</text>
<line x1="1780.1" y1="671.3" x2="1780.1" y2="674.9" stroke="#333" stroke-width="1.3"/>
<text x="1784.3" y="690.8" font-size="18.5" text-anchor="end" fill="#000" stroke="#000" stroke-width="0.3" transform="rotate(-30 1784.3 690.8)">&lt;10</text>
<line x1="1833.5" y1="671.3" x2="1833.5" y2="674.9" stroke="#333" stroke-width="1.3"/>
<text x="1835.4" y="690.8" font-size="18.5" text-anchor="end" fill="#000" stroke="#000" stroke-width="0.3" transform="rotate(-30 1835.4 690.8)">10&#8211;20</text>
<line x1="1886.8" y1="671.3" x2="1886.8" y2="674.9" stroke="#333" stroke-width="1.3"/>
<text x="1891.6" y="690.8" font-size="18.5" text-anchor="end" fill="#000" stroke="#000" stroke-width="0.3" transform="rotate(-30 1891.6 690.8)">&gt;20</text>
<line x1="1761.4" y1="715.8" x2="1892.6" y2="715.8" stroke="#000" stroke-width="1.4"/>
<text x="1827.0" y="735.8" font-size="18.5" text-anchor="middle" fill="#000" stroke="#000" stroke-width="0.3">Moderate</text>
<text x="1745.5" y="464.6" font-size="18.5" text-anchor="middle" fill="#000" stroke="#000" stroke-width="0.3">IGHM</text>
<line x1="1196.0" y1="918.8" x2="1196.0" y2="925.5" stroke="#222" stroke-width="1.35"/>
<line x1="1196.0" y1="936.0" x2="1196.0" y2="939.5" stroke="#222" stroke-width="1.35"/>
<rect x="1176.0" y="925.5" width="40.0" height="10.5" fill="#47A27F" stroke="#222" stroke-width="1.4"/>
<line x1="1176.0" y1="932.2" x2="1216.0" y2="932.2" stroke="#222" stroke-width="1.4"/>
<line x1="1249.3" y1="825.3" x2="1249.3" y2="834.1" stroke="#222" stroke-width="1.35"/>
<line x1="1249.3" y1="890.0" x2="1249.3" y2="927.0" stroke="#222" stroke-width="1.35"/>
<rect x="1229.3" y="834.1" width="40.0" height="55.9" fill="#D15C16" stroke="#222" stroke-width="1.4"/>
<line x1="1229.3" y1="865.5" x2="1269.3" y2="865.5" stroke="#222" stroke-width="1.4"/>
<line x1="1302.6" y1="878.9" x2="1302.6" y2="889.1" stroke="#222" stroke-width="1.35"/>
<line x1="1302.6" y1="906.3" x2="1302.6" y2="913.0" stroke="#222" stroke-width="1.35"/>
<rect x="1282.6" y="889.1" width="40.0" height="17.2" fill="#D5398A" stroke="#222" stroke-width="1.4"/>
<line x1="1282.6" y1="899.0" x2="1322.6" y2="899.0" stroke="#222" stroke-width="1.4"/>
<line x1="1355.6" y1="829.1" x2="1355.6" y2="877.8" stroke="#222" stroke-width="1.35"/>
<line x1="1355.6" y1="918.3" x2="1355.6" y2="948.8" stroke="#222" stroke-width="1.35"/>
<rect x="1335.6" y="877.8" width="40.0" height="40.5" fill="#6D65A6" stroke="#222" stroke-width="1.4"/>
<line x1="1335.6" y1="902.5" x2="1375.6" y2="902.5" stroke="#222" stroke-width="1.4"/>
<line x1="1408.9" y1="875.7" x2="1408.9" y2="880.7" stroke="#222" stroke-width="1.35"/>
<line x1="1408.9" y1="897.6" x2="1408.9" y2="910.4" stroke="#222" stroke-width="1.35"/>
<rect x="1388.9" y="880.7" width="40.0" height="16.9" fill="#A38FD9" stroke="#222" stroke-width="1.4"/>
<line x1="1388.9" y1="896.7" x2="1428.9" y2="896.7" stroke="#222" stroke-width="1.4"/>
<line x1="1462.2" y1="851.6" x2="1462.2" y2="859.1" stroke="#222" stroke-width="1.35"/>
<line x1="1462.2" y1="867.6" x2="1462.2" y2="872.5" stroke="#222" stroke-width="1.35"/>
<rect x="1442.2" y="859.1" width="40.0" height="8.4" fill="#CBCBF3" stroke="#222" stroke-width="1.4"/>
<line x1="1442.2" y1="864.4" x2="1482.2" y2="864.4" stroke="#222" stroke-width="1.4"/>
<circle cx="1200.4" cy="918.8" r="2.25" fill="rgba(255,255,255,0.15)" stroke="#111" stroke-width="1.25"/>
<circle cx="1193.7" cy="932.2" r="2.25" fill="rgba(255,255,255,0.15)" stroke="#111" stroke-width="1.25"/>
<circle cx="1191.1" cy="939.5" r="2.25" fill="rgba(255,255,255,0.15)" stroke="#111" stroke-width="1.25"/>
<circle cx="1246.4" cy="825.3" r="2.25" fill="rgba(255,255,255,0.15)" stroke="#111" stroke-width="1.25"/>
<circle cx="1248.7" cy="827.4" r="2.25" fill="rgba(255,255,255,0.15)" stroke="#111" stroke-width="1.25"/>
<circle cx="1252.5" cy="829.1" r="2.25" fill="rgba(255,255,255,0.15)" stroke="#111" stroke-width="1.25"/>
<circle cx="1249.3" cy="848.9" r="2.25" fill="rgba(255,255,255,0.15)" stroke="#111" stroke-width="1.25"/>
<circle cx="1247.6" cy="852.7" r="2.25" fill="rgba(255,255,255,0.15)" stroke="#111" stroke-width="1.25"/>
<circle cx="1253.1" cy="877.8" r="2.25" fill="rgba(255,255,255,0.15)" stroke="#111" stroke-width="1.25"/>
<circle cx="1250.5" cy="880.1" r="2.25" fill="rgba(255,255,255,0.15)" stroke="#111" stroke-width="1.25"/>
<circle cx="1252.5" cy="892.9" r="2.25" fill="rgba(255,255,255,0.15)" stroke="#111" stroke-width="1.25"/>
<circle cx="1254.0" cy="912.4" r="2.25" fill="rgba(255,255,255,0.15)" stroke="#111" stroke-width="1.25"/>
<circle cx="1252.2" cy="927.0" r="2.25" fill="rgba(255,255,255,0.15)" stroke="#111" stroke-width="1.25"/>
<circle cx="1304.7" cy="878.9" r="2.25" fill="rgba(255,255,255,0.15)" stroke="#111" stroke-width="1.25"/>
<circle cx="1303.5" cy="899.3" r="2.25" fill="rgba(255,255,255,0.15)" stroke="#111" stroke-width="1.25"/>
<circle cx="1305.8" cy="913.0" r="2.25" fill="rgba(255,255,255,0.15)" stroke="#111" stroke-width="1.25"/>
<circle cx="1359.4" cy="829.1" r="2.25" fill="rgba(255,255,255,0.15)" stroke="#111" stroke-width="1.25"/>
<circle cx="1350.4" cy="867.6" r="2.25" fill="rgba(255,255,255,0.15)" stroke="#111" stroke-width="1.25"/>
<circle cx="1360.0" cy="870.5" r="2.25" fill="rgba(255,255,255,0.15)" stroke="#111" stroke-width="1.25"/>
<circle cx="1360.6" cy="885.0" r="2.25" fill="rgba(255,255,255,0.15)" stroke="#111" stroke-width="1.25"/>
<circle cx="1354.2" cy="895.0" r="2.25" fill="rgba(255,255,255,0.15)" stroke="#111" stroke-width="1.25"/>
<circle cx="1353.6" cy="902.5" r="2.25" fill="rgba(255,255,255,0.15)" stroke="#111" stroke-width="1.25"/>
<circle cx="1350.4" cy="910.7" r="2.25" fill="rgba(255,255,255,0.15)" stroke="#111" stroke-width="1.25"/>
<circle cx="1352.4" cy="915.1" r="2.25" fill="rgba(255,255,255,0.15)" stroke="#111" stroke-width="1.25"/>
<circle cx="1351.8" cy="921.2" r="2.25" fill="rgba(255,255,255,0.15)" stroke="#111" stroke-width="1.25"/>
<circle cx="1357.7" cy="932.2" r="2.25" fill="rgba(255,255,255,0.15)" stroke="#111" stroke-width="1.25"/>
<circle cx="1357.4" cy="948.8" r="2.25" fill="rgba(255,255,255,0.15)" stroke="#111" stroke-width="1.25"/>
<circle cx="1413.6" cy="830.0" r="2.25" fill="rgba(255,255,255,0.15)" stroke="#111" stroke-width="1.25"/>
<circle cx="1403.7" cy="875.7" r="2.25" fill="rgba(255,255,255,0.15)" stroke="#111" stroke-width="1.25"/>
<circle cx="1413.0" cy="894.4" r="2.25" fill="rgba(255,255,255,0.15)" stroke="#111" stroke-width="1.25"/>
<circle cx="1405.1" cy="897.9" r="2.25" fill="rgba(255,255,255,0.15)" stroke="#111" stroke-width="1.25"/>
<circle cx="1411.3" cy="910.4" r="2.25" fill="rgba(255,255,255,0.15)" stroke="#111" stroke-width="1.25"/>
<circle cx="1458.2" cy="851.6" r="2.25" fill="rgba(255,255,255,0.15)" stroke="#111" stroke-width="1.25"/>
<circle cx="1460.8" cy="861.7" r="2.25" fill="rgba(255,255,255,0.15)" stroke="#111" stroke-width="1.25"/>
<circle cx="1463.7" cy="865.8" r="2.25" fill="rgba(255,255,255,0.15)" stroke="#111" stroke-width="1.25"/>
<circle cx="1462.2" cy="872.5" r="2.25" fill="rgba(255,255,255,0.15)" stroke="#111" stroke-width="1.25"/>
<rect x="1164.0" y="768.5" width="330.6" height="197.5" fill="none" stroke="#333" stroke-width="1.6"/>
<line x1="1196.0" y1="786.6" x2="1249.9" y2="786.6" stroke="#000" stroke-width="1.25"/>
<text x="1224.0" y="789.7" font-size="24" text-anchor="middle" fill="#000" stroke="#000" stroke-width="0.3">*</text>
<line x1="1196.0" y1="801.7" x2="1463.1" y2="801.7" stroke="#000" stroke-width="1.25"/>
<text x="1332.3" y="803.7" font-size="24" text-anchor="middle" fill="#000" stroke="#000" stroke-width="0.3">*</text>
<line x1="1355.6" y1="818.6" x2="1463.1" y2="818.6" stroke="#000" stroke-width="1.25"/>
<text x="1409.5" y="821.2" font-size="24" text-anchor="middle" fill="#000" stroke="#000" stroke-width="0.3">*</text>
<line x1="1160.4" y1="772.9" x2="1164.0" y2="772.9" stroke="#333" stroke-width="1.3"/>
<text x="1157.0" y="778.5" font-size="18.5" text-anchor="end" fill="#4D4D4D" stroke="#4D4D4D" stroke-width="0.3">0.4</text>
<line x1="1160.4" y1="818.6" x2="1164.0" y2="818.6" stroke="#333" stroke-width="1.3"/>
<text x="1157.0" y="824.2" font-size="18.5" text-anchor="end" fill="#4D4D4D" stroke="#4D4D4D" stroke-width="0.3">0.3</text>
<line x1="1160.4" y1="864.7" x2="1164.0" y2="864.7" stroke="#333" stroke-width="1.3"/>
<text x="1157.0" y="870.3" font-size="18.5" text-anchor="end" fill="#4D4D4D" stroke="#4D4D4D" stroke-width="0.3">0.2</text>
<line x1="1160.4" y1="910.7" x2="1164.0" y2="910.7" stroke="#333" stroke-width="1.3"/>
<text x="1157.0" y="916.3" font-size="18.5" text-anchor="end" fill="#4D4D4D" stroke="#4D4D4D" stroke-width="0.3">0.1</text>
<line x1="1160.4" y1="956.4" x2="1164.0" y2="956.4" stroke="#333" stroke-width="1.3"/>
<text x="1157.0" y="962.0" font-size="18.5" text-anchor="end" fill="#4D4D4D" stroke="#4D4D4D" stroke-width="0.3">0.0</text>
<line x1="1196.0" y1="966.0" x2="1196.0" y2="969.6" stroke="#333" stroke-width="1.3"/>
<text x="1202.5" y="985.6" font-size="18.5" text-anchor="end" fill="#000" stroke="#000" stroke-width="0.3" transform="rotate(-30 1202.5 985.6)">HC</text>
<line x1="1249.3" y1="966.0" x2="1249.3" y2="969.6" stroke="#333" stroke-width="1.3"/>
<text x="1252.8" y="985.6" font-size="18.5" text-anchor="end" fill="#000" stroke="#000" stroke-width="0.3" transform="rotate(-30 1252.8 985.6)">Asymptomatic</text>
<line x1="1302.6" y1="966.0" x2="1302.6" y2="969.6" stroke="#333" stroke-width="1.3"/>
<text x="1309.1" y="985.6" font-size="18.5" text-anchor="end" fill="#000" stroke="#000" stroke-width="0.3" transform="rotate(-30 1309.1 985.6)">Severe</text>
<line x1="1355.6" y1="966.0" x2="1355.6" y2="969.6" stroke="#333" stroke-width="1.3"/>
<text x="1362.9" y="985.6" font-size="18.5" text-anchor="end" fill="#000" stroke="#000" stroke-width="0.3" transform="rotate(-30 1362.9 985.6)">&lt;10</text>
<line x1="1408.9" y1="966.0" x2="1408.9" y2="969.6" stroke="#333" stroke-width="1.3"/>
<text x="1413.9" y="985.6" font-size="18.5" text-anchor="end" fill="#000" stroke="#000" stroke-width="0.3" transform="rotate(-30 1413.9 985.6)">10&#8211;20</text>
<line x1="1462.2" y1="966.0" x2="1462.2" y2="969.6" stroke="#333" stroke-width="1.3"/>
<text x="1470.1" y="985.6" font-size="18.5" text-anchor="end" fill="#000" stroke="#000" stroke-width="0.3" transform="rotate(-30 1470.1 985.6)">&gt;20</text>
<line x1="1332.3" y1="1013.8" x2="1464.0" y2="1013.8" stroke="#000" stroke-width="1.4"/>
<text x="1398.2" y="1033.8" font-size="18.5" text-anchor="middle" fill="#000" stroke="#000" stroke-width="0.3">Moderate</text>
<text x="1320.1" y="756.9" font-size="18.5" text-anchor="middle" fill="#000" stroke="#000" stroke-width="0.3">IGHD</text>
<text x="1115.2" y="865.2" font-size="18.5" text-anchor="middle" fill="#000" stroke="#000" stroke-width="0.3" transform="rotate(-90 1115.2 865.2)">Proportion</text>
<line x1="1620.4" y1="888.8" x2="1620.4" y2="894.9" stroke="#222" stroke-width="1.35"/>
<line x1="1620.4" y1="904.6" x2="1620.4" y2="906.9" stroke="#222" stroke-width="1.35"/>
<rect x="1600.4" y="894.9" width="40.0" height="9.6" fill="#47A27F" stroke="#222" stroke-width="1.4"/>
<line x1="1600.4" y1="901.1" x2="1640.4" y2="901.1" stroke="#222" stroke-width="1.4"/>
<line x1="1674.0" y1="887.1" x2="1674.0" y2="900.2" stroke="#222" stroke-width="1.35"/>
<line x1="1674.0" y1="930.8" x2="1674.0" y2="940.7" stroke="#222" stroke-width="1.35"/>
<rect x="1654.0" y="900.2" width="40.0" height="30.6" fill="#D15C16" stroke="#222" stroke-width="1.4"/>
<line x1="1654.0" y1="907.5" x2="1694.0" y2="907.5" stroke="#222" stroke-width="1.4"/>
<line x1="1727.0" y1="899.9" x2="1727.0" y2="903.4" stroke="#222" stroke-width="1.35"/>
<line x1="1727.0" y1="927.3" x2="1727.0" y2="947.7" stroke="#222" stroke-width="1.35"/>
<rect x="1707.0" y="903.4" width="40.0" height="23.9" fill="#D5398A" stroke="#222" stroke-width="1.4"/>
<line x1="1707.0" y1="906.9" x2="1747.0" y2="906.9" stroke="#222" stroke-width="1.4"/>
<line x1="1780.6" y1="794.5" x2="1780.6" y2="847.5" stroke="#222" stroke-width="1.35"/>
<line x1="1780.6" y1="890.9" x2="1780.6" y2="938.9" stroke="#222" stroke-width="1.35"/>
<rect x="1760.6" y="847.5" width="40.0" height="43.4" fill="#6D65A6" stroke="#222" stroke-width="1.4"/>
<line x1="1760.6" y1="868.2" x2="1800.6" y2="868.2" stroke="#222" stroke-width="1.4"/>
<line x1="1833.6" y1="850.4" x2="1833.6" y2="872.5" stroke="#222" stroke-width="1.35"/>
<line x1="1833.6" y1="904.6" x2="1833.6" y2="923.2" stroke="#222" stroke-width="1.35"/>
<rect x="1813.6" y="872.5" width="40.0" height="32.0" fill="#A38FD9" stroke="#222" stroke-width="1.4"/>
<line x1="1813.6" y1="883.9" x2="1853.6" y2="883.9" stroke="#222" stroke-width="1.4"/>
<line x1="1887.2" y1="905.4" x2="1887.2" y2="911.3" stroke="#222" stroke-width="1.35"/>
<line x1="1887.2" y1="919.7" x2="1887.2" y2="925.8" stroke="#222" stroke-width="1.35"/>
<rect x="1867.2" y="911.3" width="40.0" height="8.4" fill="#CBCBF3" stroke="#222" stroke-width="1.4"/>
<line x1="1867.2" y1="915.6" x2="1907.2" y2="915.6" stroke="#222" stroke-width="1.4"/>
<circle cx="1615.4" cy="888.8" r="2.25" fill="rgba(255,255,255,0.15)" stroke="#111" stroke-width="1.25"/>
<circle cx="1625.6" cy="901.4" r="2.25" fill="rgba(255,255,255,0.15)" stroke="#111" stroke-width="1.25"/>
<circle cx="1619.2" cy="906.9" r="2.25" fill="rgba(255,255,255,0.15)" stroke="#111" stroke-width="1.25"/>
<circle cx="1674.9" cy="887.1" r="2.25" fill="rgba(255,255,255,0.15)" stroke="#111" stroke-width="1.25"/>
<circle cx="1676.3" cy="890.9" r="2.25" fill="rgba(255,255,255,0.15)" stroke="#111" stroke-width="1.25"/>
<circle cx="1669.0" cy="898.7" r="2.25" fill="rgba(255,255,255,0.15)" stroke="#111" stroke-width="1.25"/>
<circle cx="1678.3" cy="905.1" r="2.25" fill="rgba(255,255,255,0.15)" stroke="#111" stroke-width="1.25"/>
<circle cx="1672.8" cy="909.2" r="2.25" fill="rgba(255,255,255,0.15)" stroke="#111" stroke-width="1.25"/>
<circle cx="1676.9" cy="918.8" r="2.25" fill="rgba(255,255,255,0.15)" stroke="#111" stroke-width="1.25"/>
<circle cx="1678.6" cy="934.3" r="2.25" fill="rgba(255,255,255,0.15)" stroke="#111" stroke-width="1.25"/>
<circle cx="1676.6" cy="937.5" r="2.25" fill="rgba(255,255,255,0.15)" stroke="#111" stroke-width="1.25"/>
<circle cx="1678.3" cy="940.7" r="2.25" fill="rgba(255,255,255,0.15)" stroke="#111" stroke-width="1.25"/>
<circle cx="1729.0" cy="899.9" r="2.25" fill="rgba(255,255,255,0.15)" stroke="#111" stroke-width="1.25"/>
<circle cx="1729.0" cy="907.2" r="2.25" fill="rgba(255,255,255,0.15)" stroke="#111" stroke-width="1.25"/>
<circle cx="1731.4" cy="947.7" r="2.25" fill="rgba(255,255,255,0.15)" stroke="#111" stroke-width="1.25"/>
<circle cx="1775.0" cy="794.5" r="2.25" fill="rgba(255,255,255,0.15)" stroke="#111" stroke-width="1.25"/>
<circle cx="1777.7" cy="798.5" r="2.25" fill="rgba(255,255,255,0.15)" stroke="#111" stroke-width="1.25"/>
<circle cx="1781.2" cy="837.3" r="2.25" fill="rgba(255,255,255,0.15)" stroke="#111" stroke-width="1.25"/>
<circle cx="1781.2" cy="858.3" r="2.25" fill="rgba(255,255,255,0.15)" stroke="#111" stroke-width="1.25"/>
<circle cx="1782.6" cy="860.3" r="2.25" fill="rgba(255,255,255,0.15)" stroke="#111" stroke-width="1.25"/>
<circle cx="1775.9" cy="868.2" r="2.25" fill="rgba(255,255,255,0.15)" stroke="#111" stroke-width="1.25"/>
<circle cx="1785.2" cy="879.8" r="2.25" fill="rgba(255,255,255,0.15)" stroke="#111" stroke-width="1.25"/>
<circle cx="1775.3" cy="889.1" r="2.25" fill="rgba(255,255,255,0.15)" stroke="#111" stroke-width="1.25"/>
<circle cx="1778.5" cy="892.9" r="2.25" fill="rgba(255,255,255,0.15)" stroke="#111" stroke-width="1.25"/>
<circle cx="1784.9" cy="919.4" r="2.25" fill="rgba(255,255,255,0.15)" stroke="#111" stroke-width="1.25"/>
<circle cx="1775.3" cy="938.9" r="2.25" fill="rgba(255,255,255,0.15)" stroke="#111" stroke-width="1.25"/>
<circle cx="1836.5" cy="850.4" r="2.25" fill="rgba(255,255,255,0.15)" stroke="#111" stroke-width="1.25"/>
<circle cx="1829.2" cy="869.9" r="2.25" fill="rgba(255,255,255,0.15)" stroke="#111" stroke-width="1.25"/>
<circle cx="1832.4" cy="880.1" r="2.25" fill="rgba(255,255,255,0.15)" stroke="#111" stroke-width="1.25"/>
<circle cx="1832.1" cy="888.0" r="2.25" fill="rgba(255,255,255,0.15)" stroke="#111" stroke-width="1.25"/>
<circle cx="1838.2" cy="909.8" r="2.25" fill="rgba(255,255,255,0.15)" stroke="#111" stroke-width="1.25"/>
<circle cx="1835.9" cy="923.2" r="2.25" fill="rgba(255,255,255,0.15)" stroke="#111" stroke-width="1.25"/>
<circle cx="1889.8" cy="905.4" r="2.25" fill="rgba(255,255,255,0.15)" stroke="#111" stroke-width="1.25"/>
<circle cx="1886.3" cy="914.2" r="2.25" fill="rgba(255,255,255,0.15)" stroke="#111" stroke-width="1.25"/>
<circle cx="1887.2" cy="917.4" r="2.25" fill="rgba(255,255,255,0.15)" stroke="#111" stroke-width="1.25"/>
<circle cx="1883.7" cy="925.8" r="2.25" fill="rgba(255,255,255,0.15)" stroke="#111" stroke-width="1.25"/>
<rect x="1588.6" y="768.5" width="330.9" height="197.5" fill="none" stroke="#333" stroke-width="1.6"/>
<line x1="1674.0" y1="786.0" x2="1781.5" y2="786.0" stroke="#000" stroke-width="1.25"/>
<text x="1727.9" y="788.6" font-size="24" text-anchor="middle" fill="#000" stroke="#000" stroke-width="0.3">*</text>
<line x1="1585.0" y1="777.3" x2="1588.6" y2="777.3" stroke="#333" stroke-width="1.3"/>
<text x="1581.6" y="782.9" font-size="18.5" text-anchor="end" fill="#4D4D4D" stroke="#4D4D4D" stroke-width="0.3">0.3</text>
<line x1="1585.0" y1="837.3" x2="1588.6" y2="837.3" stroke="#333" stroke-width="1.3"/>
<text x="1581.6" y="842.9" font-size="18.5" text-anchor="end" fill="#4D4D4D" stroke="#4D4D4D" stroke-width="0.3">0.2</text>
<line x1="1585.0" y1="897.0" x2="1588.6" y2="897.0" stroke="#333" stroke-width="1.3"/>
<text x="1581.6" y="902.6" font-size="18.5" text-anchor="end" fill="#4D4D4D" stroke="#4D4D4D" stroke-width="0.3">0.1</text>
<line x1="1585.0" y1="956.7" x2="1588.6" y2="956.7" stroke="#333" stroke-width="1.3"/>
<text x="1581.6" y="962.3" font-size="18.5" text-anchor="end" fill="#4D4D4D" stroke="#4D4D4D" stroke-width="0.3">0.0</text>
<line x1="1620.4" y1="966.0" x2="1620.4" y2="969.6" stroke="#333" stroke-width="1.3"/>
<text x="1626.2" y="985.7" font-size="18.5" text-anchor="end" fill="#000" stroke="#000" stroke-width="0.3" transform="rotate(-30 1626.2 985.7)">HC</text>
<line x1="1674.0" y1="966.0" x2="1674.0" y2="969.6" stroke="#333" stroke-width="1.3"/>
<text x="1676.8" y="985.7" font-size="18.5" text-anchor="end" fill="#000" stroke="#000" stroke-width="0.3" transform="rotate(-30 1676.8 985.7)">Asymptomatic</text>
<line x1="1727.0" y1="966.0" x2="1727.0" y2="969.6" stroke="#333" stroke-width="1.3"/>
<text x="1732.8" y="985.7" font-size="18.5" text-anchor="end" fill="#000" stroke="#000" stroke-width="0.3" transform="rotate(-30 1732.8 985.7)">Severe</text>
<line x1="1780.6" y1="966.0" x2="1780.6" y2="969.6" stroke="#333" stroke-width="1.3"/>
<text x="1787.2" y="985.7" font-size="18.5" text-anchor="end" fill="#000" stroke="#000" stroke-width="0.3" transform="rotate(-30 1787.2 985.7)">&lt;10</text>
<line x1="1833.6" y1="966.0" x2="1833.6" y2="969.6" stroke="#333" stroke-width="1.3"/>
<text x="1837.9" y="985.7" font-size="18.5" text-anchor="end" fill="#000" stroke="#000" stroke-width="0.3" transform="rotate(-30 1837.9 985.7)">10&#8211;20</text>
<line x1="1887.2" y1="966.0" x2="1887.2" y2="969.6" stroke="#333" stroke-width="1.3"/>
<text x="1894.4" y="985.7" font-size="18.5" text-anchor="end" fill="#000" stroke="#000" stroke-width="0.3" transform="rotate(-30 1894.4 985.7)">&gt;20</text>
<line x1="1760.5" y1="1013.8" x2="1891.5" y2="1013.8" stroke="#000" stroke-width="1.4"/>
<text x="1826.0" y="1033.8" font-size="18.5" text-anchor="middle" fill="#000" stroke="#000" stroke-width="0.3">Moderate</text>
<text x="1745.3" y="756.9" font-size="18.5" text-anchor="middle" fill="#000" stroke="#000" stroke-width="0.3">IGHA</text>
<text x="1096.7" y="459.1" font-size="27" text-anchor="start" fill="#000" font-weight="bold">e</text>
<text x="126.1" y="716.6" font-size="18.5" text-anchor="middle" fill="#000" stroke="#000" stroke-width="0.3">CD69</text>
<path d="M72.10,834.60 C71.87,834.46 71.22,834.12 70.70,833.74 C70.18,833.35 69.67,832.78 69.00,832.30 C68.33,831.82 67.48,831.36 66.70,830.86 C65.92,830.37 65.03,829.82 64.30,829.33 C63.57,828.83 62.78,828.37 62.30,827.89 C61.82,827.41 61.62,826.93 61.40,826.45 C61.18,825.97 61.13,825.79 61.00,825.01 C60.87,824.23 60.50,823.19 60.60,821.76 C60.70,820.33 61.28,818.48 61.60,816.41 C61.92,814.34 62.55,811.67 62.50,809.35 C62.45,807.03 61.63,804.53 61.30,802.50 C60.97,800.47 60.66,800.72 60.50,797.15 C60.34,793.58 60.42,787.38 60.35,781.10 C60.28,774.82 60.14,763.09 60.10,759.49 C60.06,763.09 59.92,774.82 59.85,781.10 C59.78,787.38 59.86,793.58 59.70,797.15 C59.54,800.72 59.23,800.47 58.90,802.50 C58.57,804.53 57.75,807.03 57.70,809.35 C57.65,811.67 58.28,814.34 58.60,816.41 C58.92,818.48 59.50,820.33 59.60,821.76 C59.70,823.19 59.33,824.23 59.20,825.01 C59.07,825.79 59.02,825.97 58.80,826.45 C58.58,826.93 58.38,827.41 57.90,827.89 C57.42,828.37 56.63,828.83 55.90,829.33 C55.17,829.82 54.28,830.37 53.50,830.86 C52.72,831.36 51.87,831.82 51.20,832.30 C50.53,832.78 50.02,833.35 49.50,833.74 C48.98,834.12 48.33,834.46 48.10,834.60 Z" fill="#47A27F" stroke="#000" stroke-width="1.35" stroke-linejoin="round"/>
<path d="M98.20,834.60 C97.97,834.46 97.32,834.12 96.80,833.74 C96.28,833.35 95.77,832.78 95.10,832.30 C94.43,831.82 93.58,831.36 92.80,830.86 C92.02,830.37 91.13,829.82 90.40,829.33 C89.67,828.83 88.88,828.37 88.40,827.89 C87.92,827.41 87.72,826.93 87.50,826.45 C87.28,825.97 87.22,825.79 87.10,825.01 C86.98,824.23 86.53,823.02 86.80,821.76 C87.07,820.50 88.05,818.91 88.70,817.48 C89.35,816.05 90.02,816.05 90.70,813.20 C91.38,810.35 92.40,803.93 92.80,800.36 C93.20,796.79 93.27,795.37 93.10,791.80 C92.93,788.23 92.45,783.24 91.80,778.96 C91.15,774.68 90.00,769.69 89.20,766.12 C88.40,762.55 87.45,759.70 87.00,757.56 C86.55,755.42 86.63,756.20 86.50,753.28 C86.37,750.36 86.25,742.22 86.20,740.01 C86.15,742.22 86.03,750.36 85.90,753.28 C85.77,756.20 85.85,755.42 85.40,757.56 C84.95,759.70 84.00,762.55 83.20,766.12 C82.40,769.69 81.25,774.68 80.60,778.96 C79.95,783.24 79.47,788.23 79.30,791.80 C79.13,795.37 79.20,796.79 79.60,800.36 C80.00,803.93 81.02,810.35 81.70,813.20 C82.38,816.05 83.05,816.05 83.70,817.48 C84.35,818.91 85.33,820.50 85.60,821.76 C85.87,823.02 85.42,824.23 85.30,825.01 C85.18,825.79 85.12,825.97 84.90,826.45 C84.68,826.93 84.48,827.41 84.00,827.89 C83.52,828.37 82.73,828.83 82.00,829.33 C81.27,829.82 80.38,830.37 79.60,830.86 C78.82,831.36 77.97,831.82 77.30,832.30 C76.63,832.78 76.12,833.35 75.60,833.74 C75.08,834.12 74.43,834.46 74.20,834.60 Z" fill="#D15C16" stroke="#000" stroke-width="1.35" stroke-linejoin="round"/>
<path d="M124.50,834.60 C124.28,834.42 123.92,834.06 123.20,833.53 C122.48,833.00 121.17,832.28 120.20,831.39 C119.23,830.50 118.12,829.43 117.40,828.18 C116.68,826.93 116.25,825.68 115.90,823.90 C115.55,822.12 115.30,819.62 115.30,817.48 C115.30,815.34 115.43,814.27 115.90,811.06 C116.37,807.85 117.63,802.14 118.10,798.22 C118.57,794.30 118.78,791.09 118.70,787.52 C118.62,783.95 118.08,780.74 117.60,776.82 C117.12,772.90 116.50,767.90 115.80,763.98 C115.10,760.06 113.97,756.03 113.40,753.28 C112.83,750.53 112.57,748.47 112.40,747.50 C112.23,748.47 111.97,750.53 111.40,753.28 C110.83,756.03 109.70,760.06 109.00,763.98 C108.30,767.90 107.68,772.90 107.20,776.82 C106.72,780.74 106.18,783.95 106.10,787.52 C106.02,791.09 106.23,794.30 106.70,798.22 C107.17,802.14 108.43,807.85 108.90,811.06 C109.37,814.27 109.50,815.34 109.50,817.48 C109.50,819.62 109.25,822.12 108.90,823.90 C108.55,825.68 108.12,826.93 107.40,828.18 C106.68,829.43 105.57,830.50 104.60,831.39 C103.63,832.28 102.32,833.00 101.60,833.53 C100.88,834.06 100.52,834.42 100.30,834.60 Z" fill="#D5398A" stroke="#000" stroke-width="1.35" stroke-linejoin="round"/>
<path d="M150.40,834.60 C150.17,834.40 149.52,833.94 149.00,833.41 C148.48,832.89 147.97,832.10 147.30,831.44 C146.63,830.78 145.78,830.14 145.00,829.46 C144.22,828.78 143.33,828.03 142.60,827.35 C141.87,826.67 141.08,826.03 140.60,825.37 C140.12,824.71 139.92,824.05 139.70,823.39 C139.48,822.74 139.42,822.23 139.30,821.42 C139.18,820.61 138.73,820.28 139.00,818.55 C139.27,816.82 140.20,814.45 140.90,811.06 C141.60,807.67 142.95,802.14 143.20,798.22 C143.45,794.30 142.82,791.09 142.40,787.52 C141.98,783.95 141.22,780.39 140.70,776.82 C140.18,773.25 139.63,769.33 139.30,766.12 C138.97,762.91 138.85,760.48 138.70,757.56 C138.55,754.64 138.45,750.07 138.40,748.57 C138.35,750.07 138.25,754.64 138.10,757.56 C137.95,760.48 137.83,762.91 137.50,766.12 C137.17,769.33 136.62,773.25 136.10,776.82 C135.58,780.39 134.82,783.95 134.40,787.52 C133.98,791.09 133.35,794.30 133.60,798.22 C133.85,802.14 135.20,807.67 135.90,811.06 C136.60,814.45 137.53,816.82 137.80,818.55 C138.07,820.28 137.62,820.61 137.50,821.42 C137.38,822.23 137.32,822.74 137.10,823.39 C136.88,824.05 136.68,824.71 136.20,825.37 C135.72,826.03 134.93,826.67 134.20,827.35 C133.47,828.03 132.58,828.78 131.80,829.46 C131.02,830.14 130.17,830.78 129.50,831.44 C128.83,832.10 128.32,832.89 127.80,833.41 C127.28,833.94 126.63,834.40 126.40,834.60 Z" fill="#6D65A6" stroke="#000" stroke-width="1.35" stroke-linejoin="round"/>
<path d="M176.60,834.60 C176.37,834.40 175.72,833.94 175.20,833.41 C174.68,832.89 174.17,832.10 173.50,831.44 C172.83,830.78 171.98,830.14 171.20,829.46 C170.42,828.78 169.53,828.03 168.80,827.35 C168.07,826.67 167.28,826.03 166.80,825.37 C166.32,824.71 166.12,824.05 165.90,823.39 C165.68,822.74 165.62,822.05 165.50,821.42 C165.38,820.79 164.87,821.35 165.20,819.62 C165.53,817.89 166.80,814.81 167.50,811.06 C168.20,807.32 169.17,801.07 169.40,797.15 C169.63,793.23 169.22,791.09 168.90,787.52 C168.58,783.95 168.07,778.96 167.50,775.75 C166.93,772.54 165.93,770.93 165.50,768.26 C165.07,765.59 165.05,763.84 164.90,759.70 C164.75,755.56 164.65,746.15 164.60,743.44 C164.55,746.15 164.45,755.56 164.30,759.70 C164.15,763.84 164.13,765.59 163.70,768.26 C163.27,770.93 162.27,772.54 161.70,775.75 C161.13,778.96 160.62,783.95 160.30,787.52 C159.98,791.09 159.57,793.23 159.80,797.15 C160.03,801.07 161.00,807.32 161.70,811.06 C162.40,814.81 163.67,817.89 164.00,819.62 C164.33,821.35 163.82,820.79 163.70,821.42 C163.58,822.05 163.52,822.74 163.30,823.39 C163.08,824.05 162.88,824.71 162.40,825.37 C161.92,826.03 161.13,826.67 160.40,827.35 C159.67,828.03 158.78,828.78 158.00,829.46 C157.22,830.14 156.37,830.78 155.70,831.44 C155.03,832.10 154.52,832.89 154.00,833.41 C153.48,833.94 152.83,834.40 152.60,834.60 Z" fill="#A38FD9" stroke="#000" stroke-width="1.35" stroke-linejoin="round"/>
<path d="M202.80,834.60 C202.57,834.49 201.92,834.24 201.40,833.95 C200.88,833.67 200.37,833.23 199.70,832.87 C199.03,832.51 198.18,832.17 197.40,831.80 C196.62,831.42 195.73,831.02 195.00,830.65 C194.27,830.27 193.48,829.93 193.00,829.57 C192.52,829.21 192.32,828.85 192.10,828.49 C191.88,828.13 191.82,828.53 191.70,827.41 C191.58,826.29 191.45,823.59 191.40,821.76 C191.35,819.93 191.20,818.19 191.40,816.41 C191.60,814.63 192.13,813.56 192.60,811.06 C193.07,808.56 194.12,804.64 194.20,801.43 C194.28,798.22 193.52,795.37 193.10,791.80 C192.68,788.23 192.03,783.60 191.70,780.03 C191.37,776.46 191.25,775.25 191.10,770.40 C190.95,765.55 190.85,754.17 190.80,750.93 C190.75,754.17 190.65,765.55 190.50,770.40 C190.35,775.25 190.23,776.46 189.90,780.03 C189.57,783.60 188.92,788.23 188.50,791.80 C188.08,795.37 187.32,798.22 187.40,801.43 C187.48,804.64 188.53,808.56 189.00,811.06 C189.47,813.56 190.00,814.63 190.20,816.41 C190.40,818.19 190.25,819.93 190.20,821.76 C190.15,823.59 190.02,826.29 189.90,827.41 C189.78,828.53 189.72,828.13 189.50,828.49 C189.28,828.85 189.08,829.21 188.60,829.57 C188.12,829.93 187.33,830.27 186.60,830.65 C185.87,831.02 184.98,831.42 184.20,831.80 C183.42,832.17 182.57,832.51 181.90,832.87 C181.23,833.23 180.72,833.67 180.20,833.95 C179.68,834.24 179.03,834.49 178.80,834.60 Z" fill="#CBCBF3" stroke="#000" stroke-width="1.35" stroke-linejoin="round"/>
<line x1="44.4" y1="734.5" x2="44.4" y2="839.8" stroke="#000" stroke-width="1.5"/>
<line x1="43.7" y1="839.1" x2="206.7" y2="839.1" stroke="#000" stroke-width="1.5"/>
<line x1="60.1" y1="839.1" x2="60.1" y2="844.3" stroke="#000" stroke-width="1.4"/>
<line x1="86.2" y1="839.1" x2="86.2" y2="844.3" stroke="#000" stroke-width="1.4"/>
<line x1="112.4" y1="839.1" x2="112.4" y2="844.3" stroke="#000" stroke-width="1.4"/>
<line x1="138.4" y1="839.1" x2="138.4" y2="844.3" stroke="#000" stroke-width="1.4"/>
<line x1="164.6" y1="839.1" x2="164.6" y2="844.3" stroke="#000" stroke-width="1.4"/>
<line x1="190.8" y1="839.1" x2="190.8" y2="844.3" stroke="#000" stroke-width="1.4"/>
<line x1="39.4" y1="834.6" x2="44.4" y2="834.6" stroke="#000" stroke-width="1.4"/>
<text x="36.8" y="841.1" font-size="18.5" text-anchor="end" fill="#000" stroke="#000" stroke-width="0.3">0</text>
<line x1="39.4" y1="813.2" x2="44.4" y2="813.2" stroke="#000" stroke-width="1.4"/>
<text x="36.8" y="819.7" font-size="18.5" text-anchor="end" fill="#000" stroke="#000" stroke-width="0.3">1</text>
<line x1="39.4" y1="791.8" x2="44.4" y2="791.8" stroke="#000" stroke-width="1.4"/>
<text x="36.8" y="798.3" font-size="18.5" text-anchor="end" fill="#000" stroke="#000" stroke-width="0.3">2</text>
<line x1="39.4" y1="770.4" x2="44.4" y2="770.4" stroke="#000" stroke-width="1.4"/>
<text x="36.8" y="776.9" font-size="18.5" text-anchor="end" fill="#000" stroke="#000" stroke-width="0.3">3</text>
<line x1="39.4" y1="749.0" x2="44.4" y2="749.0" stroke="#000" stroke-width="1.4"/>
<text x="36.8" y="755.5" font-size="18.5" text-anchor="end" fill="#000" stroke="#000" stroke-width="0.3">4</text>
<text x="344.7" y="716.6" font-size="18.5" text-anchor="middle" fill="#000" stroke="#000" stroke-width="0.3">IFITM1</text>
<path d="M286.80,834.60 C286.57,834.46 285.92,834.14 285.40,833.78 C284.88,833.41 284.37,832.86 283.70,832.41 C283.03,831.95 282.18,831.51 281.40,831.04 C280.62,830.56 279.73,830.05 279.00,829.57 C278.27,829.10 277.48,828.66 277.00,828.20 C276.52,827.75 276.32,827.29 276.10,826.83 C275.88,826.37 275.82,826.27 275.70,825.46 C275.58,824.65 275.17,823.49 275.40,821.95 C275.63,820.42 276.53,818.14 277.10,816.24 C277.67,814.34 278.75,812.57 278.80,810.53 C278.85,808.49 277.97,806.45 277.40,804.00 C276.83,801.55 275.78,799.24 275.40,795.84 C275.02,792.44 275.20,790.26 275.10,783.60 C275.00,776.94 274.85,760.48 274.80,755.86 C274.75,760.48 274.60,776.94 274.50,783.60 C274.40,790.26 274.58,792.44 274.20,795.84 C273.82,799.24 272.77,801.55 272.20,804.00 C271.63,806.45 270.75,808.49 270.80,810.53 C270.85,812.57 271.93,814.34 272.50,816.24 C273.07,818.14 273.97,820.42 274.20,821.95 C274.43,823.49 274.02,824.65 273.90,825.46 C273.78,826.27 273.72,826.37 273.50,826.83 C273.28,827.29 273.08,827.75 272.60,828.20 C272.12,828.66 271.33,829.10 270.60,829.57 C269.87,830.05 268.98,830.56 268.20,831.04 C267.42,831.51 266.57,831.95 265.90,832.41 C265.23,832.86 264.72,833.41 264.20,833.78 C263.68,834.14 263.03,834.46 262.80,834.60 Z" fill="#47A27F" stroke="#000" stroke-width="1.35" stroke-linejoin="round"/>
<path d="M312.70,834.60 C312.47,834.45 311.82,834.09 311.30,833.67 C310.78,833.26 310.27,832.65 309.60,832.13 C308.93,831.62 308.08,831.12 307.30,830.59 C306.52,830.06 305.63,829.48 304.90,828.95 C304.17,828.41 303.38,827.92 302.90,827.40 C302.42,826.89 302.22,826.37 302.00,825.86 C301.78,825.35 301.68,824.97 301.60,824.32 C301.52,823.67 301.07,823.30 301.50,821.95 C301.93,820.61 303.43,818.55 304.20,816.24 C304.97,813.93 305.73,810.63 306.10,808.08 C306.47,805.53 306.60,804.00 306.40,800.94 C306.20,797.88 305.55,793.63 304.90,789.72 C304.25,785.81 303.13,780.88 302.50,777.48 C301.87,774.08 301.40,773.13 301.10,769.32 C300.80,765.51 300.77,757.08 300.70,754.63 C300.63,757.08 300.60,765.51 300.30,769.32 C300.00,773.13 299.53,774.08 298.90,777.48 C298.27,780.88 297.15,785.81 296.50,789.72 C295.85,793.63 295.20,797.88 295.00,800.94 C294.80,804.00 294.93,805.53 295.30,808.08 C295.67,810.63 296.43,813.93 297.20,816.24 C297.97,818.55 299.47,820.61 299.90,821.95 C300.33,823.30 299.88,823.67 299.80,824.32 C299.72,824.97 299.62,825.35 299.40,825.86 C299.18,826.37 298.98,826.89 298.50,827.40 C298.02,827.92 297.23,828.41 296.50,828.95 C295.77,829.48 294.88,830.06 294.10,830.59 C293.32,831.12 292.47,831.62 291.80,832.13 C291.13,832.65 290.62,833.26 290.10,833.67 C289.58,834.09 288.93,834.45 288.70,834.60 Z" fill="#D15C16" stroke="#000" stroke-width="1.35" stroke-linejoin="round"/>
<path d="M334.00,834.60 C333.85,833.92 333.67,832.05 333.10,830.52 C332.53,828.99 331.17,826.85 330.60,825.42 C330.03,823.99 329.57,823.48 329.70,821.95 C329.83,820.42 330.55,818.55 331.40,816.24 C332.25,813.93 334.03,811.48 334.80,808.08 C335.57,804.68 335.63,800.26 336.00,795.84 C336.37,791.42 336.62,786.32 337.00,781.56 C337.38,776.80 338.37,771.02 338.30,767.28 C338.23,763.54 337.75,761.84 336.60,759.12 C335.45,756.40 332.75,753.34 331.40,750.96 C330.05,748.58 329.27,746.71 328.50,744.84 C327.73,742.97 327.08,740.59 326.80,739.74 C326.52,740.59 325.87,742.97 325.10,744.84 C324.33,746.71 323.55,748.58 322.20,750.96 C320.85,753.34 318.15,756.40 317.00,759.12 C315.85,761.84 315.37,763.54 315.30,767.28 C315.23,771.02 316.22,776.80 316.60,781.56 C316.98,786.32 317.23,791.42 317.60,795.84 C317.97,800.26 318.03,804.68 318.80,808.08 C319.57,811.48 321.35,813.93 322.20,816.24 C323.05,818.55 323.77,820.42 323.90,821.95 C324.03,823.48 323.57,823.99 323.00,825.42 C322.43,826.85 321.07,828.99 320.50,830.52 C319.93,832.05 319.75,833.92 319.60,834.60 Z" fill="#D5398A" stroke="#000" stroke-width="1.35" stroke-linejoin="round"/>
<path d="M364.90,834.60 C364.67,834.43 364.02,834.03 363.50,833.57 C362.98,833.11 362.47,832.43 361.80,831.86 C361.13,831.29 360.28,830.73 359.50,830.14 C358.72,829.55 357.83,828.91 357.10,828.32 C356.37,827.73 355.58,827.17 355.10,826.60 C354.62,826.03 354.42,825.46 354.20,824.89 C353.98,824.32 353.35,824.28 353.80,823.18 C354.25,822.07 355.97,820.46 356.90,818.28 C357.83,816.10 358.63,813.35 359.40,810.12 C360.17,806.89 361.25,802.64 361.50,798.90 C361.75,795.16 361.38,791.59 360.90,787.68 C360.42,783.77 359.55,779.18 358.60,775.44 C357.65,771.70 356.05,767.96 355.20,765.24 C354.35,762.52 353.88,762.79 353.50,759.12 C353.12,755.45 353.00,745.86 352.90,743.21 C352.80,745.86 352.68,755.45 352.30,759.12 C351.92,762.79 351.45,762.52 350.60,765.24 C349.75,767.96 348.15,771.70 347.20,775.44 C346.25,779.18 345.38,783.77 344.90,787.68 C344.42,791.59 344.05,795.16 344.30,798.90 C344.55,802.64 345.63,806.89 346.40,810.12 C347.17,813.35 347.97,816.10 348.90,818.28 C349.83,820.46 351.55,822.07 352.00,823.18 C352.45,824.28 351.82,824.32 351.60,824.89 C351.38,825.46 351.18,826.03 350.70,826.60 C350.22,827.17 349.43,827.73 348.70,828.32 C347.97,828.91 347.08,829.55 346.30,830.14 C345.52,830.73 344.67,831.29 344.00,831.86 C343.33,832.43 342.82,833.11 342.30,833.57 C341.78,834.03 341.13,834.43 340.90,834.60 Z" fill="#6D65A6" stroke="#000" stroke-width="1.35" stroke-linejoin="round"/>
<path d="M391.10,834.60 C390.87,834.50 390.22,834.26 389.70,833.98 C389.18,833.71 388.67,833.30 388.00,832.95 C387.33,832.61 386.48,832.28 385.70,831.93 C384.92,831.57 384.03,831.18 383.30,830.83 C382.57,830.48 381.78,830.14 381.30,829.80 C380.82,829.46 380.62,829.12 380.40,828.77 C380.18,828.43 380.12,828.47 380.00,827.75 C379.88,827.02 379.72,825.98 379.70,824.40 C379.68,822.82 379.57,820.15 379.90,818.28 C380.23,816.41 381.27,814.88 381.70,813.18 C382.13,811.48 382.45,810.46 382.50,808.08 C382.55,805.70 382.47,802.64 382.00,798.90 C381.53,795.16 380.13,789.55 379.70,785.64 C379.27,781.73 379.50,780.51 379.40,775.44 C379.30,770.37 379.15,758.61 379.10,755.24 C379.05,758.61 378.90,770.37 378.80,775.44 C378.70,780.51 378.93,781.73 378.50,785.64 C378.07,789.55 376.67,795.16 376.20,798.90 C375.73,802.64 375.65,805.70 375.70,808.08 C375.75,810.46 376.07,811.48 376.50,813.18 C376.93,814.88 377.97,816.41 378.30,818.28 C378.63,820.15 378.52,822.82 378.50,824.40 C378.48,825.98 378.32,827.02 378.20,827.75 C378.08,828.47 378.02,828.43 377.80,828.77 C377.58,829.12 377.38,829.46 376.90,829.80 C376.42,830.14 375.63,830.48 374.90,830.83 C374.17,831.18 373.28,831.57 372.50,831.93 C371.72,832.28 370.87,832.61 370.20,832.95 C369.53,833.30 369.02,833.71 368.50,833.98 C367.98,834.26 367.33,834.50 367.10,834.60 Z" fill="#A38FD9" stroke="#000" stroke-width="1.35" stroke-linejoin="round"/>
<path d="M417.20,834.60 C416.97,834.50 416.32,834.26 415.80,833.98 C415.28,833.71 414.77,833.30 414.10,832.95 C413.43,832.61 412.58,832.28 411.80,831.93 C411.02,831.57 410.13,831.18 409.40,830.83 C408.67,830.48 407.88,830.14 407.40,829.80 C406.92,829.46 406.72,829.12 406.50,828.77 C406.28,828.43 406.22,828.47 406.10,827.75 C405.98,827.02 405.85,826.15 405.80,824.40 C405.75,822.65 405.57,819.64 405.80,817.26 C406.03,814.88 406.82,812.40 407.20,810.12 C407.58,807.84 408.12,805.97 408.10,803.59 C408.08,801.21 407.48,798.49 407.10,795.84 C406.72,793.19 406.07,790.06 405.80,787.68 C405.53,785.30 405.60,787.24 405.50,781.56 C405.40,775.88 405.25,758.27 405.20,753.61 C405.15,758.27 405.00,775.88 404.90,781.56 C404.80,787.24 404.87,785.30 404.60,787.68 C404.33,790.06 403.68,793.19 403.30,795.84 C402.92,798.49 402.32,801.21 402.30,803.59 C402.28,805.97 402.82,807.84 403.20,810.12 C403.58,812.40 404.37,814.88 404.60,817.26 C404.83,819.64 404.65,822.65 404.60,824.40 C404.55,826.15 404.42,827.02 404.30,827.75 C404.18,828.47 404.12,828.43 403.90,828.77 C403.68,829.12 403.48,829.46 403.00,829.80 C402.52,830.14 401.73,830.48 401.00,830.83 C400.27,831.18 399.38,831.57 398.60,831.93 C397.82,832.28 396.97,832.61 396.30,832.95 C395.63,833.30 395.12,833.71 394.60,833.98 C394.08,834.26 393.43,834.50 393.20,834.60 Z" fill="#CBCBF3" stroke="#000" stroke-width="1.35" stroke-linejoin="round"/>
<line x1="259.4" y1="734.5" x2="259.4" y2="839.8" stroke="#000" stroke-width="1.5"/>
<line x1="258.7" y1="839.1" x2="421.0" y2="839.1" stroke="#000" stroke-width="1.5"/>
<line x1="274.8" y1="839.1" x2="274.8" y2="844.3" stroke="#000" stroke-width="1.4"/>
<line x1="300.7" y1="839.1" x2="300.7" y2="844.3" stroke="#000" stroke-width="1.4"/>
<line x1="326.8" y1="839.1" x2="326.8" y2="844.3" stroke="#000" stroke-width="1.4"/>
<line x1="352.9" y1="839.1" x2="352.9" y2="844.3" stroke="#000" stroke-width="1.4"/>
<line x1="379.1" y1="839.1" x2="379.1" y2="844.3" stroke="#000" stroke-width="1.4"/>
<line x1="405.2" y1="839.1" x2="405.2" y2="844.3" stroke="#000" stroke-width="1.4"/>
<line x1="254.4" y1="834.6" x2="259.4" y2="834.6" stroke="#000" stroke-width="1.4"/>
<text x="251.0" y="841.1" font-size="18.5" text-anchor="end" fill="#000" stroke="#000" stroke-width="0.3">0</text>
<line x1="254.4" y1="814.2" x2="259.4" y2="814.2" stroke="#000" stroke-width="1.4"/>
<text x="251.0" y="820.7" font-size="18.5" text-anchor="end" fill="#000" stroke="#000" stroke-width="0.3">1</text>
<line x1="254.4" y1="793.8" x2="259.4" y2="793.8" stroke="#000" stroke-width="1.4"/>
<text x="251.0" y="800.3" font-size="18.5" text-anchor="end" fill="#000" stroke="#000" stroke-width="0.3">2</text>
<line x1="254.4" y1="773.4" x2="259.4" y2="773.4" stroke="#000" stroke-width="1.4"/>
<text x="251.0" y="779.9" font-size="18.5" text-anchor="end" fill="#000" stroke="#000" stroke-width="0.3">3</text>
<line x1="254.4" y1="753.0" x2="259.4" y2="753.0" stroke="#000" stroke-width="1.4"/>
<text x="251.0" y="759.5" font-size="18.5" text-anchor="end" fill="#000" stroke="#000" stroke-width="0.3">4</text>
<text x="550.8" y="716.6" font-size="18.5" text-anchor="middle" fill="#000" stroke="#000" stroke-width="0.3">ISG15</text>
<line x1="476.9" y1="834.6" x2="501.1" y2="834.6" stroke="#000" stroke-width="1.5"/>
<line x1="489.0" y1="834.6" x2="489.0" y2="773.8" stroke="#000" stroke-width="1.4"/>
<line x1="503.1" y1="834.6" x2="527.3" y2="834.6" stroke="#000" stroke-width="1.5"/>
<line x1="515.2" y1="834.6" x2="515.2" y2="759.0" stroke="#000" stroke-width="1.4"/>
<path d="M553.40,834.60 C553.13,834.41 552.40,834.02 551.80,833.44 C551.20,832.86 550.82,832.67 549.80,831.12 C548.78,829.57 546.52,826.25 545.70,824.16 C544.88,822.07 544.83,820.72 544.90,818.59 C544.97,816.47 545.77,814.65 546.10,811.40 C546.43,808.15 546.75,802.97 546.90,799.10 C547.05,795.24 547.07,791.95 547.00,788.20 C546.93,784.45 546.88,780.47 546.50,776.60 C546.12,772.73 545.40,768.29 544.70,765.00 C544.00,761.71 542.80,759.59 542.30,756.88 C541.80,754.17 541.87,751.54 541.70,748.76 C541.53,745.98 541.37,741.61 541.30,740.18 C541.23,741.61 541.07,745.98 540.90,748.76 C540.73,751.54 540.80,754.17 540.30,756.88 C539.80,759.59 538.60,761.71 537.90,765.00 C537.20,768.29 536.48,772.73 536.10,776.60 C535.72,780.47 535.67,784.45 535.60,788.20 C535.53,791.95 535.55,795.24 535.70,799.10 C535.85,802.97 536.17,808.15 536.50,811.40 C536.83,814.65 537.63,816.47 537.70,818.59 C537.77,820.72 537.72,822.07 536.90,824.16 C536.08,826.25 533.82,829.57 532.80,831.12 C531.78,832.67 531.40,832.86 530.80,833.44 C530.20,834.02 529.47,834.41 529.20,834.60 Z" fill="#D5398A" stroke="#000" stroke-width="1.35" stroke-linejoin="round"/>
<path d="M579.50,834.60 C579.27,834.49 578.62,834.24 578.10,833.95 C577.58,833.65 577.07,833.22 576.40,832.85 C575.73,832.49 574.88,832.14 574.10,831.76 C573.32,831.39 572.43,830.97 571.70,830.60 C570.97,830.22 570.18,829.87 569.70,829.51 C569.22,829.14 569.02,828.78 568.80,828.42 C568.58,828.05 568.53,829.39 568.40,827.32 C568.27,825.26 568.02,820.63 568.00,816.04 C567.98,811.45 568.30,804.44 568.30,799.80 C568.30,795.16 568.08,791.29 568.00,788.20 C567.92,785.11 567.88,786.00 567.80,781.24 C567.72,776.48 567.55,763.26 567.50,759.66 C567.45,763.26 567.28,776.48 567.20,781.24 C567.12,786.00 567.08,785.11 567.00,788.20 C566.92,791.29 566.70,795.16 566.70,799.80 C566.70,804.44 567.02,811.45 567.00,816.04 C566.98,820.63 566.73,825.26 566.60,827.32 C566.47,829.39 566.42,828.05 566.20,828.42 C565.98,828.78 565.78,829.14 565.30,829.51 C564.82,829.87 564.03,830.22 563.30,830.60 C562.57,830.97 561.68,831.39 560.90,831.76 C560.12,832.14 559.27,832.49 558.60,832.85 C557.93,833.22 557.42,833.65 556.90,833.95 C556.38,834.24 555.73,834.49 555.50,834.60 Z" fill="#6D65A6" stroke="#000" stroke-width="1.35" stroke-linejoin="round"/>
<line x1="581.5" y1="834.6" x2="605.7" y2="834.6" stroke="#000" stroke-width="1.5"/>
<line x1="593.6" y1="834.6" x2="593.6" y2="777.3" stroke="#000" stroke-width="1.4"/>
<line x1="607.6" y1="834.6" x2="631.8" y2="834.6" stroke="#000" stroke-width="1.5"/>
<line x1="619.7" y1="834.6" x2="619.7" y2="755.0" stroke="#000" stroke-width="1.4"/>
<line x1="473.4" y1="734.5" x2="473.4" y2="839.8" stroke="#000" stroke-width="1.5"/>
<line x1="472.7" y1="839.1" x2="635.0" y2="839.1" stroke="#000" stroke-width="1.5"/>
<line x1="489.0" y1="839.1" x2="489.0" y2="844.3" stroke="#000" stroke-width="1.4"/>
<line x1="515.2" y1="839.1" x2="515.2" y2="844.3" stroke="#000" stroke-width="1.4"/>
<line x1="541.3" y1="839.1" x2="541.3" y2="844.3" stroke="#000" stroke-width="1.4"/>
<line x1="567.5" y1="839.1" x2="567.5" y2="844.3" stroke="#000" stroke-width="1.4"/>
<line x1="593.6" y1="839.1" x2="593.6" y2="844.3" stroke="#000" stroke-width="1.4"/>
<line x1="619.7" y1="839.1" x2="619.7" y2="844.3" stroke="#000" stroke-width="1.4"/>
<line x1="468.4" y1="834.6" x2="473.4" y2="834.6" stroke="#000" stroke-width="1.4"/>
<text x="465.9" y="841.1" font-size="18.5" text-anchor="end" fill="#000" stroke="#000" stroke-width="0.3">0</text>
<line x1="468.4" y1="811.4" x2="473.4" y2="811.4" stroke="#000" stroke-width="1.4"/>
<text x="465.9" y="817.9" font-size="18.5" text-anchor="end" fill="#000" stroke="#000" stroke-width="0.3">1</text>
<line x1="468.4" y1="788.2" x2="473.4" y2="788.2" stroke="#000" stroke-width="1.4"/>
<text x="465.9" y="794.7" font-size="18.5" text-anchor="end" fill="#000" stroke="#000" stroke-width="0.3">2</text>
<line x1="468.4" y1="765.0" x2="473.4" y2="765.0" stroke="#000" stroke-width="1.4"/>
<text x="465.9" y="771.5" font-size="18.5" text-anchor="end" fill="#000" stroke="#000" stroke-width="0.3">3</text>
<line x1="468.4" y1="741.8" x2="473.4" y2="741.8" stroke="#000" stroke-width="1.4"/>
<text x="465.9" y="748.3" font-size="18.5" text-anchor="end" fill="#000" stroke="#000" stroke-width="0.3">4</text>
<text x="762.2" y="716.6" font-size="18.5" text-anchor="middle" fill="#000" stroke="#000" stroke-width="0.3">XAF1</text>
<line x1="691.7" y1="834.6" x2="715.9" y2="834.6" stroke="#000" stroke-width="1.5"/>
<line x1="703.8" y1="834.6" x2="703.8" y2="745.1" stroke="#000" stroke-width="1.4"/>
<path d="M741.70,834.60 C741.47,834.46 740.82,834.14 740.30,833.77 C739.78,833.41 739.27,832.86 738.60,832.40 C737.93,831.94 737.08,831.50 736.30,831.02 C735.52,830.55 734.63,830.03 733.90,829.55 C733.17,829.08 732.38,828.64 731.90,828.18 C731.42,827.72 731.22,827.26 731.00,826.80 C730.78,826.34 730.73,826.40 730.60,825.43 C730.47,824.45 730.15,823.06 730.20,820.95 C730.25,818.84 730.42,816.04 730.90,812.76 C731.38,809.48 732.92,805.39 733.10,801.29 C733.28,797.20 732.47,792.65 732.00,788.19 C731.53,783.73 730.63,778.63 730.30,774.54 C729.97,770.44 730.10,768.76 730.00,763.62 C729.90,758.48 729.75,747.01 729.70,743.69 C729.65,747.01 729.50,758.48 729.40,763.62 C729.30,768.76 729.43,770.44 729.10,774.54 C728.77,778.63 727.87,783.73 727.40,788.19 C726.93,792.65 726.12,797.20 726.30,801.29 C726.48,805.39 728.02,809.48 728.50,812.76 C728.98,816.04 729.15,818.84 729.20,820.95 C729.25,823.06 728.93,824.45 728.80,825.43 C728.67,826.40 728.62,826.34 728.40,826.80 C728.18,827.26 727.98,827.72 727.50,828.18 C727.02,828.64 726.23,829.08 725.50,829.55 C724.77,830.03 723.88,830.55 723.10,831.02 C722.32,831.50 721.47,831.94 720.80,832.40 C720.13,832.86 719.62,833.41 719.10,833.77 C718.58,834.14 717.93,834.46 717.70,834.60 Z" fill="#D15C16" stroke="#000" stroke-width="1.35" stroke-linejoin="round"/>
<path d="M767.90,834.60 C767.63,834.37 766.82,833.92 766.30,833.24 C765.78,832.55 765.85,832.33 764.80,830.50 C763.75,828.68 760.93,824.82 760.00,822.32 C759.07,819.81 759.18,818.90 759.20,815.49 C759.22,812.08 759.72,806.39 760.10,801.84 C760.48,797.29 761.07,793.65 761.50,788.19 C761.93,782.73 762.78,774.09 762.70,769.08 C762.62,764.08 761.87,761.80 761.00,758.16 C760.13,754.52 758.37,750.29 757.50,747.24 C756.63,744.19 756.08,741.10 755.80,739.87 C755.52,741.10 754.97,744.19 754.10,747.24 C753.23,750.29 751.47,754.52 750.60,758.16 C749.73,761.80 748.98,764.08 748.90,769.08 C748.82,774.09 749.67,782.73 750.10,788.19 C750.53,793.65 751.12,797.29 751.50,801.84 C751.88,806.39 752.38,812.08 752.40,815.49 C752.42,818.90 752.53,819.81 751.60,822.32 C750.67,824.82 747.85,828.68 746.80,830.50 C745.75,832.33 745.82,832.55 745.30,833.24 C744.78,833.92 743.97,834.37 743.70,834.60 Z" fill="#D5398A" stroke="#000" stroke-width="1.35" stroke-linejoin="round"/>
<path d="M793.90,834.60 C793.67,834.44 793.02,834.06 792.50,833.64 C791.98,833.21 791.47,832.57 790.80,832.03 C790.13,831.50 789.28,830.98 788.50,830.43 C787.72,829.87 786.83,829.27 786.10,828.71 C785.37,828.16 784.58,827.64 784.10,827.11 C783.62,826.57 783.42,826.04 783.20,825.50 C782.98,824.97 782.92,824.66 782.80,823.90 C782.68,823.14 782.45,823.26 782.50,820.95 C782.55,818.64 782.63,815.03 783.10,810.03 C783.57,805.02 785.22,796.61 785.30,790.92 C785.38,785.23 784.10,780.91 783.60,775.90 C783.10,770.90 782.58,766.12 782.30,760.89 C782.02,755.66 781.97,747.24 781.90,744.51 C781.83,747.24 781.78,755.66 781.50,760.89 C781.22,766.12 780.70,770.90 780.20,775.90 C779.70,780.91 778.42,785.23 778.50,790.92 C778.58,796.61 780.23,805.02 780.70,810.03 C781.17,815.03 781.25,818.64 781.30,820.95 C781.35,823.26 781.12,823.14 781.00,823.90 C780.88,824.66 780.82,824.97 780.60,825.50 C780.38,826.04 780.18,826.57 779.70,827.11 C779.22,827.64 778.43,828.16 777.70,828.71 C776.97,829.27 776.08,829.87 775.30,830.43 C774.52,830.98 773.67,831.50 773.00,832.03 C772.33,832.57 771.82,833.21 771.30,833.64 C770.78,834.06 770.13,834.44 769.90,834.60 Z" fill="#6D65A6" stroke="#000" stroke-width="1.35" stroke-linejoin="round"/>
<line x1="796.0" y1="834.6" x2="820.2" y2="834.6" stroke="#000" stroke-width="1.5"/>
<line x1="808.1" y1="834.6" x2="808.1" y2="760.6" stroke="#000" stroke-width="1.4"/>
<line x1="822.1" y1="834.6" x2="846.3" y2="834.6" stroke="#000" stroke-width="1.5"/>
<line x1="834.2" y1="834.6" x2="834.2" y2="758.2" stroke="#000" stroke-width="1.4"/>
<line x1="688.0" y1="734.5" x2="688.0" y2="839.8" stroke="#000" stroke-width="1.5"/>
<line x1="687.3" y1="839.1" x2="850.0" y2="839.1" stroke="#000" stroke-width="1.5"/>
<line x1="703.8" y1="839.1" x2="703.8" y2="844.3" stroke="#000" stroke-width="1.4"/>
<line x1="729.7" y1="839.1" x2="729.7" y2="844.3" stroke="#000" stroke-width="1.4"/>
<line x1="755.8" y1="839.1" x2="755.8" y2="844.3" stroke="#000" stroke-width="1.4"/>
<line x1="781.9" y1="839.1" x2="781.9" y2="844.3" stroke="#000" stroke-width="1.4"/>
<line x1="808.1" y1="839.1" x2="808.1" y2="844.3" stroke="#000" stroke-width="1.4"/>
<line x1="834.2" y1="839.1" x2="834.2" y2="844.3" stroke="#000" stroke-width="1.4"/>
<line x1="683.0" y1="834.6" x2="688.0" y2="834.6" stroke="#000" stroke-width="1.4"/>
<text x="680.5" y="841.1" font-size="18.5" text-anchor="end" fill="#000" stroke="#000" stroke-width="0.3">0</text>
<line x1="683.0" y1="807.3" x2="688.0" y2="807.3" stroke="#000" stroke-width="1.4"/>
<text x="680.5" y="813.8" font-size="18.5" text-anchor="end" fill="#000" stroke="#000" stroke-width="0.3">1</text>
<line x1="683.0" y1="780.0" x2="688.0" y2="780.0" stroke="#000" stroke-width="1.4"/>
<text x="680.5" y="786.5" font-size="18.5" text-anchor="end" fill="#000" stroke="#000" stroke-width="0.3">2</text>
<line x1="683.0" y1="752.7" x2="688.0" y2="752.7" stroke="#000" stroke-width="1.4"/>
<text x="680.5" y="759.2" font-size="18.5" text-anchor="end" fill="#000" stroke="#000" stroke-width="0.3">3</text>
<text x="126.1" y="896.4" font-size="18.5" text-anchor="middle" fill="#000" stroke="#000" stroke-width="0.3">STAT1</text>
<line x1="48.0" y1="1008.4" x2="72.2" y2="1008.4" stroke="#000" stroke-width="1.5"/>
<line x1="60.1" y1="1008.4" x2="60.1" y2="932.4" stroke="#000" stroke-width="1.4"/>
<path d="M98.20,1008.40 C97.97,1008.26 97.32,1007.94 96.80,1007.58 C96.28,1007.21 95.77,1006.67 95.10,1006.21 C94.43,1005.75 93.58,1005.31 92.80,1004.84 C92.02,1004.37 91.13,1003.85 90.40,1003.38 C89.67,1002.91 88.88,1002.47 88.40,1002.01 C87.92,1001.56 87.72,1001.10 87.50,1000.64 C87.28,1000.19 87.25,1000.89 87.10,999.27 C86.95,997.66 86.58,993.54 86.60,990.94 C86.62,988.34 86.92,986.38 87.20,983.66 C87.48,980.95 88.33,977.80 88.30,974.64 C88.27,971.49 87.30,967.37 87.00,964.75 C86.70,962.13 86.63,967.51 86.50,958.93 C86.37,950.35 86.25,920.86 86.20,913.24 C86.15,920.86 86.03,950.35 85.90,958.93 C85.77,967.51 85.70,962.13 85.40,964.75 C85.10,967.37 84.13,971.49 84.10,974.64 C84.07,977.80 84.92,980.95 85.20,983.66 C85.48,986.38 85.78,988.34 85.80,990.94 C85.82,993.54 85.45,997.66 85.30,999.27 C85.15,1000.89 85.12,1000.19 84.90,1000.64 C84.68,1001.10 84.48,1001.56 84.00,1002.01 C83.52,1002.47 82.73,1002.91 82.00,1003.38 C81.27,1003.85 80.38,1004.37 79.60,1004.84 C78.82,1005.31 77.97,1005.75 77.30,1006.21 C76.63,1006.67 76.12,1007.21 75.60,1007.58 C75.08,1007.94 74.43,1008.26 74.20,1008.40 Z" fill="#D15C16" stroke="#000" stroke-width="1.35" stroke-linejoin="round"/>
<path d="M124.50,1008.40 C124.28,1008.21 123.80,1007.82 123.20,1007.24 C122.60,1006.65 121.87,1006.17 120.90,1004.91 C119.93,1003.65 118.28,1001.85 117.40,999.67 C116.52,997.49 115.78,995.21 115.60,991.81 C115.42,988.42 116.07,984.10 116.30,979.30 C116.53,974.50 116.98,968.34 117.00,963.00 C117.02,957.67 116.77,951.85 116.40,947.29 C116.03,942.73 115.32,939.04 114.80,935.65 C114.28,932.25 113.70,929.35 113.30,926.92 C112.90,924.49 112.55,922.07 112.40,921.10 C112.25,922.07 111.90,924.49 111.50,926.92 C111.10,929.35 110.52,932.25 110.00,935.65 C109.48,939.04 108.77,942.73 108.40,947.29 C108.03,951.85 107.78,957.67 107.80,963.00 C107.82,968.34 108.27,974.50 108.50,979.30 C108.73,984.10 109.38,988.42 109.20,991.81 C109.02,995.21 108.28,997.49 107.40,999.67 C106.52,1001.85 104.87,1003.65 103.90,1004.91 C102.93,1006.17 102.20,1006.65 101.60,1007.24 C101.00,1007.82 100.52,1008.21 100.30,1008.40 Z" fill="#D5398A" stroke="#000" stroke-width="1.35" stroke-linejoin="round"/>
<path d="M150.40,1008.40 C150.17,1008.29 149.52,1008.04 149.00,1007.75 C148.48,1007.47 147.97,1007.04 147.30,1006.68 C146.63,1006.32 145.78,1005.97 145.00,1005.60 C144.22,1005.23 143.33,1004.83 142.60,1004.46 C141.87,1004.09 141.08,1003.74 140.60,1003.38 C140.12,1003.02 139.92,1002.66 139.70,1002.31 C139.48,1001.95 139.45,1004.58 139.30,1001.23 C139.15,997.88 138.83,988.29 138.80,982.21 C138.77,976.13 139.08,969.12 139.10,964.75 C139.12,960.38 138.97,959.41 138.90,956.02 C138.83,952.62 138.78,949.81 138.70,944.38 C138.62,938.95 138.45,926.92 138.40,923.43 C138.35,926.92 138.18,938.95 138.10,944.38 C138.02,949.81 137.97,952.62 137.90,956.02 C137.83,959.41 137.68,960.38 137.70,964.75 C137.72,969.12 138.03,976.13 138.00,982.21 C137.97,988.29 137.65,997.88 137.50,1001.23 C137.35,1004.58 137.32,1001.95 137.10,1002.31 C136.88,1002.66 136.68,1003.02 136.20,1003.38 C135.72,1003.74 134.93,1004.09 134.20,1004.46 C133.47,1004.83 132.58,1005.23 131.80,1005.60 C131.02,1005.97 130.17,1006.32 129.50,1006.68 C128.83,1007.04 128.32,1007.47 127.80,1007.75 C127.28,1008.04 126.63,1008.29 126.40,1008.40 Z" fill="#6D65A6" stroke="#000" stroke-width="1.35" stroke-linejoin="round"/>
<line x1="152.5" y1="1008.4" x2="176.7" y2="1008.4" stroke="#000" stroke-width="1.5"/>
<line x1="164.6" y1="1008.4" x2="164.6" y2="919.1" stroke="#000" stroke-width="1.4"/>
<line x1="178.7" y1="1008.4" x2="202.9" y2="1008.4" stroke="#000" stroke-width="1.5"/>
<line x1="190.8" y1="1008.4" x2="190.8" y2="918.5" stroke="#000" stroke-width="1.4"/>
<line x1="44.4" y1="908.3" x2="44.4" y2="1013.9" stroke="#000" stroke-width="1.5"/>
<line x1="43.7" y1="1013.2" x2="206.7" y2="1013.2" stroke="#000" stroke-width="1.5"/>
<line x1="60.1" y1="1013.2" x2="60.1" y2="1018.4" stroke="#000" stroke-width="1.4"/>
<line x1="86.2" y1="1013.2" x2="86.2" y2="1018.4" stroke="#000" stroke-width="1.4"/>
<line x1="112.4" y1="1013.2" x2="112.4" y2="1018.4" stroke="#000" stroke-width="1.4"/>
<line x1="138.4" y1="1013.2" x2="138.4" y2="1018.4" stroke="#000" stroke-width="1.4"/>
<line x1="164.6" y1="1013.2" x2="164.6" y2="1018.4" stroke="#000" stroke-width="1.4"/>
<line x1="190.8" y1="1013.2" x2="190.8" y2="1018.4" stroke="#000" stroke-width="1.4"/>
<line x1="39.4" y1="1008.4" x2="44.4" y2="1008.4" stroke="#000" stroke-width="1.4"/>
<text x="36.8" y="1014.9" font-size="18.5" text-anchor="end" fill="#000" stroke="#000" stroke-width="0.3">0</text>
<line x1="39.4" y1="979.3" x2="44.4" y2="979.3" stroke="#000" stroke-width="1.4"/>
<text x="36.8" y="985.8" font-size="18.5" text-anchor="end" fill="#000" stroke="#000" stroke-width="0.3">1</text>
<line x1="39.4" y1="950.2" x2="44.4" y2="950.2" stroke="#000" stroke-width="1.4"/>
<text x="36.8" y="956.7" font-size="18.5" text-anchor="end" fill="#000" stroke="#000" stroke-width="0.3">2</text>
<line x1="39.4" y1="921.1" x2="44.4" y2="921.1" stroke="#000" stroke-width="1.4"/>
<text x="36.8" y="927.6" font-size="18.5" text-anchor="end" fill="#000" stroke="#000" stroke-width="0.3">3</text>
<text x="344.7" y="896.4" font-size="18.5" text-anchor="middle" fill="#000" stroke="#000" stroke-width="0.3">IFI44L</text>
<line x1="262.7" y1="1008.4" x2="286.9" y2="1008.4" stroke="#000" stroke-width="1.5"/>
<line x1="274.8" y1="1008.4" x2="274.8" y2="939.5" stroke="#000" stroke-width="1.4"/>
<path d="M312.70,1008.40 C312.47,1008.27 311.82,1007.96 311.30,1007.62 C310.78,1007.27 310.27,1006.75 309.60,1006.31 C308.93,1005.88 308.08,1005.46 307.30,1005.01 C306.52,1004.56 305.63,1004.06 304.90,1003.61 C304.17,1003.16 303.38,1002.74 302.90,1002.31 C302.42,1001.87 302.22,1001.44 302.00,1001.00 C301.78,1000.57 301.75,1001.57 301.60,999.70 C301.45,997.82 301.03,992.62 301.10,989.75 C301.17,986.89 301.68,985.00 302.00,982.50 C302.32,980.00 302.93,978.18 303.00,974.73 C303.07,971.28 302.72,966.10 302.40,961.78 C302.08,957.46 301.35,952.28 301.10,948.83 C300.85,945.38 300.97,946.84 300.90,941.06 C300.83,935.28 300.73,918.61 300.70,914.12 C300.67,918.61 300.57,935.28 300.50,941.06 C300.43,946.84 300.55,945.38 300.30,948.83 C300.05,952.28 299.32,957.46 299.00,961.78 C298.68,966.10 298.33,971.28 298.40,974.73 C298.47,978.18 299.08,980.00 299.40,982.50 C299.72,985.00 300.23,986.89 300.30,989.75 C300.37,992.62 299.95,997.82 299.80,999.70 C299.65,1001.57 299.62,1000.57 299.40,1001.00 C299.18,1001.44 298.98,1001.87 298.50,1002.31 C298.02,1002.74 297.23,1003.16 296.50,1003.61 C295.77,1004.06 294.88,1004.56 294.10,1005.01 C293.32,1005.46 292.47,1005.88 291.80,1006.31 C291.13,1006.75 290.62,1007.27 290.10,1007.62 C289.58,1007.96 288.93,1008.27 288.70,1008.40 Z" fill="#D15C16" stroke="#000" stroke-width="1.35" stroke-linejoin="round"/>
<path d="M338.60,1008.40 C338.43,1008.18 338.10,1007.75 337.60,1007.11 C337.10,1006.46 336.60,1006.03 335.60,1004.51 C334.60,1003.00 332.47,999.98 331.60,998.04 C330.73,996.10 330.57,995.88 330.40,992.86 C330.23,989.84 330.37,984.87 330.60,979.91 C330.83,974.95 331.50,967.82 331.80,963.07 C332.10,958.33 332.37,955.09 332.40,951.42 C332.43,947.75 332.37,944.51 332.00,941.06 C331.63,937.61 330.92,933.72 330.20,930.70 C329.48,927.68 328.27,924.87 327.70,922.93 C327.13,920.99 326.95,919.69 326.80,919.04 C326.65,919.69 326.47,920.99 325.90,922.93 C325.33,924.87 324.12,927.68 323.40,930.70 C322.68,933.72 321.97,937.61 321.60,941.06 C321.23,944.51 321.17,947.75 321.20,951.42 C321.23,955.09 321.50,958.33 321.80,963.07 C322.10,967.82 322.77,974.95 323.00,979.91 C323.23,984.87 323.37,989.84 323.20,992.86 C323.03,995.88 322.87,996.10 322.00,998.04 C321.13,999.98 319.00,1003.00 318.00,1004.51 C317.00,1006.03 316.50,1006.46 316.00,1007.11 C315.50,1007.75 315.17,1008.18 315.00,1008.40 Z" fill="#D5398A" stroke="#000" stroke-width="1.35" stroke-linejoin="round"/>
<path d="M364.90,1008.40 C364.67,1008.23 364.02,1007.82 363.50,1007.36 C362.98,1006.89 362.47,1006.20 361.80,1005.62 C361.13,1005.04 360.28,1004.47 359.50,1003.87 C358.72,1003.28 357.83,1002.62 357.10,1002.02 C356.37,1001.42 355.58,1000.86 355.10,1000.28 C354.62,999.70 354.42,999.12 354.20,998.54 C353.98,997.96 353.95,998.17 353.80,996.80 C353.65,995.42 353.22,993.08 353.30,990.27 C353.38,987.46 353.98,983.36 354.30,979.91 C354.62,976.46 355.15,973.87 355.20,969.55 C355.25,965.23 354.92,959.62 354.60,954.01 C354.28,948.40 353.58,942.01 353.30,935.88 C353.02,929.75 352.97,920.34 352.90,917.23 C352.83,920.34 352.78,929.75 352.50,935.88 C352.22,942.01 351.52,948.40 351.20,954.01 C350.88,959.62 350.55,965.23 350.60,969.55 C350.65,973.87 351.18,976.46 351.50,979.91 C351.82,983.36 352.42,987.46 352.50,990.27 C352.58,993.08 352.15,995.42 352.00,996.80 C351.85,998.17 351.82,997.96 351.60,998.54 C351.38,999.12 351.18,999.70 350.70,1000.28 C350.22,1000.86 349.43,1001.42 348.70,1002.02 C347.97,1002.62 347.08,1003.28 346.30,1003.87 C345.52,1004.47 344.67,1005.04 344.00,1005.62 C343.33,1006.20 342.82,1006.89 342.30,1007.36 C341.78,1007.82 341.13,1008.23 340.90,1008.40 Z" fill="#6D65A6" stroke="#000" stroke-width="1.35" stroke-linejoin="round"/>
<line x1="367.0" y1="1008.4" x2="391.2" y2="1008.4" stroke="#000" stroke-width="1.5"/>
<line x1="379.1" y1="1008.4" x2="379.1" y2="913.3" stroke="#000" stroke-width="1.4"/>
<line x1="393.1" y1="1008.4" x2="417.3" y2="1008.4" stroke="#000" stroke-width="1.5"/>
<line x1="405.2" y1="1008.4" x2="405.2" y2="925.8" stroke="#000" stroke-width="1.4"/>
<line x1="259.4" y1="908.3" x2="259.4" y2="1013.9" stroke="#000" stroke-width="1.5"/>
<line x1="258.7" y1="1013.2" x2="421.0" y2="1013.2" stroke="#000" stroke-width="1.5"/>
<line x1="274.8" y1="1013.2" x2="274.8" y2="1018.4" stroke="#000" stroke-width="1.4"/>
<line x1="300.7" y1="1013.2" x2="300.7" y2="1018.4" stroke="#000" stroke-width="1.4"/>
<line x1="326.8" y1="1013.2" x2="326.8" y2="1018.4" stroke="#000" stroke-width="1.4"/>
<line x1="352.9" y1="1013.2" x2="352.9" y2="1018.4" stroke="#000" stroke-width="1.4"/>
<line x1="379.1" y1="1013.2" x2="379.1" y2="1018.4" stroke="#000" stroke-width="1.4"/>
<line x1="405.2" y1="1013.2" x2="405.2" y2="1018.4" stroke="#000" stroke-width="1.4"/>
<line x1="254.4" y1="1008.4" x2="259.4" y2="1008.4" stroke="#000" stroke-width="1.4"/>
<text x="251.0" y="1014.9" font-size="18.5" text-anchor="end" fill="#000" stroke="#000" stroke-width="0.3">0</text>
<line x1="254.4" y1="982.5" x2="259.4" y2="982.5" stroke="#000" stroke-width="1.4"/>
<text x="251.0" y="989.0" font-size="18.5" text-anchor="end" fill="#000" stroke="#000" stroke-width="0.3">1</text>
<line x1="254.4" y1="956.6" x2="259.4" y2="956.6" stroke="#000" stroke-width="1.4"/>
<text x="251.0" y="963.1" font-size="18.5" text-anchor="end" fill="#000" stroke="#000" stroke-width="0.3">2</text>
<line x1="254.4" y1="930.7" x2="259.4" y2="930.7" stroke="#000" stroke-width="1.4"/>
<text x="251.0" y="937.2" font-size="18.5" text-anchor="end" fill="#000" stroke="#000" stroke-width="0.3">3</text>
<text x="551.5" y="896.4" font-size="18.5" text-anchor="middle" fill="#000" stroke="#000" stroke-width="0.3">TSC22D3</text>
<path d="M501.00,1008.40 C500.77,1008.23 500.12,1007.83 499.60,1007.37 C499.08,1006.92 498.57,1006.23 497.90,1005.66 C497.23,1005.09 496.38,1004.54 495.60,1003.95 C494.82,1003.36 493.93,1002.71 493.20,1002.12 C492.47,1001.53 491.68,1000.98 491.20,1000.41 C490.72,999.84 490.52,999.27 490.30,998.70 C490.08,998.13 489.45,997.98 489.90,996.98 C490.35,995.99 491.62,995.49 493.00,992.72 C494.38,989.95 497.23,983.57 498.20,980.37 C499.17,977.17 499.08,976.35 498.80,973.51 C498.52,970.67 497.37,966.98 496.50,963.32 C495.63,959.66 494.75,955.15 493.60,951.56 C492.45,947.97 490.37,945.94 489.60,941.76 C488.83,937.58 489.10,929.02 489.00,926.47 C488.90,929.02 489.17,937.58 488.40,941.76 C487.63,945.94 485.55,947.97 484.40,951.56 C483.25,955.15 482.37,959.66 481.50,963.32 C480.63,966.98 479.48,970.67 479.20,973.51 C478.92,976.35 478.83,977.17 479.80,980.37 C480.77,983.57 483.62,989.95 485.00,992.72 C486.38,995.49 487.65,995.99 488.10,996.98 C488.55,997.98 487.92,998.13 487.70,998.70 C487.48,999.27 487.28,999.84 486.80,1000.41 C486.32,1000.98 485.53,1001.53 484.80,1002.12 C484.07,1002.71 483.18,1003.36 482.40,1003.95 C481.62,1004.54 480.77,1005.09 480.10,1005.66 C479.43,1006.23 478.92,1006.92 478.40,1007.37 C477.88,1007.83 477.23,1008.23 477.00,1008.40 Z" fill="#47A27F" stroke="#000" stroke-width="1.35" stroke-linejoin="round"/>
<path d="M518.10,1008.40 C517.87,1007.91 517.08,1007.09 516.70,1005.46 C516.32,1003.83 515.90,1000.89 515.80,998.60 C515.70,996.31 515.72,994.68 516.10,991.74 C516.48,988.80 517.30,984.72 518.10,980.96 C518.90,977.20 519.95,973.12 520.90,969.20 C521.85,965.28 522.83,960.38 523.80,957.44 C524.77,954.50 526.32,954.50 526.70,951.56 C527.08,948.62 526.68,943.07 526.10,939.80 C525.52,936.53 524.73,934.74 523.20,931.96 C521.67,929.18 518.23,926.08 516.90,923.14 C515.57,920.20 515.48,915.79 515.20,914.32 C514.92,915.79 514.83,920.20 513.50,923.14 C512.17,926.08 508.73,929.18 507.20,931.96 C505.67,934.74 504.88,936.53 504.30,939.80 C503.72,943.07 503.32,948.62 503.70,951.56 C504.08,954.50 505.63,954.50 506.60,957.44 C507.57,960.38 508.55,965.28 509.50,969.20 C510.45,973.12 511.50,977.20 512.30,980.96 C513.10,984.72 513.92,988.80 514.30,991.74 C514.68,994.68 514.70,996.31 514.60,998.60 C514.50,1000.89 514.08,1003.83 513.70,1005.46 C513.32,1007.09 512.53,1007.91 512.30,1008.40 Z" fill="#D15C16" stroke="#000" stroke-width="1.35" stroke-linejoin="round"/>
<path d="M547.60,1008.40 C547.25,1007.09 545.98,1003.83 545.50,1000.56 C545.02,997.29 544.78,991.74 544.70,988.80 C544.62,985.86 544.80,985.21 545.00,982.92 C545.20,980.63 545.08,978.35 545.90,975.08 C546.72,971.81 548.75,967.24 549.90,963.32 C551.05,959.40 552.32,955.32 552.80,951.56 C553.28,947.80 553.28,944.54 552.80,940.78 C552.32,937.02 551.15,932.29 549.90,929.02 C548.65,925.75 546.73,923.83 545.30,921.18 C543.87,918.53 541.97,914.48 541.30,913.14 C540.63,914.48 538.73,918.53 537.30,921.18 C535.87,923.83 533.95,925.75 532.70,929.02 C531.45,932.29 530.28,937.02 529.80,940.78 C529.32,944.54 529.32,947.80 529.80,951.56 C530.28,955.32 531.55,959.40 532.70,963.32 C533.85,967.24 535.88,971.81 536.70,975.08 C537.52,978.35 537.40,980.63 537.60,982.92 C537.80,985.21 537.98,985.86 537.90,988.80 C537.82,991.74 537.58,997.29 537.10,1000.56 C536.62,1003.83 535.35,1007.09 535.00,1008.40 Z" fill="#D5398A" stroke="#000" stroke-width="1.35" stroke-linejoin="round"/>
<path d="M576.70,1008.40 C576.25,1007.42 574.87,1004.68 574.00,1002.52 C573.13,1000.36 571.72,998.40 571.50,995.46 C571.28,992.52 572.03,989.26 572.70,984.88 C573.37,980.50 574.45,974.75 575.50,969.20 C576.55,963.65 578.80,956.46 579.00,951.56 C579.20,946.66 577.75,943.56 576.70,939.80 C575.65,936.04 574.23,932.61 572.70,929.02 C571.17,925.43 568.37,920.04 567.50,918.24 C566.63,920.04 563.83,925.43 562.30,929.02 C560.77,932.61 559.35,936.04 558.30,939.80 C557.25,943.56 555.80,946.66 556.00,951.56 C556.20,956.46 558.45,963.65 559.50,969.20 C560.55,974.75 561.63,980.50 562.30,984.88 C562.97,989.26 563.72,992.52 563.50,995.46 C563.28,998.40 561.87,1000.36 561.00,1002.52 C560.13,1004.68 558.75,1007.42 558.30,1008.40 Z" fill="#6D65A6" stroke="#000" stroke-width="1.35" stroke-linejoin="round"/>
<path d="M599.90,1008.40 C599.43,1007.42 598.05,1004.48 597.10,1002.52 C596.15,1000.56 594.50,999.25 594.20,996.64 C593.90,994.03 594.53,990.43 595.30,986.84 C596.07,983.25 597.17,979.98 598.80,975.08 C600.43,970.18 604.53,962.34 605.10,957.44 C605.67,952.54 603.35,949.60 602.20,945.68 C601.05,941.76 599.63,937.42 598.20,933.92 C596.77,930.42 594.37,926.24 593.60,924.71 C592.83,926.24 590.43,930.42 589.00,933.92 C587.57,937.42 586.15,941.76 585.00,945.68 C583.85,949.60 581.53,952.54 582.10,957.44 C582.67,962.34 586.77,970.18 588.40,975.08 C590.03,979.98 591.13,983.25 591.90,986.84 C592.67,990.43 593.30,994.03 593.00,996.64 C592.70,999.25 591.05,1000.56 590.10,1002.52 C589.15,1004.48 587.77,1007.42 587.30,1008.40 Z" fill="#A38FD9" stroke="#000" stroke-width="1.35" stroke-linejoin="round"/>
<path d="M630.60,1008.40 C629.73,1007.42 627.07,1004.48 625.40,1002.52 C623.73,1000.56 620.98,999.25 620.60,996.64 C620.22,994.03 621.92,990.43 623.10,986.84 C624.28,983.25 626.35,979.00 627.70,975.08 C629.05,971.16 630.72,967.24 631.20,963.32 C631.68,959.40 631.57,955.48 630.60,951.56 C629.63,947.64 627.12,943.07 625.40,939.80 C623.68,936.53 621.25,933.99 620.30,931.96 C619.35,929.93 619.80,928.37 619.70,927.65 C619.60,928.37 620.05,929.93 619.10,931.96 C618.15,933.99 615.72,936.53 614.00,939.80 C612.28,943.07 609.77,947.64 608.80,951.56 C607.83,955.48 607.72,959.40 608.20,963.32 C608.68,967.24 610.35,971.16 611.70,975.08 C613.05,979.00 615.12,983.25 616.30,986.84 C617.48,990.43 619.18,994.03 618.80,996.64 C618.42,999.25 615.67,1000.56 614.00,1002.52 C612.33,1004.48 609.67,1007.42 608.80,1008.40 Z" fill="#CBCBF3" stroke="#000" stroke-width="1.35" stroke-linejoin="round"/>
<line x1="473.4" y1="908.3" x2="473.4" y2="1013.9" stroke="#000" stroke-width="1.5"/>
<line x1="472.7" y1="1013.2" x2="635.0" y2="1013.2" stroke="#000" stroke-width="1.5"/>
<line x1="489.0" y1="1013.2" x2="489.0" y2="1018.4" stroke="#000" stroke-width="1.4"/>
<line x1="515.2" y1="1013.2" x2="515.2" y2="1018.4" stroke="#000" stroke-width="1.4"/>
<line x1="541.3" y1="1013.2" x2="541.3" y2="1018.4" stroke="#000" stroke-width="1.4"/>
<line x1="567.5" y1="1013.2" x2="567.5" y2="1018.4" stroke="#000" stroke-width="1.4"/>
<line x1="593.6" y1="1013.2" x2="593.6" y2="1018.4" stroke="#000" stroke-width="1.4"/>
<line x1="619.7" y1="1013.2" x2="619.7" y2="1018.4" stroke="#000" stroke-width="1.4"/>
<line x1="468.4" y1="1008.4" x2="473.4" y2="1008.4" stroke="#000" stroke-width="1.4"/>
<text x="465.9" y="1014.9" font-size="18.5" text-anchor="end" fill="#000" stroke="#000" stroke-width="0.3">0</text>
<line x1="468.4" y1="988.8" x2="473.4" y2="988.8" stroke="#000" stroke-width="1.4"/>
<text x="465.9" y="995.3" font-size="18.5" text-anchor="end" fill="#000" stroke="#000" stroke-width="0.3">1</text>
<line x1="468.4" y1="969.2" x2="473.4" y2="969.2" stroke="#000" stroke-width="1.4"/>
<text x="465.9" y="975.7" font-size="18.5" text-anchor="end" fill="#000" stroke="#000" stroke-width="0.3">2</text>
<line x1="468.4" y1="949.6" x2="473.4" y2="949.6" stroke="#000" stroke-width="1.4"/>
<text x="465.9" y="956.1" font-size="18.5" text-anchor="end" fill="#000" stroke="#000" stroke-width="0.3">3</text>
<line x1="468.4" y1="930.0" x2="473.4" y2="930.0" stroke="#000" stroke-width="1.4"/>
<text x="465.9" y="936.5" font-size="18.5" text-anchor="end" fill="#000" stroke="#000" stroke-width="0.3">4</text>
<line x1="468.4" y1="910.4" x2="473.4" y2="910.4" stroke="#000" stroke-width="1.4"/>
<text x="465.9" y="916.9" font-size="18.5" text-anchor="end" fill="#000" stroke="#000" stroke-width="0.3">5</text>
<text x="762.2" y="896.4" font-size="18.5" text-anchor="middle" fill="#000" stroke="#000" stroke-width="0.3">PMAIP1</text>
<line x1="691.7" y1="1008.4" x2="715.9" y2="1008.4" stroke="#000" stroke-width="1.5"/>
<line x1="703.8" y1="1008.4" x2="703.8" y2="942.3" stroke="#000" stroke-width="1.4"/>
<path d="M741.70,1008.40 C741.47,1008.25 740.82,1007.89 740.30,1007.49 C739.78,1007.08 739.27,1006.47 738.60,1005.96 C737.93,1005.45 737.08,1004.96 736.30,1004.44 C735.52,1003.91 734.63,1003.34 733.90,1002.81 C733.17,1002.29 732.38,1001.80 731.90,1001.29 C731.42,1000.78 731.22,1000.27 731.00,999.76 C730.78,999.26 730.72,1001.12 730.60,998.24 C730.48,995.36 730.03,987.37 730.30,982.48 C730.57,977.59 732.10,973.19 732.20,968.87 C732.30,964.55 731.27,961.85 730.90,956.56 C730.53,951.27 730.20,944.36 730.00,937.12 C729.80,929.88 729.75,917.14 729.70,913.14 C729.65,917.14 729.60,929.88 729.40,937.12 C729.20,944.36 728.87,951.27 728.50,956.56 C728.13,961.85 727.10,964.55 727.20,968.87 C727.30,973.19 728.83,977.59 729.10,982.48 C729.37,987.37 728.92,995.36 728.80,998.24 C728.68,1001.12 728.62,999.26 728.40,999.76 C728.18,1000.27 727.98,1000.78 727.50,1001.29 C727.02,1001.80 726.23,1002.29 725.50,1002.81 C724.77,1003.34 723.88,1003.91 723.10,1004.44 C722.32,1004.96 721.47,1005.45 720.80,1005.96 C720.13,1006.47 719.62,1007.08 719.10,1007.49 C718.58,1007.89 717.93,1008.25 717.70,1008.40 Z" fill="#D15C16" stroke="#000" stroke-width="1.35" stroke-linejoin="round"/>
<line x1="743.7" y1="1008.4" x2="767.9" y2="1008.4" stroke="#000" stroke-width="1.5"/>
<line x1="755.8" y1="1008.4" x2="755.8" y2="921.9" stroke="#000" stroke-width="1.4"/>
<line x1="769.8" y1="1008.4" x2="794.0" y2="1008.4" stroke="#000" stroke-width="1.5"/>
<line x1="781.9" y1="1008.4" x2="781.9" y2="918.0" stroke="#000" stroke-width="1.4"/>
<line x1="796.0" y1="1008.4" x2="820.2" y2="1008.4" stroke="#000" stroke-width="1.5"/>
<line x1="808.1" y1="1008.4" x2="808.1" y2="924.2" stroke="#000" stroke-width="1.4"/>
<line x1="822.1" y1="1008.4" x2="846.3" y2="1008.4" stroke="#000" stroke-width="1.5"/>
<line x1="834.2" y1="1008.4" x2="834.2" y2="919.9" stroke="#000" stroke-width="1.4"/>
<line x1="688.0" y1="908.3" x2="688.0" y2="1013.9" stroke="#000" stroke-width="1.5"/>
<line x1="687.3" y1="1013.2" x2="850.0" y2="1013.2" stroke="#000" stroke-width="1.5"/>
<line x1="703.8" y1="1013.2" x2="703.8" y2="1018.4" stroke="#000" stroke-width="1.4"/>
<line x1="729.7" y1="1013.2" x2="729.7" y2="1018.4" stroke="#000" stroke-width="1.4"/>
<line x1="755.8" y1="1013.2" x2="755.8" y2="1018.4" stroke="#000" stroke-width="1.4"/>
<line x1="781.9" y1="1013.2" x2="781.9" y2="1018.4" stroke="#000" stroke-width="1.4"/>
<line x1="808.1" y1="1013.2" x2="808.1" y2="1018.4" stroke="#000" stroke-width="1.4"/>
<line x1="834.2" y1="1013.2" x2="834.2" y2="1018.4" stroke="#000" stroke-width="1.4"/>
<line x1="683.0" y1="1008.4" x2="688.0" y2="1008.4" stroke="#000" stroke-width="1.4"/>
<text x="680.5" y="1014.9" font-size="18.5" text-anchor="end" fill="#000" stroke="#000" stroke-width="0.3">0</text>
<line x1="683.0" y1="976.0" x2="688.0" y2="976.0" stroke="#000" stroke-width="1.4"/>
<text x="680.5" y="982.5" font-size="18.5" text-anchor="end" fill="#000" stroke="#000" stroke-width="0.3">1</text>
<line x1="683.0" y1="943.6" x2="688.0" y2="943.6" stroke="#000" stroke-width="1.4"/>
<text x="680.5" y="950.1" font-size="18.5" text-anchor="end" fill="#000" stroke="#000" stroke-width="0.3">2</text>
<line x1="683.0" y1="911.2" x2="688.0" y2="911.2" stroke="#000" stroke-width="1.4"/>
<text x="680.5" y="917.7" font-size="18.5" text-anchor="end" fill="#000" stroke="#000" stroke-width="0.3">3</text>
<text x="12.5" y="788.3" font-size="18.5" text-anchor="middle" fill="#000" stroke="#000" stroke-width="0.3" transform="rotate(-90 12.5 788.3)">Expression level</text>
<text x="12.5" y="958.4" font-size="18.5" text-anchor="middle" fill="#000" stroke="#000" stroke-width="0.3" transform="rotate(-90 12.5 958.4)">Expression level</text>
<text x="7.0" y="695.0" font-size="27" text-anchor="start" fill="#000" font-weight="bold">f</text>
<rect x="877.6" y="787.6" width="18.4" height="18.4" fill="#47A27F" stroke="#333" stroke-width="1.3"/>
<text x="906.4" y="802.1" font-size="18.5" text-anchor="start" fill="#000" stroke="#000" stroke-width="0.3">HC</text>
<rect x="877.6" y="808.0" width="18.4" height="18.4" fill="#D15C16" stroke="#333" stroke-width="1.3"/>
<text x="906.4" y="822.6" font-size="18.5" text-anchor="start" fill="#000" stroke="#000" stroke-width="0.3">Asymptomatic</text>
<rect x="877.6" y="828.4" width="18.4" height="18.4" fill="#D5398A" stroke="#333" stroke-width="1.3"/>
<text x="906.4" y="842.2" font-size="18.5" text-anchor="start" fill="#000" stroke="#000" stroke-width="0.3">Severe</text>
<rect x="877.6" y="848.8" width="18.4" height="18.4" fill="#6D65A6" stroke="#333" stroke-width="1.3"/>
<text x="906.4" y="862.8" font-size="18.5" text-anchor="start" fill="#000" stroke="#000" stroke-width="0.3">&lt;10</text>
<rect x="877.6" y="869.2" width="18.4" height="18.4" fill="#A38FD9" stroke="#333" stroke-width="1.3"/>
<text x="906.4" y="882.8" font-size="18.5" text-anchor="start" fill="#000" stroke="#000" stroke-width="0.3">10&#8722;20</text>
<rect x="877.6" y="889.6" width="18.4" height="18.4" fill="#CBCBF3" stroke="#333" stroke-width="1.3"/>
<text x="906.4" y="903.3" font-size="18.5" text-anchor="start" fill="#000" stroke="#000" stroke-width="0.3">&gt;20</text>
<line x1="967.5" y1="850.2" x2="967.5" y2="904.5" stroke="#000" stroke-width="1.4"/>
<text x="970.6" y="882.8" font-size="18.5" text-anchor="start" fill="#000" stroke="#000" stroke-width="0.3">Moderate*</text>
<text x="875.4" y="933.5" font-size="17" text-anchor="start" fill="#000" stroke="#000" stroke-width="0.3">*</text>
<text x="884.9" y="939.1" font-size="18.5" text-anchor="start" fill="#000" stroke="#000" stroke-width="0.3">Days after</text>
<text x="884.9" y="961.2" font-size="18.5" text-anchor="start" fill="#000" stroke="#000" stroke-width="0.3">symptom onset</text>
</svg>
</body></html>
